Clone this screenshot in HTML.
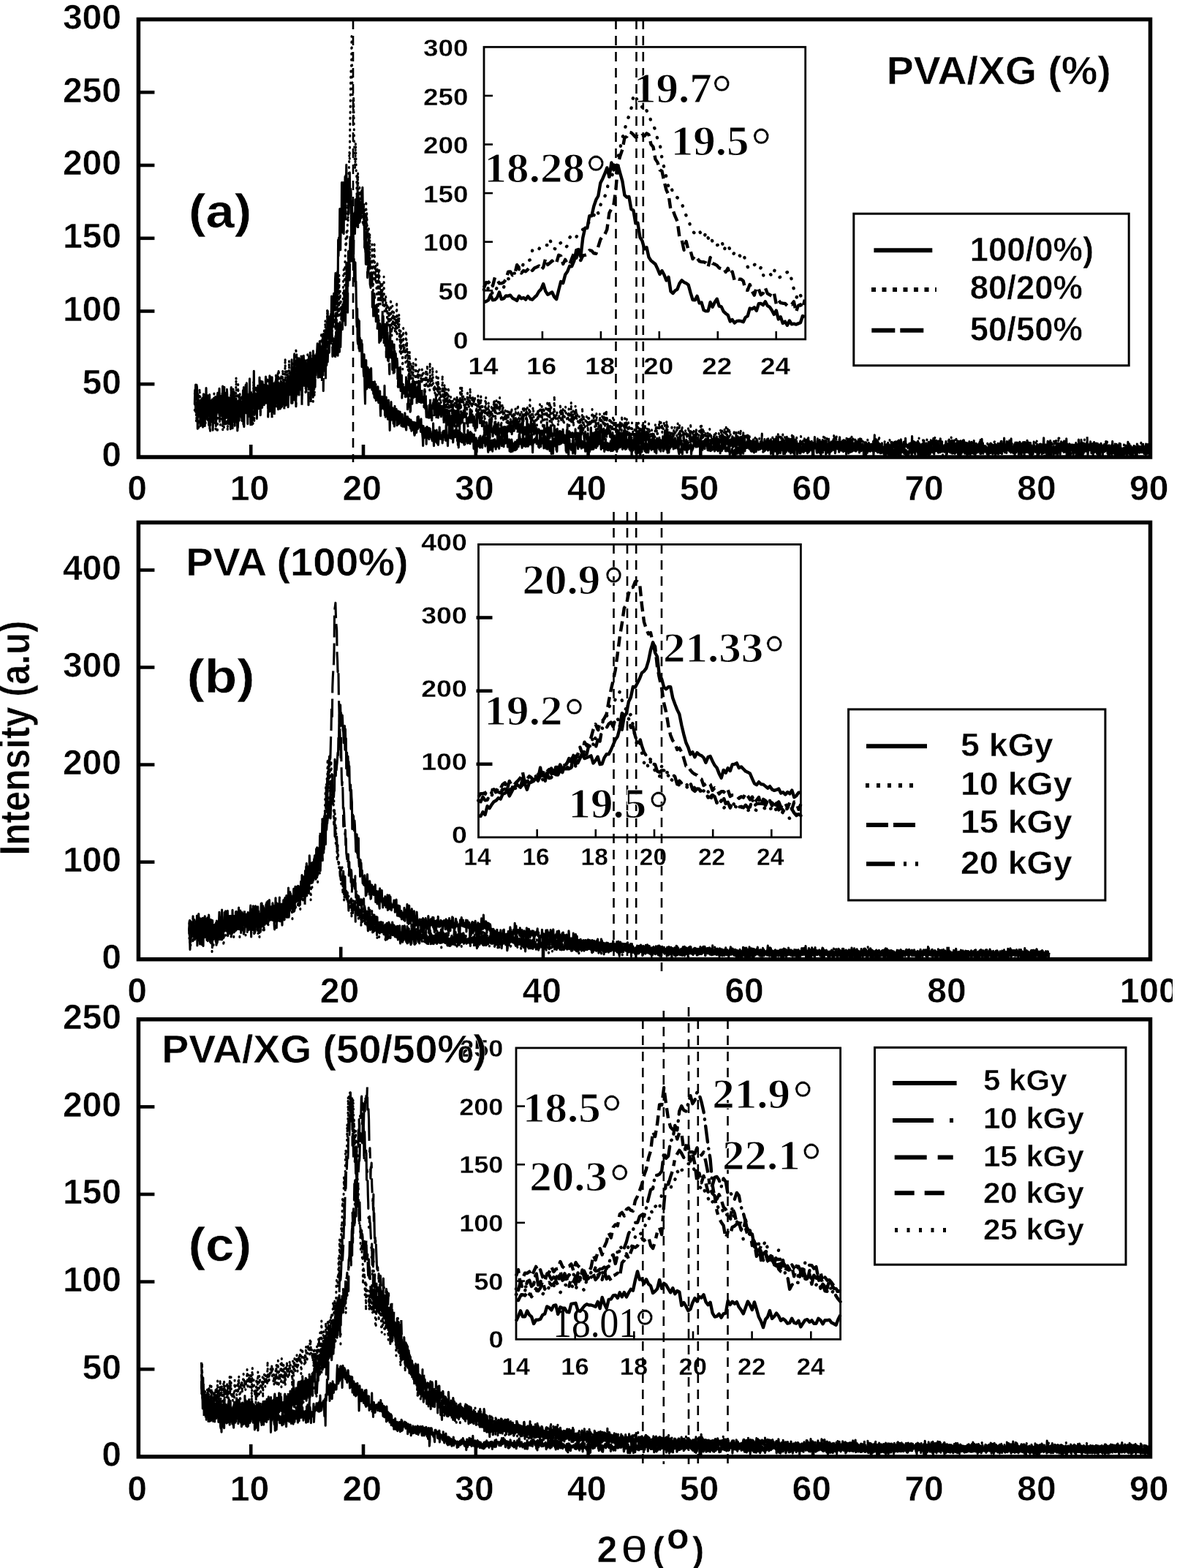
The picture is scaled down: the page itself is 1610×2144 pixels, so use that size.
<!DOCTYPE html>
<html><head><meta charset="utf-8"><title>XRD patterns</title>
<style>html,body{margin:0;padding:0;background:#fff;}svg{display:block;}text{stroke:#fff;stroke-width:0.5px;stroke-linejoin:round;}text.sf{stroke-width:1px;}text.th{stroke-width:0.3px;}text.ns{stroke:none;}</style>
</head><body><svg xmlns="http://www.w3.org/2000/svg" width="1610" height="2144" viewBox="0 0 1610 2144"><path d="M266.3 539.3l.4-3.3 .5 4.8 .4-14.8 .5 12.7 .4-3.2 .5-9.1 .4 2.3 .5 8.1 .4 16.4 .5 5.9 .4 2 .5-6.7 .4-3.8 .5 15.7 .4 3.4 .5-22.3 .4 35 .5-26.1 .4-9.1 .5 22.6 .4 2.2 .5-5.4 .4-22 .5 12.2 .4 27.1 .5-22.6 .4-22.4 .5 .4 .4 5.4 .5 13.3 .4 24.5 .5-30.9 .4 5.2 .5-3.9 .4-22.3 .5 20.7 .4-1.3 .5-4.8 .4 13.2 .5 6.3 .5 1.4 .4-22 .5 4.3 .4 15.1 .5-23.9 .4 14.6 .5 22.6 .4-28.2 .5 11 .4 17.3 .5-26.7 .4 12.4 .5 .5 .4-14.3 .5 39.5 .4-13.5 .5-12.7 .4-10.2 .5 12.3 .4 4 .5 .1 .4-13.9 .5-11.8 .4 29.1 .5 8.2 .4-25.5 .5 .7 .4 6.8 .5-21.6 .4-2.9 .5 18.7 .4-3.2 .5-12.7 .4 13.9 .5 13.5 .4-18.2 .5 11.7 .4-16.6 .5 11.8 .4-4 .5-9.4 .4 9.3 .5 7.4 .4 5.5 .5-37 .4 8.8 .5 36.1 .4-5.9 .5-22 .4 16.4 .5-7.9 .4-10.6 .5 9.7 .4 3.8 .5 5 .4-4.9 .5-6.2 .4-18 .5 9.3 .4 17.4 .5-14.9 .4 11 .5 21.9 .4-18.5 .5-14.7 .4 21.6 .5-20.7 .4 16.9 .5-4.5 .4 16.4 .5-44.1 .4 21.9 .5-7.6 .4 19.8 .5 13.7 .4-36.1 .5 26.1 .4-32 .5 24.8 .4-24.1 .5 32 .4 14.2 .5-33.2 .4 10.6 .5-.6 .4-14.1 .5 26.4 .4 5.7 .5-1.5 .4 7 .5 1.7 .4-7.2 .5-4.5 .4-7.2 .5 9.9 .4-14.8 .5-12.4 .4 12.8 .5-9.1 .4 17.5 .5-16.9 .4-3 .5 14.5 .4 11.4 .5-18.8 .4-3 .5-19.9 .4 24.2 .5-28.1 .4 53.9 .5-28.6 .4 2.1 .5-1.8 .4 1.7 .5-6.7 .4-22.9 .5 23.7 .4-18.2 .5 16.9 .4-3 .5 32.9 .4-33.2 .5-7.2 .4 22.8 .5-7.3 .4 2.9 .5-39.9 .4 40.8 .5-3.8 .4 26 .5-15.3 .4-23.8 .5 19.4 .4 19.4 .5-32.7 .4-5.2 .5-2.2 .4-1.3 .5 12.9 .4-44.6 .5 44.1 .4-12.8 .5 22.6 .4-8.2 .5 12 .4-22.4 .5 8.3 .4 8.2 .5 13.3 .4-32.9 .5-3.1 .4 .1 .5 12.3 .4-9.8 .5-2.7 .4 5.3 .5-11.8 .4 20.5 .5-4.8 .4 22.1 .5-46.6 .4 36.4 .5-14.1 .4-4.1 .5 18.2 .4-10.2 .5-9.7 .4 9.6 .5 2.2 .4-.3 .5 4.6 .4-7.3 .5-7.2 .4-1.5 .5-8.6 .4 12.9 .5 6.8 .4-17.8 .5 5.7 .4-8.8 .5 9.9 .4-5 .5 1.3 .4-4.9 .5 21.2 .4-11.8 .5-4.3 .4-20.3 .5 22.4 .4-7.4 .5 7.6 .4 23.6 .5-43.1 .4 6.8 .5-7.9 .4 33.1 .5-21.6 .4 1 .5 22.1 .4-26.3 .5 13.7 .4-14.2 .5 27.7 .4-10 .5-2 .4 10.7 .5-20 .4-15.8 .5 17.5 .4-7.8 .5-10.3 .4 12.6 .5 12.8 .4 20.7 .5-28.5 .4 9.6 .5 2.3 .4-14.7 .5 2.8 .4 27.7 .5-23.1 .4 7.5 .5-15.1 .4 11.4 .5-12.4 .4 20.5 .5-3.6 .4 1.6 .5-5.1 .4 .5 .5-19.1 .4 27.8 .5-14.4 .4 15.8 .5 3.1 .4-11.6 .5 11.5 .4-22.5 .5 11.4 .4-3.1 .5-13.4 .4-15 .5 26.8 .4 18.1 .5-21 .4-5.7 .5-15.6 .4 14.9 .5 10.6 .4-24.3 .5-2.6 .4 16.4 .5-6.6 .4-1.3 .5-29.7 .4 41.7 .5-2.7 .4-4.4 .5-11.1 .4 13.2 .5-11 .4-5.3 .5-14.4 .4 28.2 .5 2.1 .4 .3 .5 20.3 .4-9 .5-17.6 .4-.1 .5-32.5 .4 17.8 .5 6 .4-9.6 .5 27.9 .4-1.5 .5 1.8 .4-8.5 .5-31.7 .4 31.5 .5 4.1 .4-10.1 .5-11.6 .4 3.7 .5-6 .4 26.7 .5-5.4 .4-9.3 .5-5.1 .4-17.7 .5 34.8 .4-26 .5 11.4 .4-11.6 .5 17 .4 9.8 .5-34.8 .4 12.1 .5 30.2 .4-35.6 .5 23.2 .4-12 .5-1.1 .4 18.3 .5-33.2 .4 22.3 .5-29.3 .4 15.5 .5-.6 .4 3 .5-23.7 .4 40.4 .5-4 .4-2.4 .5-25.8 .4 .4 .5 12.2 .4-3.7 .5 25.3 .4-44.6 .5 22.4 .4-6.1 .5 4.7 .4-14.5 .5 11 .4-5.6 .5-.4 .4 7.7 .5 .9 .4-14.5 .5-.2 .4-5.2 .5-10.3 .4 37.9 .5 8.6 .4-20.4 .5-24 .4 18.6 .5 25.2 .4-49.2 .5 15.2 .4 28.3 .5-10.1 .4-14.2 .5 8.7 .4-7.1 .5-10.7 .4 6.2 .5-21.7 .4 21.8 .5-26.4 .4 29 .5 6.9 .4 12.1 .5-20.3 .4-16.3 .5-15.1 .5 64.2 .4-53.4 .5 12.1 .4-27.6 .5 16.7 .4-14.4 .5-25 .4 24.5 .5 2.9 .4-19.5 .5 9.3 .4 6.4 .5 20.9 .4-21.2 .5 19.5 .4-31.4 .5-7.6 .4 6.5 .5-30.7 .4 46.9 .5-27.3 .4 4.2 .5 18.2 .4-30.2 .5-7.9 .4-7.6 .5 19.2 .4-16.6 .5 19.3 .4-40.6 .5-9.1 .4 24.9 .5-5.2 .4 18.7 .5-24.6 .4 1.3 .5-17.4 .4 23.5 .5-67 .4 22.2 .5-24.9 .4 3.7 .5 7.9 .4-51 .5 9.4 .4 46.7 .5-34.4 .4 .1 .5 7.5 .4-65.4 .5 65.8 .4-61.2 .5 64 .4-68.5 .5 36.6 .4 33.4 .5-55.9 .4-6.6 .5 28 .4-43.5 .5 58.4 .4-60.2 .5 11.3 .4-25.8 .5 46.4 .4-27.2 .5 31.1 .4-29.7 .5 12.5 .4-11.3 .5 44.6 .4-36.6 .5 3.5 .4-22.8 .5 39.9 .4-1.9 .5-15.5 .4 4.4 .5 66.8 .4-40 .5-14.8 .4 34.3 .5 40.2 .4-18.7 .5 4.9 .4 28.3 .5-9.7 .4 30.5 .5-8.2 .4 3.6 .5-21.1 .4 33.3 .5-7.4 .4 25.7 .5 29.6 .4 7 .5-24.9 .4 43.5 .5 4.8 .4-33.9 .5 30.9 .4 9.2 .5-37.9 .4 41.3 .5-18.2 .4 12.8 .5 .8 .4 4.4 .5-10.7 .4-3.7 .5 36.2 .4-31.4 .5 26.3 .4 1.7 .5-9.2 .4 18.6 .5 7 .4-30 .5 29.3 .4 21.6 .5 16.5 .4-44.7 .5 7.5 .4-22.2 .5 37.5 .4 1.7 .5-14.4 .4-15 .5 .2 .4 17.7 .5 9.1 .4-8.5 .5-15.7 .4 19.9 .5 5.1 .4-9.8 .5 3.6 .4 1.6 .5-22.1 .4 16.8 .5 6.9 .4 5.9 .5-.4 .4-8.3 .5-1.9 .4 15.8 .5-.6 .4-2.2 .5 8.1 .4-21.8 .5 22.7 .4-10.8 .5-8.3 .4 22.2 .5-.6 .4-6.8 .5-6.1 .4 4.3 .5 2.2 .4-11.9 .5 20.1 .4 1.8 .5-13.3 .4 6.3 .5-8 .4-.7 .5 23.1 .4 10.8 .5-26.5 .4 6.7 .5-2.6 .4 12.6 .5-16.7 .4 10.9 .5-7.2 .4-3.1 .5 8.4 .4 2.5 .5 6.4 .4-32.8 .5 40.4 .4-19.7 .5 22.1 .4-6 .5-21.1 .4 21.3 .5-16.6 .4 14.5 .5-11.5 .4 22.5 .5-2.2 .4-24 .5 11.1 .4 13.3 .5-4.9 .4 21.9 .5-22.8 .4 9.6 .5-3.1 .4-22.7 .5 19 .4 .8 .5 4.6 .4-16.2 .5 1.2 .4 12.8 .5 7.6 .4-12.8 .5-2.8 .4 19.2 .5-27.7 .4 18.7 .5-8.6 .4 8.2 .5 .2 .4-14.4 .5 7.8 .4 14.7 .5-15.7 .4-3.5 .5 9.4 .4-10 .5 18 .4-15.4 .5 7 .4 1.1 .5-9.6 .4 6.4 .5 9 .4-6.4 .5 10.2 .4-9.6 .5-6.5 .4 1 .5 16 .4-3.8 .5-7.2 .4 .4 .5 10.8 .4-7.8 .5-1.5 .4-9.2 .5 10.3 .4 2.5 .5 8 .4 2.3 .5-18.2 .4 6.8 .5 4.2 .4-11 .5 4 .4 4.8 .5-6.2 .4 9.1 .5-8.4 .4 3 .5 6.6 .4 .2 .5 3 .4-11.9 .5 8.2 .4 7.1 .5-12.7 .4 2.2 .5 3.8 .4-1.1 .5 4.6 .4 1.8 .5-10.5 .4 14.8 .5 3.1 .4-1.5 .5-16.1 .4 14.2 .5-5.8 .4 3.3 .5 2.1 .4-6.2 .5-.3 .4-15 .5 16.5 .4-4.3 .5-12.6 .4 4.3 .5 5.8 .4-2 .5 6.8 .4-6 .5 4.1 .4 7.9 .5-17.8 .4 12.5 .5-3.8 .4 7.9 .5 5.2 .4 4.1 .5 11 .4-27.1 .5 16.7 .4-8.2 .5-3.5 .4 10.6 .5-6.5 .4-6 .5 4.6 .4-5.4 .5 22.5 .4-22.2 .5-1.6 .4 15.3 .5-14.2 .4 8.1 .5-.8 .4-5.2 .5 14.1 .4-15.5 .5 10.7 .4-10 .5 6.1 .4-2.2 .5 7.8 .4-5.1 .5 7.9 .4-2.9 .5 5.2 .4-8.6 .5 6.6 .4-22 .5 22 .4 9 .5-21.5 .4 10.2 .5-5.4 .4 3.1 .5 5.9 .4-1 .5 3.3 .4-16.4 .5 5.2 .4 13.1 .5-15.1 .4 2.7 .5 14.6 .4-5.4 .5-8 .4 .7 .5-11.7 .4 13.3 .5-6.3 .4 9.1 .5-2.6 .4-1 .5 .2 .4-2.1 .5 .5 .4 10.8 .5-15.4 .4 11.6 .5-13 .5 .9 .4-.6 .5 8.1 .4-5.9 .5-3 .4 7.9 .5 5.8 .4-20.6 .5 12.4 .4 1.5 .5 3.2 .4 1.4 .5 9.3 .4-10.2 .5 .1 .4-1.2 .5-17.6 .4 13.3 .5 2 .4-2.7 .5 5.6 .4-12.7 .5 .7 .4 12.8 .5-10.7 .4 1.8 .5-11.6 .4 8.9 .5 16.8 .4-6 .5-7.4 .4 1.6 .5-4.1 .4 8.8 .5-2.4 .4-7.4 .5 5.4 .4 4 .5-14.9 .4 15.4 .5-1.4 .4 6.4 .5-6.8 .4 12.4 .5-19.9 .4 23.3 .5-18.8 .4 10.8 .5-7.2 .4-6.9 .5 9.4 .4-2.8 .5 7.2 .4-1.8 .5-9.2 .4 12 .5-9.7 .4 4.2 .5 3.6 .4-8.2 .5 11.4 .4-7.7 .5 9.9 .4-6.4 .5 6.1 .4-8.7 .5-4.3 .4-.6 .5 3.4 .4 1.3 .5 4.1 .4-.4 .5 3.5 .4-17.8 .5 12.8 .4 .4 .5-1.6 .4 5.8 .5-14.5 .4 12.4 .5 3.2 .4-16.2 .5 3.4 .4 3.2 .5 6.7 .4-11.4 .5 8.4 .4-1.5 .5-5.2 .4 5.7 .5 3.6 .4 9.9 .5-19.3 .4 19.9 .5-8.6 .4 1 .5-2 .4-.7 .5-4.9 .4 4.8 .5 14.5 .4-15.9 .5 7.1 .4-4.2 .5 5.2 .4-6.4 .5 1 .4-6 .5 2.1 .4-2.8 .5 14.1 .4-16.3 .5 10.9 .4-5.3 .5-1.3 .4-.5 .5 5.1 .4 7.2 .5-12.8 .4-2.6 .5 .4 .4 .2 .5-2.7 .4 3.9 .5 7.6 .4-6.4 .5 10.5 .4-5.9 .5-.8 .4-5.5 .5 8.2 .4-.3 .5 2 .4-5.6 .5 12.7 .4 3.2 .5-21.8 .4 2.7 .5 3.4 .4 1.9 .5 5.6 .4 5.3 .5-10.7 .4 8.9 .5-11.5 .4 3.9 .5 9.3 .4-9.3 .5 11.2 .4-5.9 .5-9.4 .4 9.1 .5-2.5 .4 1.8 .5-.8 .4-8.5 .5 2.6 .4-.5 .5 11.1 .4-7.3 .5 2.7 .4-5.1 .5 6.2 .4-11.1 .5-9.5 .4 13.9 .5 3.8 .4-7.5 .5 13.3 .4-6 .5-7.7 .4 6.8 .5-1.9 .4-7.7 .5 6.2 .4-1.9 .5 8.5 .4-17 .5 13.7 .4-4.6 .5 2 .4 .7 .5 6.4 .4-5.4 .5-2.1 .4-7.1 .5 6.6 .4 3.1 .5-3.5 .4 .1 .5 1.5 .4-1.9 .5-7.3 .4 8.9 .5 7.2 .4-3.8 .5-1 .4 2.7 .5-4.4 .4-3.8 .5 16.1 .4-4.1 .5-2.9 .4-5.5 .5 13.6 .4-14.6 .5-2.3 .4 2.2 .5 5.4 .4 8.6 .5-4 .4 1 .5-3.9 .4-4.2 .5 1.8 .4 7.7 .5-10.1 .4-1.4 .5 11.2 .4-.4 .5-3 .4-4.7 .5 6.7 .4-12.2 .5 4.9 .4-4 .5 6.9 .4 1.2 .5-7.3 .4-9.2 .5 6.4 .4-3.4 .5 9.3 .4 .5 .5-3.1 .4-3.4 .5 3 .4 6.6 .5 2.1 .4-9.6 .5 2.4 .4-15.2 .5 17.7 .4 2.1 .5-8.6 .4 5.5 .5-1.7 .4-5 .5 10.7 .4-2.7 .5 1 .4 .2 .5-.1 .4-2.1 .5-8.8 .4 7.9 .5 4.3 .4-4.8 .5 2.6 .4-4.3 .5 .5 .4 3.5 .5-2.8 .4-4.9 .5-4.2 .4 7.2 .5-7.9 .4 1.4 .5 12.3 .4-4.4 .5 14.2 .4-11.5 .5-4.4 .4 3.3 .5-4.8 .4 2.3 .5-3.6 .4 4.5 .5-4.6 .4 1.7 .5-.4 .4-3.4 .5 9.1 .4-13.2 .5 9.6 .4-1.6 .5 3 .4 1.4 .5 5.1 .4-4.3 .5 5.2 .4-.6 .5-14.4 .4 8 .5 1.6 .4 3.8 .5-5.1 .4-.1 .5-3.3 .4 3.9 .5-1.7 .4-5.5 .5 3.4 .4-2.9 .5 13.8 .4-7.1 .5-7.8 .4 5.2 .5-6.8 .4 8.8 .5-7.6 .4 15.5 .5-5.7 .4-4.8 .5 7 .4 4.6 .5-14.6 .4-4.7 .5 7.8 .4 8.7 .5-6.4 .4 7.1 .5 4.2 .4-13.4 .5 .4 .4 2.7 .5 7.5 .4 6.8 .5-16 .4 3.6 .5-5.5 .4 13.7 .5 4.1 .4-17.1 .5-3.2 .4 2.4 .5 2.1 .4 2.3 .5-2.8 .4 6.2 .5-14.5 .4 2.5 .5 17.1 .4-15.9 .5 18 .4-13.9 .5 3 .4-9.8 .5 6.8 .4 1.5 .5-7.7 .4 10.3 .5-.1 .4-11.3 .5 4.6 .4 1.8 .5 4 .5-2.3 .4 1.4 .5-3.4 .4 .9 .5 1.8 .4-.2 .5-7.8 .4 4.5 .5 1.5 .4 2.7 .5-1.9 .4 1.9 .5-1.1 .4-1 .5 5.7 .4 .4 .5 9.1 .4-6.3 .5-6.1 .4-9.7 .5-.1 .4 12.1 .5 14.4 .4-16.5 .5-.3 .4-5.2 .5 11.5 .4-2.4 .5 0 .4-1.3 .5 6.4 .4-8.2 .5 5.4 .4-4.3 .5 1 .4 10.8 .5-12.7 .4 7.1 .5-1.1 .4-.6 .5 1.7 .4-6 .5 12 .4-10.4 .5-4.3 .4-1.6 .5-3.8 .4-.5 .5 .2 .4 6 .5 3 .4 4.8 .5-5.6 .4-3.2 .5 2.6 .4 3.1 .5-8.9 .4-4.5 .5 11.1 .4-7.6 .5 4.2 .4 8.2 .5-5.1 .4 4.2 .5-8.9 .4 .3 .5 4 .4 4.2 .5-3.8 .4 .9 .5-4.3 .4 .5 .5 1.9 .4 10.2 .5-9.5 .4-2 .5 7.2 .4 2.8 .5-8.5 .4 9.8 .5-3.4 .4-1.2 .5 3.4 .4 4.6 .5-18.4 .4 10.4 .5 5.2 .4-15.9 .5 7.9 .4-6.3 .5-1 .4 12.2 .5-8.3 .4-.4 .5 8 .4 .2 .5-10.4 .4 4.3 .5 6.2 .4-1.6 .5-4.2 .4 3.3 .5-13.3 .4-1.7 .5 6.4 .4 6.4 .5 2.9 .4-3 .5-14.9 .4 4.6 .5 10.9 .4-2.5 .5-7.2 .4 6.9 .5 .1 .4-4.7 .5-1.8 .4 4 .5-10.8 .4 10.5 .5 2.1 .4 7.8 .5-3.5 .4-4.7 .5 .7 .4 5.9 .5-20.3 .4 11.2 .5 1.3 .4 2.6 .5 .4 .4 9.4 .5-10.1 .4 5.7 .5 1.8 .4-14.5 .5 8.2 .4-1.3 .5 2.5 .4 1.9 .5 3.8 .4-9.6 .5 8.8 .4 1.1 .5 0 .4-7.7 .5-.6 .4-1 .5 4 .4 .1 .5-7.2 .4 13.4 .5-10.5 .4 2.3 .5 3.1 .4 1.7 .5 3.2 .4-.4 .5-1.8 .4-4.1 .5-11.9 .4 13.1 .5-2.5 .4 1.2 .5 4.7 .4-2.5 .5-12 .4 7.1 .5 7.4 .4 2.7 .5-16.7 .4 8.1 .5 5 .4-10.3 .5 4.9 .4 2 .5-2.8 .4-7 .5 11.3 .4-8.4 .5 3.2 .4 3.3 .5-10.1 .4 9.2 .5-2.4 .4 3.2 .5 4.1 .4-7.8 .5 6.8 .4-13.6 .5 1.1 .4 10.4 .5 .2 .4 1.3 .5-12.3 .4 14.2 .5-.2 .4-.6 .5-.1 .4-11.3 .5 9.2 .4-2.6 .5 2.1 .4 .1 .5-10.2 .4 1.1 .5 6.4 .4 5.9 .5-14.2 .4 10.9 .5 5.1 .4-.4 .5-4.1 .4-3.1 .5 16.6 .4-15 .5 2.1 .4-3 .5 6.8 .4-9.1 .5 7 .4-7.8 .5-5.9 .4 9.9 .5-.5 .4 .2 .5 9.6 .4-10.3 .5 9.5 .4 4.9 .5-11.8 .4-3.5 .5 7.4 .4 3.9 .5-14.4 .4 14.3 .5-12.8 .4 6.6 .5 4.1 .4-6.6 .5 13.4 .4-8.2 .5-3.3 .4 .5 .5-6.8 .4 11.7 .5-7.5 .4 3.6 .5-4.4 .4 1.8 .5-3.4 .4 6 .5-7.3 .4 6.7 .5 3.5 .4-3.8 .5-.5 .4-6.7 .5 12.7 .4-5.7 .5 5.9 .4-10.6 .5 .1 .4 .9 .5 9.6 .4-1.8 .5-4.9 .4-2.4 .5-1.9 .4 5.5 .5-3.2 .4 2.2 .5 .5 .4-.9 .5 3.3 .4-9.8 .5-2.2 .4 3.8 .5 4.8 .4-9.1 .5 11.5 .4-10 .5 .9 .4-1.1 .5 14 .4-9.8 .5 4 .4-6 .5 2.8 .4 10.9 .5-13.1 .4-5.5 .5 6.2 .4-1.5 .5 2.7 .4-1.8 .5 4.9 .4-10.4 .5-3.1 .4 14.3 .5-5.7 .4 4.2 .5-9.4 .4 6.6 .5-2.8 .4 4.9 .5-5.9 .4 1.6 .5 2.1 .4-.9 .5 9.6 .4-10.7 .5 8.8 .4-1.9 .5-2.8 .4-3.1 .5-.7 .4 2.9 .5 .3 .4-2.1 .5 7.2 .4-3.9 .5 3.4 .4 4.9 .5-2.6 .4-10.4 .5 7.8 .4 4.9 .5-8 .4 2.9 .5-.7 .4-.8 .5-3 .4 .2 .5 1.6 .4-1.8 .5 1.2 .4-2.2 .5-1.8 .4 3.5 .5-9.5 .4 13.5 .5-2.3 .4-1.5 .5-7.1 .4 1.5 .5 2.9 .4 5.4 .5-5.5 .4 2.4 .5 1.3 .4-6.7 .5-1.1 .4 5.7 .5 4.7 .4-3.7 .5 6 .4 2.7 .5 2 .5-6.7 .4 .6 .5 2.3 .4-.9 .5-.8 .4 3.4 .5-6.5 .4-5.7 .5 8.1 .4 6.5 .5-7.6 .4-1.5 .5-2.2 .4-2.3 .5 .9 .4-1.6 .5 4.8 .4-2.2 .5 4.5 .4-1.1 .5-5.9 .4 4.5 .5 5.5 .4 2.2 .5-11.8 .4 5 .5 .9 .4 1.4 .5-5.2 .4 2.4 .5 1 .4 .4 .5-.3 .4-4.6 .5 3.4 .4-4.9 .5 14.5 .4-5.3 .5-6.9 .4 6.9 .5-2.6 .4 .5 .5-2.4 .4-1.3 .5-7.7 .4 3.9 .5 3.2 .4-2 .5-.5 .4 2 .5 2.2 .4-5.1 .5-1.3 .4 5.6 .5-2.7 .4-2.7 .5 0 .4-5.9 .5 8.5 .4 2 .5-5.2 .4 6.6 .5-3.3 .4 7.5 .5-10.1 .4-8 .5 12.1 .4 0 .5-3.9 .4-1.6 .5 11.6 .4-5.9 .5-1.4 .4 .5 .5-1 .4 2 .5 .4 .4 3.8 .5-12.3 .4 7.3 .5-4.9 .4 5.3 .5-.8 .4 1.1 .5-3.1 .4 2.4 .5 7 .4-18.1 .5 10.7 .4 4.1 .5 3.6 .4-2.9 .5-2.3 .4 3.1 .5-6.4 .4 9.2 .5-6.9 .4-.4 .5 5.7 .4 .3 .5-.8 .4-4.1 .5 2.3 .4 .2 .5-2.7 .4-3.7 .5 7.8 .4 2.5 .5-4.3 .4 0 .5-5.8 .4 1.5 .5 3.1 .4 3.8 .5-8.8 .4 8.1 .5-4.6 .4-.3 .5-1.7 .4 6.7 .5-9.8 .4 2.5 .5 5.5 .4-.3 .5 7.3 .4-9.4 .5-1.1 .4 6.2 .5-3.7 .4 4.7 .5-15.6 .4 13.5 .5-2.9 .4-1.9 .5 3.8 .4-3.4 .5-2.1 .4-4.8 .5 3.9 .4-4.9 .5 14.7 .4-1.6 .5 1.7 .4-4.6 .5 2.2 .4 0 .5-2.1 .4-.7 .5 5.2 .4-4.2 .5 1 .4 .9 .5-5.9 .4 13.2 .5-5.2 .4 .6 .5-.1 .4 .3 .5 1.5 .4-.4 .5-4.7 .4 .5 .5 7.8 .4 2.6 .5-5 .4 4.7 .5-8.2 .4-.2 .5 8.9 .4-10.1 .5 2.7 .4 4 .5-9.4 .4-5.2 .5 9.8 .4-1.8 .5 5.2 .4-6.5 .5 3.4 .4-4.7 .5 3.2 .4-2.3 .5 3.3 .4 3.6 .5-7.9 .4-6.1 .5 17.4 .4-11.5 .5 5.3 .4 1.6 .5-7.1 .4 1.3 .5-1.4 .4-1.1 .5 9.5 .4-14.6 .5 .5 .4 8.3 .5-2.6 .4 5 .5-6.2 .4 .6 .5-.7 .4 2 .5-3.4 .4 2 .5 1.2 .4-1.9 .5-1.4 .4-.2 .5 1.3 .4-4 .5 7.5 .4-6.9 .5 7.5 .4-.2 .5 .1 .4-5.2 .5 5.8 .4 2.6 .5-6 .4 5.3 .5-2.2 .4-.8 .5-.4 .4-4 .5 4.9 .4 4.8 .5-9 .4 6.4 .5 1.3 .4-3.4 .5-5.1 .4 8.5 .5-2.8 .4-7.8 .5-3.5 .4 6.8 .5-3.8 .4 2.4 .5 .8 .4 3.9 .5-4.9 .4 2.8 .5-1.3 .4-1.4 .5-.8 .4 5.2 .5-1.5 .4-4.9 .5-3.7 .4 6.7 .5-2.7 .4 .2 .5 5.5 .4-4.9 .5 6.3 .4 2.9 .5-3.1 .4-3.9 .5 5.2 .4-6.7 .5 6.4 .4-5.2 .5 3.2 .4-6.5 .5 7 .4-1 .5-.1 .4 3.6 .5-6.1 .4 5.3 .5-.2 .4-2.1 .5 0 .4-7.5 .5 7.7 .4-7.5 .5 14.9 .4-12 .5 3.6 .4-8.2 .5 12.2 .4-4.3 .5-.4 .4 10.5 .5-9.3 .4-12 .5 11.4 .4-3 .5 4.1 .4-6.5 .5 9.3 .4 1.2 .5-7.3 .4 8.5 .5-5.3 .4 8.5 .5-10.7 .4 4.6 .5-2.2 .4-.2 .5-.7 .4 3 .5 .5 .4-5.8 .5-1.5 .4 11 .5-3.4 .4-1.3 .5 .9 .4-6.8 .5 4 .4 1.1 .5-2.9 .4-4.2 .5 13.8 .4-10.5 .5 2.9 .4 .7 .5-1.3 .4 7.9 .5-7.8 .4-1.7 .5 3.1 .4 3.7 .5-2.1 .4-5.9 .5-3.5 .4 6.8 .5-2.6 .4-2.1 .5 4 .4 5.2 .5-4.9 .4-5.6 .5 9.7 .4-.6 .5 3.2 .4-5.4 .5 4.6 .4-7.2 .5-.1 .4 5.8 .5-.9 .4-1.4 .5 4.6 .4-2.1 .5-9.7 .4 7.3 .5 10.2 .4-15.7 .5 5.2 .4 .1 .5-6 .4 .3 .5 .7 .5-.9 .4 12.6 .5-10.8 .4 6.2 .5-2.2 .4-4.9 .5 .2 .4 2.6 .5 3.6 .4-6.9 .5 6 .4-2.3 .5-.2 .4-.8 .5 5.8 .4-6.9 .5 .8 .4 4.2 .5-3.8 .4-3.5 .5 10.1 .4-4.3 .5 2.9 .4-1.5 .5-5.5 .4 4.7 .5 1.4 .4-7.4 .5 2.2 .4-1.4 .5-6.1 .4 10.4 .5 5.8 .4-15.8 .5 8.3 .4-1 .5-2.7 .4 .8 .5 7.2 .4-1.1 .5 0 .4-1.5 .5-3.2 .4-2.3 .5-.3 .4 6.5 .5-3.7 .4 2.6 .5-1.1 .4-4.7 .5 2.4 .4 4.5 .5-5.8 .4 .3 .5 .3 .4 1.9 .5-.2 .4-3.6 .5 5.4 .4-2.6 .5 4.5 .4-5.4 .5-2.4 .4 6.4 .5-1.2 .4 .2 .5 1.8 .4-6.7 .5 5.9 .4 5.9 .5-8.8 .4 6.4 .5-5.9 .4 12.4 .5-12.9 .4 8.5 .5-2.7 .4-2.4 .5-1.3 .4 6.3 .5-7.1 .4-.8 .5 3 .4-.6 .5-4.7 .4 6.6 .5-4.7 .4 1.2 .5 .9 .4 2.3 .5 1.7 .4-6.6 .5-.7 .4-.7 .5 3.8 .4-1.6 .5 .6 .4-1.1 .5 2.1 .4-5.6 .5 6.9 .4 3.3 .5-4.7 .4 1 .5-9.3 .4 10.3 .5 1.7 .4-8.9 .5-2.7 .4-1.3 .5 11 .4 .4 .5-14.4 .4 11.7 .5 3.8 .4-7.6 .5 11.5 .4-1.1 .5-6.6 .4-3.5 .5 2.4 .4-1.6 .5-3.1 .4-2.2 .5 10 .4-.3 .5-4 .4 3.1 .5 1.4 .4-2.4 .5 3.6 .4-5 .5-2.5 .4 3.8 .5 1.6 .4 3 .5-1.9 .4 .2 .5-10.1 .4-1.8 .5 9.6 .4-2.5 .5-7.5 .4 12.3 .5-12.3 .4 10.8 .5 1.5 .4-12.2 .5 11.2 .4-3.3 .5-2 .4 3.7 .5 4.4 .4-1.9 .5-4.7 .4-2.6 .5 3.6 .4 9.2 .5-8.1 .4 4.5 .5-7.5 .4 1.8 .5 5.8 .4 1.9 .5-1.6 .4-3.1 .5-2 .4 5.9 .5-3.3 .4-6.2 .5 0 .4 8.3 .5-9.7 .4 1.9 .5 3 .4-2.3 .5 6.8 .4-4.5 .5-1.2 .4-1.1 .5 6 .4-8.6 .5 4.4 .4 4.2 .5-11.1 .4 .9 .5 5.4 .4 2.7 .5-3.9 .4 6.3 .5 3.5 .4-15.5 .5-3.6 .4 8.6 .5 1.5 .4 4.5 .5 2.1 .4-.5 .5-6.8 .4 3.3 .5 .3 .4-3.3 .5 4.5 .4-5.1 .5 14.5 .4-10 .5-4.4 .4-3.1 .5 4.5 .4-1.3 .5 13.8 .4-12.1 .5 1.7 .4 4.5 .5-4.6 .4-.1 .5 1.4 .4-3.8 .5-3.4 .4 2.7 .5 .1 .4 6.3 .5-5.5 .4 1.1 .5-.9 .4-2.9 .5 3.8 .4 4.4 .5-6.4 .4 5.3 .5-1.6 .4 .4 .5-1.2 .4 10 .5-6.3 .4-3.3 .5 0 .4 .8 .5-1.2 .4-.8 .5 5.3 .4-9.8 .5 6.8 .4-1.1 .5 1.4 .4 4.7 .5 0 .4-4.3 .5-6.8 .4 10.5 .5-5 .4 5.6 .5-4.5 .4 4.5 .5 1.1 .4 0 .5-1.4 .4-2.5 .5 1.4 .4 1.8 .5-5 .4 .3 .5 2.5 .4-3 .5 3.1 .4 4.5 .5-9.2 .4 5.8 .5 .5 .4-9.5 .5 13.9 .4-2.3 .5-.4 .4-7.6 .5 1.3 .4 .3 .5 5.6 .4-.4 .5 1.7 .4-7.6 .5 6.9 .4-1.5 .5 3.6 .4-8.1 .5 2.9 .4-7.4 .5 3.9 .4 5.5 .5 2.9 .4-1.1 .5-5.8 .4 2 .5 .1 .4-2.2 .5 6.6 .4 .1 .5-3.1 .4-.4 .5 3.8 .4-10.7 .5 6.8 .4 5.1 .5-7.4 .4-2.5 .5-6.4 .4 11.6 .5-2.4 .4 4.7 .5-.6 .4 4.5 .5-6.5 .4-2.4 .5 7.3 .4-10.2 .5-8.8 .4 20.2 .5-8.5 .4 2.8 .5-1.9 .4 .6 .5-8 .4 5.6 .5 0 .4-4.6 .5 6.8 .4-7.5 .5 10.6 .4-.3 .5-3.9 .4 2 .5-.2 .4 1.3 .5 5.6 .4-9.1 .5 3.9 .4-2.4 .5 2.7 .4-2.4 .5 7.3 .4-3.5 .5-.6 .4-1.8 .5-4.8 .4 2 .5-4 .4-.1 .5 6.6 .4-5.8 .5 2.2 .4 9.4 .5-6.7 .4-6.9 .5-1.9 .4 8 .5 1.6 .4-5.1 .5 1.7 .4 .9 .5-2.7 .5 7.6 .4-9.5 .5-1.8 .4 4.7 .5 2.7 .4-4.5 .5-1.4 .4 3.8 .5-2.6 .4 5.9 .5 4.2 .4-11.1 .5 2.2 .4-.5 .5 10.2 .4-5.6 .5-4.7 .4 9 .5-3.4 .4 3.7 .5-8.1 .4 2 .5-3.5 .4 12.2 .5-6.1 .4 2.6 .5-10.4 .4 6.8 .5 1.1 .4 1 .5 2.3 .4 .2 .5-2.2 .4-3.2 .5 4.9 .4-9.4 .5 4.2 .4 .8 .5-3.3 .4 3 .5 4.3 .4-13.5 .5 16.9 .4-8.4 .5-2.8 .4 1.3 .5 5.4 .4-2.8 .5 .2 .4-1.6 .5 .2 .4-4.7 .5 4.3 .4 2.5 .5-6.1 .4-.6 .5-3.5 .4 11.1 .5-3.4 .4 2 .5-3.9 .4 2.8 .5-6.2 .4 3.4 .5 2.2 .4-4.4 .5 2.2 .4-2.2 .5-6.3 .4 11.8 .5-.4 .4 2 .5-7 .4 1.1 .5 1.5 .4-1.5 .5 5.5 .4-6.8 .5 4.3 .4-3.8 .5 4.9 .4-3.1 .5 3.6 .4-5.9 .5 1 .4 1.8 .5-1.7 .4 2.7 .5 1.3 .4-8.3 .5 1.6 .4 .3 .5 2.6 .4-2.5 .5-7.1 .4 19 .5-11.2 .4-1.6 .5 6.2 .4-2 .5-.6 .4-5.5 .5 7.9 .4-1 .5-6.1 .4 4.4 .5 4.5 .4 1.4 .5-12.9 .4 6.5 .5-1.7 .4 3.3 .5-.7 .4 6.6 .5-10.7 .4 10.3 .5 0 .4-1.1 .5-6.4 .4 4.3 .5-7.8 .4 11.7 .5-9.5 .4 5.6 .5 2.5 .4-3.1 .5-2.3 .4 4.5 .5-5.7 .4 3 .5 .2 .4 6.1 .5-2.4 .4 2.9 .5-3.6 .4-4.3 .5-2.1 .4 10.1 .5 1.5 .4-8.7 .5 2.1 .4 3.1 .5-7.5 .4 5.8 .5-.2 .4-1.8 .5-.3 .4-7 .5 5.2 .4-2.3 .5 5.1 .4 2.8 .5-11.8 .4-1 .5 9.3 .4 3.4 .5 .8 .4-3.2 .5 4.5 .4-13.4 .5 13.1 .4-9 .5 3.1 .4 4.9 .5-4 .4-4.9 .5 7.1 .4-4.5 .5 7.4 .4-3.8 .5 0 .4-.8 .5-7.7 .4 9.5 .5 .4 .4-1.5 .5 1.9 .4-4.6 .5-4.8 .4-8 .5 9.4 .4 6.5 .5-9.4 .4 14.3 .5-16.5 .4 12.9 .5-1.8 .4 .7 .5-5.4 .4 5.5 .5-4.4 .4-.8 .5 2.8 .4-2.4 .5 2.7 .4-10.3 .5 4.8 .4 2.4 .5 6.8 .4-7.1 .5 6.1 .4-1.3 .5-9 .4 5.5 .5 4.7 .4-8.9 .5-4.6 .4 14.6 .5-3.6 .4-1.3 .5-3.3 .4 4.3 .5 .7 .4 .4 .5-6.5 .4 5.9 .5-5 .4 6.3 .5-3.9 .4 5.8 .5-2.5 .4-3.9 .5 0 .4 1.9 .5-7.3 .4-.3 .5 6.1 .4 3.9 .5-1 .4-.7 .5-2.9 .4-1.4 .5-2.8 .4 2.1 .5-3.2 .4 6.9 .5 6.1 .4-4.6 .5-4.2 .4-3.6 .5 6.3 .4-3.7 .5 2.8 .4-7 .5 17.9 .4-6 .5-2.3 .4-3.8 .5 3.4 .4 2.1 .5-2.3 .4-2 .5 2.6 .4 4.4 .5-3.9 .4 1 .5-7.2 .4 5.7 .5-4 .4-.4 .5 2.7 .4-3.4 .5-.6 .4-7.8 .5 12.4 .4-3.8 .5-3.3 .4 4.8 .5 .3 .4-1.3 .5-5.4 .4-7.9 .5 15.2 .4 4.6 .5-9.9 .4 6 .5 1.8 .4-1.4 .5 4.1 .4-15.9 .5 .7 .4 1.5 .5 1.1 .4 2.8 .5 3.6 .4 2.5 .5-6.4 .4-7.1 .5 1.1 .4 8.7 .5-5 .4 5.1 .5-5 .4 5.6 .5 3.5 .4 1.8 .5-7.2 .4-.7 .5 3 .4 5.1 .5 .3 .4-.9 .5-10.1 .4 15.1 .5-7.2 .4 .4 .5-1.4 .4 3.9 .5-7.8 .4 3.2 .5 2.5 .4-1.2 .5 .2 .4-1.2 .5 3.7 .4 4 .5-3.9 .4-5.2 .5 4.7 .4 2 .5-8.9 .4 10 .5-9 .4 13.3 .5-11.2 .4-7 .5 4.8 .4 6.9 .5-2.5 .4-2.2 .5-.9 .4 2.4 .5 9.8 .4-11.1 .5 1.5 .4 3 .5-2.4 .4 2.5 .5-12.5 .4 12.4 .5-10.5 .4-5.5 .5 11.7 .4-4.7 .5 9.7 .4-13.8 .5 9.9 .4-2 .5-.1 .4 8.7 .5-4.9 .4-7 .5 4 .4-2.1 .5 8.8 .4-.1 .5-7 .5 1.6 .4 1.7 .5-.4 .4 2.1 .5-6.2 .4 5.5 .5-2.8 .4 .3 .5 1.2 .4-3.5 .5 5.6 .4-2.7 .5-5.1 .4 5.2 .5-8.2 .4 10.9 .5-2.8 .4 .6 .5 .4 .4-5.5 .5 9 .4-2.2 .5-10.6 .4 6.9 .5-7.2 .4 11.2 .5-10.6 .4 7.1 .5-.8 .4-4.7 .5 5.1 .4 4.6 .5-7.7 .4 8.1 .5-5.8 .4-2.2 .5-.1 .4 4.2 .5-4.7 .4 2.5 .5-.8 .4 5 .5-.5 .4 5 .5-5.5 .4 .7 .5-7.7 .4 3.3 .5 4 .4 5.2 .5-9.8 .4 9.5 .5-5.3 .4-2 .5 1.5 .4 6.7 .5-.6 .4 1.6 .5-5.7 .4-4.1 .5 3 .4-1.8 .5-3.8 .4 5.7 .5 1 .4 .2 .5 .9 .4-.3 .5 1 .4-5 .5 5.6 .4-3.7 .5-4.7 .4 1.6 .5-4.9 .4 10.5 .5-4.4 .4 4.8 .5-3 .4-6.3 .5 6.9 .4-2.1 .5-4.2 .4 1.1 .5 9.6 .4-5.6 .5-7.8 .4-1.8 .5 5 .4-6.8 .5 5 .4 2.1 .5 2.8 .4-1.8 .5-.4 .4 6.3 .5-5.6 .4-1.4 .5-.4 .4 2.6 .5-10.3 .4 14.6 .5-2 .4-16.3 .5 13.6 .4-3.5 .5 3.4 .4 2 .5-1.2 .4-.2 .5 4.5 .4-9.1 .5 1.1 .4 3.8 .5-2.4 .4-3.3 .5 2.4 .4 .5 .5-1 .4-.4 .5 3.4 .4-4 .5 .6 .4 10.3 .5-3.3 .4-5.5 .5 2.3 .4 1.5 .5 3.7 .4-10.3 .5 8 .4-.3 .5-2.2 .4 10.6 .5-15.2 .4 6.7 .5-.3 .4 2.3 .5-4.7 .4 9.1 .5-3 .4-8.8 .5 6.6 .4 7.4 .5-7.7 .4 4.2 .5 1.1 .4-8.2 .5 4.9 .4-8.9 .5 10.1 .4-5.6 .5 7.7 .4-.1 .5-8.1 .4 5.6 .5-4.7 .4 .9 .5-2.6 .4 3.2 .5 .3 .4-1.5 .5-1.4 .4-.1 .5 3.2 .4-8.8 .5 9.5 .4-1.2 .5 6 .4-5.9 .5-2.8 .4-3.2 .5 2.3 .4-4.3 .5 1.4 .4 5.3 .5-11.5 .4 4.2 .5-.2 .4 11.7 .5-9 .4 8.7 .5-6.6 .4-6.1 .5 17.3 .4-10.5 .5-3.1 .4 7 .5-.2 .4 .9 .5-5.1 .4-.6 .5-2.3 .4 6.1 .5-7.8 .4 10.9 .5 1.2 .4-1.5 .5 2.6 .4-2.1 .5-2.8 .4-3.6 .5-1 .4 1.9 .5-1.2 .4 9.2 .5-7.4 .4-7.2 .5 10.1 .4-2.5 .5 .5 .4-2.6 .5 1.1 .4 10.1 .5-6.9 .4 .6 .5-4 .4 4.3 .5-.3 .4-4.1 .5-1.1 .4-4.4 .5 8.6 .4-13.1 .5 9.2 .4-6.2 .5 5.6 .4 2 .5-4.1 .4 3.4 .5-3.9 .4 6.5 .5 1.6 .4-8.8 .5 13.3 .4-10 .5 5.5 .4-5.7 .5 3.4 .4 1 .5-.6 .4 1.5 .5-6.7 .4 2.8 .5 5.8 .4-.1 .5-9.3 .4 7.2 .5-3.7 .4 4 .5 .3 .4 4.2 .5-8.9 .4-.6 .5 9.9 .4-6.8 .5-3.5 .4 5.3 .5 2.2 .4 2.1 .5-8.4 .4 4.6 .5-1.6 .4 4.9 .5 3.7 .4-2.3 .5-2.7 .4-3.4 .5-3.5 .4 2.9 .5 1.8 .4-2.2 .5 3.9 .4-3 .5 5 .4-5.7 .5 6.3 .4-2.7 .5-2.2 .4-1.8 .5 1.1 .4-.4 .5-1.4 .4 1.2 .5-1.9 .4 1.1 .5 .5 .4 7.8 .5-12.4 .4 5.8 .5 2.4 .4-7.4 .5 3.4 .4 4.4 .5-2.1 .4-3.1 .5 2.2 .4-5.2 .5 4.2 .4 9.4 .5-13.6 .4 9.8 .5 3.2 .4-5.4 .5-5.3 .4 7.7 .5-3.1 .4-6.7 .5-1.7 .4 2.1 .5 5.4 .4-3 .5-3.8 .4 4.5 .5-3.5 .4 2.5 .5 8.9 .4-5.3 .5-6.3 .4 5 .5 2.3 .4-6.4 .5 5.1 .4-7.1 .5 7.8 .4-4.9 .5 4.4 .4-5.9 .5 6.6 .4-2.6 .5 2.4 .4-3.4 .5 1.9 .4-2.3 .5 2.8 .4 1.3 .5-5.9 .4 2.7 .5-3.2 .4 8.7 .5-9.5 .4 5.8 .5 1.1 .4 3.2 .5 .8 .4-6 .5-2.1 .4 2.4 .5-2.4 .4 6.7 .5-4.9 .4 1.4 .5-6.4 .4 9.7 .5-.2 .4-5.2 .5-.3 .4 1.2 .5-2" fill="none" stroke="#000" stroke-width="3.1" stroke-linejoin="round" stroke-linecap="butt"/>
<path d="M266.3 553l.4-19.7 .5 2.7 .4 27 .5-2.7 .4 4.1 .5-16.1 .4 10 .5-11.6 .4 39.5 .5-50.8 .4 25.3 .5-11.3 .4 12.4 .5 3.7 .4-12.4 .5-5.3 .4 15 .5-.8 .4-12.5 .5 22.7 .4 9.3 .5-27.9 .4 15.5 .5 18.1 .4-16.1 .5-5 .4 10.6 .5 4.4 .4-21.8 .5-12.2 .4 16.6 .5 7.6 .4-15.8 .5-4.4 .4 14.8 .5-11.6 .4-6.8 .5 18 .4 8.8 .5-16.2 .5 1.6 .4-11.9 .5 33.5 .4-8.8 .5 2.4 .4 12.3 .5-26.2 .4-5.9 .5 17.3 .4-30.1 .5 7.3 .4 2.2 .5 2.5 .4-8.3 .5 30.9 .4-27.5 .5-.5 .4 32 .5-29.6 .4 7.8 .5-14.5 .4 16.4 .5-5.9 .4-5 .5 16.6 .4-20.1 .5 9.7 .4-8.1 .5 13.8 .4-21.7 .5 6.6 .4 10.7 .5-10.9 .4-8.4 .5-7.1 .4 45.3 .5-33 .4 5.6 .5 7.5 .4 12.2 .5-30.4 .4 33.7 .5-24.5 .4-9.8 .5 38.8 .4-17.3 .5 13.6 .4-20.5 .5-16.7 .4-6.4 .5 51 .4-15.5 .5-16.5 .4-11 .5 16.1 .4 16.3 .5-13 .4 4.9 .5 3.3 .4 7.9 .5-14.1 .4 1.8 .5 6 .4 2.3 .5 14.6 .4-10.1 .5-22 .4 18.7 .5 16.6 .4-36.6 .5 10.6 .4-20.9 .5 26.7 .4 6.7 .5 12.7 .4-36.9 .5-16.8 .4 44.2 .5-2.8 .4-16.8 .5 18.3 .4-7.8 .5 .6 .4-7.5 .5-12.1 .4 13.8 .5-12.1 .4 17.2 .5-10.1 .4 32 .5-9.3 .4-29.7 .5 17.8 .4-15.7 .5 .2 .4-10.5 .5 6.3 .4-3 .5 14.4 .4 7.3 .5 .1 .4-3.5 .5 8.1 .4-7.9 .5-6.3 .4-4.8 .5 7.3 .4 20.4 .5-24.5 .4-4.2 .5-11.5 .4 6.2 .5 15.5 .4 .7 .5-36 .4 15.9 .5-14.4 .4-4.2 .5 37.9 .4-16 .5-1.3 .4-1.7 .5-.2 .4 4.1 .5 .1 .4 21.5 .5-17.7 .4 7.3 .5-11.5 .4 7.7 .5-14.1 .4-2.5 .5 6.8 .4 .1 .5 3.2 .4 7.3 .5-3.4 .4 4.5 .5-11.3 .4 5 .5-7.3 .4 24.7 .5-28.9 .4 21.1 .5-.7 .4-7.4 .5 4.2 .4-11.7 .5 10.6 .4 5.7 .5-3.7 .4-28.9 .5 15.5 .4 14.7 .5-16.3 .4 19.3 .5-44.4 .4 42.1 .5-26.9 .4-1.6 .5 25.2 .4-23.4 .5-9.5 .4 6.5 .5 2.4 .4-9.1 .5 10.3 .4-2.2 .5 6.1 .4-9.5 .5 20.7 .4-22.1 .5 17.2 .4 8.1 .5-18.5 .4-16.8 .5 9.9 .4 19.5 .5-15.3 .4 15.3 .5-3.8 .4-2.4 .5 31.7 .4-32 .5 16.4 .4-3.6 .5 10.7 .4 1.2 .5-6.7 .4-22.3 .5-10.3 .4 22.6 .5-13.9 .4 18.2 .5 22 .4-26.2 .5-3.4 .4 11.9 .5-9.1 .4-3.1 .5 18.9 .4 8.1 .5-16.2 .4-.2 .5 1.7 .4-17.6 .5-9.8 .4 27.5 .5-14.8 .4-3.5 .5 2.5 .4-4.8 .5 18.1 .4-15.2 .5-17.3 .4 15.2 .5 17.8 .4-16.7 .5-9.3 .4 11 .5 11.4 .4-28 .5 35.8 .4-23.4 .5 6.3 .4 14.8 .5-31.8 .4 10.8 .5 19.3 .4-23.5 .5 13 .4 18.7 .5-16.3 .4-12.9 .5-5.3 .4 5.6 .5 1.1 .4-6 .5 8.5 .4-18.4 .5 13 .4-2.2 .5-3.5 .4 20.6 .5-4.7 .4-29.3 .5 15.5 .4 8 .5-8.2 .4 10.8 .5-10 .4 12.2 .5-12.4 .4 24.1 .5-38.2 .4 24.1 .5 14 .4-17.7 .5 2 .4-6.7 .5 17.2 .4-20 .5-42.1 .4 64.5 .5-21.1 .4 8.7 .5-6.5 .4 26.3 .5-8.7 .4-21.3 .5 6.3 .4-22.3 .5 30.3 .4-12.1 .5-36.7 .4 47.7 .5 1 .4-12.4 .5-.8 .4-12.9 .5 8.3 .4 10.4 .5-14 .4-33.4 .5 16.8 .4 52.2 .5-36.1 .4 8.5 .5-21 .4 9.5 .5-28.8 .4 12.5 .5 0 .4 9 .5 2.8 .4-5.1 .5-12.5 .4 10.4 .5 12.3 .4-21.1 .5 15.1 .4 4.3 .5 10.4 .4-2.2 .5 1.8 .4 29.7 .5-50.1 .4 6.7 .5 11 .4-16.5 .5 8.3 .4 .9 .5 38 .4-30.4 .5-10.7 .4-15 .5-3.8 .4 4.8 .5 34 .4 13 .5-38.1 .4 6.3 .5-13.5 .4 13.7 .5-5.5 .4 22.3 .5-27.1 .4 11.3 .5-11.4 .4-2.1 .5 7.4 .4-6.2 .5 4.2 .4-10.6 .5 3.4 .4 14.3 .5 .6 .4-31.7 .5 25.3 .4-14.8 .5 8.2 .4 13.2 .5 2.5 .4-12 .5-2 .4-5.3 .5 25.5 .4-9.8 .5-7.5 .4-24.2 .5 54.1 .4-39.7 .5 12.6 .4-14.6 .5 11.7 .4-13.2 .5-18.1 .5 15.6 .4-2.7 .5-.7 .4 14.2 .5-20.1 .4 8.9 .5 6.7 .4-12.8 .5 .8 .4-15.8 .5 9.6 .4 5.4 .5-30.2 .4 5.3 .5-5.4 .4 8.5 .5 9.4 .4 3.7 .5-2.7 .4-18.7 .5 12 .4 23.4 .5-21.6 .4 20.6 .5-23.7 .4 20.7 .5 1.1 .4-20.6 .5 3.1 .4 24.3 .5-36.7 .4-21.7 .5 55.9 .4-51.1 .5 38.4 .4-3.4 .5-5.6 .4 19 .5-43.9 .4 11.5 .5 18.2 .4-8.9 .5 18.1 .4-20.3 .5-22.4 .4 40.6 .5-22.5 .4-11.5 .5-16.8 .4-7.3 .5 27.2 .4 2.3 .5-22.1 .4 11 .5-3.5 .4-25.8 .5-13.1 .4 20.9 .5 4.5 .4-16.3 .5 38.5 .4-35.7 .5 14.1 .4-64 .5 24.7 .4 5.6 .5 1.3 .4 36.7 .5-62.4 .4-21.4 .5 37.8 .4-30.5 .5-5.4 .4 37.5 .5-50.4 .4-12.1 .5 17.2 .4 1.8 .5-20.1 .4 40.7 .5-35.7 .4-23.1 .5 40.8 .4-48.4 .5 24.1 .4 29.9 .5-43.1 .4 14.8 .5-28.7 .4 28.9 .5-46.7 .4 36.6 .5-22.9 .4 19.3 .5-6.1 .4-32.1 .5 19.5 .4 11.8 .5 16.8 .4-51.5 .5 7.6 .4 20.7 .5-13.3 .4 25.2 .5-1.6 .4-5.1 .5-25.8 .4 .3 .5 21.1 .4-31.5 .5-1.3 .4 12.8 .5-17 .4 31 .5 1.3 .4-5.8 .5 17.3 .4-9.5 .5 47.8 .4-46.1 .5 49 .4-7.2 .5 27 .4-34.2 .5-9.3 .4 7.2 .5 7.6 .4 47.2 .5-11.7 .4-3.3 .5 11.1 .4-34.8 .5 19.5 .4 6.4 .5-6.4 .4 28.3 .5 2.2 .4 2.6 .5-20.6 .4 6.3 .5-.1 .4-4.3 .5 45.3 .4-9.1 .5-7.6 .4 28.8 .5-9.5 .4-21.4 .5 2 .4 3.5 .5 19.3 .4 6.6 .5-18 .4 25 .5-9.3 .4-13.8 .5 27.8 .4 4.9 .5-8.3 .4-8.6 .5 2.5 .4 5.7 .5-5.6 .4 33.4 .5-10.8 .4-15.1 .5 17 .4 6.6 .5-1.6 .4-4 .5-10.5 .4 13.1 .5-18 .4-20.7 .5 27.8 .4-20 .5 15.2 .4 21.2 .5-11.6 .4 11.2 .5-24.1 .4 28.5 .5-34.1 .4 11.8 .5 37.9 .4-38 .5-9.2 .4 34.3 .5-22.9 .4 40.2 .5-26.6 .4 27.9 .5-27.6 .4 32.5 .5 13 .4-39.4 .5-23.8 .4 40.2 .5-17.5 .4 11 .5 7.2 .4-10.9 .5-12 .4 38.9 .5-22 .4 4.2 .5 24 .4-37.6 .5-3 .4 38 .5-32.7 .4 22.4 .5 3.9 .4-19.5 .5 17 .4 0 .5-13.4 .4 4.1 .5 6 .4 29 .5 3.3 .4-30.9 .5 25.9 .4-11.3 .5 15.9 .4-8.9 .5 14.4 .4-32.3 .5 32.4 .4-8.9 .5 2.1 .4-14.6 .5 31.2 .4-14.6 .5 3 .4-7.4 .5 1.5 .4 11.2 .5-7.2 .4 7.4 .5-8.9 .4 6.9 .5 6.5 .4-6.5 .5-3.9 .4-20.5 .5 30.4 .4-8.5 .5-12.3 .4 38.4 .5-3.6 .4-5.9 .5-11.5 .4-27.3 .5 21.9 .4-8.8 .5 15.1 .4 23.6 .5-1.7 .4-35.2 .5 8.6 .4 15.3 .5-25.4 .4 27.3 .5-27.9 .4-3.5 .5 22.6 .4 3.2 .5-20.4 .4 19.5 .5-20.3 .4 20.6 .5-20.6 .4 7.1 .5 5.3 .4 4.7 .5-11.2 .4 21.6 .5-15.8 .4 1.7 .5-10.2 .4 20 .5-28.8 .4 20.9 .5 9 .4-24 .5-1.8 .4 19.1 .5 7.8 .4-7.9 .5 7.8 .4-2.8 .5-17.2 .4 12.3 .5 3.5 .4-.9 .5 5 .4-7.6 .5 .7 .4 13 .5-3.5 .4-20.9 .5 20 .4 6.7 .5-20.1 .4 20.3 .5 11.4 .4-15.8 .5 15.6 .4-3 .5-7.1 .4 4.7 .5 6.3 .4-1.6 .5 .5 .4-16.2 .5 17.4 .4-1.5 .5-24.2 .4 23.5 .5-19.2 .4 1.2 .5 12.9 .4 10.9 .5-17.7 .4-2.6 .5-3.3 .4 7.6 .5-10.8 .4-2.1 .5 21.6 .4-22.7 .5 11 .4 6.4 .5-2.4 .4-19.7 .5 8.1 .4 24.7 .5-16.5 .4 2.2 .5 .6 .4 3.3 .5 8.6 .4-20.1 .5 16.3 .4-4.6 .5 2.4 .4 1.5 .5-12.6 .4 3.5 .5 9.5 .4 2.7 .5-3.9 .4-12.1 .5 7.7 .4-.5 .5 5.3 .4-.1 .5-3.5 .5 18.3 .4-29.1 .5 21.2 .4-1.3 .5-15.7 .4 10.1 .5 2 .4 5.9 .5 8.8 .4-14.4 .5-8.2 .4 18 .5-18.8 .4 21.1 .5-3.2 .4-10.4 .5 4.3 .4-5.8 .5 12 .4 2.4 .5 6.9 .4-5.6 .5-1.2 .4 2.8 .5-14.4 .4 8 .5 10.8 .4-36.9 .5 27.3 .4 3.5 .5-20.5 .4 .6 .5 19.1 .4 2.6 .5-3.8 .4-17.2 .5 11.8 .4 4.1 .5-6.3 .4-9.9 .5 21 .4-8.1 .5 8 .4-28.7 .5 2.8 .4 6.8 .5 8.6 .4-6.5 .5 22 .4-19.2 .5 12.7 .4-.2 .5-5 .4-2.9 .5-7.4 .4-1 .5 3.5 .4 9.6 .5-12.6 .4 6.5 .5-10 .4 16.8 .5 14.9 .4-17.6 .5-20.2 .4 13.6 .5 5.7 .4-7.9 .5 3.4 .4 .8 .5 8.1 .4-4.1 .5-.4 .4 7 .5 4.2 .4-9.2 .5-6 .4 2.9 .5 1.6 .4 .2 .5-15.7 .4 18.1 .5-5.8 .4-7 .5 14.7 .4-1.7 .5-6.1 .4-5.1 .5 10.2 .4-.7 .5 1.7 .4 9.5 .5-18.2 .4 10 .5 10.6 .4-12.4 .5 11.5 .4-6 .5-8.2 .4 6.6 .5-15.5 .4 18.8 .5-13.4 .4-2.5 .5-6.9 .4 3.9 .5 5.2 .4 1.2 .5 1.3 .4-8.7 .5 13.9 .4-8.3 .5 5.2 .4-1.8 .5 4.5 .4-17.1 .5 21.6 .4-5.9 .5 .7 .4-1.6 .5 2 .4 1.1 .5-3.3 .4 19.1 .5-10.4 .4 9.8 .5-10.1 .4 11 .5-1.1 .4-6.1 .5-10.3 .4 6.4 .5 2.4 .4-7.7 .5 17.4 .4 8.5 .5-12 .4-1 .5-11 .4-6.6 .5 25 .4-27.7 .5 6.5 .4 5 .5 3.2 .4-15.1 .5 16.6 .4 3.6 .5-4.8 .4 10.4 .5-13.7 .4 3.7 .5-3.6 .4-.8 .5 9.7 .4-17.5 .5 16.2 .4-14.1 .5 17.4 .4-14.3 .5 8.2 .4-6.2 .5 4.8 .4 11 .5-7.5 .4-8.2 .5-3.7 .4 15.2 .5 5.1 .4-8.4 .5-4.1 .4 3.6 .5 1.9 .4-11 .5-.1 .4 2.2 .5 12.5 .4-6.5 .5 2.5 .4 9.1 .5-15.7 .4 6 .5 4.4 .4-13 .5 4.7 .4-.5 .5-2.4 .4 3.3 .5 13.8 .4-6.3 .5-9.9 .4 12.1 .5-5.9 .4-2.9 .5-7.6 .4 .5 .5 2.3 .4 7 .5-8.2 .4 2.1 .5 4.2 .4-11 .5 5.4 .4 8 .5-14.5 .4 9.9 .5-6.3 .4 14 .5-10.8 .4 5.9 .5-.2 .4 6 .5-28.1 .4 15.4 .5-2.9 .4-6.2 .5 8.2 .4-4.4 .5 12.7 .4-10.6 .5 4.2 .4-6.1 .5 2.4 .4 10.9 .5 3.5 .4-5.4 .5-11.5 .4 2.6 .5 .6 .4 17 .5 5 .4-13.5 .5-1.5 .4 2.2 .5-6.1 .4 3.9 .5 7.1 .4-1.8 .5-6.7 .4 .7 .5 1.2 .4-15.6 .5 17.2 .4-2.4 .5 7.6 .4-4.1 .5-5.8 .4-.2 .5 4.9 .4-3.6 .5 2.4 .4 13.1 .5 9.4 .4-37.2 .5 10 .4 6.1 .5 11.4 .4-2.9 .5-17.4 .4 27.8 .5-16.3 .4-7.8 .5 4.9 .4-3.9 .5 5.9 .4-16.7 .5 22.7 .4 2.2 .5-11 .4-7.8 .5 9.8 .4-7.5 .5 10.3 .4 4.2 .5-17.3 .4-1.3 .5 .2 .4 12.9 .5 4.7 .4 .1 .5-6.2 .4-5.2 .5 .7 .4 13 .5-10.5 .4 1.5 .5-.2 .4 1 .5 1.5 .4-5 .5 3.3 .4-.4 .5 6.3 .4-6.9 .5 3.5 .4 13.3 .5-16.9 .4 5.1 .5-7.7 .4 7.2 .5-.3 .4-1.9 .5 1.6 .4 2.9 .5 8.9 .4-23.6 .5 22.3 .4-8 .5-6.4 .4 1.8 .5-1.2 .4-1.3 .5-3.1 .4 6.3 .5-16.8 .4 25.5 .5-7.9 .4 3.9 .5 1.2 .4-5.2 .5-7.5 .4 14 .5 .1 .4-9.3 .5 1.2 .4-9.2 .5 5.9 .4 5.1 .5 3.5 .4-3.7 .5 2.4 .4 7.5 .5-9 .4 1 .5 .3 .4 1.1 .5-13.7 .4 6.3 .5-1.6 .4 9.9 .5 2.6 .4-4.8 .5-3.4 .4 3.7 .5-1 .4-7.4 .5 4.3 .4 8.2 .5-3.5 .4 1.6 .5-5.2 .4 8.8 .5-6.1 .4-5.3 .5 4.5 .4 6.3 .5-1.5 .5-4.5 .4-2 .5-2 .4 6.5 .5 7.7 .4-17.2 .5 7.3 .4-.5 .5 .8 .4 8.6 .5-4.5 .4-3.6 .5-4.8 .4 6.1 .5 20 .4-18.3 .5-3.8 .4-6.1 .5 3.5 .4-11.4 .5 6.5 .4 .3 .5 2.4 .4 14.5 .5-14.2 .4 1.4 .5 7 .4-7 .5 1 .4 5.5 .5-2.1 .4 .9 .5-3 .4 4.3 .5-5.9 .4 15.6 .5-10.1 .4 8.9 .5-7.3 .4-6.1 .5 3.2 .4 1 .5-1 .4-9.2 .5 16.8 .4-12.4 .5 15.1 .4-6.5 .5-4 .4 6.3 .5-6.7 .4-3.4 .5 11.7 .4-7.1 .5 1.6 .4 9.5 .5-11.1 .4 3.5 .5-13.5 .4 13.5 .5-16.1 .4 13.6 .5-15.4 .4 8.5 .5 .5 .4-2.3 .5-.6 .4-3 .5-2 .4 12.9 .5 5.7 .4 9 .5-13.8 .4-6.8 .5 2.7 .4 1.9 .5 3.2 .4 2 .5-1.9 .4-3.9 .5 13.4 .4-15.2 .5 13.4 .4-8 .5 2.8 .4-1.8 .5 3.9 .4 .5 .5-6 .4 5 .5-22 .4 17.3 .5 1.1 .4-.9 .5 3 .4 8.3 .5-13.6 .4-3.5 .5 10.9 .4-9.2 .5 7.3 .4-7.1 .5-2.5 .4-.7 .5 .3 .4 7 .5-9.6 .4 8.1 .5-4.8 .4-2 .5 6.1 .4 6 .5-11.5 .4 10.5 .5-1.4 .4 1.2 .5-11.9 .4 6 .5 12.4 .4-18.1 .5-8.2 .4 1.5 .5 14.1 .4-4 .5-2.7 .4-2.4 .5 5.1 .4 6.8 .5-11.1 .4 .8 .5 11.7 .4-5.8 .5-3.8 .4 1.7 .5-3.2 .4-1.6 .5 1.5 .4 4 .5 7.3 .4-11.8 .5-4.7 .4-3.5 .5 11.9 .4 0 .5-8.8 .4 .1 .5 6.6 .4-2.1 .5 8.9 .4-7.8 .5 8.6 .4-3.8 .5 .1 .4 2.4 .5 10.1 .4-7.2 .5-6.5 .4 2.8 .5 2.4 .4-4.4 .5-1.1 .4-.5 .5 10.2 .4-4.5 .5 2.4 .4 3.6 .5 3.9 .4-8 .5 4.8 .4-17.7 .5 13.4 .4 .8 .5 1.1 .4-13.3 .5 16.6 .4-4.7 .5 3.5 .4-3.9 .5-.6 .4-6.8 .5 14.6 .4-8.3 .5-9.8 .4 12.3 .5-2 .4 4 .5 10 .4-14.8 .5-7.6 .4 9.4 .5 7.8 .4-12.5 .5 .8 .4-5.5 .5 .3 .4 6.6 .5-4.1 .4 12.6 .5-17 .4 5.2 .5-5.3 .4 .1 .5 7.8 .4-.7 .5 4.3 .4 7 .5-10.9 .4-1.4 .5 7.4 .4-10 .5 4 .4-1.7 .5 7.5 .4 6.2 .5-14.3 .4 1.3 .5 4.5 .4 2.1 .5-.6 .4-.6 .5 2.2 .4 8.7 .5-16.1 .4 13 .5-6.8 .4-.4 .5-3.6 .4 10.3 .5-16.5 .4 2.7 .5-1.1 .4-3.3 .5 11.3 .4 13 .5-20.2 .4-5.8 .5 .6 .4 9.4 .5-2.6 .4-2.3 .5 11.8 .4-6.5 .5-.2 .4-12.5 .5 12.8 .4-12.5 .5 9 .4 9.7 .5-21.8 .4 18.2 .5-8.8 .4-5.9 .5 12.9 .4 4.1 .5-12.6 .4 5.8 .5 7.6 .4-.6 .5-3.6 .4-7.4 .5 7.4 .4-5 .5-5.3 .4 2.4 .5-.6 .4 1.4 .5 16.3 .4-15.7 .5 5.4 .4 2.8 .5 5.6 .4 3.1 .5-2.5 .4-5.9 .5 6.5 .4-1.9 .5-1 .4-7.1 .5 5.3 .4-.8 .5-8.2 .4 9.2 .5-5.1 .4 9.2 .5-7.6 .4 1.2 .5-.2 .4 3.7 .5 3.3 .4-3.8 .5 1.1 .4-8 .5 1 .4 11.9 .5-9.8 .4 6.4 .5-4.9 .4 5.4 .5 5.6 .4-13.6 .5 3.1 .4 9.2 .5 3.6 .4-7.7 .5 3.3 .4-4.8 .5-5.8 .4-5 .5 9.5 .4-9.9 .5 .7 .4 8.4 .5 6.3 .4-14.2 .5 .9 .4-9.9 .5 4.8 .4 3.2 .5-5.1 .4 14.8 .5-6.9 .4 2.5 .5-10.9 .4 6.5 .5 19.9 .4-23.8 .5 12.7 .4-8.7 .5 7.2 .4-3.5 .5-1.7 .4 2.8 .5 6.6 .4-12.3 .5 5.7 .4 2.6 .5-3.6 .4 6.9 .5-12.8 .4 9.1 .5-.6 .4 .2 .5 6.9 .4 1.4 .5-7.5 .4-.8 .5-5.4 .4 4.6 .5 8.1 .4-8.9 .5-1.8 .4-1.2 .5 3.2 .4 7.9 .5-13 .4 9.7 .5-7.4 .4 11.1 .5-12.7 .5 8 .4-10.1 .5-3.8 .4 3.1 .5 12.4 .4-1.1 .5-.2 .4-8 .5 1.9 .4 1.3 .5-.5 .4-1 .5-.1 .4-5.1 .5 9.6 .4-1 .5 11.2 .4-2.5 .5-3 .4 2.8 .5-7.2 .4-4.1 .5 7.8 .4 .2 .5 .1 .4-3.6 .5 3.3 .4-5.5 .5 .3 .4-.7 .5-2.8 .4 3.3 .5-1.1 .4-9 .5 8.9 .4-4.9 .5 3.4 .4 2.4 .5-.3 .4 1.7 .5-4.4 .4 3.2 .5-.8 .4-8.4 .5 7.3 .4-6.4 .5 4.9 .4-2.7 .5 8 .4-3.5 .5-12.4 .4 9.8 .5-.6 .4 4.4 .5-2.9 .4 10.7 .5-1.3 .4-6.4 .5-1.8 .4 6.5 .5-1 .4 .9 .5-.8 .4 5.3 .5 1.2 .4-7 .5 8.6 .4-3.9 .5-1.6 .4 2.1 .5-6.6 .4 3.6 .5-1.7 .4 4.9 .5-1.2 .4-6.3 .5 1 .4 4.4 .5-4 .4 1.1 .5 .2 .4-7.2 .5 10.3 .4-4.2 .5-.1 .4 3.3 .5 4.6 .4-9.8 .5 2 .4 .7 .5-.2 .4-.4 .5 4.3 .4-6.5 .5 10.3 .4-9.4 .5 7.2 .4-6 .5-5.6 .4 4.8 .5 1.1 .4-5 .5 4.1 .4 .8 .5 .1 .4-9.4 .5 4.5 .4 1.3 .5 8.8 .4-8.9 .5 10 .4-8.7 .5 8.4 .4-15.3 .5 18.7 .4-14.5 .5 2.2 .4 13.2 .5-7.8 .4-8.5 .5 1.4 .4 14 .5-6 .4 3 .5-1.1 .4-2.2 .5-12.9 .4 8.3 .5 1.5 .4 .2 .5-5.3 .4-.4 .5 8 .4-12.2 .5 12.7 .4-4.1 .5-3.6 .4-6.3 .5 10.4 .4-3 .5-4.9 .4 3.6 .5-2.4 .4 .7 .5 4.1 .4-1.6 .5-1.3 .4 5 .5-8 .4 18.2 .5-5.2 .4-11.7 .5 5.2 .4 5.4 .5-5.1 .4-3.6 .5 8.2 .4-6.7 .5 4.3 .4-.2 .5-.3 .4-6 .5 11 .4-3.8 .5-5.2 .4 9.4 .5 1.7 .4-10.7 .5 2.9 .4 .7 .5-1.4 .4 5.6 .5-19.3 .4 19.4 .5-2.7 .4 5 .5-5 .4-9.6 .5 7.5 .4-2.9 .5 5.3 .4-11.5 .5 8.1 .4 6.9 .5-10.2 .4 5.5 .5-5.1 .4 2.1 .5-.8 .4 .3 .5 5 .4 2.7 .5-12.5 .4 5.3 .5-2.3 .4 3.6 .5 7.6 .4-3.8 .5-13.2 .4 10.8 .5-1.9 .4 5.4 .5-4.4 .4-.6 .5-.5 .4-.4 .5 3.1 .4 0 .5-2.4 .4-1.3 .5 2.7 .4-9 .5 8 .4 .6 .5 4.4 .4-8 .5 10.4 .4 3.2 .5-2.8 .4-7.6 .5 8.9 .4-11.7 .5 6.7 .4 7.5 .5-6.1 .4-9.7 .5 13.1 .4 2.3 .5-8.8 .4-3.8 .5 1.5 .4 6.6 .5-2.5 .4-.6 .5-4.1 .4-4.8 .5 11.1 .4-7 .5 8 .4-4.6 .5 7.3 .4-.9 .5-6 .4 6.3 .5-9 .4 6.9 .5-3.3 .4 .5 .5 1 .4-2.5 .5-4.9 .4-10.1 .5 20.7 .4-7.5 .5 2.1 .4 3.4 .5-6.1 .4 5.5 .5-4 .4-6.6 .5 15.7 .4-11.1 .5-1.1 .4 6.8 .5-7.2 .4 .9 .5 3.5 .4-7.5 .5 12.3 .4-9.3 .5 4.4 .4 4.2 .5-4.1 .4 1.1 .5-5.5 .4 11.4 .5-6.1 .4 1.4 .5-9.7 .4 13.2 .5-10.4 .4 13.7 .5-10.1 .4 2.3 .5-2.4 .4 5.2 .5 6 .4-2 .5-13.9 .4 5.2 .5 5.1 .4-8.6 .5 7.9 .4-.1 .5 2.2 .4-11.6 .5-3.8 .4 14.1 .5-6 .4-3.3 .5-5.4 .4 21.9 .5-12.1 .4-2.3 .5 10.4 .4-8.9 .5 1.1 .4-2.4 .5 6.4 .4-4.8 .5 5 .4-5.9 .5 2.1 .4 2.5 .5 4.9 .4-14.9 .5 2.3 .4 .9 .5 7.2 .4-1.8 .5-10 .4 4.2 .5 7.3 .4-4.6 .5-.7 .4 1.4 .5 3.4 .4-10.8 .5 3.1 .4 3.7 .5 6.6 .4-4.8 .5-2.7 .4-4.1 .5 6.1 .4-6.9 .5 4.7 .4 4.5 .5 9.9 .4-7.5 .5 1.7 .4-6.3 .5-2.1 .4-4.9 .5 6.8 .4 5.7 .5-16.7 .4 9.9 .5 2.9 .4 .1 .5 5.3 .4-9.4 .5 1.3 .4-5.6 .5 2.4 .4 1.2 .5-1.7 .5 7.5 .4 .9 .5-1.7 .4 5.9 .5-5.1 .4 1.1 .5-4.6 .4 3.5 .5 9.2 .4-9.1 .5-6.4 .4 15.7 .5-5 .4-3.6 .5 6.5 .4-3.7 .5-2.9 .4 6.5 .5-7.7 .4-.7 .5 7.8 .4-6.2 .5-5.2 .4 5.9 .5-3.1 .4-1.1 .5 4.1 .4-5.9 .5 2.8 .4 6.4 .5-7.2 .4-1.6 .5 .2 .4 6.8 .5-5.3 .4-4.3 .5 5.4 .4-4.6 .5-.5 .4 6.3 .5-3.3 .4 4.4 .5-6.4 .4 5.5 .5 2.1 .4-2.4 .5 .2 .4-2.1 .5-.3 .4 7.7 .5-2.4 .4-4.8 .5-.6 .4 1.9 .5-12 .4 7.1 .5 5.6 .4-3.8 .5-2.9 .4 4.6 .5 9.9 .4-8.7 .5 .2 .4-9.8 .5 18.6 .4-15.9 .5 7.9 .4-5.2 .5 5.7 .4-2.3 .5-4.6 .4 4.8 .5-4.7 .4 5.2 .5 1.4 .4-1 .5 1.2 .4-1.9 .5-7 .4 11.8 .5 2.3 .4-7.7 .5-7.9 .4 3 .5-1.2 .4 .4 .5 9.3 .4-3.8 .5 13.1 .4-9.4 .5-5.5 .4 10.2 .5 2.6 .4-3.4 .5-6.9 .4-4.3 .5-6.4 .4 5.5 .5 13.9 .4 3.8 .5-11.4 .4-4.2 .5 12.5 .4-5.1 .5-.4 .4-2.3 .5 1 .4-3.3 .5-2.6 .4 4.5 .5-3.2 .4-5.8 .5 13.9 .4 0 .5-7.2 .4-6.3 .5 7.8 .4-4.2 .5 6.5 .4-5.7 .5 7.2 .4-6 .5 1.4 .4 0 .5-4.5 .4 1.4 .5 7.8 .4-6.8 .5 12 .4-12.4 .5-8.1 .4 10.3 .5 .1 .4 2.1 .5-3.6 .4 5.9 .5-5.3 .4 4.2 .5 .6 .4-2.7 .5 .7 .4 7.5 .5-17.8 .4 8.7 .5 8.3 .4-12.9 .5 4.9 .4-1.2 .5-2.5 .4 7.2 .5 9.2 .4-13.2 .5-1.7 .4-3.6 .5 7.9 .4-2.3 .5-3.2 .4 3.2 .5-.4 .4-2.3 .5 5.7 .4-11.8 .5 11.5 .4-4.3 .5 1.8 .4 1.8 .5-5.5 .4-2 .5-1.9 .4 4.2 .5 4.9 .4-5.8 .5 10.7 .4-6.7 .5-2 .4 0 .5 7.9 .4 1.7 .5-14.4 .4 10 .5 5.2 .4-1.8 .5-5.7 .4-5.2 .5 5.4 .4-5.4 .5 4.6 .4-1 .5-2.3 .4 6.3 .5-3 .4 3.3 .5 1.2 .4-5.7 .5 6.8 .4-3.9 .5 4.2 .4-3.1 .5 2.2 .4-7.1 .5 4.8 .4 .2 .5-6.9 .4 20.2 .5-7.3 .4 7.3 .5-11.9 .4-1.8 .5-.8 .4 1.8 .5 5.4 .4-11.8 .5 6.7 .4 2.6 .5 3.9 .4-7 .5 4 .4-.3 .5-3.1 .4-.3 .5 4.4 .4-9.6 .5 9.9 .4 .1 .5-6.7 .4 .4 .5-.1 .4 1.7 .5-2.4 .4 2.3 .5 4.4 .4-11.1 .5 7.5 .4-4 .5-4.6 .4 2.8 .5-12.5 .4 18.4 .5-3.1 .4-3.9 .5-5.8 .4 7.3 .5 5.3 .4-11.4 .5 9.4 .4-3 .5-4.6 .4 7.3 .5-.7 .4-3.9 .5 3.4 .4-1.9 .5 5.8 .4-3.5 .5 4.6 .4 2.3 .5-14.7 .4 6 .5-1.9 .4 8.5 .5-4.1 .4 .9 .5 5.6 .4-8.7 .5 5.8 .4-2.2 .5 6 .4-11.1 .5 1.2 .4 1.7 .5 5.9 .4-1.6 .5-7.8 .4 6.8 .5-2.4 .4 .6 .5 5.7 .4-11.7 .5 15.7 .4-9.8 .5 1.5 .4 6.8 .5-8.6 .4-.8 .5 2.1 .4 3.9 .5-5.8 .4-3 .5 3.9 .4-6.7 .5 3.7 .4 .4 .5-2.9 .4 9.1 .5-.7 .4-4.6 .5 0 .4-4.4 .5 1.6 .4 4.3 .5-.1 .4 2.2 .5 .4 .4 .4 .5-5.9 .4 6.1 .5-.5 .4-2.3 .5 3 .4-1.3 .5 8.6 .4-11.4 .5 2.9 .4-2.2 .5-.9 .4 9.7 .5-19 .4 9.8 .5-.2 .4 8.5 .5-10.8 .4 .8 .5 3.2 .4-2.8 .5-4.7 .4 7 .5 2.3 .4-10 .5 4.6 .4 1.9 .5-11 .4 9.4 .5 1.5 .4-1.9 .5 2.9 .4-2.7 .5 .3 .4 3.6 .5-1.7 .4-2.5 .5-.2 .4-.9 .5-.8 .4 2.4 .5-1.1 .4 4 .5-.5 .4-5.6 .5 13.3 .4-10.2 .5-12.2 .4 22.1 .5-14.7 .4 14.4 .5-9.2 .4-5.5 .5 .7 .4 10.5 .5 1.8 .5 .6 .4-9.3 .5 4.9 .4-1.7 .5-1.1 .4-.7 .5-.5 .4 1.8 .5 7.6 .4-13.4 .5 18.5 .4-17.4 .5 8.1 .4-1.7 .5 1.5 .4-.6 .5-1.5 .4 1.2 .5 3.7 .4-8.5 .5 6.2 .4-8.3 .5 6.5 .4 2.4 .5-5 .4-2 .5 7.9 .4-2.9 .5-7.5 .4 10.5 .5-.7 .4-4.5 .5 5.9 .4 5.3 .5-3.6 .4-9.1 .5-1.4 .4 .1 .5 .6 .4 6.8 .5-8.5 .4-2.3 .5 7.8 .4-7.4 .5 5.5 .4-2.6 .5-1 .4 7.9 .5-12.9 .4 10 .5-3.4 .4 1.7 .5-4.1 .4 .1 .5 1.9 .4-5.9 .5 5 .4 3.1 .5 11 .4-11 .5 .2 .4 2.8 .5 .2 .4-6 .5-1.7 .4-3.4 .5 3.5 .4 8.3 .5-3.9 .4 7.2 .5-8.8 .4 1.9 .5 4.4 .4-2 .5 .8 .4 1.9 .5-8.3 .4-7.6 .5 9.9 .4-.9 .5 3.9 .4 2.2 .5-11 .4 11 .5-3.3 .4 2.2 .5-3.2 .4 2.7 .5-2.9 .4 7.9 .5-5.2 .4-6.5 .5 10.2 .4-1.8 .5-9 .4 4 .5-3 .4 14.1 .5-10.4 .4 6.1 .5 .4 .4-7.8 .5-3.4 .4 11.6 .5-1.7 .4-2.2 .5-1.8 .4 5.3 .5-15.4 .4 7.4 .5 4.2 .4 .8 .5-12.1 .4 .5 .5 11.8 .4-3.5 .5-3.9 .4 10.5 .5-2.6 .4-8.4 .5 8.7 .4-1.2 .5 3.7 .4-2.7 .5-6.5 .4 6.2 .5 1.8 .4-3.2 .5-10.7 .4 6.5 .5 2.9 .4-3.4 .5-1.5 .4 1.1 .5 8.1 .4-9.3 .5 2 .4-4.7 .5 9.2 .4-10.5 .5 6.5 .4 5.1 .5-13.2 .4 7.8 .5-3.9 .4 2.2 .5-5.4 .4-.1 .5 0 .4 1.8 .5 10 .4 .4 .5-7.9 .4 5.1 .5-5.9 .4 1.5 .5 7 .4-1.3 .5 .6 .4-.8 .5-2.6 .4-3.5 .5-2.5 .4 10.2 .5-1.4 .4-8.8 .5 3.2 .4 3.2 .5 11.5 .4-5.5 .5-4.7 .4 3.5 .5-10.8 .4 8.3 .5-.8 .4 6 .5-.3 .4-1.7 .5-.4 .4-1.8 .5-2.9 .4 .4 .5-3.5 .4 9.8 .5-7 .4-.4 .5-6.1 .4 7.5 .5-2.5 .4 4.6 .5-5.4 .4-.1 .5 4.3 .4-.9 .5-1.9 .4-2.6 .5 7.4 .4-8.6 .5 5.3 .4-9.4 .5 2.1 .4 8.2 .5 1.2 .4-12.8 .5 8.1 .4 .6 .5 4.6 .4-.9 .5-3.6 .4 1.1 .5 6.5 .4-8.6 .5 4.2 .4 5.6 .5-8.1 .4 5.1 .5-4 .4 5.7 .5-3.9 .4 8.5 .5-8.5 .4 8 .5-7.3 .4 11.4 .5-10.7 .4-3.5 .5 .9 .4-3.2 .5 9.6 .4-11.4 .5-.3 .4 11.8 .5-1.9 .4-1 .5-2.5 .4-.9 .5 11.2 .4-13.1 .5 3.6 .4 3.3 .5-8.4 .4 5.6 .5-6.2 .4 2.6 .5 3.7 .4-6.2 .5 1.7 .4 5.7 .5 4.9 .4-4.4 .5-4.7 .4 3.8 .5-8.3 .4 6.5 .5 .4 .4-.8 .5 5.6 .4-3.2 .5 2.3 .4 7.2 .5-2.4 .4-10.6 .5 4.9 .4-1.4 .5 5.7 .4-3.8 .5-5.9 .4 2.9 .5 2.5 .4-8.7 .5 6.6 .4 1.1 .5-6.4 .4 12 .5-9.8 .4 6.8 .5-1.5 .4-.7 .5-3.6 .4-.1 .5-1 .4 .2 .5-5.1 .4-1.4 .5 4 .4-.3 .5 4.7 .4 3 .5-7.2 .4 2.3 .5-3.6 .4 11.3 .5-19 .4 16.5 .5-5.5 .4-4 .5 9.9 .4-3.5 .5 6.2 .4-2.5 .5 2.1 .4-8.5 .5-.8 .4 2.6 .5-6.7 .4-.5 .5 5.8 .4 .8 .5 .1 .4 .6 .5-7.5 .4 4.4 .5 2.2 .4-.6 .5-3.3 .4 3.9 .5-3.1 .4 1.5 .5-5.8 .4 .8 .5 10.9 .4-5.1 .5-3.5 .4 5.1 .5-5 .4 2.2 .5-.8 .4 3.1 .5-1.2 .4-.5 .5 8.6 .4-1.9 .5 .8 .4-11 .5 6.1 .4 0 .5 1 .4 3.1 .5 1.2 .4-6.5 .5 5.2 .4-8 .5 5.8 .4 .5 .5 1.3 .4-.6 .5-.5 .4-6.3 .5-3.5 .4 14.4 .5-6 .4-2 .5 6.6 .4-1.2 .5-.8 .4 7.9 .5-12.8 .5 2.8 .4 0 .5-.9 .4-.8 .5-8.7 .4 8.8 .5-2.8 .4 5.5 .5-3.6 .4 2.8 .5-.7 .4 3.1 .5-.3 .4-5.2 .5-1.2 .4 1.3 .5 4.7 .4-4 .5 11.8 .4-14.3 .5 4 .4-1.3 .5-3.7 .4 6.5 .5-5.9 .4 5.7 .5-4.3 .4 3.7 .5-3.3 .4-5 .5 8.3 .4-.6 .5-1.6 .4-3 .5-10.5 .4 13.3 .5 5.6 .4-6.1 .5 3.5 .4-4.5 .5-2.7 .4 3.8 .5-1.2 .4 4.8 .5-8.5 .4 3.9 .5-7.4 .4 .3 .5 8.1 .4-1.8 .5-1.4 .4-2.6 .5 10.4 .4-6.2 .5-7.6 .4 8.5 .5-.8 .4 1.3 .5 5.3 .4-8.4 .5 3.1 .4 .8 .5-2 .4 0 .5 11.3 .4-9.6 .5 4.6 .4-2.9 .5 3.7 .4 .7 .5-7.4 .4 4 .5 1.2 .4 0 .5-1.5 .4 .4 .5 9.6 .4-6.1 .5-2.6 .4-4.1 .5-2.6 .4 9.4 .5-11.9 .4 7.5 .5-1.8 .4 4.1 .5 .2 .4-8.5 .5 6.7 .4-.6 .5-5.2 .4-2.4 .5 13 .4-5.4 .5-.8 .4-7.6 .5-2.7 .4 10.2 .5-1.9 .4-2.1 .5-1.2 .4 5.9 .5-4.9 .4 6.3 .5 8 .4-5.2 .5-6.5 .4-2.3 .5 12.5 .4-1.8 .5-7.1 .4 12 .5-14 .4-1.8 .5 15.8 .4-14.2 .5 4.2 .4-6.4 .5 4.9 .4 2.4 .5-1.3 .4-3.1 .5 3.2 .4 .7 .5 6.1 .4-7.8 .5 1.9 .4-7.4 .5 7.5 .4 .2 .5 2 .4-5.7 .5 3.6 .4 1.8 .5-9.7 .4-1 .5 8.8 .4 2 .5-9.1 .4 7.7 .5-15.2 .4 11.8 .5-4.7 .4 8.9 .5-5.3 .4-4.7 .5 2.5 .4 3.9 .5-12.2 .4 6.9 .5 4 .4 1.5 .5-1.4 .4-6.6 .5 8.7 .4-3.3 .5 3.4 .4-8.4 .5 5.7 .4-4.2 .5 1.2 .4 4.6 .5-5.3 .4-.9 .5 8.4 .4-7.5 .5-11.6 .4 15.6 .5-3.8 .4 8 .5-7.3 .4 4.2 .5-5.5 .4 3.3 .5 4.6 .4-9.2 .5 5.4 .4 3.2 .5-4.3 .4 4.2 .5-5.5 .4 1.9 .5 1.3 .4-4.3 .5 7.9 .4-9.1 .5 12.1 .4-14.7 .5 5.7 .4 1.8 .5 1.9 .4-5.3 .5 2.9 .4 0 .5-4.9 .4 5.9 .5-.7 .4-2.7 .5-2.6 .4 5.1 .5-1.2 .4 .6 .5-2.7 .4-2.9 .5 10.1 .4-3.1 .5-.1 .4-2.4 .5-3.5 .4 6.4 .5-.8 .4-3.5 .5 9.9 .4-1.7 .5-1.1 .4-1.6 .5-.7 .4 3.2 .5-9 .4 10.2 .5-1.9 .4-5 .5 1.4 .4 3.4 .5-1.4 .4-1.7 .5 3.6 .4-2.6 .5 6.5 .4-3.9 .5 7.1 .4-3 .5 1 .4-9.7 .5 6.9 .4-3.2 .5 4.8 .4-3.1 .5 .1 .4 2.1 .5-7.3 .4 10 .5-9.7 .4-8.5 .5 13.8 .4-3.8 .5 6.1 .4-6.6 .5 6.6 .4-10 .5 4.2 .4 5.3 .5-2.5 .4 .9 .5-5.4 .4-4.8 .5 5 .4 3.1 .5-1.4 .4-3.9 .5 10.5 .4-12.2 .5 .8 .4 11.8 .5-14.7 .4 11.6 .5-5.6 .4-5.5 .5 11.7 .4 1 .5-2.7 .4 .1 .5-3.7 .4 1.8 .5 .1 .4 .2 .5-1 .4 2.9 .5-4.6 .4 1.6 .5 4.3 .4-11.4 .5 12.8 .4-8 .5 6.1 .4-4.3 .5-.5 .4-1.2 .5-2.1 .4 9.3 .5-14.9 .4 10.2 .5 5 .4 2.4 .5-15 .4 3 .5 6.8 .4-3.1 .5-2.2 .4 5.1 .5 2.2 .4-1.5 .5-3.4 .4 3.4 .5 5.2 .4-7.9 .5 10.2 .4-3.9 .5-8 .4 4.1 .5 0 .4 .5 .5-3.8 .4 4.3 .5 7 .4-8.5 .5 8.5 .4 0 .5-14.5 .4 2 .5 5.9 .4-1.8 .5-.8 .4-4 .5 7.1 .4 .2 .5-1.2 .4-3.3 .5-.6 .4 2.5 .5-4.9 .4 7.1 .5-4 .4 2.4 .5 1.2 .4-9.1 .5 6.3 .4 2.7 .5-4.2 .4 4.2 .5-6.5 .4-.9 .5-.7 .4 8.5 .5-3.6 .4-8 .5 8.4 .4-6 .5-1 .4 11.8 .5-10.5 .4 1.9 .5-.4 .4-3.3 .5 5.1 .4 1.6 .5-2.1 .4 4 .5-3.3" fill="none" stroke="#000" stroke-width="3.1" stroke-linejoin="round" stroke-linecap="butt" stroke-dasharray="30 8"/>
<path d="M266.3 561.3l.4-15.7 .5 4.3 .4 0 .5-13.4 .4 40.9 .5-8.7 .4 9.7 .5-18 .4-16.3 .5 14.4 .4-7.8 .5 34.2 .4-29.9 .5 14.7 .4-38.6 .5 12.5 .4-1.1 .5 14.2 .4-9.6 .5-.7 .4 14.3 .5 2.3 .4-5.2 .5 7.2 .4 .1 .5-4 .4 6.7 .5-20.4 .4 33.3 .5-33.1 .4 20.6 .5-.6 .4 11.6 .5-16.1 .4 1.9 .5-5.6 .4 10.5 .5-8.1 .4-23.2 .5 19.7 .5 13.9 .4-20.5 .5 15.1 .4-9.5 .5 .1 .4 13.8 .5 21 .4-21.2 .5-12.1 .4 12.7 .5-11 .4-7.1 .5 20.5 .4-23.7 .5-5.1 .4 7.4 .5-.9 .4 1.1 .5-15.3 .4 27.7 .5 2.5 .4-8 .5 20.1 .4 8.5 .5-9.1 .4-16.7 .5-1.5 .4 26.3 .5 4.4 .4-20.8 .5-1.9 .4-2 .5-9.6 .4-7.4 .5 13 .4-5.1 .5 22.3 .4 1.1 .5-18.5 .4-5.6 .5-.8 .4 1.7 .5-2.5 .4-.3 .5 33.3 .4-13.4 .5-15.6 .4-2 .5 27.2 .4-35.1 .5 20.7 .4-3 .5-7 .4-6.5 .5 27.9 .4-32 .5 11.4 .4 10.4 .5-7 .4 24.2 .5-20.6 .4-11.5 .5 11 .4-5.5 .5-2.9 .4-3 .5-13.1 .4 13.1 .5 2.7 .4-10.8 .5-20.3 .4 31.2 .5-11.5 .4 27 .5-38.4 .4 8.6 .5-9 .4 17.8 .5 12.5 .4-25.5 .5 1.3 .4 20.8 .5 7.5 .4-25.5 .5 7.7 .4-36.8 .5 41.7 .4-1.6 .5-6 .4 19.8 .5-10.5 .4-33.6 .5 22.9 .4 6 .5 8.6 .4-24.3 .5-1 .4 5.4 .5 8.7 .4-8.8 .5-.6 .4 14.2 .5-16.6 .4 36.2 .5-10.4 .4-12.5 .5-2.2 .4 14.1 .5-19.3 .4-9.3 .5 8.2 .4 3.1 .5-7.7 .4 5.7 .5 20.4 .4-12.3 .5-19.5 .4 31.8 .5-15.7 .4 5.9 .5 6.6 .4 1.4 .5-14.7 .4-3 .5-.1 .4 22.9 .5-15.5 .4-8.6 .5-8.2 .4 3.4 .5-2.3 .4-3.7 .5 3.5 .4 21.4 .5-11.5 .4 10.1 .5 21.9 .4-9.3 .5-49.8 .4 42 .5 14.6 .4-22.2 .5-28.1 .4 20.2 .5-6.4 .4 8.5 .5-3 .4-18.3 .5 5.7 .4 11.2 .5-13.4 .4-2.9 .5 16.7 .4-6.9 .5-.1 .4 11.9 .5-24.4 .4 17.2 .5 5.8 .4 13.9 .5-5.6 .4-37 .5 35.3 .4-20.9 .5 10.6 .4-11.6 .5-1.1 .4 18.4 .5-6.3 .4-5.1 .5-.1 .4 2 .5 3.9 .4-12.5 .5-9.1 .4 10.3 .5 17 .4-15.2 .5 4.4 .4-5.4 .5-18.6 .4 27.3 .5-2.9 .4 11.4 .5-8.2 .4 3.4 .5-29.2 .4 16.9 .5 11.2 .4-33.8 .5 42.9 .4-29.7 .5-2.6 .4 5.3 .5 10.6 .4-2.3 .5 2.4 .4-15.6 .5 41.1 .4-24.8 .5-9.3 .4 9.4 .5 16.3 .4-21.4 .5 6.7 .4-20.9 .5-8 .4 17.8 .5 27 .4-23.2 .5 9.9 .4-21.4 .5-13.4 .4 18.5 .5-22.9 .4 7.1 .5 11.1 .4 21 .5-14.3 .4 20.8 .5-33.5 .4 12.1 .5-17.2 .4 14.2 .5 29.6 .4-35.3 .5-4.3 .4-10.5 .5 35.1 .4-1.2 .5-13.8 .4 14.7 .5 3.9 .4-4.1 .5-50.2 .4 43.4 .5 4.9 .4-7.9 .5-6.4 .4-17.8 .5 4.3 .4 1.8 .5 9.7 .4-2 .5 10.3 .4 11.2 .5-48.8 .4 33.2 .5-20.7 .4 17.2 .5-4 .4-.1 .5 15.6 .4-18.7 .5-7.3 .4-7.2 .5 3.6 .4-8.2 .5 9 .4 3.2 .5 26 .4-20.3 .5-29.2 .4 18.9 .5-9.7 .4 13.3 .5 6 .4-37.5 .5 22.9 .4-15.6 .5 13.2 .4 11.4 .5 26.8 .4-31.9 .5 23 .4 9.3 .5-47.3 .4 7.5 .5 1.4 .4 8.5 .5 1.5 .4-5.9 .5 3.9 .4 1.5 .5-9 .4 44.3 .5-46.3 .4 21.1 .5-20.6 .4-4.5 .5 27.9 .4-22.8 .5-.1 .4 20.6 .5-2.5 .4-9.1 .5 32.4 .4-24.9 .5-9 .4 8.7 .5 16.1 .4-16.9 .5-26.6 .4 2.8 .5 20.4 .4 9.8 .5-10.8 .4-.1 .5 10.1 .4-4.4 .5-13.1 .4-4.1 .5 47.8 .4-48 .5 11.9 .4-14.4 .5 16.3 .4-6.7 .5-17.4 .4 64.8 .5-65.4 .4 19.1 .5 27.7 .4 11 .5-43.6 .4 17.8 .5-30.4 .4 9.8 .5 3.5 .4-17.7 .5 10 .4-9.4 .5-2.8 .4 5.9 .5-8.2 .4-1.4 .5 29.9 .4-17.1 .5-3.5 .4 2.6 .5 16.4 .4-15.9 .5-14.3 .4 1.1 .5-20.4 .4 30.3 .5-3.4 .4 1.2 .5-4.6 .4 3.4 .5 17.9 .4-33.7 .5-10.5 .4-3 .5 31.7 .4-14.4 .5-31.7 .5 28.1 .4-8 .5 6.3 .4-18.7 .5-.7 .4-21.9 .5 26.4 .4-.4 .5 24.1 .4-13.4 .5 3.4 .4-6.9 .5 14 .4-40.2 .5 33.9 .4-21.8 .5 22.6 .4-26.3 .5-21.9 .4 37.4 .5-20.1 .4 5.2 .5-7.1 .4-3.7 .5 15.3 .4-8.8 .5 5.2 .4 2.5 .5 5.2 .4-36.7 .5 26.4 .4-24 .5 .6 .4 24.4 .5-34.7 .4 30.5 .5-25.6 .4-14.7 .5 35.5 .4 2.9 .5-.5 .4-55.8 .5 44.5 .4 14.3 .5-36.8 .4 15.9 .5-4 .4 15.2 .5 19.7 .4-28.5 .5 3 .4 7.3 .5-12.8 .4-6.1 .5-35.8 .4-2.6 .5-1.2 .4 14.4 .5 8.1 .4-35.7 .5-10.1 .4-18.2 .5 11.7 .4-6.7 .5-18.1 .4 15.2 .5-12.7 .4-41.1 .5 28.6 .4-37.4 .5-31.4 .4-3.5 .5-23.9 .4 10.3 .5-46 .4-21.7 .5-41.6 .4-14.2 .5-2.5 .4-41.7 .5 34.8 .4 28.3 .5 20.8 .4 3.1 .5 27.5 .4-32 .5 36.4 .4 29.7 .5 16 .4 17 .5-9.4 .4-26.6 .5 17.2 .4 25.9 .5 2.2 .4 48.8 .5-50.3 .4 26.2 .5-29.1 .4 37.6 .5 10.6 .4-11 .5 21.4 .4-38.3 .5 24.8 .4 .8 .5 2.9 .4 15.9 .5-15.5 .4 7.6 .5-30.8 .4 35.3 .5-5.4 .4 17.4 .5-.8 .4-.5 .5-30.6 .4 24.9 .5-16.2 .4 25.4 .5 3.6 .4 31.8 .5-51.1 .4-21.4 .5 45.8 .4-29.1 .5 13.6 .4 31.5 .5-24.4 .4 33.9 .5-8.2 .4-25 .5 22.7 .4 27.7 .5-43.9 .4 49.1 .5-13.7 .4 6.5 .5-.1 .4 15.5 .5 17 .4-59.4 .5 52.6 .4 1.4 .5 29.7 .4-42.4 .5-19.1 .4-.1 .5-22.1 .4 23.5 .5 20.2 .4 7.8 .5-23.2 .4 26.3 .5-3.1 .4 20.6 .5-17.4 .4-31.2 .5 35.3 .4-7.5 .5 47.7 .4-62.9 .5 16.6 .4-17 .5 19.8 .4 18.5 .5 8.8 .4-30.5 .5 9.2 .4 16.2 .5-14.4 .4 10 .5-21.5 .4 19.2 .5 14.1 .4-17.5 .5 8.7 .4-31.9 .5 32.6 .4 14.9 .5-19 .4 4.5 .5-7 .4 2.2 .5 21.3 .4-14.1 .5 2.4 .4 18.8 .5-8.3 .4-10.6 .5 29.7 .4-6.4 .5-8.2 .4-4.3 .5-7.9 .4 30.6 .5-24.3 .4-3.6 .5-12.9 .4 31.6 .5 8.8 .4 10.5 .5-30.9 .4-10.3 .5 30.8 .4-16.6 .5-5.8 .4-1.1 .5 20.7 .4-15.5 .5 10.4 .4 13.4 .5-17.9 .4-1.4 .5 19.8 .4-20.4 .5-22.3 .4 51.7 .5-31.5 .4-2.2 .5 13.5 .4-2.8 .5 9.8 .4-21.6 .5 34.4 .4-9.6 .5 27.5 .4-29.9 .5 1.4 .4 30.7 .5-9.2 .4-16.6 .5 15.5 .4 11.9 .5 19.5 .4-36.9 .5-19.6 .4 34 .5-10.3 .4 1.7 .5 8.1 .4-1.1 .5 1.1 .4 14.1 .5-42.7 .4-1.5 .5 32.5 .4-17.5 .5 34.9 .4-6.2 .5-15.7 .4 30.5 .5 3.5 .4-19.1 .5 30.5 .4-44.7 .5 13.5 .4 7.5 .5-4.2 .4 20.5 .5 1.4 .4-20.9 .5-.4 .4 10.5 .5 3 .4 6.5 .5-22.8 .4 34.9 .5-7.4 .4-3.7 .5 11.8 .4-2.5 .5-3.7 .4-24.2 .5-9.4 .4 17 .5 22.8 .4-12 .5-5.5 .4 1.5 .5 1.3 .4-10 .5 28.5 .4-15.3 .5-8.7 .4-5.2 .5 5.5 .4 3.6 .5 2.4 .4 6.5 .5-7.9 .4 3.9 .5 6.1 .4-20.8 .5 .7 .4 17.8 .5-10.6 .4-6 .5 10.7 .4 1.8 .5-3.8 .4 23.7 .5-2.3 .4-21.4 .5 2.7 .4-12.1 .5 20.2 .4-17.5 .5 .3 .4-10 .5 29.8 .4-4.9 .5-6.9 .4 0 .5 13.6 .4-4.5 .5 8 .4-38.3 .5 25.7 .4-.1 .5 6.9 .4-6.2 .5-7.4 .4 12.6 .5-2.5 .4-22.5 .5 13.9 .4 8 .5 7.7 .4-3.5 .5 8.4 .4-9.9 .5 10.7 .4 1.3 .5-2.6 .4 7.6 .5-12.5 .4-23.4 .5 33.1 .4 11.2 .5-26.6 .4 11.3 .5-21.1 .4 16.7 .5-5.5 .4 17.6 .5 8.4 .4-14.3 .5-8.7 .4 15.6 .5 7.4 .4-10.1 .5-1.6 .4-1.1 .5-2.9 .4-24.3 .5 24.1 .4 5.6 .5 6.3 .5-18.5 .4 24.4 .5-29.8 .4 15.2 .5 15.6 .4-16.1 .5 3.8 .4-12.6 .5 28 .4-16.1 .5 3 .4-8.5 .5 21.1 .4-2.9 .5-26.4 .4 14.5 .5 20.5 .4-17.3 .5 11.2 .4-.6 .5 5.5 .4-21.3 .5 15 .4-7 .5 1.4 .4 15.7 .5-7.5 .4-14.5 .5 22.8 .4-17.6 .5 3.5 .4-7.2 .5-.4 .4-1.3 .5 7.5 .4-1.9 .5 9.2 .4-1.5 .5-13.9 .4 14.3 .5-15.7 .4 .1 .5 17 .4-13.1 .5 12.8 .4-11.3 .5 10.3 .4-10.9 .5 1.2 .4 11 .5-29.7 .4 10 .5 23.8 .4-18.7 .5 7 .4-23.5 .5 19.7 .4-4.3 .5 5.3 .4-7.6 .5 10.9 .4 3.5 .5-3.8 .4-.6 .5-9.8 .4 5 .5 5 .4-.3 .5 4.7 .4-9.7 .5 20 .4-16.8 .5-13.1 .4 14.4 .5 2.7 .4-6.4 .5 9.1 .4-1.5 .5-13.2 .4 12.3 .5-23.7 .4 13.2 .5 6.1 .4 5 .5-3.2 .4 18.7 .5-22.9 .4-5.8 .5 3.1 .4 9.4 .5-9.3 .4 0 .5 7.3 .4-4 .5-6 .4 5.7 .5 8 .4-3.1 .5-.8 .4 16.4 .5-15.2 .4 2.9 .5 19.1 .4-3.4 .5-31.1 .4 16.1 .5-10.5 .4 16.2 .5-16.5 .4 9.4 .5 11.9 .4-8 .5-11 .4-6.9 .5 17.4 .4 9.1 .5 4.2 .4-13.5 .5-3.3 .4 8.8 .5 2.4 .4-8.2 .5 3.1 .4 .8 .5 17 .4-10.8 .5-20 .4 16.7 .5-21.9 .4 17.9 .5 5.7 .4-5.3 .5-3.1 .4 11.5 .5-8.8 .4 5.6 .5-16.8 .4 16.7 .5-5.3 .4 14.2 .5-1.4 .4-11.4 .5 7.2 .4-5.6 .5-4.7 .4-2.9 .5 17.2 .4-10.7 .5-7.4 .4 11.8 .5 5.5 .4-5.2 .5-20.2 .4 14.2 .5-13.3 .4 16.4 .5-13 .4 23 .5-10.4 .4-2.9 .5-14.6 .4 11.1 .5-5.7 .4 13.4 .5-.1 .4-14.7 .5-1.4 .4 1.7 .5 .2 .4 15 .5-23.1 .4 17.2 .5-9.4 .4 4.6 .5 21.8 .4 1.7 .5-2.8 .4-13.2 .5-9.9 .4 12 .5-9.1 .4 18.1 .5-5 .4 2.8 .5-7.6 .4 10.5 .5-8.5 .4-5.6 .5 9.5 .4 4 .5-3.4 .4 6.9 .5-1.2 .4-15.4 .5 4.3 .4 15.5 .5-9.6 .4-5.9 .5-2.6 .4 1.8 .5-2.5 .4 9.1 .5 .1 .4 2.4 .5-11.1 .4 2.4 .5-7.6 .4 5.8 .5 16.5 .4 5.7 .5-.7 .4-4.3 .5-12.9 .4 16.9 .5 5.2 .4-15.8 .5-8.6 .4 .1 .5-7.7 .4 14.1 .5 4.3 .4-2.4 .5 8.6 .4-5.7 .5-16.6 .4-6.9 .5 6.8 .4 8 .5 4.4 .4-4.2 .5 17.7 .4-20.7 .5-1.8 .4 7.6 .5-1.3 .4 14.4 .5-20.8 .4 0 .5 29.6 .4-18.3 .5-7.9 .4-11.3 .5 20.9 .4-7.2 .5-13 .4 7.9 .5 5.4 .4 1.6 .5-4.3 .4 6.6 .5-15.2 .4 15.6 .5-11.9 .4-3 .5-2.1 .4 9.3 .5 1.1 .4-2.3 .5 2.4 .4-8 .5 10.4 .4-16.3 .5-6.7 .4 28.9 .5-8.2 .4 13.4 .5-15.3 .4 3.1 .5 5.6 .4 7.1 .5-8.7 .4-16.1 .5 3.4 .4 10.1 .5 8.1 .4-4.9 .5 6.1 .4 4.3 .5-3.6 .4-13.2 .5 2.1 .4 .7 .5 10.1 .4 2.2 .5-20.2 .4 10.9 .5-12.9 .4 15.6 .5-14.3 .4 5.9 .5 5.4 .4-.1 .5-19.2 .4 8 .5 9.7 .4-3.6 .5 13.9 .4-26.7 .5 2.5 .4 14.5 .5-7.2 .4 26 .5-30.6 .4 3.9 .5 1.5 .4-4.8 .5 4 .4 10.1 .5-2.5 .4-4.4 .5-9 .4 6.8 .5 5.4 .4-8.5 .5 12.7 .4-26.8 .5 14.3 .4 10.4 .5-9.2 .4-7.1 .5 4.5 .4-11.8 .5 28.1 .4-23.9 .5 13.4 .4-6.9 .5-6.4 .4 23.8 .5 2.2 .4-7.9 .5 10.6 .4 3.2 .5-16.5 .4-8.3 .5 13.5 .4-7.6 .5-25.1 .4 27 .5 5.3 .4-1 .5-4.6 .4 5.8 .5-7.7 .4 3.8 .5-5.6 .4 6.1 .5 1.8 .4 6.6 .5 3.4 .4-8.9 .5 .7 .4-5.6 .5 2.7 .4 2.3 .5-21.2 .4 15.2 .5-7.2 .5 17.6 .4-16.2 .5-1.5 .4 5.5 .5 10.4 .4-17.2 .5 15.5 .4 6.3 .5 .3 .4-13.4 .5 4.2 .4-10.4 .5 .9 .4-5.7 .5 8 .4 1.6 .5 .8 .4 6.2 .5 .4 .4-.8 .5-7.4 .4 8.5 .5-5.9 .4-9 .5 27.2 .4-11.8 .5 .9 .4-7.6 .5 11.6 .4-6.4 .5-23 .4 28.6 .5-9.8 .4-2.1 .5 4.2 .4 7.2 .5-16.9 .4 22.8 .5-7.1 .4-5.6 .5 3.3 .4-13.7 .5 11.7 .4-17 .5 15 .4-11.7 .5 8.9 .4 5.5 .5 .7 .4-9.8 .5 12.5 .4-3.5 .5 6.3 .4 10.1 .5-19.4 .4-.2 .5 14.7 .4-12.4 .5 6.1 .4 13.2 .5-6.9 .4-11.9 .5-2.5 .4 5.2 .5-18.1 .4 18.9 .5 8.5 .4 5.7 .5-22.6 .4 15 .5-.8 .4 3.3 .5-.2 .4-3.7 .5-6.6 .4-1 .5 1.1 .4-5 .5 10.5 .4 3.6 .5-7.8 .4 14.9 .5-22.4 .4 2.4 .5-.3 .4 12.2 .5-4.5 .4-3.8 .5 7.9 .4 .7 .5-6.4 .4-2.5 .5 6.5 .4-12.5 .5-8.5 .4 12.7 .5 6.1 .4 1.5 .5-14.1 .4 10.2 .5-1.8 .4 3.3 .5 6.3 .4-15.3 .5 13.5 .4-2.7 .5 17.4 .4-32 .5 10.6 .4 6.4 .5 5.2 .4-1.4 .5 8 .4-16.3 .5 9.8 .4-10 .5-.5 .4-11.2 .5 12.2 .4-1 .5-1.9 .4 7.9 .5-3.2 .4-4.6 .5-6.4 .4 2.7 .5 7.2 .4-11.2 .5 11.6 .4 8.3 .5-22.7 .4 11.3 .5 3.6 .4 5.7 .5-5.5 .4-15.2 .5 13 .4-16.3 .5 16.3 .4-7.7 .5 8.3 .4 3.9 .5 .1 .4-.9 .5 7.2 .4 .5 .5-11.4 .4-6.1 .5 8.1 .4 1.1 .5 7.2 .4-14.5 .5 .8 .4 16.3 .5-8.7 .4 3.2 .5 8.7 .4-22.1 .5 3.4 .4 6.5 .5-7.5 .4 14.3 .5-5.3 .4-7.3 .5 12.2 .4-3.8 .5 9.5 .4-11.2 .5-3.3 .4 15.5 .5-1.1 .4-5 .5-10.5 .4 13.6 .5 2.2 .4-5.5 .5-9.2 .4 18.6 .5-10.1 .4-11.1 .5 9.1 .4 1.3 .5-8.6 .4 14.2 .5-23.6 .4 10.8 .5 5.8 .4-3.6 .5 .8 .4 1.3 .5 6.5 .4-7 .5 10.3 .4-21.7 .5 17.7 .4-2.6 .5 .7 .4-10.3 .5 6.8 .4-11 .5 13.7 .4-3.7 .5 2.1 .4 2.5 .5-9.6 .4-.2 .5 0 .4 19.2 .5-11.5 .4 10.6 .5 .6 .4 4.9 .5-5.6 .4-10.4 .5-5.3 .4-2.1 .5 18.4 .4-1.8 .5-5.8 .4 .7 .5-.4 .4 13.6 .5-10.7 .4-5.4 .5 2.1 .4 2.5 .5 4 .4-4.5 .5-11.9 .4 7.2 .5-4.1 .4-4.5 .5 18.4 .4-12.4 .5 1 .4-6.3 .5 10.3 .4-.5 .5 2.7 .4-6 .5 2.9 .4-1 .5-3.4 .4 4.7 .5 3.7 .4-3.5 .5 1 .4-6.4 .5-5.4 .4 11 .5 14.5 .4-20.1 .5 4.8 .4 6.3 .5-4.2 .4-13.7 .5 22.9 .4-1.7 .5-6.9 .4 20.9 .5-17.2 .4-9.1 .5 3.4 .4 1.6 .5 5.3 .4-.7 .5-18.8 .4 17.2 .5-6.9 .4 17.7 .5-9.6 .4-.4 .5 1.7 .4 15.6 .5-11.4 .4-12.4 .5 5.9 .4 8.7 .5-11.2 .4 17.8 .5-16.7 .4 1 .5 5.7 .4 1.9 .5 3.4 .4-10.3 .5-13.7 .4 4.8 .5 2.1 .4-4.3 .5 9.1 .4-8.1 .5 21.7 .4-16.5 .5-.7 .4-3.3 .5 .3 .4-5.3 .5 7.6 .4-10.2 .5 7.5 .4-7.3 .5 4.9 .4-4.6 .5 2.7 .4 7.1 .5-4.8 .4 9.9 .5-8.4 .4-1.9 .5 4.6 .4-.5 .5-7.1 .4-1.2 .5-1.1 .4 13.1 .5-.6 .4-7.5 .5-.3 .4 17.7 .5-23.8 .4 5.6 .5 15.7 .4-14.9 .5 10.4 .4-1.6 .5 5.8 .4-.8 .5-2.5 .4-2.8 .5 7.7 .4-6.5 .5 4.1 .4-1.1 .5 2.2 .4-1.7 .5-14.1 .4 20.2 .5-2 .4-7.9 .5 2.6 .4 3.3 .5-9.2 .4 9.8 .5-7.3 .4-6 .5 2.4 .4 5.3 .5-1.8 .4-1 .5-2.6 .4 9.7 .5-13.7 .4 3.2 .5-6.8 .4 6.5 .5-1.1 .4 24.7 .5-15.4 .5-14.1 .4 9.2 .5 5.3 .4-7 .5 3.8 .4-1.9 .5 7 .4-7.6 .5-6 .4 8 .5-1.1 .4 7.1 .5-7.1 .4 5.7 .5 5.9 .4-5.5 .5-1 .4-4.7 .5-2.3 .4 7.1 .5 1.1 .4-6 .5 9.4 .4-3.4 .5-.6 .4-.5 .5 2.6 .4-13.6 .5 4 .4 6.8 .5 7.6 .4-5.6 .5-6.6 .4 15.4 .5-26.5 .4 15.5 .5 .1 .4-3.9 .5 12.7 .4-8.6 .5 .7 .4-3.9 .5 10.6 .4-9.5 .5-3.1 .4 5.5 .5 5.2 .4 1.9 .5 5.5 .4-7.3 .5-6.5 .4-6.1 .5 2.4 .4-1.3 .5 9.5 .4-.6 .5 6.1 .4-5.6 .5 2.2 .4-5.7 .5-5.9 .4 4.3 .5 .9 .4-6.2 .5-5 .4 2.4 .5 16.4 .4-20.2 .5 13.1 .4 6.1 .5-6 .4-7.5 .5 21.9 .4-22.7 .5 6.9 .4-1.4 .5 11.8 .4-4.2 .5 4 .4-13 .5 11.9 .4-6.3 .5 6.4 .4 6.2 .5-14.6 .4-1.6 .5-1.6 .4 12.1 .5-3.3 .4-3.6 .5 2.2 .4 .9 .5-12.2 .4 16.1 .5-7.4 .4 8.4 .5-11.1 .4 9.8 .5 4.4 .4-9.9 .5 4.2 .4 2.6 .5-.8 .4 2.4 .5-6.5 .4 1.1 .5-7.8 .4 13.5 .5-12.3 .4 4.9 .5 11.1 .4-17 .5 18.5 .4-13.4 .5 13.3 .4-12.6 .5 3.3 .4-.9 .5 9.1 .4-6.9 .5-11.5 .4 2.9 .5 3.6 .4 .1 .5 2.7 .4-12.2 .5 8.3 .4-6.6 .5 14.5 .4 .2 .5-16.7 .4 12.6 .5-4 .4-3.9 .5-2.6 .4 1.5 .5 .4 .4-6.2 .5 7.7 .4-3.8 .5 4.8 .4-.7 .5-9.9 .4 12.1 .5 12.9 .4-14.7 .5-.6 .4-9.2 .5 12.6 .4 4.6 .5-7 .4-9.4 .5 12.6 .4-8.7 .5 4.7 .4-.4 .5 8.8 .4-4.6 .5 5.4 .4-4.1 .5 4.5 .4-9.7 .5 9.6 .4-1.3 .5 11.5 .4-6.7 .5-19 .4 16.1 .5 6.9 .4-8.9 .5 1.2 .4 1.5 .5-1.2 .4 .8 .5-8 .4 11.7 .5-8.1 .4-3.7 .5 9.4 .4-17.8 .5 12.1 .4 .8 .5 2.4 .4-7.5 .5 13.2 .4-12.1 .5-9.1 .4 10.4 .5-2.7 .4 9.8 .5-9.4 .4 8.7 .5-1.7 .4-2.4 .5-10.4 .4 13.9 .5 7.6 .4-11.4 .5-3.5 .4 .7 .5 2.5 .4-6.3 .5 2.7 .4 .2 .5 7 .4 5.8 .5-16.9 .4 13.8 .5-11.7 .4 .7 .5 13 .4-2.7 .5-5.7 .4-2.9 .5 10.7 .4-3.4 .5 4.3 .4 1.2 .5-6.9 .4 3.3 .5 8.8 .4-13 .5 4.6 .4 .4 .5 5.4 .4-10.9 .5 2.6 .4 .2 .5 2.3 .4-2.1 .5-6.5 .4 7.8 .5-.1 .4 3.8 .5-5.9 .4 5 .5 2.7 .4-10 .5 7.1 .4 3.9 .5-.7 .4-.9 .5 3 .4-13.6 .5 4.7 .4 10.5 .5-13.7 .4 8.3 .5-3.5 .4 3.3 .5-4.6 .4 0 .5-2.3 .4-.6 .5 18 .4-11.3 .5-2.7 .4 .7 .5 6.5 .4-5.9 .5-1.2 .4 9.8 .5-6.5 .4-8.6 .5 7.7 .4-3.1 .5-1.1 .4-2.8 .5-1.3 .4-1.8 .5 4.9 .4-.4 .5 1.8 .4-1.7 .5 1.8 .4-4.5 .5 .4 .4 11.2 .5 4.9 .4-14.1 .5 5.3 .4 5.6 .5-13.1 .4-2.8 .5 14.1 .4-1 .5-1.3 .4 .6 .5-3.6 .4 5.3 .5-5.9 .4 1.9 .5-7.7 .4 6 .5-5.4 .4-3.3 .5 4.9 .4-.9 .5 5.8 .4-2.8 .5-12.1 .4 4.5 .5 6.8 .4 2.1 .5-1.5 .4-6.8 .5 16.3 .4-12.2 .5 8.1 .4-14.4 .5 14.9 .4-12.4 .5 6.3 .4-1.6 .5-8.5 .4 8.8 .5-3.5 .4 1.6 .5 8.2 .4-5.7 .5-5.1 .4 3.4 .5 .9 .4 4.8 .5-11.7 .4 11.1 .5-12.3 .4 8.4 .5-2.6 .4 11 .5-7.9 .4 5.5 .5-5.4 .4-5.8 .5 4.4 .4 .6 .5-3.7 .4 11.3 .5-6.7 .4 3.8 .5-8.8 .4 9.5 .5-12 .4-2.1 .5 21.7 .4-10.1 .5 7.6 .4-14.5 .5 11 .4-7.6 .5 1.7 .4 6.6 .5 3.2 .4-13.6 .5 8.9 .4-4.4 .5-5.9 .5 7.5 .4 1.5 .5 3.8 .4-7.7 .5 6.7 .4 4.6 .5-5.6 .4 .3 .5 5.3 .4-7 .5-5.2 .4 1.4 .5-7.2 .4 4.8 .5 4.7 .4 12 .5-11.4 .4-4.9 .5 7.8 .4-8.6 .5 12.2 .4-6 .5-2.8 .4-4.5 .5 9 .4-10.3 .5 11.8 .4 7.4 .5-8.7 .4-7.8 .5 8.9 .4-10.3 .5 9.4 .4-10.9 .5 21.2 .4-23.3 .5 22.3 .4-10.3 .5 5.9 .4-7.8 .5 2.8 .4 .4 .5-4.8 .4-1.7 .5 6.8 .4-8.1 .5 15.5 .4-3.4 .5 1.6 .4-9.5 .5-2.2 .4 7 .5 1.1 .4 2.9 .5-9.8 .4-2.4 .5 8.7 .4-2 .5 1 .4-2 .5-2.7 .4 13.7 .5-8.8 .4-7.2 .5 8.7 .4-11.4 .5-1 .4 12 .5-1 .4-11.1 .5 15.1 .4-3.2 .5 2.8 .4-8.7 .5-1.8 .4-.7 .5 1 .4 8.7 .5-13.2 .4 6.5 .5 1.9 .4-10.7 .5 8.5 .4-.9 .5-2.2 .4-5.8 .5 10.7 .4-3.3 .5 15.8 .4-6.7 .5-15.3 .4 .5 .5 11.2 .4 4 .5 2.5 .4-.8 .5-3.2 .4 5.9 .5-8.4 .4 .2 .5 5.3 .4 .1 .5-.8 .4-3.8 .5-1.6 .4-4.4 .5 11.6 .4-7.5 .5-2.2 .4-1.8 .5-3 .4 6.2 .5-8.5 .4-5.6 .5 9.3 .4-5.7 .5 2.9 .4 2.6 .5 3.4 .4-2.3 .5-9 .4 10.1 .5 4.5 .4-1.3 .5-6.2 .4 7.3 .5-7.6 .4 1.1 .5 2.8 .4-7 .5 15.1 .4-3.6 .5-1.8 .4-2.8 .5 8.9 .4-3.9 .5-9.5 .4 8.5 .5-6.7 .4 5.7 .5 2.4 .4-6.6 .5-4.3 .4 6.6 .5 6 .4-2.9 .5-2 .4-1.2 .5 3.1 .4-8.5 .5 8.5 .4-10.5 .5 9.9 .4-.6 .5-10.8 .4 2 .5 5.1 .4 1.2 .5-1.9 .4-1.3 .5-1 .4-3.9 .5 9.5 .4-4 .5-.2 .4 7.3 .5-12.4 .4-2.4 .5 8.5 .4 8.9 .5-4.6 .4-8.5 .5 14.8 .4-.1 .5-7.3 .4-4.7 .5-1.8 .4-.9 .5 16.8 .4-8.9 .5 1.9 .4 0 .5-8.7 .4 1.7 .5 5.7 .4-4.7 .5 0 .4-5.2 .5 8.9 .4-5.8 .5 6.6 .4-5.7 .5 2.4 .4-1.3 .5 1.4 .4-7.3 .5 10.9 .4 1.3 .5-1.7 .4-4.7 .5-1 .4 3.9 .5 3.1 .4-1.1 .5 1.6 .4-5.5 .5 2.7 .4-.9 .5 1 .4 .2 .5-4.9 .4 8 .5-4.1 .4 0 .5 5.7 .4-11 .5 6.7 .4 6.5 .5-9.8 .4 1.8 .5-.7 .4 4.2 .5 .6 .4-2.5 .5 6.9 .4-7.4 .5 .2 .4-4.1 .5 5 .4-4.1 .5 9.1 .4-3.3 .5-7.5 .4-3.4 .5 2.4 .4 10.9 .5-2.4 .4-2 .5-8.8 .4 8.6 .5-4 .4-1 .5 .1 .4 3 .5-2.1 .4-2.2 .5 3.4 .4 1.2 .5-3.6 .4-3.2 .5-4.2 .4 16.9 .5-6.3 .4 .9 .5 5.7 .4-3.6 .5 1.9 .4 1.5 .5-1.6 .4-5.7 .5 7.8 .4-2.3 .5-1.8 .4 4.1 .5 1.1 .4 1.7 .5-3.8 .4-9.9 .5 14.4 .4-11.7 .5 8.1 .4 .2 .5-7.9 .4 1 .5-.4 .4 3 .5-4 .4 6.8 .5-4.4 .4-2.8 .5 4.7 .4 3.8 .5-11.6 .4 8.7 .5 3.4 .4-7.3 .5-3 .4 3.2 .5 8 .4-5.8 .5-1.1 .4-1.5 .5 9.4 .4-.7 .5-6.7 .4 .9 .5-2 .4-3.2 .5 11.6 .4-.9 .5-2.4 .4-9.6 .5 8 .4-5.3 .5 15.4 .4-11.8 .5-3.2 .4-2.2 .5 9.7 .4-12.5 .5 13 .4-10.4 .5-1.1 .4 8.2 .5 5.9 .4-16.2 .5 8.5 .4 7.3 .5-7.6 .4 7.2 .5-5.5 .4 6 .5 5.5 .4-13.5 .5 6.4 .4-2.5 .5-1.1 .4 1.4 .5 2.6 .4-4.9 .5-1 .4 1.8 .5 2.6 .4-1.8 .5-6.7 .4 1.3 .5 6.6 .4-3.9 .5 0 .4-.1 .5 2.4 .4-2.1 .5 3.7 .4-4.8 .5 .7 .4-.8 .5 0 .4 .4 .5 6.1 .4 1.7 .5-6.1 .4 2.4 .5-5.3 .4 6.2 .5-.9 .4 3.9 .5-5.7 .4 1.2 .5-7.2 .5 4.8 .4-6.3 .5 9.7 .4 3.7 .5-12.3 .4 2.6 .5-4.9 .4 10.1 .5 4.9 .4-15.1 .5 5.8 .4 4 .5-12.4 .4 9.5 .5 3.9 .4-5.4 .5 4.2 .4 1.4 .5-5.6 .4 1.8 .5 1.1 .4-.3 .5 5.7 .4-9.3 .5-5.3 .4 7.4 .5-4.5 .4-3.2 .5 10 .4 2 .5 1.2 .4-2.3 .5-5.7 .4 4 .5-6.1 .4 8.1 .5-10.5 .4 8.7 .5-1.2 .4-.9 .5 1.1 .4-.7 .5-3.3 .4 3 .5-2.7 .4 5.4 .5-.1 .4 2.6 .5-9.7 .4 6.8 .5-5.9 .4 1.4 .5-.2 .4 1.5 .5-3.7 .4 .3 .5-5.1 .4 8.4 .5 .8 .4 3.9 .5-14.9 .4 13.1 .5-6.5 .4 .5 .5 9.2 .4-2.2 .5-5.8 .4 3.7 .5 6 .4-5.9 .5-5.9 .4 5.5 .5-.6 .4-3 .5-3.7 .4 9.7 .5 3.1 .4-2.3 .5 1.9 .4 4 .5-5.3 .4 3.6 .5-9.9 .4 6 .5 11.2 .4-7.1 .5-6.4 .4 4.2 .5 1 .4-1.3 .5 1.1 .4-6.6 .5 4.6 .4 1.8 .5-8 .4 8.9 .5-6.5 .4 5.3 .5-2.8 .4 .1 .5 2.7 .4-2.6 .5-9.5 .4 11.5 .5-14.2 .4 5.1 .5-3.5 .4 9.1 .5-7.3 .4 3.8 .5-8.4 .4 11 .5-7.6 .4 8.1 .5-9.1 .4 7.9 .5 3.4 .4 1.1 .5-3.5 .4-9.5 .5 12.9 .4-2.4 .5-2.9 .4-.5 .5-.8 .4-6.1 .5 8.3 .4 5.6 .5-9.7 .4 5.3 .5-.7 .4-1.5 .5-6.5 .4 1.8 .5 5.4 .4 2 .5-3.4 .4 5.6 .5 4.7 .4-4.8 .5-7.2 .4 7.7 .5-.6 .4-8.6 .5 .1 .4 0 .5 10.3 .4-5.7 .5-3.8 .4 1.4 .5 6.3 .4-.8 .5 2.4 .4-1.1 .5-4.1 .4-.1 .5 5.5 .4-6.9 .5 2 .4-5 .5 8.2 .4-3.4 .5 11 .4-13.4 .5 .9 .4-1.2 .5 3.7 .4 .1 .5 .5 .4-5.8 .5 10 .4-3.8 .5-3 .4 4.4 .5 2.6 .4-2.7 .5-2.6 .4-5.5 .5 9.5 .4 7.4 .5-14.1 .4 4.6 .5-2.6 .4 3.2 .5-.3 .4 8.3 .5-11.1 .4 7.4 .5-7.9 .4 11.3 .5-13.8 .4 5.9 .5 9.4 .4-10.7 .5 .1 .4 0 .5 5.4 .4-14.8 .5 12.2 .4-6.5 .5 15.5 .4-13.7 .5 .7 .4 2.3 .5-5.5 .4 8.2 .5-4.6 .4 2.3 .5-1.4 .4 5.6 .5-7.1 .4 .5 .5 1.2 .4 .1 .5 3.2 .4 1.1 .5-1.6 .4-2.4 .5 7.1 .4-4.8 .5-7.2 .4 3.8 .5 7.4 .4-9.5 .5 12.8 .4-6.5 .5-5.8 .4 1.9 .5 1.4 .4 6 .5 2.6 .4-9.6 .5 1 .4-6.2 .5 9.8 .4 2.2 .5-2.5 .4 5.5 .5-6.5 .4-1.5 .5 .4 .4-8.9 .5-.5 .4 9.5 .5 .7 .4-8.2 .5 .7 .4 9.9 .5-2.3 .4 .1 .5 2.1 .4-3.3 .5 2.9 .4-8.9 .5 1.1 .4 9.6 .5-4.8 .4-.3 .5-8.8 .4 8.8 .5-6.8 .4-3.4 .5 10.8 .4-6.3 .5 1.8 .4-3.6 .5 9.8 .4-4.4 .5 5.6 .4-10.4 .5 11.9 .4-8.9 .5 7.4 .4-3.5 .5 .6 .4-3.7 .5-1.9 .4-2.4 .5-.7 .4 6.1 .5 5.2 .4-10 .5 11.1 .4-5.3 .5 3.3 .4-.2 .5-3.4 .4 6 .5-4.4 .4 .1 .5-4.9 .4-.3 .5 1.7 .4 3.2 .5-7.3 .4 3.3 .5 9.9 .4-6.9 .5-.7 .4 5.7 .5-4.8 .4 2.4 .5 2.4 .4-4.2 .5 2.9 .4 2.5 .5-5.5 .4 8.1 .5-13.3 .4 6.4 .5-2 .4-4 .5-.1 .4 5.3 .5-2.9 .4-3 .5-2.2 .4 9.5 .5-5.1 .4 5.9 .5-1.1 .4-3.8 .5 .3 .4 3.6 .5-1 .4-3.8 .5 5.8 .4-7.2 .5 5.9 .4-11.5 .5 5.3 .4-2.5 .5 4.9 .4-6.4 .5 2.7 .4-.9 .5 2.9 .4-2.1 .5 3.3 .4-2.9 .5 4.2 .4 .2 .5-1.8 .4 .4 .5 .9 .4 3.4 .5-2 .4-5.1 .5 3.8 .4-.8 .5 3.9 .4-8.2 .5 7.1 .4-3.2 .5 2.6 .4-5.3 .5 12.2 .5 2.2 .4-7.5 .5 9.4 .4-7.5 .5-.4 .4-2 .5-4.1 .4 8.7 .5-8.2 .4-3.3 .5-1.6 .4 11.9 .5-3.3 .4-9.9 .5 12.8 .4-9.3 .5 3.5 .4-.7 .5 9.9 .4-.9 .5-2.1 .4-6.3 .5-.6 .4 7.3 .5-4.5 .4 .9 .5 5.1 .4 .9 .5 4 .4-3.3 .5-1.1 .4-8.8 .5 1.9 .4 4.6 .5-2.1 .4 5.2 .5 5.6 .4-10.4 .5-1.4 .4 5.8 .5-8.9 .4 .5 .5 .8 .4 11.4 .5-8.7 .4-3 .5 6.2 .4-2 .5-6.5 .4-5.7 .5 5 .4 2 .5 2.9 .4 2.1 .5-1.4 .4-5.7 .5 3.4 .4-8.3 .5 11.4 .4-1 .5-5.1 .4-1.4 .5 .3 .4 5 .5-1.7 .4-7.5 .5 5.6 .4 .4 .5-5 .4 1 .5 1.7 .4-7.2 .5 13.3 .4-7.4 .5 4.3 .4-6.8 .5 8.7 .4-6.9 .5 4.8 .4-12.5 .5 10.2 .4-8.3 .5 12.7 .4 0 .5-3.9 .4 9.3 .5-3 .4-10.2 .5 2 .4 6.2 .5-5.5 .4 3.3 .5 .3 .4 6.5 .5-8 .4 6.9 .5-8.7 .4 11.1 .5-15.1 .4 13.8 .5 3.1 .4-.9 .5-6.5 .4 .4 .5 4.2 .4-6.3 .5-5.2 .4 7.8 .5-2.9 .4-.6 .5 0 .4 11 .5-14.1 .4 6.5 .5-1 .4-4.7 .5 16.5 .4-15.1 .5 2.1 .4-6 .5 5.4 .4-4.3 .5 1.1 .4 9.8 .5-4.9 .4 2.9 .5-2.7 .4 3.5 .5 2.9 .4-5.9 .5 .9 .4-3.3 .5-5 .4 8.8 .5-.6 .4-6.1 .5 1.1 .4 11.1 .5-6.6 .4 6.4 .5-2.7 .4-1.5 .5-1.5 .4 .6 .5-2.3 .4-.6 .5-5.6 .4 3.2 .5 7.7 .4-10.6 .5 4.2 .4 6.1 .5-1.1 .4-4.6 .5-.5 .4-1.3 .5 7.8 .4-5.3 .5-10.4 .4 16.2 .5-1.8 .4-6 .5-1.1 .4 3.7 .5-3.2 .4 1.2 .5 3.2 .4-3.4 .5 1.2 .4-2.7 .5-1.4 .4 6.8 .5-3.3 .4 4.2 .5-2.9 .4-1.9 .5-2.4 .4 6.4 .5-5.9 .4 3.1 .5 .8 .4-.1 .5 1.7 .4-4 .5 6.9 .4-7.2 .5 4.3 .4-8.4 .5 8.5 .4-3.4 .5-1.5 .4-.1 .5-3.1 .4-.2 .5 7.7 .4 1.6 .5-7.8 .4 4.4 .5 2.4 .4-.4 .5-3.4 .4 .4 .5 12.5 .4-5.6 .5-.9 .4 2.1 .5-9.1 .4-.3 .5 5.8 .4-6.6 .5 7.3 .4-7.2 .5 2.4 .4 2.3 .5-1.4 .4 4.2 .5-7 .4 6.2 .5-4.1 .4 5.7 .5-.2 .4-4 .5-.2 .4-4.9 .5 6.1 .4-2.4 .5-.3 .4-7 .5 7.7 .4 5.3 .5 1.4 .4-4.6 .5-1.9 .4 5.2 .5 0 .4-.9 .5-3.8 .4-2.6 .5 5.7 .4 .6 .5-8.7 .4-2 .5 5.2 .4 4.9 .5 .1 .4-5.2 .5 10.3 .4-.5 .5-10.5 .4 10.2 .5-2.7 .4-11.8 .5 10.8 .4-7.6 .5 6.9 .4 3.5 .5-6.3 .4 2.3 .5-3.8 .4 9.8 .5-8.2 .4 1.3 .5-2.3 .4 2.3 .5 5.4 .4-9.7 .5 1.9 .4 0 .5 1.3 .4 1.1 .5 4 .4 5.1 .5-.9 .4-6 .5 8.7 .4-6.8 .5-6.4 .4 7.4 .5-12.1 .4 14.9 .5-10.1 .4 10.9 .5-9.8 .4-5.8 .5 8.2 .4 3.7 .5-.5 .4-7.6 .5-.9 .4 1.9 .5 4 .4 2.6 .5-.9 .4 1.1 .5 2.6 .4-11 .5-.6 .4 .1 .5-1.4 .4 10.3 .5 5.3 .4-8.5 .5 2.2 .4 3.7 .5-6.5 .4 3.7 .5-4.7 .4 1 .5 5.1 .4-3.8 .5 1.9 .4-3.9 .5 1.4 .4 3.5 .5-6.2 .4 2.4 .5-.6 .4-1.5 .5-9.1 .4 7.4 .5 2.2 .4 1.6 .5 4.1 .4-7.1 .5-.3 .4 2.2 .5-5.5 .4 1.4 .5-1.2 .4 3.9 .5-7.3 .4 3.9 .5 5.2 .4-2.5 .5-4 .4 7.1 .5-7.8 .4 7.3 .5 6.2 .4-10.4 .5 5.4 .4-2.1 .5 1.1 .4-4.9 .5 4.7 .4-3.4 .5 7.5 .4-3.7 .5 3 .4-2.3 .5-8.9 .4 12.5 .5-4.7 .4 3.2 .5-3.1 .4 5.4 .5-1.1 .4 5 .5-12.3" fill="none" stroke="#000" stroke-width="3.1" stroke-linejoin="round" stroke-linecap="round" stroke-dasharray="1 7"/>
<path d="M258.6 1274.3l.5-14.1 .4-1.7 .5 9.6 .4-.9 .5 7.9 .4 3.7 .5-.2 .4 .7 .5-17.1 .4 8.7 .5-1.7 .4 6.7 .5 4 .4 .9 .5-3.2 .4-12.6 .5 5.1 .4 4.2 .5-1.8 .4 10.5 .5-23.2 .4 21.5 .5-11 .4-18.2 .5 40.9 .4-9.9 .5-6 .4-7.3 .5 15.9 .4-12.9 .5-2 .4-1.9 .5 22 .4-26.5 .5-8.4 .4 9.8 .5 9.8 .4-1.2 .5 17.2 .4-27.1 .5-9.1 .4 7.1 .5 30.9 .4-22.2 .5-3.1 .4 3 .5-13.2 .4 23.5 .5-9 .4-11.4 .5-3.5 .4 6.9 .5-7.6 .4 4.5 .5 13.5 .4-19.9 .5 15.4 .4 9.7 .5-17.4 .4-11.5 .5 7.5 .4-.2 .5 7 .4 22.6 .5-26.5 .4 4.5 .5 23.7 .4-16.7 .5 1.9 .4-16.3 .5 7.9 .4-1.4 .5 .5 .4 13.2 .5 5.3 .4-16.9 .5 3.1 .4-2.3 .5 1.3 .4 2.9 .5-8.8 .4 3 .5 6.9 .4 10.6 .5 5.8 .4-9.7 .5-10.8 .4-9 .5 11 .4-9.3 .5-4.2 .4-10.4 .5 17.3 .4-10.4 .5 10.3 .4 12 .5 8.3 .4-21.8 .5-5.4 .4-13.5 .5 25.8 .4-10.1 .5 4.7 .4 18.4 .5-23.3 .4 5.4 .5 7.6 .4-25.1 .5 18.9 .4-9.3 .5 5.9 .4 3.6 .5-4.7 .4-8.1 .5 12.2 .4 8 .5-28.8 .4 11.3 .5 11.6 .4-7.3 .5 12.2 .4-12.6 .5-7.8 .4 23 .5-23.4 .4 .3 .5 8.8 .4-3.3 .5 3.4 .4 .7 .5 11.5 .4-29.2 .5 18.9 .4-6.9 .5 2.9 .4-5.8 .5-1 .4 13.2 .5-11.5 .4 5.3 .5 5.2 .4-18 .5 1.1 .4 17.3 .5-4.9 .4 5.9 .5 1.1 .4-1.3 .5-12.7 .4 16.3 .5 .3 .4-14.5 .5 8.2 .4-16.3 .5 17.9 .4-4.2 .5 2.2 .4 12.4 .5-22.3 .4-3.2 .5-2.5 .4 9.2 .5-7.4 .4 6.5 .5-.8 .4 5.6 .5-5.6 .4 6.3 .5-12.9 .4 10.4 .5 3 .4-7.7 .5-.4 .4 13.5 .5-5 .4-3.9 .5-7.7 .4-1 .5-1.9 .4 8.8 .5 4.9 .4 5.1 .5-12.6 .4 4.3 .5-6.9 .4-4.9 .5-8.3 .4 23.2 .5-12.1 .4 17.8 .5-22.4 .4 18 .5-9.3 .4 7.5 .5-22.1 .4 7.8 .5-3.1 .4 8.1 .5-4.5 .4 11.9 .5-5.1 .4-15.1 .5 26.2 .4-15.5 .5-9.2 .4 1.2 .5 3.6 .4 5.5 .5-10.6 .4 13.6 .5-1.8 .4 13.6 .5-15.9 .4 5.3 .5-2.4 .4 18.4 .5-8.7 .4-8.4 .5 8.4 .4-15.2 .5-11.8 .4 16.5 .5-4.3 .4 6.5 .5-.4 .4 7.3 .5-16.5 .4 14.3 .5-7.1 .4 .1 .5 4.6 .4-4.6 .5-5.1 .4-9.8 .5 8.2 .4-10.7 .5 7.5 .4 1.4 .5-2.8 .4 6.2 .5-9.4 .4 6.3 .5 .4 .4-13 .5 21.1 .4 1.4 .5-6.9 .4-2.5 .5 5.2 .4-9.2 .5 4.8 .4 .2 .5 13.3 .4-23.1 .5 12.8 .4 7.9 .5-17.5 .4 11 .5 5.6 .4 3.1 .5-8.7 .4 4.9 .5 2.7 .4-7.1 .5 .9 .4 2.3 .5-12 .4-4.7 .5 0 .4 13.8 .5 .7 .4 7.7 .5-10.9 .4 4.9 .5-9.7 .4 2.9 .5-7.8 .4 4.8 .5-4.7 .4-1.8 .5 23.5 .4-11.9 .5-10.6 .4 1.3 .5-2.2 .4 4.9 .5-10.2 .4 8.8 .5-2.1 .4 2.5 .5-11.1 .4-1.4 .5 6.4 .4-3.7 .5 19.1 .4-24.7 .5 23.4 .4-11.6 .5 14.5 .4-15.1 .5 .2 .4-22 .5 25.5 .4 12.3 .5-23.1 .4 3.4 .5-12.3 .4 2.7 .5 20.5 .4-11.4 .5-.5 .4-3.6 .5 3.3 .4-1.9 .5-3.4 .4 17.1 .5-7.3 .4-19.9 .5 .7 .4 8.2 .5-3.5 .4-4.3 .5-4.2 .4 12.3 .5 4.3 .4-16.3 .5 12 .4 4.4 .5-13.1 .4 5.9 .5-1.4 .4-.5 .5-8.1 .4 5 .5-.4 .4 12.9 .5-.4 .4-2.8 .5-4.6 .4-16.2 .5 14.9 .4-1.5 .5-22.2 .4 14.3 .5 6.4 .4-9.9 .5 4.6 .4-13.2 .5 6.6 .4 13.3 .5-19.2 .4 20.6 .5-29.5 .4 12.4 .5 22.4 .4-40.2 .5 26.2 .4 13.4 .5-40.4 .4 25.2 .5-7.7 .4-.3 .5-4.2 .4-6 .5 21.3 .4-42.9 .5 17.3 .4 5.3 .5-7.1 .4 4 .5-7.7 .4 .9 .5-2.6 .4 2.6 .5 5.5 .4-4.3 .5 5.5 .4-9.6 .5 18.1 .4 .2 .5-24.4 .4 23.9 .5-20.1 .4-4.5 .5 29.5 .4-26 .5-15.7 .4 21.5 .5-23.3 .4 27.1 .5 10.6 .4-14.5 .5-2 .4-19.2 .5 11.1 .4 3.2 .5-.9 .4-23 .5 33 .4-6.7 .5-10.3 .4-7.2 .5-9.7 .4-6.7 .5 18.7 .4-15.1 .5 15.6 .4-43.4 .5 27.8 .4 14.1 .5-30 .4 8.1 .5-14 .4 1.3 .5 27.9 .4-30.1 .5 10.6 .4-.9 .5-7.9 .4-.1 .5-5.9 .4-11.5 .5 9.8 .4-4.6 .5-15.5 .4 18.3 .5-9 .4 2.2 .5-14.5 .4 23.5 .5-15.8 .4-11.4 .5 7.1 .4-6.2 .5 6.4 .4-10.4 .5 5.6 .4-15 .5 8.4 .4 1.8 .5-9.9 .4 2.1 .5-43.3 .4 21.1 .5 1.1 .4 .2 .5-19.2 .4 11.6 .5-6.5 .4-3.3 .5-7.9 .4-6 .5 3.4 .4-23.8 .5 11.1 .4-28.1 .5-15.1 .4 16.7 .5-6.5 .4-23.4 .5 19.2 .4-8.3 .5 3.9 .4 3.8 .5 10.6 .4-14.8 .5 10.7 .4 9.9 .5 2.7 .4 14.4 .5-18 .4 4.7 .5-9.9 .4 32.6 .5-28.5 .4 24.7 .5-11.8 .4 41.1 .5-20.7 .4-.9 .5 30.5 .4-22 .5-3.4 .4 26.7 .5-19.7 .4 10.2 .5-3.9 .4 20.5 .5 13.1 .4-3.7 .5-4.4 .4 33.1 .5-26 .4 9.9 .5 6.8 .4 36.8 .5-15.8 .4-3.7 .5 6.8 .4-5.1 .5 17.6 .4 2.4 .5-13.7 .4 6 .5 13.4 .4 7.2 .5 15.7 .4-19.1 .5 13.1 .4-17.7 .5 26.1 .4-3.5 .5 9.5 .4-6.5 .5-20.3 .4 31.1 .5 7.7 .4-10 .5 3.1 .4 20.5 .5-22.7 .4 20.3 .5-16.3 .4 9.3 .5 7.3 .4-6.3 .5 10.1 .4 7.8 .5-5.6 .4-3.3 .5 11 .4-10 .5 10.8 .4-13.9 .5 6.4 .4 3.4 .5 18.3 .4-22.2 .5 21 .4-11.5 .5 7.4 .4-24.1 .5 14.1 .4-1.9 .5-2.6 .4 8.9 .5-8.5 .4 17.3 .5-18.2 .4 2.9 .5 4.8 .4 16.7 .5-.6 .4-4.9 .5-5.1 .4-8.4 .5 7.4 .4 .6 .5-1 .4 5.3 .5 1.1 .4-2.9 .5-8.4 .4 6.4 .5-1.2 .4-7.6 .5 23.7 .4-4.2 .5-10.9 .4 2.1 .5 7 .4 8.5 .5-11.2 .4-.1 .5-5.8 .4 13 .5-6.1 .4 12.5 .5 3.9 .4-27.3 .5 17.6 .4-9.5 .5 2.5 .4 4.1 .5-7.8 .4-4.3 .5 16.7 .4-3.3 .5 10 .4-10.5 .5-1.7 .4 7.4 .5-.7 .4 2.3 .5-2.9 .4-9 .5 9.4 .4-.1 .5 5.7 .4-9.8 .5 1.4 .4 5 .5-13.6 .4 20.6 .5-17.7 .4 5 .5 11.4 .4-11.9 .5-7.1 .4 3.3 .5 4.4 .4-5.4 .5 16.9 .4-8.6 .5 10 .4-6.2 .5-1.5 .4 .6 .5-.2 .4 3.3 .5-2.5 .4-1.7 .5-5.5 .4 8.9 .5-8.5 .4 15.8 .5-9.8 .4 1.8 .5 2.6 .4-11.8 .5 15.6 .4-3.2 .5 9.8 .4-.6 .5-2.2 .5-11.4 .4 8 .5 6.6 .4-5.9 .5-7.9 .4 14.2 .5-4 .4 4.9 .5-1 .4-7.4 .5 11.5 .4-6.9 .5-.3 .4 3.5 .5 2.7 .4-8.2 .5 7.7 .4 2.4 .5-16.7 .4 9.1 .5 9 .4-5.5 .5-1.3 .4-2.9 .5 2 .4-7.9 .5 1.4 .4-8.5 .5 25.2 .4-11.2 .5-.6 .4 13.5 .5-10.6 .4-14.5 .5 14.3 .4-5.2 .5 2.2 .4 12.8 .5-5.6 .4-9.1 .5-2.2 .4-2.8 .5 15.7 .4-7.3 .5 8.3 .4-2.4 .5 10.8 .4-13.8 .5-8.4 .4 8.8 .5 1.4 .4-1.5 .5 0 .4 11 .5-12.7 .4 8.4 .5-14.1 .4 6.5 .5 4.7 .4 .2 .5 15.8 .4-14.9 .5 .2 .4 .9 .5 4.4 .4-7.7 .5 1.7 .4 4.9 .5-2 .4 9.9 .5-14.2 .4 7.6 .5 9.4 .4-12.5 .5 1.1 .4-7.5 .5 8.8 .4 7.9 .5-.5 .4-13.9 .5 7.7 .4 4 .5-7.8 .4-6.1 .5 4.4 .4 5.7 .5-4.9 .4 9.2 .5-.7 .4-5.3 .5 5.6 .4-17.1 .5 5.6 .4 17.9 .5-10.1 .4 5.4 .5-11.8 .4 6.2 .5-6.6 .4-2.3 .5 8.1 .4-2.2 .5-6.5 .4 2.5 .5-4.3 .4 4.8 .5 8.8 .4-13.4 .5 15.4 .4-1.3 .5 6.2 .4-4.2 .5-11.3 .4 6.8 .5-4.6 .4 10.4 .5-8.8 .4-4.8 .5-.1 .4 7.2 .5-5.9 .4-6.4 .5 14 .4-6.8 .5 1.8 .4 1.9 .5 3 .4-1.3 .5-3.4 .4-4 .5 4.8 .4-2 .5-.2 .4-1.3 .5 14.3 .4-7.5 .5-1.3 .4-1.1 .5-4.5 .4-1 .5 .9 .4 2 .5 5.7 .4 3.4 .5-1.9 .4-12 .5 10.7 .4 .6 .5-9.8 .4 6.8 .5 6.4 .4-4.6 .5 5.7 .4 3.6 .5-13.3 .4-7.2 .5 3.9 .4 13 .5 .1 .4-13.2 .5 3 .4-1.1 .5-1.1 .4 6.5 .5-13 .4 14.6 .5-13.4 .4 7.7 .5 4.2 .4-4 .5 10.8 .4-2.2 .5-9.1 .4 6.2 .5-7.5 .4-4.7 .5 4.1 .4 6 .5-5.8 .4 4.1 .5 1.2 .4-1.3 .5 1.6 .4 5.3 .5 3.1 .4 .4 .5-11.7 .4 12.8 .5-18.3 .4 8.2 .5-2.2 .4-3.7 .5-5.5 .4 11.4 .5 0 .4-5.7 .5 5.5 .4-7.7 .5 8.9 .4-5.5 .5 1.6 .4 2 .5 1.6 .4 .7 .5-4.7 .4 3.1 .5-7.8 .4 16 .5-12.2 .4 1 .5-4.2 .4 8.6 .5-5.6 .4 5.7 .5 1.6 .4-7.8 .5 4.7 .4 5.6 .5 4.8 .4-11.3 .5 .5 .4 13.2 .5-7.9 .4-8.7 .5 9.1 .4-10.6 .5 6.9 .4 8.5 .5-2.5 .4-9.1 .5 2.9 .4-5.8 .5 10.8 .4-2.2 .5-10.7 .4 8.4 .5 9.5 .4-9 .5 1.7 .4 14.4 .5-16.6 .4-1.9 .5-4.1 .4 10 .5-7.4 .4 15.5 .5-16.6 .4 6.5 .5 5.2 .4-7 .5-3.5 .4 12.9 .5-16.4 .4-5.2 .5 8.4 .4-5.9 .5 8.7 .4 3.4 .5-8.7 .4-10.6 .5 11.5 .4 6.1 .5-1.1 .4-4.8 .5 1.9 .4 4.9 .5-9.6 .4 7.4 .5-6.3 .4 14.7 .5-11.3 .4 7 .5-4.9 .4-2.6 .5-1.7 .4 5.5 .5 1.2 .4 1.5 .5 2 .4-8.6 .5 2.2 .4 17.3 .5-10.3 .4-3.3 .5 4 .4 3.2 .5 .5 .4 2 .5 .6 .4-9.7 .5 2.8 .4 1.4 .5-2.2 .4 3.1 .5 .4 .4 5.4 .5-6.9 .4 6 .5-2.7 .4 .6 .5-7 .4 6 .5 .2 .4 5.7 .5-.8 .4 .9 .5-4.4 .4-3.4 .5 0 .4 4.7 .5 2 .4-10.3 .5 6 .4 5.1 .5-5.4 .4-.2 .5 .4 .4 .8 .5 3.9 .4-10.7 .5 18.6 .4-19.3 .5 11.8 .4-6.3 .5 4.3 .4 2.1 .5 6.3 .4-10.4 .5 5.2 .4-6.8 .5-.1 .4 2.3 .5 10.7 .4-7.1 .5-9.4 .4 4.7 .5-3.2 .4 5.7 .5-5.8 .4 1.3 .5-8.5 .4 6.3 .5-3.1 .4 8.4 .5-1.8 .4-2.7 .5 .5 .4-1.1 .5 2.5 .4 2.2 .5-6.9 .4-1.1 .5 5.5 .4-1.3 .5-12.8 .4 11.9 .5-4.8 .4 12.8 .5-16.2 .4 13.3 .5-6.3 .4-.5 .5-1.1 .4 3.5 .5-1.8 .4-1.6 .5 1.2 .4 4.9 .5-3.3 .4 5 .5-10.7 .4 11.4 .5-3.4 .4 .5 .5 1.7 .4 8.4 .5-15.8 .4 11 .5 1.9 .4-3.3 .5 .4 .4-7.3 .5 6.2 .4-7.5 .5 7.6 .4-5.8 .5-.3 .4 1.1 .5 5.6 .4 5.6 .5-18 .4 17.9 .5-7.8 .4-8.8 .5 4.9 .4 8 .5-7.1 .4-5.5 .5 9.4 .4-4.6 .5-2 .4 8.4 .5-6.9 .4 .6 .5 3.8 .4-.5 .5-.2 .4-5.6 .5 .8 .4 5.8 .5 .4 .4-6.6 .5 15.6 .4-4 .5-4.7 .4 .1 .5-3.7 .4-1.5 .5 .2 .4 3 .5-4 .4 2 .5-3.7 .4-2.7 .5 7.7 .4 2.6 .5-5.3 .4 4.5 .5 .6 .4 11.8 .5-8 .4 2.1 .5-6 .4-.1 .5 2 .4-3.1 .5-.5 .4-6.8 .5 6.1 .4 8 .5-5.1 .4-2.9 .5-.5 .4 .8 .5 .6 .4-.7 .5 9.3 .4-2.5 .5-4.5 .4-7.8 .5 2.4 .4 1.7 .5-.7 .4-3.6 .5 10.1 .4-1.2 .5-.1 .4-5.5 .5 5.4 .4 .1 .5-1.9 .4 4.5 .5-6.4 .4-5.2 .5 6.2 .4 1 .5-3.9 .4 .3 .5 14.6 .4-2.2 .5-15.2 .4-1.5 .5 10.6 .4-.2 .5-2.6 .4 7.7 .5-1.2 .4-1.8 .5-4.9 .4 3.7 .5-5.1 .4 .1 .5-1.9 .4-1.8 .5 10.1 .4-2 .5 .4 .4 5.7 .5-14.9 .4 4.7 .5 6.7 .4-6.4 .5 7.6 .4-5 .5-.1 .4 9.9 .5-7.5 .4-.3 .5-6.3 .4 11.1 .5-10.9 .4-1.3 .5 5.3 .4 1.8 .5 1.4 .4-5 .5 6.6 .4 8.3 .5-7.4 .4-5.4 .5 9.9 .4-12.4 .5 3.8 .4 4.8 .5 3.4 .4-9.6 .5 1.9 .4 5 .5-14.5 .4 5.4 .5 7.5 .4 2.4 .5-.3 .4-.5 .5-3.6 .4-.8 .5 .8 .4 1.2 .5 3 .4-.7 .5-4.6 .4 2.6 .5-9.3 .4 8.8 .5 4.4 .4-.7 .5-4.8 .4 3.1 .5 2.2 .4-11.4 .5 2.5 .4 6.9 .5 8.9 .4-15.9 .5 13.5 .4-3.7 .5-3.5 .4-.6 .5 4.6 .4 5.7 .5-10.7 .4 8.2 .5-1 .4-6.5 .5 10.6 .4-2.5 .5-4.4 .4 10.4 .5-13.6 .4 8.2 .5-2.6 .4-1.1 .5-5.3 .4 5.7 .5-4 .4 9.4 .5-8.8 .4 1.2 .5-2 .4-1.6 .5 6.2 .4-3.8 .5 1.2 .4 .9 .5-4.3 .4 7.9 .5-3.5 .4-5.3 .5 1.6 .4 4.8 .5-4.6 .4 2.9 .5-4 .4 8.1 .5-5.2 .4-1.1 .5 4.2 .4-5.1 .5 .2 .4-1.2 .5 6.8 .4-1.4 .5-.3 .4 3.8 .5-5.4 .4-2.6 .5 4.1 .4 4.5 .5-4.2 .4 5.9 .5-1.4 .4 .9 .5-8.9 .4 3.8 .5 3.9 .4-9.4 .5-1.4 .4 5.2 .5-1 .4 6.6 .5-2.8 .4-.5 .5 1.9 .4-2.7 .5-2.3 .4 4.2 .5-2.4 .4-6.3 .5 13.7 .4-11.5 .5 6.1 .4-1.4 .5-2 .4 4.3 .5-2.9 .4 1.8 .5-1.9 .4 .2 .5 3.2 .4-3.6 .5 2.9 .4 .4 .5 .1 .4-2.4 .5 3.7 .4-2 .5 .7 .4-4.3 .5 3.4 .4 2.4 .5-1.8 .4 1.7 .5-4.2 .4 1.6 .5 1.7 .4 2.1 .5 .3 .4-4.3 .5 .9 .4-.7 .5 6 .4-2.8 .5 1.7 .4-10.5 .5 4.3 .4 1.9 .5-2 .4 5.3 .5-5.4 .4 1.9 .5 3.6 .4-.3 .5 4.4 .4-5.9 .5-6.7 .4 6.7 .5 4 .4-8.1 .5 4.1 .4 4.8 .5 2.5 .4-3.8 .5 9.5 .4-14.3 .5 0 .4-5.2 .5 5.3 .4 2.4 .5-1.7 .4-1.3 .5 9.3 .4-1.1 .5-5.6 .4 1.4 .5 5 .4-6.3 .5-1.3 .4-3.1 .5 2.9 .4 .6 .5-.9 .4 .8 .5 4 .4-8 .5 3.2 .4 5.6 .5-3.1 .4-7.3 .5 3 .4 .8 .5 .6 .4-.1 .5 1 .4 4.8 .5-5.6 .4 6.3 .5-3.6 .5 0 .4 1.6 .5-2 .4-5 .5 10.5 .4-1.1 .5-6.3 .4 6 .5-1.4 .4-1.1 .5 1.9 .4 2.3 .5 1 .4 1.8 .5-6.2 .4 11.2 .5-6.3 .4-2.2 .5-2 .4 .7 .5-5.6 .4 .5 .5 3.3 .4 1 .5 5.1 .4-4 .5-1.8 .4 4 .5-2.8 .4-4.5 .5 3.5 .4-.2 .5-3.5 .4 5 .5 1.6 .4-6.5 .5 2.5 .4-3.7 .5 2.6 .4-1.8 .5 6.8 .4-3 .5 1.8 .4-4.4 .5 8.8 .4-11.9 .5 9.3 .4-3.1 .5 .7 .4-3.2 .5-4 .4 .7 .5 3.8 .4-.2 .5 .4 .4 2.7 .5-5.8 .4 1.7 .5 2.5 .4-.8 .5 3.5 .4-2.1 .5 4 .4 2.6 .5-8.1 .4 1.4 .5 3.1 .4-4.2 .5 3.6 .4-5.8 .5 7.3 .4-3.9 .5 3.6 .4-3.4 .5 6.3 .4-8.2 .5-.3 .4 5.4 .5 1.5 .4-6.6 .5 7 .4-2.8 .5 4.6 .4-1.9 .5 .5 .4-2.6 .5-3.3 .4 9 .5-4.2 .4-2.4 .5 1.5 .4-.5 .5 6.4 .4-8.5 .5-4.9 .4-.2 .5 4 .4-1.3 .5 3.2 .4 .7 .5-3.5 .4 .2 .5 4.3 .4-3.8 .5 3 .4-.8 .5-.7 .4-.4 .5 2 .4-.7 .5-5.2 .4 .6 .5 4.8 .4-1.6 .5-1 .4-3.5 .5 .8 .4 4.3 .5 2.7 .4 .3 .5-3.1 .4-2.7 .5 3.9 .4 3.8 .5 5.2 .4-10.3 .5-.8 .4-.6 .5 2.8 .4 .6 .5 1.1 .4-3 .5 6.6 .4-10.3 .5 7.5 .4 .5 .5 3.3 .4-4.7 .5-9.1 .4 6 .5-5.5 .4 12 .5-2.5 .4-4.2 .5 1.2 .4-.9 .5-.2 .4 4.2 .5 1.4 .4-3.7 .5 2.2 .4-4 .5-1.7 .4 4.5 .5-.3 .4-2.3 .5 7 .4-7.4 .5-4.3 .4 5.1 .5 2.6 .4-5.7 .5 1.1 .4-3.7 .5 6.5 .4-.4 .5-.6 .4-2.9 .5-1.1 .4 5.2 .5-2.6 .4-.4 .5-.6 .4 2.3 .5 .3 .4 4.8 .5-5.3 .4-1.9 .5 2.7 .4-.9 .5-5.1 .4 9.4 .5-1.4 .4 1.4 .5-4.2 .4-.6 .5 4 .4 .2 .5-4.2 .4 2.1 .5 1.5 .4-5.6 .5-.1 .4 1.6 .5-2.1 .4 1.3 .5 4.7 .4-1.8 .5 1.8 .4 .6 .5-3.7 .4 1.3 .5 .7 .4 .2 .5 .3 .4 3.3 .5-3.4 .4-1 .5-.2 .4 2.8 .5-3.6 .4-5.1 .5 5.1 .4 3.3 .5-6.1 .4 .6 .5-1 .4 6 .5-2.9 .4-.8 .5-4.3 .4 1 .5 3.7 .4 0 .5-4.9 .4 1.5 .5 10.6 .4-6.9 .5-1.3 .4 .3 .5-1.5 .4 4.2 .5-4.6 .4 3.1 .5 4.2 .4-1.7 .5-2 .4-2.4 .5 .2 .4-2.1 .5 3.4 .4 .2 .5 3.3 .4-3.3 .5 .6 .4 2.9 .5-6 .4 7.2 .5-11.3 .4 6.8 .5 1.7 .4-1.1 .5-.8 .4 5.5 .5-.4 .4-4.2 .5 .4 .4-1.2 .5 1.6 .4-1.2 .5 .3 .4 5.5 .5-7.6 .4 5.8 .5-.6 .4-5.1 .5 3.9 .4-.2 .5-1.2 .4 1.2 .5-5.2 .4 6.8 .5-1.8 .4 3.3 .5-4.1 .4 3.9 .5 1.6 .4-6.2 .5 2.3 .4-1.9 .5 3 .4 1.4 .5-.3 .4 1.4 .5 .4 .4-5.4 .5-1.2 .4-2.3 .5 1.7 .4 4.8 .5-3 .4 1.2 .5-3.8 .4 1.5 .5-.4 .4 .5 .5 1.3 .4 .3 .5-1.3 .4 1 .5 0 .4-2.6 .5-1.4 .4-2.6 .5 3.4 .4 4.2 .5-2.5 .4 1.7 .5 .6 .4-5.2 .5 1.2 .4 5 .5-1.2 .4 1.8 .5 .6 .4-.9 .5 1.7 .4-.5 .5-3.5 .4 2.6 .5 3.9 .4-6 .5-2.4 .4 2.3 .5 1.7 .4 1.8 .5-5 .4 4.2 .5 2.7 .4-4.5 .5 .8 .4 2.5 .5 1.9 .4 1.6 .5-8.3 .4 5.8 .5-3.1 .4 3.4 .5-1.4 .4-4.3 .5 1.7 .4 1.7 .5 1 .4-4.1 .5 .7 .4-.2 .5-1 .4-.4 .5 6.2 .4-4.8 .5 3.3 .4-2.6 .5-1.4 .4-1.1 .5 .7 .4 6.7 .5-5.1 .4-4.2 .5 3.7 .4-.8 .5-6.5 .4 7.5 .5 1.6 .4-4.9 .5 4.9 .4-1.5 .5-5.8 .4 1.7 .5 1.8 .4 3.6 .5-2.1 .4-4.4 .5 4.7 .4-.5 .5-4 .4 3.2 .5 4.4 .4 1.1 .5-4 .4 2.7 .5-2.8 .4-.7 .5 3.5 .4-3.4 .5 2.8 .4-.3 .5-5.5 .4 6.4 .5-.5 .4-1.6 .5-.5 .4 1.4 .5-4.6 .4-.4 .5 4.7 .4-1.6 .5 5.5 .4-5.9 .5-.6 .4 1.8 .5-1 .4 5.6 .5-4.7 .4-4.3 .5 3 .4 5.5 .5-4.3 .4-1.8 .5 .3 .4 4 .5-2.8 .4 1.3 .5-2.3 .4-1.1 .5 .1 .4-.1 .5 .6 .4 4.4 .5-7.5 .4 3.2 .5 6.3 .4-1.5 .5-3.2 .4-6.4 .5 6.9 .4-6.2 .5 2.8 .4 .8 .5 .2 .4 .4 .5 .5 .4 4.3 .5-3.3 .4 2.3 .5 2.2 .4-2.6 .5-4.1 .4 2.3 .5 1.5 .4 1.1 .5-.5 .4-3.3 .5 1 .4 1 .5 3.2 .4-6.3 .5 1.5 .4 4.7 .5-3.6 .4-.3 .5 4.2 .4-6.8 .5 3.1 .4 3.3 .5-5.9 .4 .7 .5 .6 .4 7.6 .5-5.9 .4-3.3 .5 4.4 .4-3.3 .5 2.3 .4 8.3 .5-9.2 .4 4.8 .5-3.3 .4 1.6 .5 .3 .4-.7 .5-1.8 .4 2.8 .5 2.5 .4-4.2 .5-2.5 .4-2.7 .5 5.6 .4-.7 .5-4.6 .4 5 .5-.5 .4 1.4 .5-4.3 .4 3.6 .5-3.2 .4 1.4 .5 1.6 .4 2 .5-7.4 .4 .6 .5 2.6 .4 5 .5-5 .4 1.1 .5 2.9 .4-.3 .5 .9 .4-3 .5-.1 .4-.9 .5 0 .4 .2 .5-4.5 .4 2.7 .5 .9 .4 1.9 .5 2.6 .4-3.9 .5-4.2 .4 10.4 .5 .6 .4-8.1 .5 3.4 .4-.6 .5-3.3 .4 .9 .5 .6 .4-1.9 .5 .8 .4-1.5 .5-1.6 .4-1.6 .5 6.3 .4-3.2 .5 1.7 .4 1.9 .5-2.4 .4 2.2 .5 1.5 .4-.3 .5-2.4 .4 4.3 .5 1.7 .4-6.6 .5 .9 .4-1.3 .5 3.4 .4 4.2 .5-5 .4 1.7 .5 3.4 .4-4.6 .5-2.5 .4 7 .5 1.6 .4-6.9 .5-.8 .4 9.1 .5-6.1 .4-1.2 .5-4.7 .4 2.3 .5 1.1 .4-3.4 .5 6.2 .4 .8 .5-4.3 .4-4.6 .5 3.1 .4 4.9 .5-10.3 .4 8.2 .5 1.7 .4-4.2 .5-1.8 .4 1.3 .5 1.3 .4 3.8 .5-3.7 .4 1.3 .5-.5 .4-.1 .5-2.1 .4 1.2 .5 .9 .4 4.2 .5-1.7 .4-2.2 .5-1.9 .4 1.6 .5 2.2 .4-2.2 .5-4.7 .4 4.1 .5-5.4 .4 4.6 .5 2 .4 6.6 .5-10.6 .4 5.9 .5 0 .4-.5 .5-2.2 .4 2.3 .5-1.9 .4 2.7 .5-.2 .4 .1 .5-1.9 .4 1.3 .5-1.5 .4-2.3 .5 .8 .4 1.6 .5 6 .4-4.8 .5 1.7 .4-1.4 .5-2.9 .4 .4 .5-1.4 .4 3.3 .5 .9 .4-5.7 .5 6.5 .4-3.4 .5 1.9 .4-3.2 .5 2.6 .4 0 .5 1.1 .4-3.4 .5 3.5 .4-5 .5 5.8 .4-3.6 .5-1 .4-.2 .5 1.4 .4-.8 .5 1.5 .4-6.1 .5 .7 .4 5.7 .5-3.9 .4-.5 .5 5.6 .4 1.1 .5-3.4 .4-2.3 .5 1.9 .4 1.2 .5-1.3 .4-4.8 .5 6.1 .4-1.1 .5-4.9 .4 5.7 .5-2.8 .4 4.4 .5 2.4 .4-7.1 .5 4.4 .4 .2 .5-4.2 .4 2.9 .5-1.5 .4-.9 .5 7.3 .4-4.8 .5-.1 .4-1.1 .5-3.3 .4 5.5 .5-5.2 .4 1.9 .5 2.9 .4-2.3 .5 4.8 .4-4.4 .5-1.6 .4-4.4 .5 2.9 .4 10.1 .5-7.9 .4 2 .5 3.7 .4-3.4 .5 0 .4-6.6 .5 1.5 .4 9.5 .5-2.8 .4 .3 .5-.2 .4-4 .5 1.1 .4-4.5 .5 5.2 .4-.8 .5-1 .4 4.2 .5-1.8 .4 3.4 .5-3.2 .4 1.3 .5 2.2 .4-6.1 .5-.1 .4-.3 .5 2.4 .4-2.7 .5 4.9 .4-3.5 .5 2.5 .4-4.8 .5 3.4 .5-3.4 .4 4.4 .5 0 .4 .3 .5-7.3 .4 1.5 .5 2.2 .4 .5 .5-2.4 .4 7.6 .5-2.7 .4-1.1 .5 1.3 .4-.3 .5-.7 .4-1.1 .5-3.4 .4 1.7 .5 1.5 .4 .9 .5 1.3 .4 3.7 .5-1.4 .4-1.6 .5-4.5 .4 .6 .5-1.5 .4 2.6 .5-1.7 .4 4.6 .5-2.5 .4-.2 .5 2.6 .4-2.4 .5 3.8 .4-3.3 .5-2.2 .4 6.5 .5-1.1 .4-6.8 .5 1.8 .4 1.6 .5 1.1 .4-2.9 .5 4.7 .4 2.8 .5-1.2 .4-.9 .5 2.8 .4-1.2 .5-2.1 .4-.1 .5 .3 .4 1.3 .5-.1 .4-4.1 .5 2.8 .4-1.4 .5 1.8 .4 .1 .5 .5 .4-1.8 .5-2.2 .4-2.4 .5 8.6 .4-10.6 .5 3.1 .4 .4 .5 .8 .4 1 .5 3.6 .4-8.2 .5 4.2 .4-.6 .5-1.7 .4-1.5 .5 5.2 .4-1.6 .5 .1 .4-2 .5 3.9 .4-1.9 .5-.2 .4-1.7 .5 1.6 .4 .1 .5 6.3 .4-8.2 .5-.4 .4 2.8 .5 6.8 .4-5.7 .5-.8 .4 1.7 .5-.1 .4-1 .5 .4 .4-1 .5 5.4 .4-5.7 .5 3.1 .4-5.3 .5-1.9 .4 6.3 .5-4.3 .4 4.1 .5-3.6 .4 1.1 .5 1.6 .4-.6 .5 2 .4 .3 .5-2.7 .4 1.5 .5-5.3 .4 3.8 .5 3.5 .4-.4 .5 2.2 .4-3.6 .5-2.1 .4-1.4 .5-.3 .4 5.2 .5-2.4 .4-2.5 .5 1.2 .4 3.2 .5-2.6 .4 .3 .5-2.9 .4 4 .5-1.9 .4-1.4 .5 1.3 .4 .2 .5-4.3 .4 4.3 .5 1.5 .4-6.2 .5 5.7 .4-2.1 .5 1 .4 .5 .5-1.4 .4-.2 .5 1.3 .4-.5 .5 3 .4-4.1 .5 2.8 .4-2 .5 1.9 .4-1.3 .5-4.2 .4 5.2 .5 1.5 .4-3 .5 .7 .4 1.3 .5-2 .4 2.2 .5-2.8 .4 3.9 .5-5.4 .4 3.2 .5-.2 .4-.4 .5-.9 .4-.2 .5 1.4 .4-2.7 .5 2.8 .4-3 .5 1.6 .4 2.5 .5-3.1 .4 0 .5 1.2 .4-.7 .5-1.2 .4 0 .5-1.6 .4 .9 .5 .5 .4 4.2 .5-1.4 .4-1.6 .5 .9 .4-3.6 .5 3.6 .4-.5 .5-2.4 .4 3.8 .5-4.9 .4 3.1 .5-7 .4 6.6 .5 2.5 .4-4 .5 3.5 .4 .3 .5-1.1 .4-.8 .5 2.3 .4-2 .5-.3 .4 5.5 .5-2.8 .4-1.7 .5 3.6 .4 1.5 .5-6.9 .4 4.4 .5-1.9 .4-.8 .5 1.4 .4 3.5 .5-2.7 .4 .7 .5-.6 .4-.7 .5 1.5 .4-3.9 .5 1.4 .4 1.6 .5 2.2 .4-9 .5 5.5 .4-.4 .5-1.7 .4 1.6 .5-1.2 .4 .5 .5 2.9 .4-1.7 .5 2.1 .4-3.8 .5-1.7 .4 4.9 .5 2.9 .4-.5 .5-3.9 .4-5.1 .5 5.2 .4 4.6 .5-1.1 .4-2.5 .5-1.4 .4 1.1 .5-1.4 .4 1 .5-.4 .4 2.5 .5-2.7 .4 5.3 .5-2.2 .4-5.6 .5 2.9 .4-5 .5 7.3 .4-4.2 .5 3.3 .4-3.9 .5 6.7 .4-4.2 .5-.4 .4 0 .5 1 .4-1.5 .5 1.9 .4 3.3 .5-.8 .4-3.4 .5 .9 .4 .9 .5-.9 .4 3.5 .5 .4 .4-3.3 .5-3 .4-4.8 .5 4.9 .4 .7 .5 1 .4 .3 .5 2.2 .4 1.2 .5-5.6 .4-.7 .5 1.3 .4 1.3 .5 2.2 .4 .8 .5-5.9 .4 .2 .5-2.1 .4 9.1 .5-5.7 .4 2.7 .5-2.9 .4 2.6 .5-5.3 .4 4.3 .5-.6 .4-1.6 .5 1 .4 5.1 .5-2 .4-1.7 .5-4.2 .4 3.1 .5 1.6 .4 .3 .5-2.3 .4-.5 .5 2.8 .4 2.8 .5-7.3 .4 2.7 .5 1.4 .4 .6 .5 .2 .4-.3 .5-.8 .4 1.8 .5-.6 .4-3.6 .5 1.7 .4-2.5 .5 .7 .4-.4 .5 5.4 .4-1.7 .5-4.3 .4 3.7 .5 0 .4 .7 .5-6 .4 3.8 .5 2.9 .4-7.1 .5 7.2 .4-1.2 .5-.3 .4 3.2 .5-5.5 .4-.2 .5 2.5 .4 .3 .5-3.7 .4 1.8 .5-.2 .4 3.6 .5-7 .4 3.2 .5 2.5 .4-.9 .5-3.5 .4 5.7 .5 1.1 .4-3 .5 0 .4 .1 .5-2.1 .4 .3 .5 .3 .4 .2 .5-1.4 .4 3.7 .5-.2 .4-1.7 .5-4.8 .4 5.9 .5-1.6 .4-2.4 .5 4 .4-3.4 .5 .3 .4 .7 .5 1.1 .4-1.5 .5-1.5 .4 3 .5-5.3 .4 7 .5-3.1 .4-1.7 .5 8.5 .4-6.3 .5-.2 .4 1.7 .5-1.3 .4 .5 .5-3 .4 9.3 .5-6.1 .4 5 .5-5 .4-.9 .5 .3 .4 .9 .5-3.3 .4 8.7 .5 1.5 .4-7.5 .5-3.3 .4 5.1 .5 .8 .4 .5 .5 .3 .4-1.1 .5 1.6 .4-2.8 .5 3.9 .4-1.4 .5 2 .4 2.1 .5-3 .4-3.5 .5 4.2 .4-5 .5-2.3 .4 1.3 .5 6.9 .4-3 .5 2.7 .4-8.1 .5 .3 .4 4.1 .5-3.1 .4 5 .5-6.1 .4 .8 .5 .3 .4 .4 .5 3.3 .4-2.7 .5-1 .4-5.1 .5 7.3 .4 3 .5-7.9 .4 5.1 .5-3.8 .4 5.5 .5-9.6 .4 7.2 .5 .4 .4 3.3 .5-2.3 .4-6 .5 2.3 .4-1.5 .5 1.2 .4 1.8 .5 .6 .4 1.9 .5-.1 .4-2 .5 2.7 .4-.5 .5-4.3 .4 1.9 .5-2.3 .4 5.5 .5-4.9 .4 3.3 .5-.7 .4-3.5 .5 .1 .4 6.4 .5-.1 .4-8.7 .5 3.2 .4 2.6 .5-1.1 .4-.6 .5 5.8 .4-3.7 .5 2 .4-1.9 .5-3.8 .4 3.2 .5 5.4 .4-6.9 .5 7.1 .4-5.6 .5-.5 .4-2.6 .5 8.5 .4-.2 .5-2.3 .4-3.1 .5 3.5 .4-1.9 .5 2.5 .4-4.1 .5 6.2 .4-5.4 .5-2.8 .4 3.7 .5-2.4 .4 1.6 .5 .4 .4-.3 .5 3.7 .4-7 .5 1.5 .4-3.3 .5 6.2 .4-1.4 .5-4.4 .4 4.7 .5-4.6 .4 5.3 .5-6.4 .4 3.3 .5 .7 .4-1.6 .5 2.9 .4-3.2 .5 2.8 .4-2.2 .5 1.6 .4-4.4 .5-.8 .4 4.6 .5 .6 .4-1.2 .5-.6 .4 4.6 .5-5.3 .4 6.4 .5-2.3 .4 3.6 .5-2.3 .4 .6 .5-3.5 .4 1.4 .5 5.3 .4-5.1 .5-2.7 .4 5.5 .5-2.3 .4 .1 .5 1.5 .4-3.8 .5 4.6 .4-4.8 .5 .3 .4 5.5 .5-5.6 .4 .1 .5 .9 .4 1.8 .5-3.4 .4 2.6 .5-1.2 .4-3.1 .5 1.8 .4 4.4 .5-1.3 .4-.2 .5-3.2" fill="none" stroke="#000" stroke-width="3.1" stroke-linejoin="round" stroke-linecap="butt"/>
<path d="M258.6 1271.1l.5-9.7 .4 28.5 .5-29.7 .4 15 .5 6.6 .4 .1 .5 2.4 .4-7.4 .5-9 .4 2.1 .5-.5 .4 19.7 .5-1.2 .4-26.5 .5 4.8 .4-10.3 .5 8 .4 18.6 .5-19.6 .4 5.3 .5 3.3 .4 8.5 .5-7 .4 1.1 .5-8.8 .4 6.3 .5-12.3 .4 19.3 .5-10.5 .4-.4 .5 11 .4 2.3 .5-18.4 .4 3.8 .5 5.2 .4-4.9 .5 8.4 .4-7.8 .5 6.6 .4-6.8 .5-6.8 .4 10.6 .5-9.9 .4 15.1 .5-6.2 .4 8.6 .5-10.3 .4-1.4 .5 2.3 .4 .7 .5-12.8 .4-.4 .5 21.3 .4-18.9 .5 23.4 .4-7.7 .5-4.2 .4-2 .5 9.5 .4-2.4 .5-6 .4 6.3 .5-.2 .4-10.1 .5-1.8 .4 8 .5-.5 .4 .5 .5 3.6 .4 .5 .5 4.2 .4-13.1 .5 5.8 .4 .4 .5-2.7 .4-2.5 .5-7 .4 13.2 .5 .9 .4-4.7 .5 8.1 .4-16.7 .5 2.7 .4 1.7 .5 6.2 .4-6.7 .5-2.6 .4 4.3 .5 6 .4 10.9 .5-20.7 .4 10 .5 3.7 .4-13.7 .5 4.1 .4 13.6 .5-10.4 .4 1.3 .5-9.9 .4 22.6 .5-11.8 .4-1.9 .5-12.2 .4 19.6 .5 14.6 .4-12.2 .5-12.9 .4-4.4 .5-7.3 .4 10.3 .5 9.3 .4-13.4 .5 6.9 .4 1.3 .5-1.9 .4-10 .5 16.9 .4 .8 .5-7.7 .4-.1 .5 5.7 .4 .4 .5-10 .4-7.7 .5 4.8 .4 .1 .5-4.4 .4 25.3 .5-3.9 .4-6.5 .5 3.7 .4-1.8 .5-8.6 .4 10.3 .5-6.9 .4 12.2 .5-8.8 .4-18.7 .5 14.4 .4-7.3 .5-3.6 .4 8.8 .5-9 .4 2.3 .5-4.4 .4 9.8 .5 5.7 .4-3.9 .5-4.2 .4-9 .5 5.4 .4 1.2 .5-2 .4-10.2 .5 13 .4-16.4 .5 21.4 .4-5 .5-11.2 .4 2.7 .5 10.8 .4-5.7 .5 4.8 .4-12 .5 2.5 .4 9.9 .5-8.6 .4 6 .5-2.4 .4-1.1 .5 4.8 .4-7.9 .5-.4 .4 0 .5-5.5 .4 10.5 .5 9.3 .4-8 .5-5.6 .4 1.2 .5-4.6 .4-1.9 .5 7.1 .4-.1 .5 6.8 .4-15.8 .5 10.1 .4 6.5 .5 .4 .4-5.3 .5-15.2 .4 6.4 .5 19.4 .4-11.9 .5-2.7 .4-2.5 .5 2.6 .4 8 .5-7.9 .4 7.8 .5 13.4 .4-11.6 .5 .1 .4-12.4 .5-.6 .4 16.5 .5-9.2 .4 .9 .5 12 .4 4.9 .5-15 .4-1.6 .5 5.7 .4 16.5 .5-20.6 .4 4.3 .5 2.5 .4-4.3 .5 6.2 .4-13 .5 4.3 .4 4.3 .5-6.5 .4 2.3 .5 11.3 .4-10.7 .5 2.2 .4 9.7 .5-8.7 .4-8.5 .5 7.7 .4-16 .5-2.6 .4 14.9 .5-7.1 .4-11.6 .5 17.2 .4 3.8 .5-4.3 .4 6.6 .5-.9 .4-12.6 .5 4.1 .4-5.8 .5-2.5 .4 8.9 .5-5 .4-.1 .5 2.5 .4 .7 .5-9.3 .4 3 .5-4 .4-5.5 .5-.5 .4 16.1 .5-2.2 .4-4.8 .5-3.1 .4-6.5 .5 14.5 .4-4.2 .5-5.4 .4-7.7 .5-1.3 .4 18.3 .5-6.2 .4 4.5 .5-12.8 .4 3 .5 6.2 .4 1.9 .5-7.1 .4-5.3 .5 13.5 .4-3.5 .5-3.4 .4 .7 .5-2.5 .4 10.4 .5-3.2 .4 11.7 .5-16.9 .4-7.9 .5 24.4 .4-11.3 .5-12 .4 8 .5 13.7 .4-24.2 .5 20.3 .4-22.1 .5 15.1 .4 .8 .5-6 .4 .1 .5-5.2 .4 .5 .5 4.8 .4-11.9 .5 4.5 .4 3.2 .5 .9 .4 1.6 .5-.3 .4-6 .5 1.4 .4 3.4 .5-7.9 .4 10.2 .5-5.7 .4-3.5 .5 15.8 .4-7 .5-15.7 .4 21.1 .5-17.3 .4 17.7 .5-12.1 .4 11.6 .5-3.9 .4-2.4 .5 1 .4-13.1 .5 .9 .4-.8 .5 5 .4-12.4 .5 4.4 .4 5.2 .5 10.8 .4-14.9 .5-.3 .4 4.1 .5-5.8 .4-1 .5 8.5 .4-7.7 .5 1.4 .4-.1 .5 5.1 .4 .7 .5-5.3 .4-11.6 .5-8.1 .4 22.8 .5 5.5 .4-6.6 .5 3.8 .4-4.1 .5-7.7 .4 10.9 .5-14 .4-2.2 .5-7.1 .4-3.3 .5 6.6 .4-12.1 .5 24 .4-7.7 .5 .2 .4-3.2 .5-6.1 .4 11.3 .5-19.5 .4 3 .5 7.4 .4-2.1 .5 12.2 .4 13 .5-23.3 .4-4.8 .5-.3 .4 11.4 .5-7 .4-21.8 .5 8.7 .4 .1 .5 7.9 .4-10.9 .5-6.2 .4 4.1 .5 10.3 .4-7.6 .5 10.3 .4-6.6 .5-10 .4 9.9 .5-4.3 .4-18 .5 14.4 .4-11.1 .5 8.9 .4 6.6 .5-13.6 .4 1.5 .5 14.8 .4-10.7 .5-10.5 .4-22.4 .5 18.6 .4-8.5 .5-10 .4 .4 .5 3.5 .4-25.4 .5 .4 .4 37.6 .5-41.1 .4 .3 .5-10 .4 4.4 .5-14.6 .4-19.6 .5-4.5 .4-8.2 .5 1.9 .4-5.1 .5-6.4 .4 20.6 .5-47.3 .4 22.5 .5-4.4 .4-.5 .5-7.5 .4 30.7 .5-32.5 .4 17.3 .5-4.8 .4 10.5 .5-1.6 .4-27.4 .5 17.8 .4 .5 .5 7.4 .4 19.9 .5 2.2 .4 14.8 .5-3.3 .4 30.4 .5-13.9 .4-7.8 .5 3.1 .4 6.9 .5 13.4 .4 22.2 .5-14.3 .4 9.9 .5 8.1 .4 20.1 .5-11.2 .4-5.5 .5 10.6 .4 12.8 .5-4.2 .4 7.7 .5 .8 .4-3.8 .5 6.6 .4 4.3 .5-1 .4 12.2 .5 3.1 .4-11.3 .5 10.7 .4-8.4 .5 21.5 .4-24.1 .5 12.2 .4-13.2 .5 35.2 .4-5.2 .5-23.4 .4 11.4 .5 .3 .4 3 .5 1.2 .4-1.3 .5 13.5 .4-4.9 .5-9.7 .4 10.1 .5 7.6 .4-4 .5-5.7 .4 10.5 .5 1.1 .4-3.8 .5-1.6 .4-3.6 .5 12.4 .4-2.8 .5-4.4 .4 21.5 .5-14.1 .4-2 .5 4.1 .4 5.6 .5-9.9 .4-4.4 .5 9.3 .4 2.8 .5-1.8 .4-12 .5 2.2 .4 8.3 .5 7.8 .4 1.3 .5-6.2 .4 .1 .5-3.6 .4 9.7 .5-6.2 .4-3.9 .5 15.3 .4-25.7 .5 12 .4 1.1 .5 12.7 .4-1.1 .5-12.5 .4 1.6 .5 22.3 .4-22.4 .5 3.5 .4 1.3 .5 11.8 .4-8.2 .5 6.1 .4-6.9 .5-7.7 .4 8 .5-2 .4 8.7 .5 4.6 .4-6.2 .5-6.2 .4-2.6 .5 9.5 .4-1.9 .5 4 .4 8 .5-11.1 .4-1.7 .5 4.6 .4-1.5 .5 9.8 .4-11.1 .5-7.8 .4 8.6 .5-3.4 .4 1.3 .5 7.5 .4-5.2 .5 6.5 .4-21.3 .5 16.5 .4 8.2 .5 3.2 .4-16.8 .5 5.8 .4 1.9 .5 10.8 .4-3.9 .5 4.4 .4-12.5 .5 9.8 .4-13.3 .5 8.5 .4 5.2 .5-8.9 .4 19.6 .5-6.7 .4-2.1 .5-7.8 .4 .2 .5 4.2 .4 11.9 .5-6.7 .4 3.3 .5-12.6 .4 9.4 .5-5.4 .4-6.7 .5 10.7 .4-4 .5 6.1 .4-2 .5 .3 .4 .4 .5 0 .4 2.8 .5-11.8 .4 13.7 .5-4.5 .4 3 .5 10.5 .4-16.8 .5 4 .4 8.5 .5-3.4 .4 4.7 .5-9.9 .4-6.7 .5 1.7 .4 12.9 .5 2.1 .4-11.7 .5-6.1 .4 8.2 .5-5.2 .4 12.4 .5-6.6 .4-2.9 .5 4.3 .4-.9 .5-4.6 .4 6.7 .5 1.9 .4-8.7 .5 2.6 .4 6.3 .5-7.1 .4 4.9 .5-5.9 .4 3.2 .5 1.4 .4 2.4 .5-4.8 .4 1.3 .5-9.5 .4 9.5 .5 6.4 .4-16.7 .5 20.1 .5-18 .4 12.2 .5-11 .4 7.7 .5-3.5 .4 2.5 .5 .8 .4-3 .5 5.7 .4-5.2 .5 7.6 .4-1.5 .5-.8 .4-1.7 .5-6 .4 10 .5 .5 .4 1.5 .5-3.1 .4-4.2 .5 6.5 .4-1.8 .5 1.7 .4-2.8 .5 10.1 .4-11.9 .5-1.3 .4 8.4 .5-3.4 .4 4.1 .5-8.8 .4 1.9 .5-10.4 .4 14.4 .5 3.2 .4-1.9 .5 3.6 .4-6.9 .5-.5 .4-3 .5 2.2 .4 3.6 .5-8 .4 3.2 .5-1.3 .4 9 .5-1.6 .4-1 .5-1.2 .4 8.2 .5-15.4 .4 6.4 .5-4.8 .4 .4 .5-3.2 .4 4.3 .5 1 .4 5.2 .5-3.7 .4-7.2 .5 16 .4-4.5 .5-4.2 .4-5.9 .5 12.4 .4-2.8 .5-2.5 .4-13.2 .5 17.9 .4-3.1 .5-4 .4 6.5 .5-4.9 .4-.1 .5 3.5 .4-3.1 .5-6.1 .4 7.2 .5 2.6 .4 1.5 .5-4.3 .4-3.4 .5 4.1 .4-.6 .5-10.1 .4 15.3 .5 1.6 .4-5.8 .5 2.4 .4-3.2 .5-2.7 .4 4.1 .5 2.6 .4-2.9 .5 .3 .4 2.7 .5 2.3 .4-5.4 .5 3.9 .4 4.2 .5-8 .4 5.3 .5 .1 .4-5.2 .5 6.2 .4-2.8 .5 3.4 .4 2.2 .5-8.1 .4-5.7 .5 10.3 .4-9 .5 .2 .4-2.1 .5 11 .4-1.9 .5-10.1 .4 7.3 .5-.3 .4-3.1 .5 .4 .4 5 .5-1.5 .4-3.7 .5 1.7 .4 4.3 .5-8.6 .4 1.8 .5 5.1 .4 1.1 .5-6.3 .4 14.3 .5-10.8 .4 3.1 .5 .4 .4-6.7 .5 2.5 .4-11.7 .5 14 .4-2.5 .5 7.6 .4-10.2 .5 6.8 .4-3.4 .5-4.5 .4 .5 .5 3.1 .4-3.3 .5 7.4 .4 2.1 .5 2.6 .4-8.8 .5-6 .4 9.8 .5-1.4 .4 1.4 .5-3.4 .4 9.9 .5-11.4 .4-1 .5 7.5 .4 1.3 .5-.6 .4-6.2 .5-3.8 .4 10.2 .5 2.2 .4-7 .5-.8 .4-1.9 .5 5.9 .4-6 .5-1.5 .4 11.5 .5-5.5 .4-3.7 .5-.6 .4 5.7 .5 6 .4-4.8 .5 2.9 .4-3.7 .5-6.5 .4 7.1 .5-3 .4 5.5 .5-9 .4 6.5 .5 1.6 .4-12.2 .5 6.3 .4-1.6 .5 11.1 .4-14.4 .5-1.3 .4 7.7 .5 .6 .4 1.2 .5-7 .4 11 .5-7.9 .4-7 .5 7.7 .4-7.6 .5 8.1 .4 1.4 .5-5.1 .4 4.2 .5-.7 .4 2.1 .5 3.3 .4-3.7 .5-4.1 .4-1.5 .5 4.8 .4-1.6 .5 5.2 .4-3.2 .5-.1 .4-.1 .5-.9 .4-1.2 .5-3.7 .4 1.7 .5 1 .4 7 .5-1.8 .4-3.6 .5-.3 .4-2.6 .5 10.2 .4-8 .5 .3 .4 1.9 .5 1.9 .4-4 .5 1.6 .4-2.4 .5 10.3 .4-4.4 .5-9.8 .4 5.4 .5 4.2 .4-1.7 .5 4.1 .4-10.9 .5 0 .4 2.4 .5-1.2 .4 3 .5-3.4 .4 2.8 .5-3.2 .4 5.9 .5 .2 .4 1.9 .5-.4 .4 4.4 .5-11.8 .4-.4 .5 2.6 .4-1.2 .5 3.1 .4-1.2 .5 7.3 .4-5.2 .5 7 .4-4.6 .5-1.6 .4 .1 .5 3 .4-9.5 .5 1.2 .4 6.1 .5 2.8 .4-3 .5-5.8 .4 11.4 .5-10.9 .4 3.8 .5 1 .4-5.6 .5 4 .4 1.5 .5-6.3 .4 11.4 .5-12.7 .4 9.9 .5 .1 .4-9.5 .5-6.7 .4 8.5 .5 8.4 .4 5.4 .5-9.4 .4 1.1 .5 2.5 .4-1.7 .5 2.3 .4-5.9 .5 3.8 .4 .5 .5 7.9 .4-9.6 .5 6.7 .4-8.6 .5 3 .4 7.8 .5-6.7 .4 3.3 .5-7 .4 .3 .5-2.5 .4 7.2 .5-5 .4 7.3 .5-6.7 .4 2.2 .5-1.8 .4 1 .5-4 .4 5.4 .5-.6 .4-6.2 .5 5.8 .4 1.8 .5 1.5 .4-3.6 .5 .2 .4-2.7 .5 3 .4-3.4 .5 3.6 .4-7.4 .5 6.2 .4-3 .5 1 .4 6.4 .5-9.3 .4 5.5 .5-5.4 .4 11.2 .5-.7 .4 .5 .5-.9 .4-5.4 .5-1.4 .4 3.7 .5-2.4 .4 1.4 .5-5.3 .4 .3 .5 1.8 .4-1.1 .5-3.8 .4 4.4 .5 8.6 .4-4.8 .5 .6 .4-4 .5 1.5 .4-1.3 .5 9.4 .4-11.1 .5 6 .4-4.1 .5 1.9 .4 5.3 .5-.2 .4-5.4 .5-2 .4 7.7 .5 .9 .4 3.4 .5-4.4 .4-.8 .5-1.7 .4-3.5 .5 4.1 .4 2.3 .5-2.7 .4-1.1 .5-.8 .4 .1 .5 1.3 .4-2.6 .5 3.4 .4 3 .5-3 .4-7.4 .5 10.3 .4-12.1 .5 11.3 .4-4.3 .5 8.9 .4-5.5 .5-5.6 .4 10 .5-1.6 .4-3.7 .5 0 .4 6.9 .5-.7 .4-5.7 .5 0 .4-1.7 .5 3.3 .4-3 .5-2.3 .4 8.9 .5-8.4 .4 .7 .5-2.1 .4 6 .5-1.5 .4-.6 .5 2 .4-5.6 .5 2.8 .4 4.5 .5-4.6 .4 4.9 .5 1.8 .4-1.8 .5-3.8 .4-.2 .5 .9 .4-2.2 .5-4.9 .4 11.2 .5-5.5 .4 .7 .5 5.5 .4-2.4 .5-2.4 .4 .7 .5 3.3 .4-5.7 .5 2 .4-1.4 .5-3.3 .4 10.2 .5-8.1 .4 1.8 .5 4.8 .4-3 .5 1.3 .4 2.6 .5-7 .4 5.6 .5 4.6 .4-10.1 .5 4.7 .4-2.9 .5 .7 .4 2 .5 .4 .4 7.8 .5-7.4 .4 2.8 .5-5.7 .4 4.7 .5-.3 .4-2.5 .5 4.6 .4-1.5 .5-.7 .4-3 .5 6.6 .4-7.7 .5 3.3 .4 1.3 .5-3 .4-2.4 .5-.5 .4 7.6 .5-8.4 .4 4.5 .5-4.5 .4 8.1 .5-3.2 .4-.3 .5 3.9 .4-2.9 .5-4.9 .4-.8 .5 1.5 .4 1.3 .5 2.5 .4-8.7 .5 11.8 .4-.5 .5-1.4 .4-3.3 .5 2.2 .4-4.2 .5 8.1 .4-8.2 .5-3.2 .4 3 .5 4.1 .4 1 .5-5.7 .4 9.5 .5-3.1 .4 3 .5-5.2 .4-6.8 .5 7.7 .4-5.1 .5 7.3 .4-1.9 .5 0 .4-5.5 .5 6.5 .4-.7 .5-2.3 .4-5.2 .5 5.1 .4-5.8 .5 4.7 .4 2.2 .5-4.6 .4 5.8 .5 1.2 .4-3.3 .5 5.6 .4-1.1 .5-1.2 .4-2.7 .5-3.3 .4-.2 .5 4.5 .4-1.3 .5 1.8 .4 3.7 .5-6.1 .4 3.8 .5-5 .4 4.2 .5 1.5 .4-4.6 .5 2.8 .4 2.4 .5-7.9 .4 2.3 .5-.1 .4 .7 .5 2 .4 7.4 .5-7.4 .4-.4 .5-2.9 .4 5.7 .5-5.8 .4 1.6 .5-4.7 .4 7.3 .5-2.4 .4-.7 .5-1 .4-2.2 .5 2.7 .4 6.2 .5-9.9 .4 12 .5-8.5 .4-2.1 .5 6.6 .4-2 .5 .2 .4 3.4 .5-4.8 .4 4.4 .5-4.1 .4-.9 .5-1.6 .4-.8 .5 3 .4-.1 .5 2.3 .4-.5 .5-3 .4 .3 .5 1 .4 1.6 .5-3.3 .4 6.9 .5-1.9 .4-2.5 .5-2.9 .4 7.5 .5-.6 .4 .3 .5-6.3 .4-.4 .5-2.5 .4-2.4 .5 10.9 .4-3.4 .5 1.1 .4 1.6 .5-3.7 .4 1.8 .5-2.3 .4 1.6 .5 3.4 .4-6.4 .5 .1 .4 3.3 .5 5.5 .4 .6 .5-2.9 .4-5.3 .5-.8 .4 2.1 .5 .1 .4 8.4 .5-8.9 .4 3.5 .5-1.1 .4 2.4 .5 3.4 .4-8.5 .5 1.4 .4 4.6 .5 1.6 .4-2.8 .5-4.6 .4 1.1 .5 1.6 .4-2.7 .5 1.8 .4 4.1 .5-5 .4 2.2 .5 2.3 .4-6.1 .5 2.2 .4 5.7 .5-6.8 .4 1.7 .5 1.7 .4 .3 .5 1.8 .4 1.3 .5-5.3 .4-.5 .5 2.5 .4-1.7 .5 2.1 .4 0 .5-2.5 .4 .1 .5-2.7 .4 5.9 .5-2.4 .4 1.8 .5-1.1 .4-2.9 .5 2.7 .4 3.7 .5-.9 .4 .5 .5-.9 .4 1.3 .5-.5 .4-1 .5-1.4 .4 3.5 .5-2.8 .4 .1 .5-2.4 .4 1.7 .5-.8 .4 .7 .5-2.7 .4 3.7 .5 4 .4-5.6 .5 3.8 .4 3.5 .5-8.2 .4 1.4 .5-.9 .4-1 .5 1.7 .4-3.9 .5 2.7 .4 .9 .5-1.1 .4 5.8 .5-7.6 .4 5.7 .5-5.6 .4 1.5 .5-.7 .4 2.6 .5-7.2 .4 10.9 .5-5.5 .4 2.4 .5 2.1 .4-8.6 .5 3.8 .4-6.3 .5 5.1 .5 1 .4 .1 .5 5.6 .4 .4 .5-7.7 .4 2.1 .5 4.7 .4-2.1 .5 .1 .4-2.8 .5 2.7 .4 3.2 .5-4.2 .4 4 .5-3.1 .4 3.3 .5 7.3 .4-13.6 .5 7.3 .4-5.6 .5 1 .4 3.2 .5 1.7 .4-8.9 .5 4.7 .4-3.1 .5 2.6 .4-1.8 .5 1.9 .4 4.2 .5-1.6 .4-3.3 .5 4.3 .4-2.5 .5-.8 .4-3.6 .5-1.5 .4 10.3 .5-7.2 .4-4 .5 8.9 .4-.9 .5-6.5 .4 2.7 .5 2 .4-2.2 .5-1.5 .4 1.7 .5-.9 .4 .5 .5-.5 .4 .5 .5-.6 .4 1.6 .5-3.5 .4 4 .5 .7 .4 2.7 .5-1.8 .4-2.4 .5 1.1 .4-2 .5 5.2 .4-1.3 .5 3.9 .4-4.6 .5-3.3 .4 1.5 .5 2.5 .4-2.4 .5 .6 .4 3.2 .5 .3 .4-.4 .5-3.9 .4-.5 .5 .3 .4 1.7 .5-6.2 .4 5.6 .5-2.1 .4 .7 .5-2.5 .4 7.4 .5-6.2 .4 1.9 .5-.3 .4 2.6 .5-.9 .4-5.2 .5 1 .4 6.4 .5-4.4 .4 2.2 .5-4.1 .4 1.9 .5-.6 .4 2.5 .5 0 .4 2.2 .5 2.6 .4-2.3 .5-4.7 .4-.1 .5 6.2 .4 .1 .5-.2 .4 .2 .5 1.1 .4-1.3 .5-3.7 .4-.3 .5-2.7 .4 4.9 .5 5.3 .4-4.5 .5 1.2 .4-2.2 .5 .9 .4-4.9 .5 4.7 .4-2.5 .5-5 .4 4.8 .5 4.2 .4-7 .5 1.1 .4-.2 .5-.5 .4 4.5 .5 .2 .4-3 .5 5.1 .4-2.2 .5-5.1 .4 6.7 .5-4.1 .4-1.6 .5 3.2 .4 1.3 .5-4.5 .4 7.4 .5-8 .4 7 .5-2.3 .4 3.1 .5 0 .4-5.5 .5 2.5 .4-1.2 .5 4.8 .4-2.6 .5 2.2 .4-3.3 .5-1.4 .4-.3 .5-.2 .4 2.9 .5-3.4 .4 2.5 .5-4.9 .4 3.8 .5-3.7 .4 4 .5-2.8 .4 1 .5 4.4 .4-5.8 .5 4.1 .4 2.2 .5-5.2 .4-2.8 .5 1 .4 4 .5 2.2 .4 2.5 .5-5.5 .4-.3 .5-1 .4-3.7 .5 3.8 .4 2.3 .5 .1 .4-.3 .5-.7 .4-2.5 .5 1.8 .4-.5 .5-.3 .4-.1 .5-1 .4-1.2 .5 5.8 .4-1.6 .5-.4 .4 .3 .5-2.4 .4 .3 .5 3.7 .4-5.9 .5 3.1 .4-.4 .5 3.4 .4-3.6 .5 2.9 .4 1.6 .5-2.8 .4 3 .5 .1 .4-4.1 .5-1 .4 3.8 .5-4.4 .4-.6 .5-.1 .4 2 .5 1.6 .4-4.9 .5 4.9 .4-2.3 .5-1.8 .4-1.6 .5 3.6 .4 0 .5-.7 .4 .8 .5-2.4 .4 .2 .5-1.7 .4 4.6 .5-2 .4 3.7 .5-.7 .4-4.7 .5 4.4 .4 4.3 .5-3.4 .4 .1 .5 3.4 .4-5 .5-1.6 .4 3.6 .5-3.7 .4 7.9 .5-7.1 .4 2.1 .5-5.8 .4 5.8 .5 .2 .4 0 .5 .9 .4 .1 .5-2.7 .4 1.1 .5 0 .4 .1 .5 2.5 .4-6.4 .5 7.4 .4-4.8 .5 2.9 .4-3 .5 3.3 .4-3.2 .5 1.6 .4-1.6 .5-2 .4 4.6 .5 .2 .4 6.5 .5-6 .4-2.1 .5 2.9 .4-.8 .5 .6 .4 4.5 .5-7.1 .4 4 .5 1.6 .4-6 .5 1.4 .4-.5 .5 1.1 .4 1.8 .5-3.9 .4 4.3 .5-2.9 .4 3 .5 .2 .4-4.9 .5 3.9 .4-6 .5 7.1 .4-5.9 .5 3.3 .4-2.8 .5 .1 .4 6.2 .5-6.1 .4 2.2 .5 1.5 .4-5 .5 1.6 .4-.1 .5-2.5 .4 1 .5 2.3 .4 2.2 .5-5.5 .4 5.3 .5 2.5 .4-8.6 .5-.3 .4 9.4 .5-4.8 .4 4.7 .5-4.9 .4 2.9 .5 2.6 .4-5.6 .5 4.7 .4-2.9 .5 2.8 .4-5.7 .5 1.7 .4 3.9 .5 4.3 .4-6.2 .5 3.3 .4-5.3 .5-.9 .4 3.7 .5-2.3 .4 5.4 .5-4.8 .4-2.8 .5 7.3 .4-5.3 .5 1 .4-1.6 .5 1.8 .4 .2 .5-3.2 .4 2.8 .5-1.2 .4 4.4 .5-4.3 .4-.8 .5 2.1 .4-.2 .5 4.8 .4-2.3 .5-1.8 .4 .2 .5-6 .4 3.6 .5 4.9 .4-8.4 .5 9.2 .4-.5 .5-.5 .4-1.9 .5-6.3 .4 7.1 .5-1.9 .4 5 .5-2.4 .4-7.3 .5 3.1 .4 1 .5-1.5 .4 2.3 .5 .1 .4 3.9 .5 1 .4-2.2 .5-.9 .4 1 .5-3.9 .4-2.9 .5 4.4 .4 3.6 .5-.9 .4-5.8 .5 .4 .4 1.3 .5-1.1 .4-1.4 .5 2.6 .4-.7 .5 1.5 .4 3.9 .5-5.2 .4 .3 .5-1.1 .4 2.3 .5-2.3 .4 0 .5 2.1 .4 1.5 .5-.7 .4-2.5 .5-1.2 .4-2.3 .5 4.8 .4-1.4 .5-1.7 .4 5.6 .5-3.9 .4 2.8 .5-.1 .4-2.7 .5 2.6 .4-1.4 .5 3.7 .4-2.5 .5 2.2 .4-1.4 .5-7.7 .4 7.1 .5 .7 .4 .5 .5 1 .4-6.3 .5 6.2 .4-7.6 .5 6.5 .4-3.7 .5 2.8 .4 1.9 .5-1.2 .4-3.9 .5 3.7 .4 4.4 .5-9.6 .4 6.4 .5-.9 .4-4.6 .5 7.9 .4-2.9 .5-2.9 .4 0 .5 .1 .4 3.9 .5-4.7 .4 3.5 .5-1.6 .4 2.8 .5-6.8 .4 5.4 .5-.8 .4 1.2 .5-2.4 .4 4.3 .5-3.1 .4 .3 .5-4.7 .4 4.9 .5-.4 .4-.9 .5-2.3 .4-2.6 .5 3.9 .4-.3 .5-2.9 .4 3.9 .5-1.1 .4 2.5 .5-1.2 .4 1.5 .5-7.6 .4 3.4 .5 .2 .4 4.2 .5-2.9 .4 2 .5 0 .4 1.7 .5-1.9 .4-8.4 .5 8.2 .4-3.3 .5-.7 .4 1.3 .5-.8 .4 4.5 .5-6.4 .4-1.4 .5 5.3 .4 2 .5 .4 .4 1.4 .5-4.8 .4-.5 .5-2 .4 7.8 .5-5.3 .4 .6 .5 2.5 .4 1.7 .5-2.8 .4-4.8 .5 9 .4-1.7 .5-.1 .4-1 .5-3.1 .4 3.9 .5 4.6 .4-2.7 .5-.1 .4-4 .5 .1 .4 3.2 .5-4.9 .4 6.3 .5-4.3 .4-3.9 .5 7.2 .4-5.7 .5-1.1 .4 3.7 .5-1.6 .4 4.2 .5-4.6 .4 4 .5-1.6 .4-2.4 .5 2.1 .4 2 .5-2.6 .4 .7 .5 1.5 .4 3.1 .5-4.3 .4-2.6 .5 3.9 .4-.1 .5-.1 .4-2.2 .5 4.9 .4-5.8 .5-3.2 .4 3.9 .5 1.1 .4-1 .5-.2 .4 2 .5-.5 .4 .1 .5-1.9 .4-3.4 .5 4.4 .4-4.8 .5 7.2 .4-4.1 .5 3.7 .4-2.1 .5 .5 .4 4.5 .5-4.2 .4-1.7 .5 .2 .4 4.4 .5-.1 .4-5.3 .5 4 .4-7.8 .5 4.3 .4-.2 .5 1.2 .4 1.5 .5-2.8 .4 1.2 .5-4.5 .4 3.3 .5-.2 .4-2.1 .5 .1 .4 7.6 .5-10 .4 8.8 .5-1.3 .4-1.7 .5 1.3 .4-6.4 .5 4.6 .4 3 .5-1.7 .4 1.1 .5-.1 .4-2.6 .5-.3 .4 1.9 .5 3 .4-1.7 .5-3.9 .4 1 .5 2.1 .4-2.7 .5 6.5 .4-3 .5-1.9 .4-.8 .5-2.1 .4 2.3 .5-.7 .4 .2 .5 2.8 .4-2.3 .5-4.2 .4 1.6 .5 2.4 .4-.9 .5-4.5 .4 .3 .5-.8 .4 1.4 .5 3.5 .4 .2 .5 3.5 .4-7.2 .5 .3 .4-2.5 .5 7.7 .4-6.1 .5 3 .4 1.2 .5-.2 .4 3.7 .5-2.5 .4 2.4 .5-1.1 .4-1.6 .5 1.8 .4-2.8 .5 3.6 .4-.3 .5 .1 .4-1.9 .5-.1 .4-1.8 .5 3.3 .4 .9 .5-2.3 .4-3.8 .5 2.3 .4 6.9 .5-5 .4 1.3 .5-.5 .4-2.5 .5 2 .4 .3 .5 3.8 .4-3.7 .5 1.6 .4-2.4 .5-2.1 .4 4.9 .5-1.6 .4-2 .5 5.6 .4-2.2 .5 1.9 .4-2 .5-1.2 .4 .6 .5-4.3 .4 1.7 .5 1.5 .4-2.2 .5-1.9 .4 5.8 .5-.4 .4-1.1 .5-1.7 .4 7.8 .5-4.7 .4-6.7 .5 6.7 .4-4.6 .5-1.3 .4 4.3 .5-3.7 .4 5.7 .5 4.5 .4-3.2 .5-4.8 .4-3.1 .5 5.1 .4 5.4 .5-4.1 .4 4.8 .5-5.4 .4-4 .5 6.2 .4-.3 .5-1.2 .4-.5 .5-2.6 .4 .5 .5-1.2 .4 4.3 .5-5.6 .4 1.2 .5 3.7 .5-.9 .4 .2 .5 2.6 .4-9.1 .5 3.2 .4 1.5 .5-2.7 .4 3.3 .5 .1 .4-3.6 .5 5.9 .4-.3 .5 2.2 .4-2.3 .5-4.2 .4 4 .5-4.9 .4 5.3 .5-1.8 .4 3.4 .5-4.4 .4-3.1 .5 5.8 .4 3.4 .5-3.7 .4-2 .5 3.9 .4-6.8 .5 8.1 .4-4.6 .5-2.1 .4 2.9 .5-2.5 .4 2 .5 2.3 .4 .2 .5-5.8 .4 9 .5-5.1 .4 2.6 .5-1 .4-3.3 .5 4.2 .4 1.7 .5-7 .4-.2 .5 3 .4 2.3 .5 .2 .4-3.4 .5-.3 .4-.2 .5-.5 .4 1.6 .5-1.6 .4 1.6 .5-1.1 .4 1.4 .5-1.3 .4 3 .5-1.9 .4 2.3 .5-4.3 .4 2.8 .5 .2 .4-.1 .5 .5 .4 .3 .5-3.9 .4 .2 .5-1 .4 3.8 .5-2.2 .4 5.5 .5-7.1 .4 4.7 .5-5.7 .4 1.4 .5-3.6 .4 3.9 .5 2.9 .4-7.2 .5 2.2 .4 .3 .5-1.6 .4 4.5 .5 5.8 .4-5.3 .5 1 .4-2.9 .5 2.6 .4-2.2 .5 3.7 .4-4.8 .5 1.4 .4 3.6 .5-5 .4-.2 .5 2.5 .4 3.1 .5-2.1 .4 .7 .5 1.5 .4-.7 .5 .3 .4 3.2 .5-3.3 .4 2.5 .5-2.6 .4 .4 .5-2.7 .4 3.2 .5-1.7 .4 3.8 .5-6.6 .4-2.7 .5 5.4 .4-1.7 .5-.7 .4 2 .5-2.9 .4 3.4 .5-1.2 .4-.3 .5 1.2 .4 1.9 .5-6.1 .4 2.2 .5 2 .4 1 .5-2.6 .4 2.1 .5-3.8 .4 1.2 .5-1 .4-1.6 .5 2.1 .4-1.1 .5-1.4 .4 1.6 .5 6.9 .4-8.5 .5 2.2 .4-.8 .5-2.4 .4 4.3 .5-1.7 .4 6.4 .5-8.9 .4 3.9 .5 .4 .4 .1 .5-2.1 .4 6.1 .5-9.2 .4 4.4 .5 .6 .4-3.7 .5 1.3 .4 1 .5 3.5 .4-4.9 .5 2.1 .4 2.8 .5-1.6 .4-1.1 .5 2.6 .4-3.8 .5 3.5 .4-3.5 .5 1.6 .4-.4 .5 3.7 .4-2.6 .5-1.2 .4 .7 .5 1.8 .4-1.7 .5 1.7 .4-.7 .5-3 .4-1.1 .5-.2 .4 2.9 .5 2.8 .4-.8 .5-3.3 .4 2.3 .5-3.5 .4 4.6 .5-3.1 .4 5.3 .5-2.5 .4-2.2 .5 .2 .4 .4 .5 3.1 .4-3.2 .5 .9 .4 .8 .5-2.2 .4 2.4 .5-.5 .4-6.9 .5 4.4 .4-2.2 .5 4.2 .4-.2 .5 2.1 .4 0 .5-.2 .4-4.3 .5 3.4 .4-.2 .5-.6 .4-3.3 .5 2.7 .4-2.4 .5 3.9 .4-3.9 .5 1.5 .4-1.5 .5 4.2 .4-2.3 .5-.4 .4 1.8 .5-3.1 .4 1.4 .5-1 .4 2.8 .5-1.8 .4 4 .5-4.8 .4 5.1 .5-1.5 .4-1.6 .5-.9 .4 1.2 .5 5.4 .4-1.7 .5-.8 .4-1.6 .5 3.1 .4-1.1 .5-2.9 .4 .7 .5-1 .4 .3 .5 4.4 .4-1.1 .5-2.7 .4-.8 .5 2.2 .4-3.8 .5 3.9 .4-.4 .5-1.4 .4-.7 .5 2.1 .4-1.3 .5 2.1 .4-.6 .5-5.5 .4 6.5 .5-6.4 .4 5.1 .5-4.4 .4 4.2 .5 1.5 .4-2.3 .5-.1 .4-.5 .5 3.1 .4 1.2 .5-3 .4 .7 .5 .8 .4-1.7 .5-3.5 .4 .3 .5 2.2 .4-2.5 .5-1.5 .4 1.2 .5 7.7 .4-2.4 .5-2.5 .4-1.6 .5 5.3 .4-8.3 .5 6.9 .4 .8 .5 2.7 .4-7.3 .5-.2 .4 .2 .5 1.6 .4-.3 .5 .6 .4-4.2 .5 2.6 .4-.8 .5 6.6 .4-.1 .5-6.8 .4 1.3 .5 .2 .4 1.5 .5-.9 .4 1.8 .5-2.6 .4 5.6 .5-4.4 .4 1.8 .5 .5 .4-1.6 .5-.1 .4-.3 .5-4.4 .4 7 .5-.8 .4-2.4 .5 0 .4-1 .5-1.4 .4 1.4 .5 2.9 .4-7.8 .5 5.2 .4 .3 .5 0 .4 2.2 .5-.1 .4-1.9 .5-.5 .4-.6 .5 3.9 .4-4.1 .5 4.4 .4-5.1 .5-3.5 .4 9.4 .5-4.2 .4-1.2 .5 3.8 .4-4.7 .5 7.3 .4-2.1 .5-3 .4-2.4 .5 5 .4 2.2 .5-4.9 .4-2.9 .5 2.7 .4 3 .5 1.5 .4-10.4 .5 6.1 .4 4.6 .5 .2 .4-7.7 .5-.2 .4 3.4 .5 .8 .4-3.1 .5-.3 .4 1.5 .5 3.8 .4-4 .5-5.3 .4 8.8 .5-.7 .4 .1 .5 .1 .4-5.8 .5 2.1 .4 4.4 .5 .4 .4-2.7 .5 1.6 .4-2.7 .5 .4 .4 4.4 .5-8.7 .4 6.7 .5-5.7 .4 3.2 .5 1 .4 4.6 .5-3.8 .4-4.5 .5 .6 .4 4.3 .5 4.4 .4-7.3 .5 3.9 .4-2.6 .5 2.1 .4-5.9 .5 4.7 .4-1.7 .5 .8 .4 1.3 .5-3.4 .4 1 .5 .3 .4 1.9 .5-2.1 .4 4.2 .5-3.4 .4 1.5 .5 5.6 .4-2.4 .5-2.3 .4-6.3 .5 2.2 .4 4.8 .5-4.3 .4 5.4 .5-5.3 .4 3.9 .5 1.4 .4 1.8 .5-3.6 .4-2.9 .5 2.5 .4-8.5 .5 9.9 .4-4.7 .5 .6 .4 2 .5 .7 .4 1.1 .5-3.6 .4-.3 .5 2.5 .4 1.1 .5 1.4 .4-3.1 .5 4 .4-2.5 .5-6.9 .4 7.2 .5-1.2 .4-3.4 .5 1 .4 1.8 .5-1.8 .4 1.5 .5-.5 .4 2.3 .5-3.4 .4 .8 .5 .3 .4-.7 .5 .7 .4 1.3 .5-1.2 .4 1.6 .5 4.5 .4-3.8 .5-1.1 .4-1 .5-.8 .4-2.5 .5-.4 .4-.2 .5 4.3 .4-3.2 .5 7.9 .4-2.6 .5-6.9 .4 4.3 .5-.1 .4-1.4 .5-.3 .4 1.9 .5-.6 .4 3.4 .5-4.3 .4-1.3 .5 0 .4 1.8 .5 2 .4-.5 .5 1.3 .4 1.6 .5-4.5 .4 2.9 .5-6.9 .4 4.8 .5-2.6 .4 7.2 .5-3.3 .4-2.4 .5 .2 .4 1.1 .5-.4 .4 3.2 .5 .2 .4-.9 .5 2.2 .4-5.9 .5 5 .4-.3 .5-2 .4-4.6 .5 3.3 .4-.7 .5 .9 .4-3.7 .5 2.3 .4 4.9 .5-.6 .4-3.4 .5-.3 .4 1.9 .5-2.1 .4-2.4 .5 4.3 .4-4.6 .5-.1 .4 10.4 .5-5.6 .4-3.4 .5 2 .4-.3 .5-2.1 .4 .2 .5 3.7 .4 4.5 .5-7.5 .4-1.1 .5 1.3 .4 .3 .5-.8 .4 .6 .5 2.9 .4-2.2 .5-.7 .4 3 .5-1.7 .4-2.4 .5-2 .4 3.1 .5-3.2 .4 5.2 .5 .3 .4-3.6 .5 3.7 .4 .6 .5 1.7 .4-2.6 .5 .6 .4 2.5 .5 0 .4-4.1 .5-1.1 .4 3.2 .5 .5 .4-1.1 .5 5.6 .4-4.7 .5-4.2" fill="none" stroke="#000" stroke-width="3.1" stroke-linejoin="round" stroke-linecap="round" stroke-dasharray="1 7"/>
<path d="M258.6 1283.9l.5-1.7 .4 .8 .5-5.8 .4-17.8 .5 26.1 .4-21.8 .5-2.8 .4 13.8 .5 2.8 .4-10.1 .5-6.4 .4-8.1 .5 10.6 .4-6.1 .5 17.2 .4 3.4 .5 7 .4-5 .5-6.8 .4-4.8 .5 12.6 .4-18 .5 7.7 .4 4.4 .5 .9 .4-23.4 .5 15.5 .4 8.9 .5 .4 .4-23.2 .5 20.2 .4-14.7 .5-1.8 .4 31.3 .5-30.5 .4 13.1 .5 7.4 .4-4.4 .5-9 .4 1.6 .5-.4 .4 9.5 .5-16.5 .4-1.9 .5-2.9 .4 6.8 .5-7.5 .4-1.7 .5 11.3 .4-1.6 .5 2.3 .4 .2 .5-2.7 .4 21 .5-11.3 .4-6.7 .5 21.3 .4-5.4 .5-24.6 .4 21.7 .5-4.7 .4-6.7 .5 7.1 .4 3.4 .5-2.6 .4-.5 .5 1.4 .4-6 .5-11.4 .4 10.4 .5-10.2 .4 7.3 .5-.7 .4 2.1 .5 7.2 .4-5.8 .5 .9 .4 11.4 .5-15.1 .4 1.2 .5 1.6 .4 7.2 .5 16.5 .4-33.2 .5 12.2 .4 16.7 .5-23 .4 10.7 .5-11.4 .4 6.2 .5-10.1 .4 7 .5-.5 .4 .8 .5-8.8 .4 20.1 .5-20 .4 3.7 .5 9.7 .4-4.7 .5 3.3 .4-4.2 .5-7.3 .4 12.7 .5-11.6 .4-1.8 .5 2.2 .4-7.6 .5 12.9 .4-6.2 .5-14.4 .4 19.5 .5 1.3 .4-1.1 .5-4.6 .4 9.7 .5-2.9 .4 12.1 .5-5.6 .4-.1 .5 1.2 .4-5.7 .5-8.9 .4 8.6 .5 7.6 .4-12.3 .5 .6 .4 12.6 .5-12.3 .4 9.8 .5-3.5 .4 .8 .5-12.4 .4 12.9 .5-4.1 .4-4.2 .5-6.9 .4-1.5 .5 17.1 .4-17.7 .5 6.6 .4-7.4 .5 .8 .4 12.1 .5-4.9 .4 2.3 .5-5.7 .4-10.4 .5 12.2 .4 5.3 .5-25.5 .4 27.5 .5-8.2 .4-.1 .5 9.5 .4-16.4 .5-2.4 .4 8.7 .5-1.3 .4 1.5 .5 12.3 .4-15.8 .5 11.5 .4-2.3 .5-10.7 .4-4.2 .5 14 .4-15.7 .5-4.9 .4 12.6 .5 2 .4-2 .5 4.9 .4 3.7 .5-11.5 .4-.4 .5 9.6 .4-.6 .5 1.9 .4 .7 .5 2.2 .4 4.2 .5-18.7 .4 9.8 .5-3.3 .4-13.4 .5 17.6 .4-8.4 .5 14.8 .4-5.9 .5-10.4 .4 7.1 .5 8.8 .4 .5 .5-14.8 .4 9.4 .5-12.8 .4 2.7 .5 4.3 .4-2.4 .5-6.6 .4 5.2 .5 7.3 .4-10.2 .5 5.1 .4-1.2 .5-6.3 .4 1.7 .5-5.4 .4 9.2 .5 2.1 .4-.9 .5-5.5 .4 9.1 .5-3.4 .4 3.7 .5-.5 .4-4.6 .5-19.8 .4 21.4 .5-4.9 .4 1.2 .5 2.1 .4-1.6 .5-14.8 .4 16.9 .5-14.3 .4 7.2 .5 11.5 .4-1.8 .5-1.7 .4 4.6 .5-17.3 .4 5.4 .5-1.2 .4 11.6 .5-11.6 .4 7.3 .5-22.9 .4 18.9 .5-3.2 .4-1.3 .5 6.5 .4-1 .5-.2 .4-9.8 .5 11.7 .4-4.6 .5-4 .4 5.4 .5 7 .4-1.5 .5-6.1 .4 4 .5-14.9 .4 7.1 .5 .2 .4 7.3 .5-11.8 .4 6.7 .5 4.5 .4-2.4 .5-23.1 .4 22.9 .5 2 .4-15.4 .5 3.3 .4 7.9 .5-12.6 .4 21.9 .5-7.5 .4 9 .5-22.9 .4 10.2 .5-19.5 .4 16.4 .5-.1 .4 12.4 .5 .3 .4-5.4 .5-10.7 .4 14.9 .5 10.2 .4-25 .5-.7 .4 14 .5-10.7 .4-5.5 .5-.6 .4 20.9 .5-12.9 .4 6.2 .5-13.8 .4 6.4 .5 9.7 .4-10.7 .5-4.3 .4 16.3 .5-2 .4-5.8 .5-3.4 .4 1.6 .5 9.5 .4-2.5 .5-12.5 .4-4 .5 9.8 .4-8.7 .5-14 .4 16.3 .5 1.5 .4 1.8 .5-9.7 .4 1.6 .5-.5 .4 4.7 .5-6.6 .4-.3 .5 4.2 .4-10.9 .5 21.8 .4-18.8 .5 6.5 .4-8.3 .5-9.1 .4 14.8 .5 1.5 .4-1.8 .5-12.2 .4-1.9 .5 10.8 .4-4.8 .5-10.4 .4 9.7 .5 16.2 .4-6.8 .5-3.8 .4-8.5 .5 7.1 .4-17.7 .5 14.8 .4-18.5 .5 18.1 .4-18.3 .5 9.1 .4-11.7 .5-5.6 .4 .9 .5 5.4 .4 14.9 .5-.2 .4 20.2 .5-42.1 .4 1 .5 1.3 .4 18.4 .5-36 .4 30 .5-14.9 .4 21.6 .5-10.1 .4-18 .5 .7 .4 18.5 .5-10.3 .4-12.3 .5 26.7 .4-25.6 .5 20.8 .4-21.7 .5 7.3 .4-12.9 .5 13.2 .4-2.7 .5-1 .4 4.9 .5-7.5 .4 6.3 .5-5.2 .4-13 .5 9.1 .4-14.5 .5 2.8 .4-2.1 .5 18.9 .4-16.6 .5-11.5 .4 4.2 .5-4.5 .4-4.4 .5 29.6 .4-23.1 .5-1.5 .4 5.8 .5 9.7 .4-17.4 .5 1.1 .4-24.7 .5 4.5 .4 16.1 .5 4.6 .4-4.6 .5-11.1 .4 4.8 .5-32.2 .4 32.2 .5-14.9 .4-5.4 .5-6 .4 12.1 .5-11.2 .4-8 .5-5.2 .4 6.9 .5-7.1 .4-10.2 .5-24.5 .4 33 .5-27.7 .4-15.9 .5 31.6 .4-41 .5-5.4 .4 11.1 .5-17.8 .4-13.2 .5 14 .4-12.2 .5 8.6 .4-13.7 .5-19.4 .4-8.4 .5-32.9 .4 11.7 .5 .3 .4-39.7 .5-13.7 .4-7 .5-7.2 .4-5.9 .5-19.5 .4-47.5 .5-8.2 .4-1.9 .5-4.7 .4 13.6 .5 14.3 .4 3.7 .5 5.7 .4 32.1 .5 9.5 .4 15.4 .5-4.2 .4 0 .5 39.1 .4 12.5 .5 20.9 .4 .5 .5 23.5 .4 11.3 .5 13.8 .4-30.4 .5 41.2 .4 18.5 .5 8.5 .4-5.6 .5 9 .4 18.1 .5 34.7 .4-25.6 .5 6.9 .4 10.3 .5 9.7 .4 9.9 .5-6.5 .4 20.7 .5-9.1 .4 19.9 .5 3.2 .4 4.4 .5 4.7 .4 2.7 .5-8.8 .4-4.5 .5 23.8 .4 5.5 .5-18.7 .4 16.4 .5-3.6 .4 2.8 .5-5.2 .4 17.1 .5-16.3 .4 4.3 .5 26.7 .4-16.2 .5 3.1 .4-5.2 .5 5 .4 7 .5-2 .4-4.2 .5 3.9 .4 3.1 .5-17.5 .4 15 .5 14.5 .4-8.2 .5-.1 .4 11.7 .5-7 .4 8.7 .5 11.9 .4-18.2 .5-.9 .4 1.3 .5 6.8 .4 4.3 .5-5.3 .4-.6 .5-2.9 .4-2.5 .5 4.4 .4 10.4 .5-3.3 .4 10 .5-14.7 .4 1.3 .5-3.9 .4 5.4 .5-7.1 .4 16.2 .5-6.5 .4 4.6 .5 .5 .4 11.2 .5-6.2 .4 9.2 .5-10.3 .4 3.3 .5-4.7 .4 13.9 .5-7.7 .4-.8 .5 14.3 .4-24.8 .5 8.4 .4 9 .5-16.3 .4 4.2 .5 25.2 .4-13.2 .5 2.7 .4-3.6 .5 6.8 .4-3.9 .5-1.7 .4 16.4 .5-16 .4-7.6 .5 8.2 .4-6.1 .5-2.5 .4 8.1 .5-.4 .4 .1 .5 5.3 .4-16 .5 11.3 .4-.5 .5-2 .4-2.8 .5 17.3 .4-1.7 .5-6.5 .4-1.8 .5 10.5 .4 1.3 .5-12.1 .4 .7 .5 6.3 .4 .4 .5 2.4 .4 3.4 .5-1.4 .4-5.7 .5 2.3 .4-6.4 .5 13.1 .4 2.2 .5-12.8 .4 8.5 .5-3.6 .4-2.1 .5 7 .4 1.4 .5-10.4 .4 16.4 .5-18.9 .4 13 .5-14.6 .4 2.5 .5 .2 .4-1.7 .5 1.8 .4 8.1 .5-12.2 .4 3.7 .5-1.8 .4 3.2 .5 .7 .4-6.3 .5 .1 .4 3.9 .5 7.9 .4-1.1 .5 .7 .4-11 .5 3.7 .4 2.8 .5 1.6 .4 3.6 .5-7.6 .4 10.3 .5-.5 .4-8.4 .5 1.7 .4 4.1 .5 6.8 .4 .4 .5-10.5 .4 2.8 .5-5.4 .4 10.4 .5-1.7 .5 4.6 .4-13.2 .5 17.3 .4-11.7 .5-5.1 .4 13.2 .5 2.4 .4-2.3 .5 2 .4-9.2 .5 2 .4 4 .5-3.4 .4-9.3 .5 8.7 .4 .6 .5-11.9 .4 14.1 .5-2.2 .4-9.8 .5 7.2 .4 9.8 .5-5.1 .4 7 .5-7.8 .4-4.7 .5 9.9 .4-15.6 .5 1.6 .4 2.4 .5 7.8 .4-3.5 .5-2.5 .4-1.8 .5-1.5 .4 17.1 .5-7.1 .4 2.2 .5-4 .4-2.7 .5-10.3 .4 11.7 .5-5 .4 3.8 .5 .7 .4-8.8 .5 13.9 .4-8.7 .5-6.8 .4-6.6 .5 19.3 .4 2.1 .5 1.7 .4-4 .5-1.8 .4 0 .5-5.2 .4 7.1 .5-3 .4 9.7 .5-4.7 .4-2.3 .5 10.8 .4-11.8 .5-3.5 .4 4 .5-.4 .4 1.2 .5 5.9 .4-5.8 .5 3.1 .4-2.9 .5 .2 .4 0 .5 7 .4-5.9 .5-8.4 .4 4 .5 5.7 .4 2.5 .5-8.1 .4 4.8 .5 8.5 .4-6.2 .5-10 .4 16.1 .5-8.2 .4 4 .5-3.1 .4 1.9 .5 2.4 .4 8.1 .5-10.9 .4-.9 .5 1 .4 4.6 .5-1.9 .4-13 .5 16 .4-3.4 .5 4.6 .4-4.5 .5-1.9 .4-4.2 .5 4.9 .4 1.3 .5-1.5 .4-.8 .5 2.8 .4 0 .5-5.9 .4 8.9 .5-3.2 .4 3.7 .5-2.2 .4-9.6 .5 9.7 .4-6.1 .5-7.8 .4 6.8 .5 2.7 .4 2.4 .5 7.7 .4-7.8 .5-.5 .4-8.9 .5 1 .4 9 .5-8.9 .4 5.8 .5-11.3 .4 1.7 .5 3.8 .4 5 .5-9.7 .4 4.2 .5-1 .4 3 .5 3.9 .4-4.5 .5 7.6 .4-7.1 .5 3.1 .4 8.7 .5-9.4 .4 2.8 .5 1.8 .4-1 .5-3.6 .4 9 .5-.1 .4-7.8 .5 2.7 .4 8.9 .5-8.2 .4 8.4 .5-10.6 .4 1.9 .5-.9 .4 9.1 .5-3.4 .4-7.5 .5 10 .4-8.8 .5 3.1 .4-1.9 .5 4 .4-6.7 .5 .6 .4-2.4 .5-7.6 .4 11.7 .5-1.6 .4 4.7 .5-12.7 .4 9.1 .5-5.2 .4 8.4 .5-4.1 .4-3.9 .5 .5 .4 3.4 .5-5.2 .4 3.5 .5-4 .4 5.8 .5-3.8 .4 5.1 .5-7.6 .4 5.8 .5-.2 .4 2.9 .5-6.9 .4 3.8 .5 1.7 .4-6.8 .5 9.3 .4-7.7 .5-2.2 .4 14.2 .5-11.5 .4 1.7 .5 1.6 .4-.5 .5 7.1 .4-7.4 .5 1.4 .4 7.8 .5-5.4 .4 4.7 .5-5.4 .4 4.6 .5-4 .4 7 .5-3.6 .4-.3 .5-.6 .4-5.6 .5-4.4 .4 16.2 .5-10.1 .4 4.9 .5 .1 .4 .2 .5-.7 .4-.3 .5-4 .4-2 .5 3.8 .4 1.2 .5-2.4 .4 .6 .5-6.3 .4 11.8 .5 1.7 .4-4.9 .5-2.6 .4 2.2 .5-2 .4 11.9 .5-7.9 .4-.5 .5 2.8 .4-3.3 .5-1.7 .4-2.7 .5 5.5 .4 2.9 .5-8.8 .4-6.6 .5 7.3 .4 0 .5 4.5 .4-5.3 .5-5.9 .4 14.7 .5-12.6 .4 12.3 .5-14.6 .4 2.7 .5 4.6 .4-2.6 .5-5.8 .4 11.4 .5-9.4 .4 2.5 .5 2.5 .4-5.9 .5 13 .4-6.1 .5 4.7 .4-4.6 .5-2.2 .4 9.1 .5-7.7 .4 .2 .5 3.8 .4-2 .5-4.8 .4 3.4 .5-5.4 .4 11.1 .5 .9 .4-10 .5 10.5 .4-10.5 .5 5.1 .4-2.7 .5 4.2 .4-5.7 .5-1.1 .4 .5 .5 3 .4 7.6 .5-9.4 .4 3.6 .5-5 .4 11.7 .5-8 .4 3.7 .5-1.6 .4-3.7 .5 .3 .4-2.4 .5 4 .4-.3 .5 1.1 .4 6 .5-9 .4 7.8 .5-1.2 .4-3.8 .5 4.5 .4-.9 .5 8.2 .4-6.5 .5 .9 .4-2 .5-4.7 .4 3.3 .5-.5 .4-1.1 .5-3.6 .4-.4 .5 2.6 .4 2.6 .5-4.7 .4 4.6 .5-.7 .4-2.2 .5 2.9 .4 2.2 .5 .2 .4-4 .5-2.3 .4-2 .5 5.4 .4-4.2 .5 .6 .4 1.8 .5-11.9 .4 12.9 .5 .4 .4-3.8 .5-5.5 .4 7.6 .5-6.6 .4 9.4 .5-2.4 .4-.6 .5 .4 .4-1 .5 .8 .4 .6 .5 3.3 .4-5.6 .5 1.9 .4-.6 .5-3.4 .4 2.8 .5 1.3 .4-4.4 .5 7.4 .4 4.6 .5-3.6 .4 2.7 .5-3.6 .4 .1 .5-.4 .4-1.2 .5-1.1 .4 1 .5 1.3 .4 1.9 .5 1 .4-1.6 .5 1.2 .4 3.4 .5-2.4 .4-4 .5 2.6 .4 3.5 .5-4 .4-1.5 .5 6.5 .4-10.5 .5 1.9 .4 4.9 .5-4.9 .4 3.2 .5-1.5 .4 5.6 .5-1.5 .4-1 .5-.6 .4 1.4 .5 4.1 .4-1.7 .5-5.7 .4 3.1 .5-7.6 .4 1.2 .5 6 .4-1.5 .5 7.7 .4-9.3 .5-1.3 .4 7.1 .5 .2 .4-.5 .5-4.6 .4-.9 .5 7.7 .4-2 .5-3.2 .4 1.4 .5 2.1 .4-2.9 .5 5.4 .4 2.2 .5-7.7 .4-.5 .5-2.2 .4 5.7 .5 1.8 .4-3.6 .5 .3 .4-.8 .5 .2 .4-5.5 .5 3.5 .4-4.1 .5 7.1 .4 .8 .5-7.2 .4 7.4 .5-.4 .4-.3 .5 2.4 .4-8.5 .5-4.5 .4 4 .5-1 .4 4.2 .5 2.3 .4-5.4 .5 6.2 .4 1.4 .5-2.3 .4-6.9 .5 2.6 .4 2.3 .5 3 .4-.5 .5-4.6 .4 1.4 .5 2.4 .4-7 .5 6.4 .4 3.3 .5-5.1 .4-4.9 .5 1.1 .4-.9 .5 6.1 .4-4.6 .5 1.1 .4 1.3 .5 3.3 .4-8.5 .5 4.2 .4 2.4 .5-4.4 .4-6.2 .5 14.6 .4-6.1 .5-5.3 .4 .1 .5 10.5 .4-1.5 .5 5.7 .4-6.8 .5 5.7 .4-1.4 .5-8.6 .4 9.6 .5 2.2 .4-6.2 .5-.5 .4 .1 .5-3.3 .4 6.7 .5-1.9 .4-2.7 .5 3.7 .4-6.4 .5 1.5 .4 3.3 .5 .7 .4-.8 .5-1.1 .4 8.1 .5-2.3 .4-1.8 .5 .3 .4-.7 .5-.1 .4-2.3 .5 1.4 .4-2.3 .5 .1 .4 1.3 .5 1.3 .4 1.1 .5-5.3 .4 4.3 .5-2.4 .4-2 .5 2 .4 6.3 .5-2.9 .4-9.5 .5 12.5 .4-10 .5 8.2 .4-4.1 .5-3.4 .4 7.2 .5-6.9 .4 11.2 .5-7.1 .4 1.7 .5-3.6 .4-1.2 .5-1.3 .4 .2 .5 5.4 .4 1.7 .5-4.5 .4 3.4 .5 5.4 .4 .3 .5-6 .4-.1 .5-1.6 .4-.5 .5 6.1 .4-6.6 .5 4.9 .4-5.6 .5 1.5 .4-5.6 .5 4 .4 2.9 .5-1.1 .4-1.1 .5-1.9 .4-.8 .5 5.5 .4 .4 .5-6 .4 2.5 .5-3.5 .4 2.1 .5-4 .4 3.6 .5 6.5 .4-2.5 .5-3.1 .4 5.7 .5-3.4 .4-1.9 .5-1.2 .4 1 .5 8.3 .4-8.7 .5 7.2 .4-3 .5 3.2 .4-5.7 .5 3.6 .4-.9 .5-.5 .4 1.9 .5 2 .4-6.8 .5 2.9 .4-.6 .5 8.4 .4 .8 .5-12.2 .4 3.1 .5 8.1 .4-7.2 .5 1 .4 3.3 .5-1.9 .4-7.6 .5 8.2 .4-4 .5 4.1 .4 2.3 .5-13 .4 5.6 .5 3.8 .4-.4 .5-.3 .4 2.6 .5-4.8 .4-.6 .5 3.5 .4-1.1 .5 4.1 .4-5 .5 7.3 .4-6 .5-5.1 .4 5.6 .5-9.7 .4 12.2 .5-2.7 .4-.8 .5-3.2 .4-.9 .5 3.2 .4 5.3 .5-9.5 .4 2.5 .5-.5 .4 7.6 .5-6.6 .4 2.1 .5-3.6 .4-2.4 .5 8.3 .4-2.3 .5-.3 .4 2.7 .5-4 .4 .3 .5 4.6 .4 .2 .5-3.3 .4 6.6 .5-6.3 .4-1.5 .5 .3 .4 5.8 .5-8.4 .4-.7 .5 10.1 .4-8.9 .5 1.4 .4 1.2 .5 5.1 .4-5.6 .5 6.4 .4-3.7 .5-2.5 .4 .7 .5 2.3 .4-2.2 .5 1.3 .4-1.4 .5 3 .4 1.1 .5-2.1 .4 2 .5-7.4 .4-4.6 .5 5.6 .4-1.6 .5 6.7 .4-2.9 .5 2.9 .4-5.5 .5 1.6 .4 3.3 .5-7.2 .4 4.4 .5-2.4 .4-.3 .5-1.5 .4 .6 .5 3.9 .4 1 .5 1.4 .4 1.4 .5-8.1 .4 7.2 .5-5.7 .4 7.1 .5-.2 .4-4.8 .5 3.7 .4 2.2 .5-7 .4 8.8 .5-1.1 .4-4.2 .5-2.3 .4 4.6 .5 2.6 .4-9 .5 6.7 .4 1.9 .5-2.1 .5-3.1 .4 11.8 .5-5.2 .4-5.2 .5 .5 .4 1.3 .5 .6 .4-2.2 .5-1.6 .4 4.8 .5-.5 .4-3.6 .5 3.1 .4 2.7 .5-3.4 .4 2.6 .5-5.2 .4-.9 .5 4.3 .4-1.6 .5-1.5 .4-2.6 .5 .6 .4 2.1 .5-.3 .4-3 .5 2 .4 .4 .5 4.6 .4-3.7 .5-.6 .4 1.1 .5 3.3 .4 2.4 .5-6.8 .4 .1 .5 1.6 .4 3.2 .5-1.1 .4-.9 .5-2.1 .4 2 .5 2.7 .4-.7 .5 2 .4-8.4 .5 7.3 .4-6.1 .5 3.4 .4-4.4 .5 8.3 .4-5.1 .5 4.7 .4 0 .5-.4 .4 1.7 .5-1.1 .4-1.8 .5-5.3 .4 5.9 .5 3.1 .4-6 .5-2.2 .4 11.1 .5-8.5 .4 5.2 .5 1.2 .4-7.1 .5-2.3 .4-1.2 .5 5.1 .4 1.1 .5-1.6 .4-1.2 .5-.9 .4-1.3 .5 2.6 .4-.5 .5 1 .4 2.7 .5-3.4 .4-3 .5 2 .4 8.2 .5-10.5 .4 6.8 .5-8.9 .4 .3 .5 4.1 .4-3.3 .5 7.5 .4-1.8 .5 1.4 .4-3 .5 .8 .4-.5 .5 .2 .4-3.9 .5 4.1 .4 1.2 .5-1.5 .4-1.1 .5 .1 .4 4.2 .5-1.4 .4-.5 .5 1.9 .4 2.1 .5-2.6 .4 5.9 .5-6.4 .4 3 .5-2.5 .4-.3 .5-5.5 .4-.1 .5-.5 .4 6.1 .5 1.7 .4-3.6 .5 5.4 .4-2.7 .5 2 .4-2 .5-2.3 .4 5.1 .5-3.8 .4 .1 .5-.1 .4-.8 .5 2.4 .4-1 .5 .7 .4 3.2 .5-8.6 .4 2.1 .5 0 .4 3.6 .5 2.9 .4-5.7 .5 3.2 .4-7.5 .5 .1 .4 6.2 .5-5.2 .4 1.7 .5 2.2 .4 4.1 .5-6 .4-.8 .5-.1 .4 4 .5-1.7 .4 0 .5 0 .4 1.8 .5-4.7 .4 1.4 .5 2.7 .4-2.3 .5-1.4 .4 1.7 .5 .1 .4-1.2 .5 4.3 .4-3.9 .5 3.8 .4-2.3 .5-2.7 .4 4.7 .5-4.3 .4 1.4 .5-1.9 .4 7.9 .5 6.7 .4-8.1 .5-8.2 .4 4.8 .5 1.6 .4-.8 .5-1.1 .4 1.7 .5-6.8 .4 6 .5 4 .4-.1 .5-3.2 .4-.3 .5-2.3 .4-.4 .5-.3 .4 5.5 .5-4 .4 2.9 .5-2.3 .4 3.2 .5-6.5 .4-.2 .5 2.7 .4 3.5 .5-5.5 .4 2 .5 4.4 .4-5.4 .5-.7 .4 1 .5 6.1 .4-6.6 .5-.8 .4 4.2 .5-4.5 .4 1.5 .5-1.3 .4 7.3 .5-3.9 .4-2 .5 5.3 .4-4.3 .5-4.2 .4 8.8 .5-7.8 .4 1.4 .5 4.8 .4-.1 .5 .2 .4-3.2 .5 7.1 .4-8 .5 5.9 .4-3.1 .5 .2 .4-3.2 .5 4.8 .4-.4 .5-5.4 .4-1.2 .5 4.6 .4 .9 .5-1.6 .4 .6 .5 .3 .4 2.7 .5 3.4 .4-6.5 .5 .9 .4-3.2 .5 .2 .4-1.4 .5 5.7 .4-3.2 .5 5.3 .4-4.1 .5-.6 .4 3.3 .5-1.7 .4-6.9 .5 8.8 .4-5.1 .5 3.8 .4-3.4 .5 9.2 .4-3.4 .5-2.8 .4-5.1 .5 4.9 .4 2.9 .5-2.1 .4-3.2 .5 6.3 .4-4.2 .5 .8 .4 .6 .5-2.1 .4 3.2 .5-3.4 .4-.1 .5-2.9 .4 3.8 .5 1.1 .4 2.7 .5-1.5 .4 2 .5-7.2 .4 9.8 .5-7.4 .4-.2 .5-.6 .4 2.8 .5-7.2 .4 6.6 .5 3.2 .4-2.5 .5 .1 .4-5.5 .5 3.5 .4 2.3 .5 0 .4-2.1 .5 .8 .4-.9 .5-2.9 .4 6.3 .5-1.9 .4-2.3 .5 4.5 .4-5.5 .5-1.9 .4 3.3 .5-1.8 .4 3.1 .5-.8 .4-.6 .5 .9 .4-3.2 .5 4.6 .4-3.5 .5 3.6 .4-5.1 .5 .6 .4 2.9 .5 4.7 .4-1.2 .5 4.9 .4-9 .5 3.6 .4 .9 .5-1.8 .4 4 .5-2.5 .4-1.6 .5-2 .4-3.3 .5 8.1 .4-4.6 .5 4.1 .4 1.1 .5-3.7 .4 1 .5 3.8 .4-3.9 .5-5.4 .4 7.1 .5-.1 .4-5.4 .5 2.4 .4 2.5 .5-3.3 .4 2.5 .5 .6 .4-3.2 .5 3.2 .4-4.5 .5-2.3 .4 5.8 .5 0 .4-.1 .5-1.9 .4 1.8 .5-2.4 .4-1.9 .5 4.9 .4-3.6 .5-2.5 .4 .8 .5 4.6 .4-5.8 .5 5.9 .4-5.2 .5 6.8 .4-5.7 .5 2.4 .4 .1 .5 .2 .4 1.6 .5-3.7 .4 .8 .5-1.7 .4 4.3 .5-4.1 .4-.7 .5 5 .4-5.7 .5-.7 .4 7.1 .5-.8 .4-8.9 .5 5.4 .4 1.2 .5 2 .4-4.2 .5 2.9 .4-2.3 .5 .4 .4-.8 .5-.5 .4 2.4 .5-2.1 .4-.4 .5 2.2 .4 1.2 .5-2.7 .4-3.4 .5 4.5 .4 .7 .5-2 .4 1.9 .5-1.4 .4 .3 .5 1.4 .4-2.3 .5 3.2 .4-.3 .5 2.6 .4-2.3 .5-2.5 .4-2.3 .5-4.8 .4 8.3 .5 1 .4-6.1 .5 8.9 .4-5.9 .5 1.6 .4-3.3 .5 4.9 .4-.9 .5 5 .4-2.7 .5-1.3 .4 1.4 .5 .5 .4-4.5 .5 6.6 .4 .6 .5-.5 .4-1.8 .5 .6 .4-1.6 .5 1.1 .4-6.3 .5 6.3 .4-1.4 .5-1.9 .4-4.6 .5 6.4 .4 .9 .5-4 .4 3.6 .5 3 .4-.1 .5-2.8 .4 2.3 .5-6.3 .4 1.7 .5-3.3 .4 3.7 .5 1.4 .4-2.6 .5 .1 .4 4 .5-6.7 .4 3.8 .5-1.6 .4 3.5 .5-4 .4-3.1 .5 6.2 .4 2.1 .5-2.8 .4 0 .5-1.3 .4 5.7 .5-6.6 .4 1.9 .5 1.5 .4 2.3 .5-3.6 .4-2.3 .5 1.5 .4 0 .5 1 .4-.6 .5 4.2 .4-7.3 .5 1.1 .4 3.2 .5-.8 .4 3.7 .5-1.4 .4-3.2 .5 2.8 .4 1.2 .5-2 .4-2.3 .5 4.3 .4-3.8 .5-.3 .4 0 .5 .3 .4 1.3 .5 1 .4-3.1 .5 5 .4-5.4 .5 6.6 .4-2.6 .5-1.1 .4 5.3 .5-5.9 .4-1.5 .5 5.5 .4-2.3 .5-2.6 .4 0 .5-.8 .4 6.4 .5-3.7 .4-3.8 .5 6.6 .4-.8 .5-3.1 .4-.3 .5 3.2 .4-1.4 .5-2.4 .4-.8 .5-4.6 .4 2.1 .5 1.5 .4 .6 .5-2.1 .4-4.9 .5 7.4 .4 1.4 .5 .8 .4-3.1 .5 3 .4 2 .5-2.8 .4 .1 .5-4.3 .4-1.5 .5 5.2 .4 .2 .5-3.8 .4 2.7 .5 1.1 .4-3 .5 4.5 .4-4 .5-3.6 .4 9.1 .5-4.8 .4 1.8 .5-3.8 .4 .8 .5 4.7 .4-1.6 .5 1.9 .4-4.8 .5 4.9 .4-1.9 .5-2.4 .4 3.5 .5 1.7 .4 .2 .5-.2 .4-2.1 .5 .4 .4-1.8 .5 1.3 .4-3.2 .5 1 .4-1.7 .5 5.1 .4 1.4 .5-6.3 .4 2.2 .5 6.2 .4-3.8 .5-2.7 .4-2 .5-2.9 .4 3 .5 2.1 .4 1.8 .5 1 .4-.5 .5 1.1 .4-2.7 .5-2.6 .4 1.4 .5 3.7 .4-4.1 .5-1.1 .4 3.2 .5 .4 .4-.6 .5-1.1 .4 6.2 .5-2.6 .4 1.2 .5-3.3 .4-1 .5 2.6 .4-3.8 .5 2.1 .4-.1 .5 .5 .4 3.2 .5-7.1 .4 3.7 .5 4.7 .4-5.5 .5-.7 .4 5.4 .5-3.4 .4-3.6 .5 2.6 .4 1.2 .5 .2 .4-.8 .5 3.6 .4-1.3 .5-1.7 .4 .9 .5-3.2 .4 7.9 .5-9.5 .4 6.4 .5 .5 .4-1.4 .5-2.7 .4 3.2 .5-3.9 .4 .5 .5 2.7 .4 .5 .5-.1 .4-1 .5 4 .4-6.9 .5 3.1 .4-.5 .5 2.2 .4-.2 .5-5.3 .4 8.4 .5-5.3 .4 2.4 .5 2.2 .4-5.8 .5 3.9 .4-3.9 .5 2.6 .4 4.3 .5-4.9 .4 2.6 .5-2.3 .4 .3 .5-1.9 .4 .9 .5 1 .4 .8 .5 2.1 .4 1.6 .5-5.7 .4 3.6 .5-1.8 .4-2.9 .5-.5 .4-.1 .5 1.6 .4-.7 .5 0 .4 .3 .5 3.5 .4-3.6 .5-1.6 .4 2.4 .5-.5 .4 6.3 .5-3.5 .4-8.3 .5 8.3 .4-3.8 .5-1.6 .4 .7 .5 2 .4 .6 .5 3.1 .4-7.2 .5 4.1 .4-2.5 .5 6.7 .4 1 .5 .2 .4-6.6 .5 2.8 .4 0 .5-1.2 .4 .5 .5 0 .4 2.1 .5 .8 .4-2.8 .5-2.1 .5 3.7 .4-1.7 .5 1 .4-2.1 .5 3.9 .4-7.7 .5 .2 .4 4 .5 .4 .4 3.8 .5-6.5 .4 1.8 .5-.2 .4 4.4 .5-5.7 .4-2.8 .5 7.1 .4-2 .5-3.6 .4 1.4 .5-.1 .4-5.8 .5 4.2 .4 3 .5 7.3 .4-6.3 .5 2.9 .4-.2 .5-6.2 .4 5.7 .5-2.4 .4-3.9 .5 5.1 .4-.6 .5 1.5 .4-1.9 .5 2.6 .4-4.6 .5 2.2 .4-3 .5-.5 .4 1.6 .5-.6 .4 1.2 .5-2.3 .4-1 .5 1.1 .4-2.3 .5 2.8 .4 .5 .5-1.3 .4 5.1 .5-2.7 .4 3.8 .5-5.5 .4-1.7 .5 5.5 .4-1.4 .5-.3 .4-4.3 .5 1.9 .4-2.3 .5 1.6 .4-.1 .5 6.3 .4 .4 .5-8.3 .4-2.6 .5 8.7 .4-.3 .5-5.6 .4-2.1 .5 7.8 .4-1 .5-3.9 .4 1.6 .5 .1 .4-1.1 .5 5.1 .4-.4 .5-5.8 .4 8 .5-6 .4 3.5 .5-4.4 .4 3.7 .5 .3 .4-3.2 .5 2.9 .4 .1 .5 6 .4-7.2 .5 1.9 .4-2.9 .5 3.6 .4 1.9 .5-6 .4 3.4 .5 .6 .4 2.8 .5-6.9 .4 1.2 .5 4.8 .4-4.4 .5 .5 .4-1.7 .5 2.9 .4-5.4 .5 10.2 .4-1.1 .5-5.7 .4-.7 .5 1 .4-5 .5 4.9 .4 4.7 .5-8.1 .4 3.4 .5 1 .4-2.6 .5-.2 .4 2.3 .5-3.2 .4 .8 .5 1.3 .4-.2 .5 4.7 .4-3 .5-.2 .4-1 .5-4.7 .4 3.7 .5 1 .4 2.4 .5-2.1 .4 1.3 .5 .2 .4-2.5 .5 4.2 .4-2.3 .5-4.1 .4 2.2 .5 2.5 .4-.9 .5 .6 .4-4.8 .5 .3 .4-.9 .5 5.2 .4-.5 .5-2.1 .4 5 .5-1.3 .4-3.7 .5 4 .4 .8 .5-3.2 .4 2 .5 1 .4-1.8 .5 4.6 .4-6 .5 1.4 .4-.4 .5 .3 .4-1.2 .5 6 .4-4.5 .5-3.5 .4 5.2 .5 .4 .4-.5 .5 1.8 .4-10 .5 7 .4-2.5 .5 4.3 .4-.7 .5 .5 .4 1.3 .5-2.5 .4-4.2 .5 4.5 .4-4.4 .5-2.5 .4 3.6 .5-2 .4-.5 .5 4.5 .4-.4 .5 3.1 .4-3.3 .5-4.2 .4 2.1 .5 1 .4 .7 .5 .8 .4-1.1 .5-6.8 .4 2.5 .5 2.3 .4 1.3 .5 1.1 .4-4.2 .5 3.7 .4-.2 .5-.1 .4-4 .5 3 .4-3.5 .5 5.9 .4 .2 .5 1.2 .4-3.1 .5 3.3 .4-1.4 .5-4.6 .4 2 .5 2.2 .4-.2 .5 7.7 .4-2.4 .5-7 .4 4.3 .5-.5 .4-4.1 .5 5.3 .4-3.6 .5 1 .4-1.2 .5 .5 .4-4.5 .5 2.4 .4-2.2 .5 5.5 .4-1.5 .5-1.1 .4-3.4 .5 1.9 .4 2.6 .5 2.9 .4-3.2 .5 3 .4-.2 .5-.9 .4-.4 .5 .6 .4-4.4 .5 3.1 .4 2.4 .5-2.6 .4 4 .5-4.7 .4-.6 .5-.1 .4 4.3 .5-5 .4 .3 .5-2.4 .4 3 .5 1.4 .4 .6 .5 1.1 .4 .7 .5-.5 .4-4.1 .5 2.9 .4-.4 .5 1.2 .4-2.1 .5-1.1 .4 .4 .5 4.5 .4-2.2 .5-5.7 .4 4.3 .5 1.1 .4 1.3 .5 2.4 .4 1 .5-3.6 .4-.8 .5 2.2 .4-1.7 .5-1.7 .4 .1 .5-1.4 .4 6.3 .5-4.2 .4-.9 .5 1 .4 3.4 .5 .7 .4-8 .5 5.5 .4-2.1 .5 2.1 .4 .4 .5-2.9 .4-1.2 .5 2.3 .4 .5 .5-2.7 .4 2.6 .5 .1 .4 .8 .5-1.8 .4 1 .5 .2 .4 .4 .5-1.2 .4-2.2 .5 3.1 .4 1.9 .5-7.2 .4 2.8 .5 3.7 .4 3 .5-6.9 .4 4.8 .5-1.6 .4 5.4 .5-7.1 .4-1 .5 3.2 .4 .2 .5-.4 .4 2.7 .5-.2 .4-5.3 .5 3.1 .4-.8 .5 .2 .4-2.3 .5 2 .4-1.6 .5-.5 .4 2.9 .5-1.1 .4-1.4 .5-1.3 .4 1.2 .5-.3 .4 3.4 .5-1.2 .4-2.1 .5 1.5 .4-.4 .5-.4 .4-3.4 .5 5.8 .4-4.3 .5 .4 .4 1.1 .5 2.3 .4-1.7 .5 1.3 .4-3.1 .5 1.9 .4-.3 .5 2.4 .4-4.9 .5 7.5 .4-10.1 .5 8 .4-.9 .5-.3 .4 2.5 .5-5.8 .4 4.2 .5 .5 .4-4.4 .5 1.2 .4 5.4 .5-.6 .4-3.1 .5-.4 .4-1.2 .5 1.8 .4-3.2 .5 .3 .4 1.5 .5 .9 .4-2.6 .5-.6 .4 2.5 .5 .8 .4-2 .5 2.9 .4-2.1 .5-1 .4 4.3 .5-.9 .4 2.6 .5-3.3 .4-2.6 .5 2.2 .4-2.4 .5 1 .4 1.8 .5-5.1 .4 3.4 .5-2.8 .4 1.3 .5 1.1 .4-4.2 .5 4.9 .4 .6 .5-4.5 .4 2.2 .5 2.7 .4-.9 .5 2.2 .4-4.2 .5-1.4 .4 1.5 .5-.4 .4-1.4 .5 2.6 .4 2.1 .5-.1 .4-2.5 .5 .2 .4 0 .5 3.1 .4-2.6 .5-3.5 .4 3.2 .5-2.7 .4 2 .5 1.3 .4-3.4 .5-1.3 .4 2.2 .5-1.4 .4 3.8 .5 1.5 .4 1.6 .5-4.3 .4-3.5 .5 4.7 .4 2 .5-3.5 .4 .2 .5 .1 .4 2.3 .5-5.9 .4 5 .5-.9 .4 3.2 .5-5 .4-2.7 .5 1.6 .4 5.2 .5-4.5 .4 4.3 .5-2 .4 .3 .5-2.7 .4 .5 .5 1.9 .4-.4 .5-3.6 .4 6.8 .5-2.1 .4-6.2 .5 4.7 .4 2.5 .5-3.5 .4-.9 .5 4.4 .4-1.9 .5 1 .4-3.1 .5 1.1 .4 2 .5-3.5 .4 3.3 .5-6 .4 2 .5 3.6 .4-1.1 .5-2.1 .4 1.5 .5 3.8 .4-1.1 .5 .1 .4-.4 .5 3.6 .4-5.7 .5-6.2 .4 7.6 .5 .1 .4 .9 .5-1.8 .4 2.8 .5-.6 .4-2 .5 6.6 .4-3.9 .5-5.3 .4 2 .5 1.5 .4-.3 .5 6.5 .4-7.6 .5 2.3 .4-3.8 .5 1.9 .4-.8 .5 5 .4 .1 .5-8.6 .4 5.2 .5 .4 .4-4.5 .5 1.8 .4-.2 .5-2.6 .4 3.4 .5 1.2 .4 .5 .5 4 .4-4.7 .5 .1 .4 1.1 .5-7.2 .4 7.9 .5-1.2 .4 .4 .5-.2 .4-2.7 .5 2.6 .4-2.3 .5-4.5 .4 6.8 .5 .7 .4-.2 .5-4.2 .4 2.1 .5 .2 .4 1.7 .5 .5 .4-5.7 .5 .5 .4 6.1 .5 .2 .4-.9 .5 0 .4-3.4 .5-1.3 .4 3.6 .5 1.9 .4-4.4 .5-1.3 .4 7 .5-4.3 .4 3 .5 0 .4-.1 .5-5.5 .4 2.4 .5 2.6 .4-1.6 .5-1" fill="none" stroke="#000" stroke-width="3.1" stroke-linejoin="round" stroke-linecap="butt" stroke-dasharray="30 8"/>
<path d="M258.6 1275.2l.5 2.6 .4 2.1 .5 18.5 .4-23.2 .5 21 .4-25.6 .5 2.2 .4-2.2 .5-.4 .4 3.9 .5 6.5 .4-2.4 .5-15.3 .4 16.7 .5-3.3 .4 3.6 .5-2 .4-2.1 .5-4.9 .4 4.2 .5 .3 .4 2 .5-5.9 .4 11.5 .5-11.3 .4-10.2 .5 16.7 .4-5.7 .5-23 .4 30.7 .5 5.1 .4-9.4 .5-17.8 .4-1.6 .5 26 .4-14.1 .5 4.6 .4 4.7 .5 10.8 .4-23.5 .5 14.9 .4-9.1 .5 1.6 .4-14.1 .5 5.4 .4 18.2 .5-7 .4-10.2 .5 18.5 .4-7.4 .5-4.9 .4 14.4 .5-2.9 .4 3.7 .5-15.3 .4 6.7 .5-11.4 .4 6.5 .5-3.4 .4 5.3 .5-6.3 .4 6.8 .5 6.9 .4-16.4 .5 1.7 .4-9.7 .5 18.5 .4 3.4 .5 6.7 .4 18.4 .5-19.5 .4-13.8 .5 10.4 .4 13 .5-24.5 .4 9 .5-1.9 .4 .4 .5-2.4 .4-4.8 .5 16.7 .4-11.6 .5 2.1 .4-12.6 .5 16.5 .4-20.4 .5 7.8 .4-7.7 .5 17.7 .4-11.6 .5 3.3 .4 14 .5-9.5 .4 1.3 .5 3.7 .4-1.7 .5 4.8 .4-7.6 .5-6.5 .4 8.2 .5 5.6 .4-20.3 .5 10.3 .4-3.5 .5 1.6 .4 1.8 .5-9.2 .4 8.2 .5-4.7 .4 10.9 .5 1.1 .4-9.9 .5-17.9 .4 12.9 .5-13.6 .4 11.1 .5-.1 .4 7.8 .5-4.4 .4-14 .5 4.5 .4 13.8 .5-1.2 .4-13.9 .5 14.2 .4-11 .5 14.1 .4-11.8 .5-6.8 .4 5.3 .5 4.6 .4 .8 .5 1.8 .4-.4 .5-9.1 .4 .3 .5 5.8 .4 12.9 .5-5.5 .4-6.1 .5 2 .4 10.8 .5-15.2 .4-14.7 .5 29.4 .4-9.6 .5-11.7 .4 15.7 .5 .2 .4-4.3 .5-2.9 .4 7.6 .5-10.6 .4 22.1 .5-19.6 .4 2.1 .5 3.9 .4-4.3 .5 2.5 .4-10.1 .5 13.5 .4-3.5 .5 10 .4-2.2 .5-7 .4 9.8 .5-5.7 .4 3.5 .5-6.6 .4-4.8 .5-6.5 .4 21.8 .5-13.4 .4-8.3 .5-4.1 .4-.3 .5 21.6 .4-7.1 .5-8.3 .4-3 .5 4.9 .4 .1 .5 .1 .4 7.6 .5-7.2 .4-5 .5 8.8 .4-11.5 .5 30.5 .4-19.1 .5-15.4 .4 6.4 .5-4.4 .4 9.9 .5 10.1 .4-5.1 .5-15.4 .4 25.4 .5-6.7 .4 5.7 .5-9.1 .4-.9 .5-7.8 .4 10.5 .5-19.3 .4 7.9 .5 8.3 .4 3.7 .5 3.7 .4-12.4 .5-14.3 .4 16.1 .5 6.3 .4-7.5 .5 3.3 .4 2.8 .5 7.3 .4-14 .5-11.9 .4 1.8 .5 1.6 .4 5.5 .5-2.2 .4-4.2 .5 7.8 .4-2.6 .5 5 .4-11.5 .5 15.4 .4-12.1 .5-1.3 .4 .2 .5 .9 .4 8.9 .5 .7 .4-1.1 .5-.3 .4 5.7 .5-5.1 .4 1.5 .5 2.4 .4-9.9 .5 8.5 .4-7.6 .5-9.2 .4-1.7 .5 12.6 .4-7.6 .5 5.8 .4-16.1 .5 5.5 .4 3.9 .5 9.5 .4 .5 .5-6.2 .4 4.1 .5 1.3 .4-7.4 .5 14.3 .4 5.3 .5-7.9 .4 .7 .5-8.6 .4 5.5 .5-5.6 .4 13.5 .5-27 .4 7.7 .5 9.2 .4-9.5 .5-7.4 .4 2.5 .5 6.7 .4-5.8 .5-2.5 .4 15.7 .5 1.5 .4-6.7 .5-12.3 .4-3.9 .5 10.2 .4-10.7 .5 3.7 .4 8.2 .5 5 .4-.9 .5-5.7 .4-10.3 .5 4.3 .4 16.5 .5-.7 .4-16 .5 4.6 .4 8.7 .5-12.9 .4-5.7 .5 4 .4 5 .5-10.1 .4 13 .5 1.1 .4 2 .5-22.7 .4-2.5 .5 16.5 .4-5.6 .5 .6 .4-4.3 .5-2.6 .4 3.6 .5 5.7 .4 3.1 .5 3.6 .4 12.5 .5-20.4 .4 5.7 .5-7.1 .4 .8 .5 7.3 .4-4.5 .5-7.6 .4 1.7 .5 8.2 .4-1.3 .5-11.1 .4 2.4 .5-.9 .4 3.5 .5-7.8 .4 4.9 .5-20.5 .4 24.1 .5 1.3 .4-20.2 .5 13.5 .4 5.1 .5-11 .4 22 .5-23.9 .4 2.6 .5-3 .4 8 .5-18.7 .4 7.5 .5 2 .4-4.2 .5 9.4 .4-6.9 .5 11 .4-4.3 .5-12.8 .4 .6 .5-6.3 .4 11.4 .5-5.6 .4 4.2 .5-9.1 .4-5.5 .5-3.4 .4 3.6 .5 11.2 .4-9.8 .5 10.2 .4 7.1 .5-19.9 .4-.1 .5-7.1 .4-1.7 .5 17.8 .4-3.9 .5-9.2 .4-1.7 .5-3.9 .4 15.1 .5-10.5 .4-9 .5-12.4 .4 29 .5-27.7 .4 17.5 .5 10.4 .4-26.9 .5 22.3 .4 .4 .5-18.7 .4-3.8 .5 8.7 .4 7 .5 6.7 .4-16.5 .5 23.1 .4-9.7 .5-26 .4 3 .5-7.3 .4 6.6 .5 14.2 .4-18 .5 21.4 .4-27.5 .5-9 .4 22.1 .5-23.3 .4 7.8 .5-.5 .4 16.5 .5-21.8 .4-13.6 .5 24.9 .4-16 .5-.5 .4 7.1 .5-32.3 .4 8.1 .5-3.4 .4-13.8 .5 16.3 .4-48.6 .5 38.9 .4 5 .5-23.8 .4-.1 .5 12.7 .4-3.4 .5-23.2 .4 3.4 .5-4.5 .4-8.5 .5 14.8 .4-25.2 .5 12.7 .4-10.1 .5 19.1 .4-20.4 .5 7.4 .4-23.9 .5 35.8 .4-15.4 .5 15.8 .4-5.4 .5 20.9 .4 2.5 .5 35.4 .4-5.7 .5-20.3 .4 12.6 .5 2.1 .4 16.9 .5-5.2 .4 17.3 .5 2.1 .4-7.8 .5 5.9 .4 18.8 .5-1.4 .4 1.1 .5 6.2 .4 2 .5 10 .4-12.1 .5 16.6 .4 .9 .5-18.8 .4-3.4 .5 1.3 .4 14.8 .5 9.2 .4-9.8 .5-5.6 .4 14 .5 6 .4 12.4 .5 1.8 .4-26.9 .5 28.4 .4-4.9 .5-1.2 .4-2.7 .5 14 .4-13.2 .5 1.5 .4 5.5 .5 6.8 .4-.6 .5 13.1 .4-18.3 .5 9.8 .4 7.2 .5-9 .4-3.2 .5 1.7 .4-1.4 .5-3.4 .4 12.6 .5-4.8 .4-.2 .5 12.5 .4-17.9 .5 10.3 .4-3.9 .5-.1 .4 7.9 .5-11.2 .4-.9 .5 5.8 .4 21.3 .5-29 .4 10.6 .5 3.8 .4 0 .5 3.8 .4-4.4 .5-6.1 .4 12.3 .5-8.3 .4 6.1 .5-1.6 .4 1.5 .5-3.8 .4-3.8 .5 7.6 .4-5.2 .5-3 .4 20.2 .5-13.7 .4 7.9 .5 .1 .4-6.7 .5 8.6 .4 3.3 .5-11.6 .4 2 .5 4.6 .4-15 .5 24.7 .4 4.4 .5-8.7 .4 6 .5-9.2 .4 6.2 .5 .3 .4-3.6 .5 5.6 .4 7 .5-7.1 .4-8.4 .5 3.2 .4-3.8 .5-4.2 .4 5.3 .5 6.1 .4 4.5 .5-6.9 .4-6.5 .5 1.5 .4 3.2 .5 10.6 .4-7.9 .5-.5 .4-2.9 .5 14.8 .4-3.2 .5-4.8 .4 .1 .5 4.3 .4-6.4 .5 4.6 .4-8.1 .5 9.1 .4-4 .5 13 .4-13.2 .5 4.8 .4-7.9 .5 4.9 .4-8 .5 9.8 .4 5 .5-9.3 .4-1.9 .5 7.4 .4 3.1 .5-11.2 .4-1.4 .5 1.9 .4 3.8 .5 .7 .4-8.7 .5 4.8 .4 9.5 .5 1.1 .4-8.9 .5-.3 .4 7.6 .5 1.1 .4-8.9 .5 7.2 .4-5.8 .5 10.7 .4-.3 .5 4.1 .4-8.5 .5 2.3 .4 7 .5-9.4 .4 3.9 .5-1.4 .4-8.2 .5 2.4 .4 2.7 .5 4.4 .4 4.5 .5-2.7 .4-1.4 .5-8.4 .4 11.3 .5-1.9 .4-2.7 .5-1.9 .4-3.3 .5-1.1 .4 7.7 .5-10.2 .4 6.6 .5 7.6 .4 1.3 .5-2.5 .4-.6 .5-4.9 .4 8.3 .5-1 .4 1.6 .5-5.2 .4 8.8 .5-9.7 .5 6.9 .4-2.6 .5-3 .4 .8 .5-12 .4 18.3 .5 5.9 .4-3.6 .5-10.3 .4 9.4 .5-10.1 .4 6.2 .5-4.5 .4 11.2 .5-12.3 .4-.4 .5 10.2 .4-10.7 .5-6.1 .4 12.8 .5 4.7 .4-1.5 .5-1.3 .4-5.9 .5-3.7 .4 10.9 .5-.7 .4 5.6 .5-4 .4-4.6 .5 11.8 .4-12.7 .5-1 .4-1.4 .5 8.3 .4 4.6 .5-6.1 .4 3.5 .5 3.4 .4-4.7 .5 2.9 .4-15.5 .5 5.5 .4-.6 .5 9.2 .4-11.5 .5 8.1 .4-5.6 .5 8.7 .4-7.6 .5 10.7 .4-7 .5 .4 .4 5.2 .5-6.5 .4 2.8 .5-.8 .4-5.3 .5-2.6 .4 6.9 .5-6.9 .4 1.2 .5 1.1 .4-3.9 .5 14 .4-13.1 .5 4.2 .4 3.4 .5-1.2 .4-5.6 .5-1 .4 2 .5 8.3 .4 1.3 .5-7 .4-2.8 .5 5.9 .4-7.2 .5 1.1 .4 .6 .5 5.6 .4-9.1 .5 1.2 .4-1.8 .5 4.4 .4 7.4 .5-7.4 .4-2.1 .5 4.5 .4 4.6 .5-7.6 .4-.3 .5 8.6 .4-2.3 .5 3.4 .4-7.8 .5 .9 .4-6.8 .5 12 .4-9.8 .5 7.1 .4-1.9 .5 6.8 .4-5.4 .5 2.6 .4-1.8 .5-1.2 .4-1.3 .5-1.5 .4 3.8 .5 3.9 .4-8.5 .5 4.1 .4 3 .5-8.8 .4 4.7 .5-2.1 .4 10.6 .5-4.8 .4-11.8 .5 6.5 .4 0 .5 5.1 .4-2.6 .5-2.4 .4 1.8 .5 .1 .4 7.1 .5-4.3 .4-1.6 .5-4.5 .4 .2 .5 2.4 .4 3.1 .5 .1 .4-4.2 .5 7.1 .4-4.8 .5 .5 .4-.1 .5-8.2 .4 7.9 .5-4.2 .4-3.1 .5 4.8 .4 2.3 .5 5.6 .4-12.4 .5 12 .4 4.2 .5-13.4 .4 11.2 .5-1.1 .4-1.9 .5 2.1 .4 4.4 .5-10.1 .4-1.1 .5-1.1 .4 3.5 .5 1.6 .4 .6 .5-7.5 .4 1.7 .5 5.5 .4-3.2 .5 6.4 .4-7.2 .5 6.7 .4-4 .5 .4 .4 10.5 .5-14.4 .4 3 .5 3.2 .4-.4 .5-2.7 .4 .2 .5-2.7 .4 1.2 .5-2.1 .4 1.5 .5 6.9 .4-.1 .5-8 .4 .4 .5 1.7 .4 5.6 .5-2.4 .4 .6 .5-6.1 .4 6.4 .5 2.5 .4-2.1 .5-4.5 .4-5.2 .5 9 .4-6.7 .5 6.8 .4 0 .5 1.8 .4-6.9 .5 5.4 .4-6 .5 5.6 .4-9.1 .5 6.3 .4 .5 .5 5.1 .4-10.6 .5 4 .4 .7 .5 .1 .4 2 .5-.1 .4-3.7 .5 4.6 .4-2.9 .5-10.1 .4 9.9 .5 .6 .4-5 .5 7.8 .4-9.9 .5 5.9 .4 4.9 .5-4.2 .4 2.4 .5-5.7 .4 5 .5-4.9 .4 11.1 .5-6.1 .4-4.2 .5 .3 .4 1.8 .5-2.9 .4-.1 .5 3.2 .4-.9 .5-2.9 .4 3.1 .5 11.3 .4-4.1 .5-3.8 .4-5.5 .5 2.5 .4-2.4 .5-1.4 .4 1.9 .5 6.1 .4-7.4 .5 9 .4-.3 .5-3.5 .4 7.5 .5-16.4 .4-2.9 .5 10.4 .4 .9 .5 7 .4-10.8 .5 5 .4 2.1 .5 .8 .4-5.1 .5 .5 .4-.2 .5 2.1 .4 4.7 .5-12.8 .4 2.7 .5 5.9 .4 3.3 .5-1.3 .4-6.8 .5 .9 .4 1.1 .5-3.6 .4 7.2 .5-8 .4 5.3 .5 3.8 .4-5.2 .5 .9 .4 4.1 .5-10.2 .4 14 .5-7.8 .4-.7 .5 4.5 .4-3.2 .5-5.3 .4 9.8 .5-.3 .4-3.2 .5-3.6 .4-2.6 .5 2 .4 6.7 .5-9.3 .4 1.5 .5-1.5 .4 10.7 .5 0 .4-4.2 .5-1.1 .4-1.9 .5 4.3 .4-.2 .5-6.1 .4 10.2 .5-3.8 .4-4.8 .5-2.8 .4 2 .5-5.1 .4 5.4 .5-1.4 .4-.1 .5 3.4 .4 5.8 .5-3.7 .4 .1 .5 3.1 .4-5.8 .5 5.3 .4 4.2 .5-5.5 .4 4.4 .5-5.8 .4 13 .5-3.4 .4-6.6 .5-.8 .4 .8 .5-5.6 .4 7 .5 1.1 .4-5.3 .5 4.6 .4-2.9 .5-3.5 .4 5.5 .5-.3 .4 1.9 .5-4.1 .4-1.1 .5-1.8 .4 1.4 .5-5.4 .4 7.1 .5 0 .4 1.5 .5-6.3 .4 4.6 .5 1.4 .4 3.9 .5-4.7 .4-3.9 .5 13.5 .4-5.8 .5-.8 .4-.3 .5-3.4 .4 1.8 .5-2 .4-.5 .5-4 .4 6.3 .5-2.2 .4 2.3 .5-1.4 .4 2.1 .5 3.3 .4-5.9 .5-2.5 .4 8 .5-3.3 .4 .2 .5 8.4 .4-15.5 .5 2.1 .4 1.3 .5 .9 .4 7.3 .5 6.3 .4-9 .5-.5 .4 1.5 .5 .6 .4-5.4 .5 .8 .4 3 .5 1.8 .4-10.8 .5 5.4 .4 2.6 .5 5.3 .4 .7 .5 4.5 .4-9.8 .5-2.3 .4 1.6 .5-.9 .4-1.2 .5-2.5 .4 9.6 .5-2.2 .4-8.4 .5 2.1 .4-1 .5 5.5 .4-9.6 .5 5.2 .4 1.2 .5 2.5 .4-4.1 .5 .2 .4 1.1 .5-6.5 .4 1.7 .5 4.6 .4 2.2 .5-.4 .4-2.9 .5 11.9 .4-11.5 .5 2.1 .4-8.7 .5 6.5 .4 2.5 .5-.7 .4 2.8 .5 .4 .4-2.2 .5 7.4 .4-7.4 .5 6.4 .4-3.5 .5 .1 .4-5.3 .5-3.3 .4 .5 .5 7 .4-1.1 .5-1.2 .4-.7 .5-3.8 .4 1.4 .5 2.3 .4-7.5 .5 3.5 .4-3.8 .5 6.8 .4-2.6 .5 .6 .4 .3 .5 4.4 .4-5 .5 6.3 .4-6.9 .5-4.9 .4 2.2 .5 3.3 .4 2.4 .5-3.7 .4 7 .5 .9 .4 .8 .5-5.9 .4 6.7 .5-6.5 .4-1.2 .5 1.7 .4 3.3 .5-1.6 .4 6.3 .5-4.7 .4-5.1 .5 1.1 .4 11.3 .5-5.2 .4 1.1 .5-4.3 .4 2.4 .5 1.5 .4 2.1 .5-2.8 .4 1.1 .5-.7 .4 .8 .5 3.9 .4-6 .5-.2 .4 .8 .5-.3 .4-3.5 .5 .4 .4-2.2 .5 3.4 .4-.7 .5 2.8 .4 3.8 .5 .3 .4-6.1 .5 1.2 .4-1.6 .5 10 .4-7.6 .5-1.3 .4 1.6 .5-.5 .4 5.3 .5-6 .4-5 .5 8.4 .4-6 .5 4.4 .4-3.2 .5-4.5 .4 4.8 .5-1.1 .4-.9 .5 2.4 .4-4.4 .5 11.5 .4-5.7 .5 5.7 .4-1.2 .5-5.2 .4 4.4 .5-2.6 .4-6 .5 3 .4-11 .5 13.6 .4-.5 .5 9 .4-8.4 .5 1.7 .4-3.1 .5 1.7 .4 2.5 .5 4.6 .4-9.3 .5 5.1 .4 3.5 .5-7.3 .4 8.3 .5-4.8 .4 5 .5-6.1 .4 4.7 .5-15.9 .4 6.1 .5 2.2 .4 .4 .5-1.1 .4-.8 .5 2 .4 4.6 .5-4.4 .4 5.9 .5-4.2 .4-2.7 .5 5 .4-5.3 .5 3.1 .4-9.9 .5 9.4 .4-3 .5-.5 .4 1.7 .5-.7 .4 2.1 .5-1.4 .4 0 .5-2.1 .4-1.4 .5 4.4 .4-4.6 .5 5 .4 3.4 .5-1.5 .4 1 .5-1.2 .4-.7 .5-.3 .4-2.9 .5 1.7 .4 4.1 .5-3 .4 2.2 .5-2.6 .4-1.5 .5 4.7 .4-2.9 .5-1.9 .4 3.3 .5 4.9 .4-3.2 .5 2.6 .4-6.3 .5 2.7 .4-.4 .5-4.9 .4 3.4 .5 2 .4 6.4 .5-4.2 .4 .5 .5-1.6 .4 3.5 .5-6.2 .4-2 .5 5.3 .4 3.6 .5-5.1 .4 1.1 .5-4 .4 3.5 .5 2.2 .4 2.1 .5-4.5 .4 7.6 .5-4 .4-6 .5 2.8 .4-.4 .5 .5 .4 3.7 .5-3.4 .4-2.8 .5-.3 .4 4.9 .5-3.7 .4-2.9 .5 2.1 .4-4.2 .5 4.6 .4 5.2 .5-5.4 .4-.7 .5-1.7 .4 .4 .5-3.3 .4 2.8 .5 1.3 .4 2.2 .5-.9 .4-4.9 .5-1.8 .4 5 .5 .6 .4 1.3 .5-1.2 .4 .7 .5 1.9 .4-4.3 .5 6.5 .4-3.7 .5 .1 .4-1.4 .5 2.8 .4 2.6 .5-2.5 .4 3.1 .5-1.9 .4 1.4 .5-9.9 .4 14.5 .5-3 .4-7.6 .5 4.5 .4 3.7 .5-6.3 .4-4.7 .5 6.4 .4-2.7 .5 6.8 .4-2.4 .5-2.5 .4-.1 .5 2.6 .4-.3 .5 0 .4 .5 .5-.8 .4 0 .5-3.2 .4 5.7 .5-5.9 .4-3.8 .5 4.9 .4 1.9 .5 1.5 .4-1.1 .5 2.2 .4-4.3 .5 1.3 .4-2.4 .5 1.7 .4-1.4 .5-1.9 .4 1.9 .5-5.2 .5 5.1 .4 5 .5-3 .4-.3 .5 2.1 .4-1.9 .5 .6 .4-2.2 .5 4.3 .4 2.5 .5-1.6 .4 4.5 .5 2.1 .4-4.9 .5-1.7 .4 .4 .5-5.7 .4 6.7 .5 .2 .4-9.8 .5 10.5 .4-7.1 .5 2.5 .4 7.2 .5-10.7 .4 3.9 .5-2.1 .4 .5 .5-.3 .4-1.7 .5-3.7 .4 5.8 .5 1.5 .4-3.1 .5 1.4 .4 9 .5-8.7 .4 2.6 .5-.4 .4 3.7 .5-9.9 .4 4.2 .5 2.9 .4-.1 .5-.7 .4-.2 .5-2.6 .4 1.3 .5 2.7 .4-.7 .5-2.5 .4 4.8 .5-1.6 .4-3.9 .5 2.9 .4-4.1 .5 7.6 .4-1.9 .5 1.1 .4 .3 .5-4.8 .4-.8 .5 2.9 .4 .6 .5-5.6 .4 .5 .5 10.7 .4-5.9 .5 5.6 .4-1.6 .5-2.7 .4 1.2 .5-5.3 .4 2.7 .5-.8 .4-.7 .5-5.6 .4 3.9 .5-2.1 .4 .9 .5-2.3 .4 3.1 .5 .1 .4-4.2 .5 3 .4 5 .5-1.2 .4-2.5 .5-2.8 .4 3.6 .5-6.5 .4 3.1 .5 2.1 .4 2.8 .5-5.4 .4 .4 .5 5.3 .4-6.9 .5 .5 .4-.5 .5 4.6 .4-2.5 .5 8.8 .4-6.8 .5 2.6 .4-.7 .5-1.3 .4 3.6 .5-1.3 .4 2.5 .5-.3 .4 1.1 .5-4 .4-2.5 .5 6.5 .4 1.9 .5-3.9 .4-1.7 .5 .5 .4 4 .5-3.3 .4 2.4 .5-1.3 .4-.8 .5 .8 .4-2.5 .5 2.6 .4-5.7 .5 3.9 .4 3.5 .5-6 .4 .3 .5 1.6 .4 .7 .5-1 .4-1.5 .5 2.8 .4-2.7 .5 3.9 .4-2.9 .5 4.2 .4-3.7 .5-.5 .4 3.2 .5-2.4 .4 6.3 .5-4.7 .4 .6 .5-2.3 .4 2 .5-2.8 .4-2.3 .5 5.1 .4-2.1 .5-2.1 .4 2 .5-.4 .4 3.6 .5-1.7 .4 3.8 .5-5.2 .4 1.1 .5-.1 .4 6.3 .5-8.1 .4-1.4 .5 .2 .4 2.5 .5-2.4 .4 3.5 .5 1.8 .4-1.6 .5 1.8 .4-6.7 .5 11.5 .4-7.3 .5 3.1 .4-.7 .5-3.4 .4 2.2 .5-3 .4 3.4 .5 0 .4-.5 .5-3.1 .4 5.3 .5-1 .4 .7 .5-.3 .4 2.1 .5-2.5 .4-2 .5-2.7 .4 2.5 .5 2.8 .4-5.5 .5 8.5 .4-6 .5 4.6 .4-2.9 .5 3.3 .4 .5 .5-2.6 .4-6.2 .5 3.8 .4-1.5 .5 3.3 .4-.9 .5 2 .4-.5 .5-.7 .4-3.5 .5 1.6 .4 2.7 .5-1.6 .4 1.7 .5-3.9 .4 .6 .5-.1 .4-1.3 .5 .3 .4-2.4 .5 5.8 .4-4 .5 2.4 .4-2.8 .5 3.8 .4 3 .5-3.2 .4 .6 .5 1.3 .4-1.8 .5-4 .4 4 .5-2.6 .4-1.8 .5 .9 .4 1.5 .5-1.2 .4 3.5 .5 2.3 .4 .5 .5-6.4 .4-1.2 .5 4.3 .4-.9 .5 6.1 .4-8 .5 2.2 .4 4.6 .5-6.2 .4-.2 .5-.5 .4 2.6 .5-.8 .4 3.1 .5-5.8 .4 4.7 .5-4 .4 2.1 .5 2.1 .4-3.8 .5 5.3 .4-2.6 .5 .8 .4 .8 .5-.7 .4-1.3 .5 2.9 .4 .3 .5-.7 .4 1 .5 1.1 .4-3.2 .5 5.2 .4-4.2 .5 1 .4-1.6 .5-.8 .4 .5 .5 .7 .4-3.5 .5 4.8 .4 1.7 .5-2.4 .4-2.4 .5-2.9 .4-.7 .5 4.5 .4-2.1 .5-1.1 .4 5.4 .5-5.1 .4 2.8 .5 1.4 .4-1.8 .5-.3 .4 6.9 .5-5.4 .4-.4 .5 2.4 .4-2.3 .5 1.4 .4 1.1 .5-1.7 .4 4.8 .5-6.2 .4-.3 .5 .6 .4-.6 .5 2.6 .4 .3 .5 3.1 .4 0 .5-2.5 .4-4.3 .5 2.5 .4-3.5 .5 1.5 .4 4.6 .5-1.1 .4 1.3 .5 1 .4-4.3 .5-1 .4 4 .5-5 .4 .4 .5 3.7 .4-2.4 .5 3.3 .4-2.6 .5-1.4 .4 6.1 .5-8.6 .4 8 .5-4.6 .4 1.4 .5-3.6 .4 4.4 .5-1 .4-9.3 .5 3.5 .4 2 .5 4 .4-2.8 .5 5.1 .4-2.3 .5-3.2 .4-.9 .5 2.8 .4-2.8 .5-.3 .4 4.6 .5-3.2 .4 .8 .5-3.9 .4 6.9 .5-4.3 .4 1.5 .5-5.6 .4 11.2 .5-10.2 .4 4.8 .5-1.8 .4 5.2 .5-.4 .4-2.7 .5-.9 .4 6.6 .5-4.6 .4-.5 .5-.7 .4-2.1 .5 1 .4 1.6 .5 2.5 .4 1 .5-4.3 .4-3.5 .5 3.8 .4-2.3 .5 5.4 .4-5.3 .5 3 .4-.8 .5-1.3 .4-.2 .5 1.4 .4-.3 .5 .3 .4 2.7 .5-1 .4-.7 .5-4.2 .4 7.3 .5-3.3 .4-2.3 .5 .8 .4 4.1 .5 .7 .4-1.9 .5-2.2 .4-1.5 .5 2.5 .4-1 .5 1.2 .4 1 .5-5.3 .4-1.5 .5 4.8 .4 1.6 .5-3.8 .4 5.4 .5-.4 .4-3.7 .5-4.3 .4 5.7 .5-1.1 .4-3.7 .5 7.1 .4 1 .5-9.3 .4 3.1 .5 3.7 .4-2.2 .5-.8 .4 3.1 .5-6.9 .4 10.8 .5-8.1 .4 3.3 .5 .6 .4 0 .5 2.3 .4-1 .5 .8 .4 2.5 .5-5.2 .4 4.9 .5-1 .4-7.4 .5 6.2 .4-5.3 .5 .4 .4 2.8 .5-3.6 .4 5.3 .5 .6 .4-1.2 .5-.4 .4-2.4 .5-3.9 .4 7 .5-1.5 .4-.8 .5-.9 .4 1.4 .5-4.4 .4 4.4 .5 1.3 .4-6.8 .5 .6 .4 3.6 .5 2.2 .4-2.7 .5-1.5 .4-2.2 .5-.3 .4 4.9 .5-1 .4 .7 .5-.7 .4 1.3 .5-.3 .4-.5 .5-.7 .4 4.8 .5-3.5 .4-2.9 .5 .7 .4-.6 .5-.2 .4 .6 .5-1.3 .4 2.6 .5 3.2 .4-6.3 .5 2.4 .4 5.3 .5-6.5 .4 .3 .5 5.3 .4-4.3 .5 1.3 .4-1 .5 2.5 .4-5.7 .5 6.7 .4 .4 .5-1.6 .4-.9 .5 1.4 .4-5.2 .5 6.3 .4-8.5 .5 9.5 .4-4.8 .5-3.3 .4-1.5 .5 6.4 .4 3.3 .5-2 .4-.5 .5-2.9 .4 4.1 .5-4.8 .4 4.8 .5-4.4 .4-4.3 .5 4.5 .4-1 .5 2.6 .4 1.3 .5-2 .4-.1 .5 8.8 .4-5.1 .5-7.2 .4 3.9 .5 1.1 .4 1.6 .5 0 .4-.5 .5 7 .4-11.6 .5 3.3 .4 3 .5-5.4 .4 3.6 .5-4 .4 5 .5-3.8 .4 6.1 .5-6.5 .4 5.7 .5-4 .4-1.1 .5 4.9 .4-4.6 .5 1.3 .4-1.5 .5-2.3 .4 2.3 .5-3.3 .4 5.2 .5 .3 .4-4.8 .5 5 .4-3.5 .5 3.1 .4-2 .5-1 .4 2.9 .5 0 .4 2 .5-5.5 .4 4.4 .5 .3 .4-2.1 .5 .9 .4 1.3 .5-2.7 .4 .7 .5 2.1 .4-.3 .5-4.3 .4 3.1 .5 1.7 .4-.9 .5-1.5 .4-3.3 .5 7.8 .4-3.9 .5 2.5 .4-2 .5 2.2 .4 .4 .5 .1 .4-.6 .5-2 .4-4.1 .5 7.2 .4-.6 .5-1 .4-5.1 .5 0 .4 0 .5 2.1 .4 1.2 .5 2.8 .4-3.2 .5-.7 .4 1.8 .5 .4 .4 1.3 .5-4.1 .4 1.4 .5-2.6 .4 3.9 .5-.1 .4-4.3 .5 2.8 .4 4.2 .5-1.9 .4 .8 .5-1.9 .4 4.4 .5-6.3 .4 .2 .5 2.1 .4 .1 .5 .1 .4 1.2 .5-3.8 .4 5.3 .5-8.3 .4 8.7 .5-3.2 .4 3.1 .5-.4 .4-1.4 .5 3.4 .4-5.1 .5 .9 .4-1 .5-.5 .4 3.8 .5-1.6 .4 0 .5-3.4 .4 2.9 .5 1.7 .4-3.2 .5 1.8 .4-3.4 .5-1.4 .4 .8 .5 4.2 .4-4.3 .5 4.2 .4-1.4 .5-3.4 .4 1.7 .5-4.2 .4 2.5 .5 1.5 .4-2.4 .5 2.6 .4-3 .5 8.7 .4-5.2 .5 2.2 .4-1.9 .5 1.2 .4-6.2 .5 3.5 .4 1.7 .5-2.4 .4 8.4 .5-9.5 .4 8.5 .5-5.4 .4-4.5 .5 7.7 .4-.7 .5 3.3 .4-1 .5-5.3 .4 .2 .5 1.5 .4-2.2 .5 2 .4 .9 .5-1.3 .4 1.8 .5 2.7 .4-5.3 .5-1.7 .4-2.1 .5 1.2 .4 2.2 .5 1.2 .4-2 .5-1.1 .4 .8 .5 1 .4-2.3 .5 6.6 .4-7.3 .5-2.7 .4 7.3 .5-4.6 .4 2.5 .5 .8 .4-3.5 .5 .2 .5 2 .4-4.7 .5 3.1 .4 5.9 .5-8.2 .4 3.6 .5-3.5 .4 6.5 .5-.1 .4-1 .5-1.9 .4-.8 .5 3.7 .4-10.3 .5 10.9 .4-1.3 .5-5.9 .4 .4 .5 .9 .4 2.9 .5 .7 .4-5.2 .5 8.8 .4-1.6 .5-1.4 .4-.3 .5-2.1 .4 2.5 .5-.4 .4-.3 .5 2 .4-1.2 .5 3.5 .4-.4 .5-2.2 .4 1 .5-2.3 .4 1.5 .5-.5 .4-1.6 .5 6.7 .4-1.5 .5-1.9 .4-5.2 .5 5.5 .4-5.5 .5 1.9 .4 2.2 .5-.8 .4-.4 .5 2.4 .4-4.6 .5 2.4 .4 1.1 .5 1.4 .4-2.8 .5-.1 .4-.7 .5-3.5 .4 4.1 .5 3 .4 .2 .5 1.4 .4-.6 .5 .8 .4-5.5 .5 7.8 .4-8.8 .5 5.1 .4 1.8 .5-1.2 .4-1.9 .5-.2 .4 1.4 .5-3.8 .4 5.7 .5-1 .4-4.1 .5 4.8 .4-1.4 .5-3.3 .4-.4 .5-.1 .4-.3 .5 1.4 .4-.7 .5 0 .4 .3 .5-2.5 .4 2.1 .5-2.2 .4 2 .5-2.2 .4 7.8 .5-10.5 .4 7 .5-1.2 .4 .4 .5-5.8 .4 8.2 .5-2.6 .4-.1 .5-6.4 .4 2.4 .5 5.6 .4-1.5 .5-1 .4 2.2 .5-5.4 .4 2.7 .5 4.8 .4-4.4 .5 .3 .4 .9 .5-1.9 .4-1.2 .5 2.3 .4 .8 .5-2.5 .4 5 .5-6.6 .4 5.6 .5-3.6 .4 .8 .5-1.7 .4 2.7 .5-2.3 .4 5.1 .5-7.3 .4 2.1 .5-.8 .4 3.7 .5-1.7 .4 1.7 .5-.8 .4 2.8 .5-2.3 .4 6.3 .5-8.9 .4 5.8 .5-5.1 .4-1.1 .5 1.8 .4 4.5 .5-3.4 .4-.9 .5-.1 .4 1 .5 .9 .4 1 .5 0 .4-1 .5 .6 .4 .6 .5 .1 .4-1 .5 1.5 .4-3.7 .5 2.1 .4-2.8 .5 4.5 .4 .4 .5-.9 .4-1.1 .5-.3 .4-2.5 .5 7.4 .4-5.7 .5 4.6 .4-1.7 .5-1.8 .4-.5 .5-3 .4 3.8 .5-3.4 .4 1.5 .5 2.1 .4-2.6 .5 3.4 .4-2.4 .5-3.1 .4 3 .5 1.9 .4 1.6 .5-.9 .4 .9 .5-5.8 .4 2.3 .5 1.7 .4-.8 .5-3.6 .4 5.2 .5 .1 .4-4.6 .5 1.8 .4 4 .5-4.2 .4 1.4 .5 .3 .4 .1 .5 0 .4-1.8 .5-1.9 .4 4.1 .5-3.5 .4 4.6 .5-3.1 .4-3.1 .5 2.3 .4 .8 .5-4.4 .4 2.2 .5 .7 .4-.6 .5 4.6 .4-2.4 .5-4.9 .4 2.6 .5-2 .4 6.2 .5-1.2 .4-2.8 .5-.1 .4 7 .5-4.8 .4 .8 .5 .9 .4-2.4 .5 3.2 .4-3 .5-.4 .4 2.8 .5-1.4 .4 5.7 .5-6.8 .4 1.2 .5 4.1 .4 0 .5-3.9 .4-5.4 .5 4.6 .4 3.2 .5-2.1 .4 4.3 .5-3.4 .4 .4 .5-2.2 .4-2.5 .5 3.5 .4-5.4 .5 4.8 .4-.8 .5 1.1 .4 2.1 .5-.9 .4-.5 .5-4.7 .4 4 .5 3.1 .4-4.2 .5 0 .4 3.4 .5-3.6 .4 .5 .5 3.6 .4-5.3 .5 5.5 .4-1.3 .5-3.6 .4 5.3 .5 2.4 .4-4.7 .5-1.9 .4 .3 .5 1 .4 2.1 .5-5.9 .4 .3 .5 1.7 .4-.8 .5 5.4 .4-6 .5-1.7 .4 1.2 .5-.2 .4 1.6 .5 .1 .4 5.8 .5-3.9 .4-1.7 .5 2.9 .4 1.4 .5-2.5 .4 1.4 .5-4.9 .4 3.9 .5-.4 .4-3.4 .5 5.9 .4-3.1 .5-3 .4 5.9 .5-1 .4-3.3 .5 .2 .4 3.6 .5-.1 .4 0 .5 .6 .4-3.6 .5 2.3 .4 1 .5 0 .4-3.9 .5 8.2 .4-5.3 .5-1.7 .4 2.1 .5 .6 .4-3.7 .5 .5 .4-4.1 .5 6 .4-2.6 .5 3.3 .4-5.4 .5 .4 .4 .8 .5-1 .4 .7 .5 .6 .4 1.1 .5-2.2 .4 .9 .5 2.1 .4-.6 .5-.5 .4-3.1 .5 3.6 .4 .5 .5 2.8 .4-4.7 .5 1.4 .4 .3 .5 .1 .4-.7 .5 5.2 .4-1.6 .5-1.4 .4-2.4 .5 .8 .4-1 .5 1.3 .4-.7 .5 3 .4-.4 .5-.9 .4 0 .5-2.3 .4 1.4 .5-.2 .4 0 .5-3.6 .4 4.3 .5-2.7 .4 2.6 .5-2.1 .4-.1 .5 1.3 .4 1.9 .5-3.2 .4 .4 .5 1.1 .4-.2 .5 .5 .4-6.1 .5 6.6 .4 2.7 .5 .3 .4-5.3 .5 5.9 .4-5.3 .5 2.6 .4-1.6 .5 .5 .4-1.9 .5 3.2 .4-.8 .5 1.8 .4 3 .5-7.9 .4 6.3 .5-4.5 .4-1 .5 1.4 .4 3.1 .5-6 .4 6.7 .5-5 .4-.6 .5 6 .4-4.7 .5 3.7 .4-3.2 .5 5.8 .4-8.8 .5 2.5 .4 1.6 .5 1 .4-4.3 .5 2.3 .4 .2 .5 1.9 .4-.2 .5-.6 .4 1.7 .5-2.5 .4-3.7 .5 2.8 .4-.7 .5 .7 .4-4.5 .5 6.6 .4 3.1 .5 2 .4-5.3 .5-1.9 .4-1.9 .5 5.9 .4-2.2 .5-5 .4 7.3 .5-1.6 .4-1.5 .5 1.7 .4-2.5 .5 4.4 .4-3 .5-.3 .4-3.9 .5 1.1 .4-.3 .5 3.8 .4-5.7 .5 3.3 .4-3.7 .5 6.8 .4-1.1 .5-1.2 .4-5.1 .5 5.9 .4-2.5 .5 1 .4-3.3 .5 2.5 .4-4.3 .5 6.2 .4-7.4 .5 5.1 .4 3 .5-4.6 .4 2 .5 1.9 .4-5.3 .5 4.4 .4 1.7 .5-3.5 .4-1 .5 .2 .4 5.3 .5-7.3 .4 3.3 .5-.8 .4 4.2 .5-.6 .4-.6 .5-1.3 .4-5.2 .5 4.8 .4 .2 .5-2.9 .4-.5 .5 1.7 .4 3.2 .5 3 .4 1.6 .5-4.5 .4 1 .5-3.6 .4-2.6 .5 5.9 .4-.5 .5-.5 .4 4.8 .5-4.6 .4-2.2 .5-4.3 .4 10 .5-5.4 .4-1.8 .5 6.6 .4-2.2 .5-3.9 .4 4.9 .5-.8 .4-1.5 .5-2.4 .4 2 .5 2.1 .4-2.8 .5 3.9 .4 .9 .5-2.5 .4-.3 .5-.9 .4-.2 .5 1.8 .4 3.3 .5-.3 .4-3.4 .5-2.8 .4 4.1 .5-.8 .4-2.9 .5 4.6 .4-4.8 .5 2.9 .4 .1 .5-2.8 .4 3.1 .5-3.9 .4 5 .5-.5 .4-.9 .5-2.9 .4 4.1 .5-3 .4-.3 .5-1.7 .4 4.1 .5-2.3 .4-1.2 .5-2.6 .4 4.8 .5-1 .4 .7 .5 6.7 .4-6.4 .5 .6 .4 2.6 .5-.7 .4-1.6 .5-.6 .4 .4 .5 1.1 .4-1.4 .5-2.1 .4 2.5 .5-3.5 .4-.7 .5 1.1 .4 3.6 .5-.7 .4 5.8 .5-5.7" fill="none" stroke="#000" stroke-width="3.1" stroke-linejoin="round" stroke-linecap="round" stroke-dasharray="38 12 1 12 1 12"/>
<path d="M275.5 1862.8l.5 16.6 .4 26.1 .5-3.4 .4 5.9 .5-24.2 .4 39.5 .5-20.9 .4 15.7 .5-7 .4 11.6 .5-3.3 .4-.3 .5 4.3 .4-4.8 .5 3.5 .4-8 .5-5 .4 18.5 .5 1.3 .4-5.2 .5 19.7 .4-18.1 .5 8 .4 3 .5 7.2 .4-12.2 .5-6.5 .4 9.7 .5 3.6 .4-2.9 .5-3.4 .4 9.2 .5-5.4 .4 5.1 .5-8.3 .4-16.3 .5 14.2 .4-15.8 .5 23.9 .4 4.2 .5-7.1 .4-2.9 .5-2 .4 .3 .5 6.6 .4-9.9 .5 9 .4-6.3 .5 2.7 .4 2.2 .5 .7 .4 8.5 .5-10.4 .4 0 .5 9.3 .4-25.5 .5 20.4 .4 12.4 .5 2.5 .4-6.2 .5 11.3 .4-22.1 .5 12.3 .4-12.5 .5 14.7 .4-13.7 .5-7.4 .4 3.9 .5 19.3 .4-15.3 .5 3.4 .4-13.1 .5 6.1 .4-12.4 .5 13.9 .4 10.3 .5-1.5 .4-17.3 .5 18.1 .4-9.3 .5-16.1 .4 17.9 .5 7.5 .4-14.2 .5 4.3 .4 13.1 .5-15.9 .4 4.9 .5-4.1 .4 11 .5-14.7 .4 13.3 .5-14.4 .4 18.8 .5-11.8 .4-.6 .5 12.9 .4 4.6 .5-10 .4 .4 .5-1.4 .4-4.3 .5-19.4 .4 16.2 .5-11.7 .4 9.8 .5-6.1 .4 4.1 .5 3.9 .4-3.4 .5-13.6 .4 30.2 .5-15.1 .4-3.1 .5 14.5 .4-13.9 .5 2.8 .4-8.3 .5 4.9 .4 5.1 .5-2.3 .4 19.3 .5-32.5 .4 14 .5 12.9 .4-3.1 .5-5.6 .4 3 .5-5.6 .4 6.9 .5-9 .4 7.9 .5-2.6 .4 10.4 .5-4.4 .4-4.4 .5 6.6 .4-5 .5 1 .4 9.8 .5-19.9 .4 18.8 .5-23.2 .4 5.2 .5 3.3 .4 4.5 .5 6 .4-19.1 .5-3.2 .4 20.1 .5-19.3 .4 4.6 .5 1.5 .4 2.3 .5 5.5 .4-1.8 .5-2.7 .4-8.4 .5 19.2 .4-11.3 .5 9.5 .4-8.7 .5 2.6 .4 3.5 .5-9.9 .4-.5 .5 14.4 .4-3.7 .5-8.7 .4 7.4 .5-5.8 .4 22.8 .5-17.3 .4-.3 .5-4.4 .4-14 .5 18.1 .4-.7 .5-11.6 .4 11.2 .5-13 .4 6.3 .5 18.2 .4-14.5 .5-10.3 .4 9.6 .5-.8 .4 .5 .5 0 .4-8.3 .5 4.8 .4 1.9 .5-15.3 .4 27.1 .5-6 .4-2.7 .5 .4 .4 9.5 .5-31.4 .4 19.8 .5-4.3 .4 4 .5 8.5 .4-24.7 .5 17.5 .4-1.5 .5 1.5 .4-2.2 .5-7.6 .4 10.6 .5 23.8 .4-18.9 .5 3.2 .4-11.3 .5 7.1 .4-6.1 .5 2.4 .4 5.2 .5-8.8 .4 7.6 .5 6.5 .4 2.7 .5-3.5 .4 11.6 .5-17.7 .4-1.6 .5 10.1 .4 8 .5-7.9 .4-14.2 .5 7.9 .4-1.6 .5-.9 .4 1.9 .5 1.4 .4-5.5 .5 .3 .4 9.5 .5-.1 .4-4.2 .5-2.8 .4-1.7 .5 4.7 .4 .4 .5 6.8 .4-16.3 .5 8 .4-5.3 .5 7.1 .4 5.2 .5-3.7 .4 0 .5-7.5 .4 5.9 .5-10.1 .4 3.6 .5-13.5 .4 28.5 .5-21 .4 13.1 .5-3.3 .4-2.3 .5-5.6 .4 7.1 .5 3.5 .4-14.5 .5 16.1 .4-11.3 .5 7.9 .4-9.7 .5 8.5 .4 5.2 .5 1.8 .4-3.2 .5-9.7 .4-5 .5 8.7 .4-2 .5 12 .4-9.1 .5-9 .4 0 .5 15.3 .4-5.7 .5 .6 .4-6 .5 6.6 .4-4.9 .5-9 .4 7.9 .5 3.6 .4-3.3 .5 11 .4-9 .5-1.1 .4-10.2 .5 18.1 .4-13.7 .5 3.5 .4-8.1 .5 1.8 .4 7.1 .5 4.9 .4-12.4 .5-1.8 .4 13.6 .5-13.4 .4 10.7 .5-5.7 .4 12.9 .5-11.2 .4 3.4 .5 .2 .4 3.9 .5-1.2 .4-7.9 .5 5.6 .4 10.2 .5-5.5 .4-16.7 .5 8.7 .4 1.2 .5-12.3 .4 23.6 .5-5.5 .4-12.1 .5-3.4 .4 5.6 .5 10.2 .4-15.1 .5 5.3 .4 7.6 .5 8.7 .4-15.1 .5 5.2 .4 1.3 .5-1.2 .4-3.1 .5 .8 .4-4.8 .5-9.2 .4 25 .5-9.1 .4-7.3 .5-.4 .4-3.7 .5 4.9 .4-.5 .5-4 .4-5.5 .5 2.5 .4 6.8 .5-8.4 .4 2 .5 8 .4-11.8 .5 .3 .4 12 .5-14.3 .4 8.7 .5-16.6 .4 21.2 .5-7.3 .4 .6 .5 5.8 .4-4 .5-5.8 .4 3.7 .5-5.2 .4 5.4 .5-7.1 .4 .1 .5 8.9 .4 11.8 .5-23.3 .4 9.9 .5 26.4 .4-42.5 .5 8.7 .4-8.3 .5-2.3 .4-18.4 .5 20.6 .4-5.5 .5-3.8 .4-3.9 .5 13.4 .4-2.8 .5-5.2 .4 16.3 .5-16.3 .4-8 .5 10 .4-7 .5 13.5 .4-14.5 .5 19.4 .4-11.1 .5-12.6 .4 14.2 .5-11.2 .4 12.5 .5-10 .4-1.1 .5 2.8 .4 3.9 .5-4.6 .4 4.6 .5-1.9 .4 1.7 .5-8.1 .4-13.2 .5-11.6 .4 15.1 .5 0 .4 10 .5-2.2 .4-14 .5-3.9 .4 16.2 .5-4 .4-15.1 .5-1 .4 2.1 .5 11.8 .4-.4 .5-5.1 .4 21.1 .5-24.5 .4-5.7 .5 6.7 .4-2.3 .5 11.6 .4-12.7 .5 .3 .4 8.2 .5-6 .4 12.6 .5-3 .4-5.6 .5 7.9 .4 3.1 .5 2.3 .4-11.7 .5-4.4 .4-.6 .5 11.8 .4 3 .5-.5 .4-6.5 .5 16.4 .4-7.1 .5-.8 .4 4.5 .5-12.1 .4 9 .5 5.6 .5-14.3 .4 21.3 .5-6 .4-.2 .5 5.1 .4-14 .5 18.4 .4-9.1 .5 8.9 .4-4.1 .5-10.9 .4 16.8 .5-.4 .4-11 .5 9.6 .4-8 .5-7.7 .4 12.2 .5-1.8 .4-.9 .5 2.5 .4 25.5 .5-13.5 .4-20.5 .5 11.1 .4 8.7 .5-6.5 .4-2 .5 9.7 .4-8.6 .5-7.2 .4 7.9 .5 .1 .4 4.1 .5-4 .4 10.2 .5-14.6 .4 7.2 .5-5.5 .4-4.2 .5 20 .4-6.6 .5 8.7 .4-22.8 .5 18.3 .4 3.1 .5-9.9 .4 3 .5-6 .4 12.9 .5-12.9 .4 0 .5 19.3 .4-8.2 .5 5.4 .4 .3 .5 .4 .4-2.6 .5-.1 .4 2.1 .5-20.8 .4 25 .5-5.8 .4 .7 .5 12.7 .4-19.6 .5-.4 .4 3.2 .5 10.7 .4-9.9 .5 9.9 .4-7.8 .5-1 .4-1.6 .5 3.6 .4-3.5 .5-.4 .4 3.4 .5 4.7 .4-8.5 .5-.5 .4-2 .5 6.9 .4-6 .5 10.8 .4-3.5 .5-1.9 .4-9.5 .5 14.3 .4-2 .5 3 .4-10.5 .5 2.4 .4 6 .5 8.6 .4-13.8 .5 12.6 .4-12.6 .5 15.1 .4-13.8 .5 8.6 .4 5.5 .5-11.6 .4 3 .5 14.6 .4-20.9 .5 10.2 .4 9.3 .5-9.9 .4-2 .5 2.8 .4 5.6 .5-7 .4 8.7 .5 4.1 .4-11.4 .5 9.7 .4 .7 .5-10.1 .4 14.9 .5-13.2 .4 10.2 .5-1.2 .4 1.5 .5 3.9 .4-4.3 .5-4.1 .4 12.6 .5 0 .4-6 .5 3.6 .4-12.1 .5 7.9 .4 3.2 .5 4.1 .4-5.8 .5 4.1 .4-8.7 .5 12.3 .4-7.7 .5-3.6 .4 9.2 .5-1.1 .4-.1 .5-8.8 .4 2.1 .5 10.9 .4-10.1 .5-.5 .4-1.7 .5-4 .4 15.2 .5-13.5 .4 12.5 .5-3.7 .4-.4 .5-1.2 .4 .5 .5-1.4 .4-3.5 .5-1.6 .4 1.8 .5 4 .4 3.2 .5-8 .4 1.5 .5 .7 .4 1.9 .5-2 .4 13.5 .5-13.7 .4 2 .5 6.3 .4-7.2 .5 7.9 .4 1.8 .5-5.1 .4-4.8 .5 5.4 .4 9.5 .5-3.9 .4-6 .5 .9 .4 6 .5-4.7 .4-5.3 .5 9.7 .4-7.5 .5 3.9 .4 3.1 .5-.8 .4-1.4 .5-6.4 .4 4.4 .5 .3 .4 5.3 .5-3.3 .4 2.8 .5-.2 .4-9.9 .5 3.3 .4 8.5 .5-9.6 .4-1.2 .5 8 .4-2.4 .5-.6 .4-5 .5-.3 .4 3.8 .5 .1 .4-.4 .5 8.3 .4 .4 .5-12.6 .4 5.2 .5 .6 .4 4.7 .5-.6 .4 2.9 .5-10.7 .4 6.2 .5-3.3 .4 5.5 .5-.6 .4-8.8 .5 4.8 .4 6.4 .5 1.7 .4-1.1 .5-1.9 .4 6.3 .5-15 .4 5.7 .5 1.3 .4 17.6 .5-5.9 .4-18.4 .5 6.8 .4-3.8 .5-.7 .4-2.3 .5 1.5 .4 7.2 .5 .3 .4-2.2 .5-.6 .4 5.5 .5 0 .4-3.1 .5 5.9 .4 4.4 .5-16.3 .4 5.2 .5-5.3 .4 2.2 .5-.2 .4 1 .5 .6 .4-.6 .5 8.1 .4-1.9 .5-7.1 .4 7.1 .5 2.9 .4-11.3 .5 15.8 .4-11 .5 3.8 .4-3.2 .5 3.5 .4 .5 .5-1.5 .4-1.3 .5 5.9 .4-2.4 .5 1 .4-9.4 .5 12.5 .4-8.3 .5 10.9 .4-2.1 .5-8.9 .4 8.2 .5-8.7 .4-1.2 .5 6.3 .4 0 .5 7.7 .4-3.4 .5-4.7 .4 9.9 .5-11.2 .4 5.3 .5 .2 .4-5 .5 9.9 .4-3 .5-5.3 .4 5.3 .5 1 .4-5.6 .5 3.9 .4 5.8 .5-4.4 .4-2.3 .5 .1 .4-.9 .5-4.7 .4 11.4 .5-2.6 .4-4.8 .5 5.2 .4-1.9 .5-2 .4 2.4 .5-.6 .4-.5 .5 .3 .4 7.5 .5-8.5 .4 2.3 .5 3 .4 2.1 .5-5.6 .4 3.2 .5-4.6 .4 4.3 .5-5.3 .4 5.5 .5-.9 .4 0 .5-6.2 .4 1.2 .5 1.9 .4 2.2 .5-3.7 .4-3.8 .5 6 .4-3.4 .5 2.1 .4 4.6 .5 1.3 .4-3.5 .5 3.1 .4-4.2 .5-1.3 .4 11.4 .5-8.7 .4-6 .5 9.9 .4 .6 .5-2.5 .4-.1 .5-6.4 .4 5.3 .5-8.5 .4 5.3 .5 3.9 .4-3.5 .5-5 .4 6.2 .5-1.1 .4 5.4 .5-2.8 .4-4.3 .5 5 .4-12.2 .5 8.9 .4 4.8 .5-.4 .4-5.8 .5 3.2 .4 4 .5-8.1 .4 4.7 .5 .1 .4 1.5 .5 2.3 .4 .9 .5-8.1 .4-1.7 .5 2.8 .4 5.5 .5-2.5 .4-4.1 .5 5.7 .4-3.8 .5 6.5 .4-6 .5-1.5 .4 .7 .5 5.1 .4-1.3 .5 3.4 .4-2 .5-3.2 .4 4.9 .5-5.5 .4 6.7 .5-2.6 .4-5.9 .5 7.9 .4-4.9 .5-3.6 .4 3.1 .5 3.4 .4-2.8 .5-2.9 .4-2.7 .5 6.2 .4-2.2 .5-.7 .4 4.4 .5-5.2 .4 .6 .5 6.4 .4-4.9 .5-.2 .4 2.1 .5-4.6 .4-.2 .5 1.9 .4 4 .5 0 .4-6.1 .5 10.1 .4-5.3 .5 1.9 .4-2.6 .5 2.4 .4-1.5 .5-4.8 .4 6.8 .5-8.8 .4 8.4 .5-4.1 .4 4.4 .5-9.7 .4 7 .5-3.9 .4 0 .5 .1 .4-.3 .5 .5 .4 0 .5-.1 .4 4.7 .5-3.8 .4-1 .5 2.1 .4 .4 .5 2.5 .4-7.2 .5 4.5 .4-7.5 .5 .5 .4 7.6 .5-.9 .4-.9 .5-6.7 .4 7.2 .5-.2 .4-1.5 .5-3.2 .4 6 .5 4.1 .4-6.6 .5-1.5 .4 2.5 .5-2.3 .4 5.5 .5 0 .4-5.2 .5 8.7 .4 .3 .5-8.3 .4 8.3 .5-7.8 .4 6.7 .5-6.1 .4-4.1 .5 3.1 .4 2.5 .5 1.1 .4-1.7 .5 1.8 .4 1.7 .5-4.5 .4 4.6 .5-3.3 .4 3.8 .5 1 .4-8.5 .5 5.9 .4-4.5 .5 4 .4 1.4 .5 1.3 .4 2.3 .5-3.8 .4-.1 .5-7.1 .4 6.9 .5-2.7 .4-.7 .5 2.5 .4-8.3 .5-.6 .4 5.3 .5 5.8 .4-.3 .5-5.1 .4 1.6 .5 .2 .4-2.5 .5 2.7 .4 2.6 .5 1.8 .4-4.2 .5 2 .4-1.9 .5 3.1 .4-2.1 .5-2.3 .4 7.4 .5-6.6 .4-.8 .5 7.3 .4-1.2 .5-3 .4 2 .5-9 .4 11.6 .5-4.6 .4 .6 .5-5 .4 2.7 .5-.2 .4 .2 .5-2 .4-1.1 .5 5 .4-1.5 .5-5.2 .4 4.8 .5-2.7 .4-.6 .5 6.1 .4-9.2 .5 3.7 .4 .4 .5-4 .4 4.9 .5-3 .4 2.4 .5 3.1 .4-1.9 .5-.9 .4-.2 .5 8 .4-10.4 .5 4.7 .4 7.7 .5-13.7 .4 5.8 .5-.5 .4 4 .5-4.5 .4-1 .5 .5 .4-3.5 .5-.4 .4 4.7 .5 2.5 .4 .1 .5 .7 .4-8.9 .5 7.5 .4 .2 .5-2.1 .4 3 .5-1.7 .4 1.2 .5-3.2 .4 1.5 .5 1.5 .4-1.4 .5-2.9 .4 4.2 .5 5.1 .4-7.9 .5 3 .4 1.7 .5-3.6 .4 4.3 .5-13.8 .4 12.5 .5-5.3 .4 .7 .5 .1 .4-1.4 .5 8.3 .4-10.8 .5 9.1 .4-1.5 .5 1.8 .4-6.1 .5 1.9 .4 2 .5-11 .4 9.4 .5-4.9 .4 6.7 .5-6.4 .4 4.7 .5-.9 .4 5.1 .5-11.1 .4 13.7 .5-5.1 .4-.1 .5-1.5 .4 3.8 .5-8.7 .4 6.5 .5 4.4 .4-10.4 .5 8.7 .4-1 .5-1.1 .4-3.6 .5-3.5 .4 7 .5 2.6 .4-1 .5-6.8 .4 1.7 .5 4.6 .4-4.1 .5 6.2 .4-3.7 .5 .2 .4-2.3 .5 1.1 .4 .3 .5 2.6 .4-1.8 .5 .4 .4-.4 .5 3.7 .4 2.4 .5-8.6 .4 9.6 .5-9.9 .4 4.9 .5 6.9 .4-12.1 .5 4.5 .4 1.2 .5-5.5 .4 .8 .5 7.7 .4-3 .5 4.1 .4-4.3 .5-2.7 .4 .3 .5 .7 .4-.2 .5 1.6 .4-.6 .5-1.1 .4-1.4 .5 2.8 .4-.9 .5-1.9 .4 4.9 .5-.8 .4-6.1 .5 5.3 .4 2.1 .5-6.5 .4 1.7 .5-4.8 .4 3.4 .5-.5 .4 3.8 .5 2.5 .4-3.5 .5-1.1 .4 6.8 .5-4.8 .4-2.9 .5 2 .4-2.7 .5 5.9 .4-1.7 .5-4.4 .4-1.3 .5 4.8 .4 6.8 .5-7.2 .4 1.5 .5-4.1 .4-.1 .5 .3 .4-1.4 .5 6.1 .4-1 .5 1.2 .4-.5 .5 2.1 .4-3.4 .5 .2 .4 4.9 .5-8.9 .4 3.7 .5-5.4 .4 1.2 .5 3.4 .4 1.1 .5 0 .4-3.1 .5 11 .4-6.4 .5-1.2 .4-7.5 .5 1.4 .4 1.3 .5 3.8 .4-2.6 .5 5.3 .4-4.8 .5-.3 .4-5.2 .5 3.1 .4 6.6 .5-8.1 .4 3.2 .5-.3 .4 2.3 .5-1.2 .4-5.3 .5 3.7 .4 1.1 .5-3.8 .4 3.3 .5 5.7 .4-1.3 .5 4.3 .4-11 .5 4.3 .4-3.2 .5 1.1 .4 3.9 .5 3.2 .4-2.8 .5 4.2 .4-7.3 .5 8.9 .4-6 .5 6.4 .4-3.3 .5-5.3 .4 .2 .5 1.4 .4-1.5 .5 1.5 .4-3.7 .5 .4 .4 4.9 .5-3.3 .4 .8 .5-5.7 .4 3.6 .5-.9 .4 3.9 .5-3.3 .4 .7 .5 2.2 .4-2.2 .5 .7 .4-.2 .5 2 .4 .3 .5 5.9 .4-9 .5 6.1 .4-5 .5 1.1 .4 .4 .5 .3 .4 1.3 .5 3.5 .4-1.6 .5-1.6 .4-1.3 .5 2.8 .4-.4 .5 2.2 .4-9.6 .5 1.9 .4 2 .5-2.5 .4 3.3 .5 .9 .4 .7 .5-3.6 .5 .8 .4 2.7 .5-4.1 .4-1.8 .5-1.8 .4 6.2 .5-6.7 .4 6.6 .5 1.2 .4-5.9 .5 .2 .4 2.3 .5 .6 .4-2.1 .5 0 .4 4.2 .5 1.4 .4 4.7 .5-1.9 .4-5.7 .5 3.8 .4-3 .5 1.1 .4 .6 .5-1.2 .4-4.1 .5 6.4 .4-1.1 .5-2.6 .4 9.6 .5-11.5 .4 5 .5-1.2 .4 4.5 .5 3.2 .4-6.3 .5 6.2 .4-8.3 .5-.7 .4 5.3 .5 .8 .4-1.7 .5-2 .4-1.4 .5-1.4 .4-1.3 .5 10.7 .4-6.7 .5-1 .4 .3 .5-2.2 .4 8.8 .5-4.5 .4-3 .5-1.1 .4 1.5 .5 2.3 .4-1.7 .5 2 .4 .7 .5-3.2 .4 4 .5-8.4 .4 8.5 .5-4 .4 2.5 .5-3.9 .4 1.7 .5 2.2 .4-1 .5-2.5 .4 3.6 .5-6.2 .4 .2 .5-.2 .4 .5 .5-2 .4 11.9 .5-3.4 .4-6.7 .5 6.6 .4-2.1 .5-2 .4 .6 .5-1.2 .4-2.2 .5 .7 .4-.3 .5-1 .4 3.3 .5 6.5 .4-7.3 .5 2.9 .4-.8 .5-1.3 .4-2.9 .5-.4 .4 5.4 .5-1.4 .4 2.8 .5-1.9 .4 .9 .5-.5 .4 1.2 .5-4.4 .4 2.6 .5 .5 .4 1.6 .5-.1 .4 4.4 .5-3 .4 1.4 .5-2.8 .4-1.1 .5-2.6 .4 6.1 .5 1.2 .4-4.6 .5 .9 .4 2 .5-.5 .4-3.9 .5-.8 .4 1.7 .5-1.4 .4 2.1 .5-1.1 .4 2.8 .5-3.5 .4-3 .5 3.4 .4-4.3 .5 5.7 .4-3.2 .5-.4 .4 1.3 .5 1.8 .4 .1 .5-.8 .4-2.1 .5 3.4 .4-4.6 .5 2.5 .4 2.7 .5 1.4 .4 0 .5 3.3 .4-6.9 .5 4.7 .4-3.4 .5 3 .4-9.6 .5 10.3 .4-9 .5 8.2 .4 3.9 .5-9.2 .4 2.2 .5 1.9 .4 .8 .5 2.1 .4-5.1 .5 1 .4-.9 .5-.5 .4 1.4 .5 5.1 .4-6.5 .5 2.1 .4-5.5 .5 3 .4-.4 .5 2 .4-5.5 .5 1.5 .4 .6 .5 .2 .4 2.5 .5 5.3 .4-1 .5-5.1 .4 4 .5-5.3 .4 3.1 .5 .1 .4-2.9 .5-1.2 .4-1.5 .5 5.5 .4-6.5 .5 4.3 .4-1.9 .5 4.3 .4-8.8 .5 0 .4 3.5 .5-1 .4 2.7 .5-9.5 .4 15.7 .5-9.3 .4 3.8 .5 3.7 .4-8.7 .5 2.9 .4 2 .5-1.6 .4-.6 .5 2.9 .4-2.2 .5-5.4 .4 3.4 .5 3.2 .4-1.3 .5-1.2 .4 1.5 .5-1.6 .4 3.5 .5 .7 .4-3 .5 3.8 .4-9.5 .5 5.7 .4 5.2 .5-2.3 .4 .1 .5 3.9 .4-5.5 .5 2.2 .4-3.7 .5 6.6 .4-1.7 .5 4.1 .4-3.3 .5-2.1 .4-1 .5 7.5 .4-2.5 .5-9.7 .4 10.3 .5-8.5 .4 3.3 .5-5 .4 4.1 .5 1.7 .4-.2 .5-1.6 .4 9.9 .5-10.4 .4-.7 .5 3.6 .4-5.5 .5 7 .4-.7 .5-2.2 .4-.8 .5 6.3 .4-1.7 .5-4.8 .4 6.6 .5-3.6 .4-3 .5 3.8 .4-3.9 .5 1.7 .4-1.7 .5 .7 .4 6.3 .5-2.9 .4-3 .5 .6 .4 1 .5 2 .4 1.3 .5-11 .4 3.8 .5 3.9 .4-4.9 .5 1.4 .4 7.7 .5-6.4 .4-1.2 .5-1.8 .4 7 .5-1.4 .4-1.5 .5-3.4 .4 5.8 .5 2.1 .4-3.6 .5-5.4 .4 10 .5-8.5 .4 2 .5-2 .4 3.2 .5 3.7 .4-5.3 .5 .2 .4 3.4 .5-.5 .4 .1 .5 0 .4-.3 .5-2.6 .4 1.2 .5 2.3 .4 3.5 .5-3.5 .4-2.3 .5 4.5 .4 .7 .5-3.4 .4 .7 .5-4.2 .4 0 .5 3.6 .4-2.5 .5-1.5 .4 1 .5 3.2 .4-1.6 .5-.6 .4 2.9 .5-5.3 .4 2.5 .5 3 .4-1.8 .5-2.1 .4 5 .5-2.8 .4-2.3 .5 .9 .4-2.2 .5 4.7 .4 1 .5-4.1 .4 3.7 .5-6 .4 .3 .5 1.2 .4-1.1 .5-.5 .4 3.2 .5-2.6 .4-2.4 .5 1.5 .4 10.6 .5-7.5 .4 1 .5 .4 .4-.8 .5 1.5 .4-.5 .5-4 .4 1.9 .5-2.1 .4 3.3 .5-1.4 .4-.9 .5-1.4 .4-.3 .5 8.1 .4-3.1 .5-7 .4 2.5 .5 2 .4-2.1 .5 .3 .4 2.1 .5 1.6 .4-3.6 .5 0 .4 1 .5 5.2 .4-2.1 .5-2.7 .4 3.9 .5-1.9 .4 .7 .5 .6 .4 .5 .5 0 .4 2 .5 .9 .4-4.6 .5 4.5 .4-1.8 .5-4.4 .4 1.2 .5 5.9 .4-2.4 .5-4.2 .4 .5 .5 3 .4 .5 .5 .4 .4-.8 .5-5.6 .4 6.9 .5-6.4 .4 10.3 .5-5.8 .4-3.5 .5 2.7 .4-1.9 .5-.3 .4-.8 .5 3.5 .4 1.9 .5-4.2 .4 1.3 .5 4 .4 .6 .5-1.6 .4-2.7 .5 .2 .4 4.2 .5-7.8 .4 8.3 .5-5.9 .4 4.6 .5-6.3 .4-.1 .5-.2 .4 3.9 .5 0 .4 2.3 .5-7.4 .4 6.9 .5-2.8 .4 5.6 .5-1.8 .4-1.1 .5-.4 .4-4 .5 2.1 .4-3.3 .5 4.7 .4-3.2 .5 .1 .4 1.4 .5-.1 .4 2.7 .5 .6 .4-4 .5 5.9 .4-2.2 .5-2 .4-.8 .5-.8 .4-.7 .5-4.7 .4 4.8 .5 1.4 .4-7.1 .5 5.2 .4 .4 .5 4 .4-4.9 .5-.2 .4 2.3 .5-1 .4-3.2 .5 5.6 .4-3.9 .5-4.2 .4 3 .5 1.9 .4 1.6 .5-4.3 .4 2.7 .5-.8 .4-.6 .5-.2 .4-1.9 .5 4.9 .4-2.3 .5 1.9 .4 1.5 .5-2.3 .4 7.4 .5-5.7 .4-1.7 .5 4.8 .4-2.2 .5 1.5 .4-1 .5 2.4 .4 1.3 .5-5.6 .4 1.3 .5-4 .4 9.1 .5-5.7 .4 3.2 .5-3.3 .4-2.3 .5 5.5 .4-.2 .5-1.4 .4 1.8 .5-5.6 .4-.3 .5 .6 .4 .7 .5 2.1 .4-2 .5-2.8 .4 9.5 .5-1.8 .4-7.3 .5 2.6 .4-.8 .5-7.4 .4 10.3 .5-2.1 .4-1.4 .5 2.4 .4 4.4 .5-3.3 .4 1.3 .5-1.1 .4 2.5 .5-5.1 .4 1.3 .5-2.8 .4 1.5 .5 .7 .4-3.2 .5 4.4 .4-.4 .5-3.2 .4 3.4 .5-4.6 .4 .8 .5 3.7 .4-2.1 .5 1.7 .4-2.5 .5-1.3 .4 8.1 .5-7.2 .4 4.7 .5-1.6 .4 .2 .5-3.3 .4 3.3 .5-3.6 .4 6.6 .5-5.6 .4 9.9 .5-8.1 .4-5.5 .5 3.7 .4 3.1 .5 1.4 .4-1 .5-1.8 .4-2.8 .5 2 .4 .1 .5 2 .4 3 .5-8.3 .4 4 .5-1 .4-.6 .5 .1 .4-.1 .5-1.6 .4 2.3 .5 .6 .4 .1 .5-7.9 .4 7.6 .5 2.6 .4-5 .5 5.6 .4 .7 .5-2 .4-2.4 .5-1.7 .4 6.8 .5-3.1 .4 1.1 .5 .4 .4-2.8 .5-2.5 .4 4.7 .5-4.5 .4-1.6 .5 5.2 .4-1.3 .5 5.1 .4-8.9 .5 5 .4-.5 .5-1.6 .4-.2 .5 .9 .4-2.7 .5 2.5 .4-1 .5 3.6 .4 1 .5-6.8 .4-.7 .5-3.7 .4 9.5 .5-3.3 .4 1.2 .5-1.8 .4-.3 .5 .4 .4 1 .5 2.9 .4-3.1 .5 1.6 .4-4.4 .5 2.4 .4 5.4 .5-.3 .4-10.3 .5 9.2 .4 1.6 .5-3.6 .4 1.5 .5-.4 .4 1.2 .5-2.6 .4 2 .5-.5 .4 3.6 .5-4.5 .4-.8 .5 6.8 .4 1.2 .5-4.1 .4-5.5 .5 1.9 .4-1.3 .5 5.1 .4 2 .5-4.9 .4-.6 .5 5.5 .4-11 .5 6.9 .4 1.7 .5-2.6 .4 2.8 .5 .3 .4-5.8 .5 3 .4 .1 .5 1.5 .4 1.2 .5-.4 .4-2.7 .5-5.4 .4 9 .5-2.7 .4-2.5 .5 8.3 .4-7 .5 2.9 .4-3.6 .5-1 .4-2.4 .5 3.9 .4-3.8 .5 4.1 .4-1.3 .5-.2 .4 .5 .5 4.8 .4-5 .5 2.3 .4-1.9 .5-1.6 .4-1.4 .5 1.3 .4-2.6 .5 7.1 .4-3.3 .5-.5 .4 .5 .5-.1 .4 1.2 .5 1.1 .4 2.4 .5-2.5 .4-4.4 .5 5.2 .4-2.2 .5 2.1 .4 1.4 .5-3.5 .4 1.6 .5-3.5 .4 4.5 .5-3 .4 4.2 .5-4.9 .4 4.2 .5-2.4 .4-.6 .5 2.1 .4 1.3 .5-1.5 .4-3.5 .5 2.2 .4-2.9 .5 4 .4 .2 .5-2.9 .4 2.7 .5-2.2 .4 1.5 .5 1.5 .4-2.5 .5-2.1 .4 2.2 .5 .6 .4 1.7 .5-5.5 .4 6.8 .5-9.2 .4 2.3 .5 1.7 .4 .2 .5 2 .4-2.1 .5 5 .4-3.2 .5-1.6 .4-1.1 .5 5.3 .4-4 .5 .5 .4-3.2 .5 5.7 .4 2.2 .5-3.1 .4 .7 .5-1.2 .4 .3 .5 0 .4-1.7 .5 5.7 .4-3.9 .5 .1 .4-1.3 .5 3.8 .4-1.7 .5-.5 .4 .3 .5 2.1 .4-4.4 .5 3.3 .4-4.3 .5 6.6 .4-.2 .5-2.9 .4-.9 .5-.9 .4 7.3 .5-7.2 .4-.2 .5-.6 .4 7.4 .5-6.2 .4 2.1 .5 2.4 .4 .1 .5-5.1 .4 4.6 .5-3.3 .4-1.9 .5-1.9 .4 6.6 .5-3.8 .4-2.4 .5 5.1 .4-4.8 .5 10.1 .4-11.2 .5 5.7 .4-2.7 .5 4 .4 5 .5-3.7 .4 2.8 .5-3.8 .4-3.4 .5-.8 .4-.7 .5 3.1 .4 2.4 .5-3.8 .4-.6 .5 .6 .4 1.4 .5-3.1 .4 5.1 .5-2.1 .4-.4 .5 3.2 .5-.1 .4 .5 .5-4 .4-1.6 .5 8.6 .4-13 .5 5.3 .4-1.9 .5 5.5 .4-4.4 .5 3.4 .4-3.4 .5 7 .4-3 .5-1.1 .4 .1 .5-2.1 .4 1.7 .5 2.4 .4-3 .5 3.1 .4-2.2 .5-4 .4-1.3 .5 4.7 .4 .3 .5-3.3 .4-.1 .5 7.7 .4-5.3 .5-1.8 .4 1 .5-1.1 .4 4.1 .5-1 .4-.8 .5-4.3 .4 1.1 .5 .1 .4 .1 .5-1.9 .4-1.2 .5 3 .4-1 .5 3.5 .4 .8 .5-4.4 .4-1.3 .5 2.5 .4 2.7 .5-2.6 .4 1.8 .5-1.8 .4 3.4 .5-3.9 .4 .7 .5 3 .4-3.3 .5 1.2 .4-.1 .5 .2 .4-2.4 .5 1.1 .4 3.5 .5-8.2 .4 .3 .5 3.4 .4 6 .5 1 .4-6.3 .5 6.2 .4-2.8 .5-.1 .4-1.2 .5 .1 .4 1.7 .5-5.4 .4 1.6 .5 1.3 .4 .1 .5-.7 .4 3.2 .5-1.8 .4-2.6 .5 4.5 .4-5.9 .5 2.1 .4 1 .5-2.1 .4-2.1 .5 1.3 .4 .6 .5 2.4 .4-3 .5 2.1 .4 0 .5-5.1 .4 2.7 .5 10.6 .4-8.6 .5-.7 .4-1.8 .5 2.5 .4-2.6 .5 5.6 .4-1.2 .5-2.3 .4 3 .5-.6 .4-1.5 .5-1.4 .4 .9 .5 1.7 .4 .1 .5 2 .4-3.1 .5-.7 .4 2.4 .5-1.2 .4 1.4 .5-1.2 .4 .7 .5 1.5 .4-2.3 .5 2.6 .4-.6 .5 1.4 .4 0 .5-3.7 .4 1.7 .5 3.4 .4-1.3 .5-.7 .4-3.9 .5-.1 .4 3.5 .5-2.8 .4 .3 .5 3.2 .4-7.6 .5 7 .4 .9 .5-7.9 .4 7.5 .5-3.7 .4 2.6 .5-3.6 .4 5.1 .5 5 .4-7.3 .5 1.7 .4-4.9 .5 6.1 .4 .1 .5-5.9 .4-.4 .5 .3 .4 4.3 .5 3.7 .4-5.7 .5-.5 .4-.2 .5 1.2 .4-3.2 .5-1.5 .4 7.6 .5-6.8 .4 .7 .5 4.9 .4-1.5 .5 2.4 .4-3.1 .5-2.7 .4 2.4 .5 0 .4-2 .5-2.7 .4 2.2 .5 5.4 .4 .5 .5-4.5 .4 1.2 .5 7.1 .4-5.5 .5-4.1 .4 6.1 .5 2.4 .4-5 .5-1.1 .4-1.5 .5 6 .4-1.5 .5-1.2 .4 1.7 .5-3 .4 4 .5-4.8 .4-.5 .5 5.7 .4-4.1 .5-.4 .4 2.2 .5-3.3 .4-2 .5 5.3 .4-5 .5 5.4 .4-3.8 .5 .8 .4 .1 .5 2.3 .4-5.3 .5 1.7 .4 4.3 .5-.6 .4 1.7 .5-6.8 .4 6.2 .5 .2 .4-.2 .5-2.1 .4 2.2 .5 2.2 .4-8.1 .5 5 .4-1.8 .5 2.1 .4-3.4 .5 7.1 .4-9.8 .5 6.6 .4-4.8 .5 .4 .4 3.7 .5 .7 .4-.5 .5-.4 .4-3.9 .5-.8 .4 .7 .5 4.2 .4-3.3 .5 1.8 .4 .8 .5-3.7 .4-1 .5 3 .4 .3 .5 1.8 .4-2.1 .5-.4 .4 .3 .5-1.3 .4 1.2 .5-1.4 .4 2.8 .5-7.9 .4 2.5 .5-.8 .4 2.4 .5 1.5 .4 3.7 .5-7.1 .4 1.8 .5 2.5 .4-3.6 .5 2.9 .4-2 .5-2.4 .4 3.9 .5 3.2 .4-.1 .5-7 .4-1.8 .5 5.9 .4 .9 .5 3.5 .4-4.5 .5 .9 .4-1.9 .5-.7 .4-.2 .5-2.8 .4 7.6 .5-2.8 .4-.4 .5 6.1 .4-.7 .5-5.3 .4-3.3 .5 .2 .4 6.4 .5-3.2 .4 1.7 .5 4.5 .4-3.7 .5 1.6 .4-1 .5-4.6 .4 1.1 .5 .4 .4 2 .5 .6 .4-3.2 .5 .3 .4 .6 .5-2.9 .4 1.7 .5 .8 .4-2.4 .5 5.5 .4-.3 .5 .5 .4 1.1 .5-3.8 .4 2.1 .5-1.9 .4-1.6 .5-3.8 .4 7.5 .5-3.7 .4 3.3 .5-2.7 .4 2.5 .5-1.2 .4 6.2 .5-3.7 .4-2.7 .5 2.1 .4 3.1 .5-4.3 .4-.5 .5 6.4 .4-7.9 .5 1.9 .4-.7 .5 3.7 .4-1.8 .5-.2 .4-.3 .5-.2 .4-2 .5 1.2 .4 1.6 .5 3.1 .4-5.2 .5 2.3 .4-1.1 .5-2.1 .4 3.9 .5 3.3 .4-5.2 .5-.3 .4 .2 .5-1.1 .4 2.4 .5 1.8 .4 1.3 .5-2.7 .4-2.7 .5 .6 .4 1.6 .5-4.1 .4 4.2 .5 .5 .4 .5 .5-1.4 .4 3.5 .5-1.8 .4 .7 .5-3.2 .4 3.1 .5-1.4 .4-1.6 .5 3.8 .4-2 .5-3.4 .4 1.3 .5-2.2 .4 4.5 .5-4.1 .4 0 .5 1.9 .4 3 .5-5.8 .4 8.1 .5-3.3 .4-1.3 .5-2.2 .4-1 .5 1.8 .4 3.8 .5-2.2 .4-1 .5 .6 .4 2.2 .5-.6 .4 .2 .5-1.2 .4-.8 .5 .1 .4 .8 .5 2.4 .4-4.1 .5-.3 .4-4.6 .5 7.1 .4-1 .5-4.1 .4 5.5 .5-2.1 .4 1.2 .5-5.2 .4 5 .5-3.2 .4-2.5 .5 5 .4-5 .5 3.8 .4-4.1 .5 2.5 .4 2.9 .5 2 .4-1.8 .5-7.6 .4 4.3 .5 1.9 .4 0 .5-2.2 .4 3.3 .5 7.6 .4-4.9 .5-2.1 .4-.2 .5-4.6 .4 2.2 .5 .8 .4 1.4 .5-4.6 .4 6.1 .5 .6 .4-2.1 .5 4.8 .4-7.4 .5 3.1 .4-1.8 .5 1.5 .4-7.1 .5 6.9 .4-.8 .5 4.8 .4-6.2 .5 6.5 .4-4.6 .5 7.9 .4-4.2 .5-2.7 .4-2 .5-3.8 .4 6.1 .5-7.4 .4 7.3 .5-4 .4 4.3 .5-4.2 .4 3 .5 .8 .4-2.3 .5-.7 .4 .3 .5 5.8 .4-8.4 .5 8 .4-3.9 .5-6.4 .4 8.1 .5-.4 .4 2 .5-4.5 .4 1.7 .5-1.3 .4 2.3 .5-2.1 .4 2.1 .5 2.3 .4-4.4 .5-2.1 .4 4.1 .5 .5 .4-.6 .5-1.4 .4 2.5 .5-2.3 .4 5.1 .5-8.1 .4 3.6 .5 2.7 .4-1.2 .5-4.4 .4 1.9 .5 .5 .4 3.7 .5-6.6 .4 .9 .5 4.6 .4-7.4 .5 9.6 .4-4.4 .5 .7 .4 2.7 .5-3.7 .4 .6 .5 4 .4-3.2 .5 .9 .4-.6 .5 .2 .4-4.5 .5 2.4 .4-.2 .5 .3 .4 3 .5-7.1 .4-1.1 .5 5.8 .4-3.4 .5 3.6 .4-1.1 .5 1.5 .4-1.2 .5 .9 .4 2.5 .5-2.9 .4 3 .5-1.7 .4-3.9 .5 3.4 .4 4.2 .5-11.9 .4 7.9 .5-3.1 .4 2 .5 6.2 .4-11.5 .5 1.2 .4-.3 .5 3.1 .4-.7 .5 3.3 .4-.5 .5-2.1 .4-4.4 .5 13.3 .4-6.3 .5-2 .4 3.1 .5 .6 .4-.5 .5-7.6 .4 2.3 .5 1.4 .4 .1 .5-.6 .4 1.4 .5 1.1 .4 3.1 .5-5.1 .4 .5 .5-4.1 .4 5.9 .5-1.3 .4-1.7 .5 1.6 .4 .9 .5 1.7 .4-1.3 .5 1.8 .4-1.3 .5-2.9 .4-4.6 .5 10 .4-2.8 .5 .5 .4-5.9 .5 2.3 .4 2.1 .5 1.7 .4-.1 .5 .3 .4-4.3 .5 3.7 .4 1.7 .5-5.5 .4-1.8 .5 3.7 .4-3.7 .5-1.6 .4 9.6 .5-4.6 .4-4.2 .5 11 .4-2.7 .5-3.3 .4-1.3 .5 2.9 .4 1.7 .5-3.4 .4 2.2 .5-.9 .4-2.9 .5 2.3 .4 2.6 .5-6.5 .4 2.3 .5 1.7 .4 1.2 .5-2 .4-1.2 .5 6.2 .4-8.1 .5 1.1 .4 3.5 .5 2 .4-4.2 .5 4.7 .4 .4 .5-5.8 .4-3.8 .5 7 .4-6.7 .5 3.5 .4 6.3 .5-6.3 .4 .9 .5-.5 .4 4.9 .5-2.6 .4 2.2 .5 .5 .4 .9 .5-3.7 .4-3.2 .5 5.9 .4-5.2 .5 5.4 .4-4.1 .5 4.7 .4 .2 .5-5.3 .4 .7 .5 5 .4-8.1 .5 2.9 .4 2 .5-2.3 .4 1.8 .5-3.2 .4-2.4 .5 6.3 .4-3.7 .5 5.2 .4-1.7 .5-5.5 .4 1.9 .5-1.1 .4 .9 .5 .1 .4-1.5 .5 3 .4-.1 .5 0 .4-.8 .5-3 .4 4.5 .5 1.1 .4-2.2 .5-2.3 .4 .5 .5-2.9 .4 5 .5 .2 .4 .1 .5-1.8 .4 4.6 .5-4.1 .4-4 .5 1.5 .4 6.6 .5-10.1 .4 .7 .5 9.1 .4-5.5 .5 3.3 .4 3.6 .5-2.7 .4-.3 .5-1.9 .4 2.3 .5-1 .4-2.1 .5 4.9 .4-.8 .5-1.4 .4-1.1 .5 .9 .4 0 .5-.3 .4 2 .5-1.8 .4-3 .5 3 .4-.8 .5 3.2 .4-8.8 .5 2.6 .4 .2 .5-1.5 .4 3.2 .5 4 .4-1.8 .5 2.8 .4-5.6 .5-7.9 .4 9.9 .5-2 .4 1.7 .5-.7 .4 .8 .5-.3 .4 3.8 .5-8.3 .4 6 .5-3 .4 1.2 .5 3 .4-4.2 .5 3.7 .4-2.5 .5-3.5 .4 8.2 .5-4.1 .4 1.4 .5 .1 .4 3.3 .5-6.9 .4-6.8 .5 7.3 .4 1.4 .5-2.2 .4 4.2 .5 4 .4-3.8 .5 1.1 .4-1.6 .5-2.1 .4 2.8 .5-2.9 .4 2 .5 1.2 .4 .1 .5-3.1 .4 4 .5-2.5 .4 .6 .5 4 .4-9.3 .5 3.4 .4-.8 .5 2.3 .4 2.3 .5-3.9 .4 4 .5-8.2 .4 7.1 .5-.2 .4-3.9 .5 1.9 .4-1.7 .5 3.4 .4 3.4 .5-5.6 .4-6.1 .5 2.6 .4 6.4 .5-2.2 .4-.5 .5 1.6 .4-1.8 .5 4.9 .4-5 .5 1.3 .4-.5 .5-2.8 .4 6.8 .5-3.3 .4 2.5 .5-4.3 .4 2.5 .5-5.5 .4 1.9 .5 5.6 .4-2.9 .5-3.9 .4-.5 .5 .1 .4 .4 .5 3.6 .4-.9 .5 .5" fill="none" stroke="#000" stroke-width="3.1" stroke-linejoin="round" stroke-linecap="butt"/>
<path d="M275.5 1896.1l.5-4.4 .4-.7 .5 20.4 .4-15.8 .5 8.6 .4-2.6 .5 8 .4-6.4 .5 23.3 .4-24.9 .5 7.5 .4 18.9 .5-11.1 .4 2.8 .5 21.5 .4-21.8 .5 11.8 .4-2.6 .5 3.8 .4-1.2 .5-4.3 .4 .1 .5 15.8 .4-11.8 .5 10.3 .4-.6 .5-8.4 .4-11.1 .5 2.2 .4 11.4 .5 1 .4 1.2 .5-8.9 .4-7.2 .5 8.4 .4-6.1 .5 3.4 .4-10.8 .5 31.7 .4 1.1 .5-17.4 .4-7.5 .5 9.4 .4-7.5 .5 14.3 .4 .7 .5-4.8 .4-13.8 .5 1.3 .4 12.4 .5-7.9 .4 7.3 .5-5.8 .4 10 .5-9.3 .4 6.1 .5-6 .4 5.4 .5 1.6 .4-8 .5 4.1 .4-3 .5 4 .4-8.8 .5 12.4 .4-13.6 .5-4.8 .4 13.8 .5-17.3 .4-2.4 .5 13.6 .4 15.4 .5 2.1 .4-12.4 .5-16.8 .4 10.1 .5-1.7 .4 8.4 .5 4 .4-9.6 .5 12.4 .4-7.9 .5-6.1 .4 3.9 .5-4.2 .4 8.2 .5-8.8 .4 1.7 .5 17.3 .4-5 .5-2.5 .4-11.4 .5 3.1 .4 .3 .5 1.1 .4-3.7 .5-2.4 .4 12.6 .5 8.8 .4-18.6 .5 7.4 .4-2.1 .5 1.9 .4 7.9 .5 3.3 .4-20.4 .5-1.1 .4 1.4 .5 5.9 .4-.5 .5 5.7 .4-4 .5 3.9 .4 1.2 .5-6 .4-12.1 .5 29.4 .4-20.1 .5-.4 .4 15.6 .5-12.2 .4 2.1 .5 4.9 .4 .7 .5 7.7 .4-24.8 .5-4.7 .4 6.5 .5 15.5 .4-4.3 .5-.5 .4 9.8 .5-4.3 .4-6.2 .5 7.7 .4 10.7 .5-3.9 .4-12.2 .5 4.6 .4-.5 .5-13.4 .4 9.9 .5 6 .4-5.6 .5-18 .4 25.5 .5-23.6 .4 2.2 .5 12.1 .4 .9 .5-14.4 .4 8.7 .5 5.6 .4-19 .5 12.5 .4-1.7 .5 2 .4 2.3 .5-3.6 .4 3.6 .5-7.1 .4-4.4 .5-.2 .4-.9 .5-2.3 .4 5.8 .5 10.8 .4-12 .5 20.5 .4-7.1 .5-7.5 .4 15.5 .5-24.1 .4 19.5 .5 4 .4-5.4 .5 .2 .4-5.4 .5 1.2 .4-8.9 .5 9.4 .4-2.5 .5 9.1 .4-11.3 .5 9.8 .4 9 .5-24.9 .4 18.1 .5 .2 .4-1.6 .5-11.7 .4 16.6 .5-8.7 .4-7.5 .5-10.1 .4 16.6 .5-2.7 .4 7 .5-21.7 .4 16.1 .5-.5 .4-1.6 .5 8.1 .4-6.8 .5 9.6 .4-20.8 .5 12.5 .4 .1 .5-10.1 .4 18 .5-19.9 .4-1 .5 17.2 .4-11.2 .5 5.8 .4-7.5 .5 6.2 .4 6.9 .5-11.6 .4 6.2 .5-3.2 .4-6.2 .5-2 .4 4.2 .5 15.2 .4-16.1 .5 7.2 .4-10.5 .5 9.3 .4-12.4 .5 6.7 .4 3.8 .5-2.4 .4 15.4 .5-17.7 .4 3.4 .5 9.1 .4-11.3 .5 .6 .4-.3 .5 3.5 .4-6.8 .5-.2 .4 5.2 .5 1.1 .4 2.9 .5 .9 .4-9.3 .5 8.6 .4 6.4 .5-12.8 .4-6.7 .5 10.3 .4-8.9 .5 2.7 .4 11 .5-10.4 .4 3 .5-6.4 .4 26.2 .5-28 .4 .3 .5 12.4 .4-15.7 .5 9 .4-2.9 .5-5.6 .4-4.1 .5 8.7 .4-4.2 .5 1.6 .4 8.8 .5-18.5 .4 6.5 .5 4.8 .4-7.3 .5 4.1 .4 8.6 .5-12.1 .4 7.4 .5-4.1 .4-2.5 .5 .3 .4-7 .5 13.3 .4 3.2 .5 4.6 .4-.5 .5-9.9 .4 2.1 .5 10.3 .4-1.8 .5-1.2 .4-15.6 .5 19.5 .4-10.2 .5 15.5 .4-11.2 .5-13 .4 20.4 .5-19.4 .4 23.5 .5-15.9 .4 8.5 .5-9.3 .4 .9 .5-9.2 .4 3.4 .5 0 .4 4.8 .5-8.8 .4 9.2 .5-2 .4-.9 .5-10.4 .4-14.3 .5 17.9 .4-16.7 .5 23 .4-4 .5-9.7 .4-1.4 .5-1.9 .4-7.2 .5 13.9 .4-11 .5 6.4 .4 24.6 .5-15.3 .4-4.1 .5-5.5 .4-3.7 .5 6.4 .4-13.3 .5 18.5 .4-8 .5-8.1 .4 16.6 .5-20.2 .4 2.1 .5 8.8 .4-2 .5 .2 .4-1.6 .5-10.9 .4 5.3 .5 15.1 .4 .5 .5-19.1 .4 26.4 .5-10 .4-9.3 .5-6.2 .4-13 .5 8.7 .4-30 .5 27.1 .4-6.8 .5-2.7 .4 8.6 .5-10.3 .4 2 .5 2.1 .4 6.7 .5-2.7 .4-11.5 .5 6.7 .4-4.5 .5-.5 .4 .6 .5 1.9 .4-5.5 .5-2.5 .4-5.3 .5 7.5 .4 9.2 .5 .6 .4-12.4 .5 19 .4-9.7 .5-15 .4 11.7 .5 2 .4-18.4 .5 34.8 .4-25 .5 2.2 .4-1.1 .5-14.5 .4-7.1 .5 1.7 .4 3.1 .5 1.1 .4 3.7 .5-4 .4 13.7 .5-12.1 .4-12.3 .5 5.3 .4-10.7 .5 21.3 .4-11.1 .5 2.8 .4-21.5 .5 11.4 .4-1.1 .5 7.8 .4-8.4 .5 3.6 .4-5.7 .5-28.9 .4 31.8 .5-10.5 .4 4.8 .5-24 .4 21.4 .5-2.8 .4-14.5 .5-15.3 .4 12.8 .5 6.4 .4 19 .5 9.4 .4-38.9 .5-2.9 .4-13.9 .5 5.9 .4 6.2 .5-18.2 .4-6.5 .5 24.3 .4-18.9 .5-4.5 .4 20 .5-16.3 .4 5 .5-15.3 .4-1.2 .5 34.7 .4-23.7 .5-20.6 .4 7.4 .5 15.1 .4-9.5 .5 3.6 .4-20.4 .5 15.3 .4-34.8 .5-.4 .4-15.4 .5 1.8 .4-5.2 .5-4.8 .4-2 .5 25.4 .4-38.2 .5 10.5 .5 14.3 .4-58.6 .5 13.9 .4 14.7 .5-32.4 .4-8.5 .5-3.3 .4-23.9 .5 29.3 .4-33.9 .5 20.4 .4-26.1 .5-8.7 .4 9.7 .5-49.9 .4 55.9 .5-11.4 .4-21.5 .5-.2 .4-36.7 .5 19.8 .4-34.7 .5 22.1 .4-23.5 .5-3.4 .4 7.8 .5-10.7 .4 5.2 .5-26.2 .4-2.7 .5 43.5 .4-10.1 .5-7.1 .4 12.3 .5-17.6 .4-5.9 .5 74.1 .4-17.2 .5-23.5 .4 16.6 .5 23 .4-2.3 .5-.2 .4-15.9 .5 44.5 .4-9.2 .5-9.7 .4 14.6 .5 25 .4 10.6 .5 28.9 .4 7.3 .5-2.9 .4-14.5 .5 7.9 .4 1 .5 11.4 .4 7.8 .5 12.6 .4 16.7 .5-20 .4 24 .5 21.6 .4-22.9 .5 8.4 .4-23.6 .5 35.3 .4-3.7 .5 20.6 .4-18 .5 7.5 .4 14.7 .5-9.7 .4 19 .5-18.9 .4 13.1 .5-7.6 .4 15.2 .5-.2 .4-5.5 .5-9.7 .4 8.8 .5 28.1 .4-32 .5 9.4 .4-7.2 .5-4.7 .4 4.3 .5 17.4 .4-3.2 .5-8.4 .4-4.5 .5 19.7 .4-.6 .5 4.6 .4-13.8 .5 12.8 .4-30.9 .5 16.6 .4-2.6 .5 7.2 .4 13.6 .5 21.5 .4-40.3 .5 13.2 .4 24 .5-47.3 .4 22.8 .5-7.3 .4 20.2 .5 16.8 .4-8.9 .5-14.9 .4 30.5 .5-15 .4-15.9 .5 1.7 .4 10.8 .5 27 .4-22.3 .5-14.8 .4 4.6 .5 12.9 .4-7.2 .5-1.6 .4 9.9 .5 3.7 .4 0 .5 1.8 .4-6.9 .5 .2 .4-5.4 .5 .6 .4 7.6 .5 19.7 .4-24.8 .5 14.6 .4-23.9 .5 20.1 .4-22.7 .5 16 .4-8.4 .5 14.9 .4-1.6 .5 10 .4 1.9 .5 1.4 .4-9.5 .5 18.4 .4-17.9 .5 13.1 .4-6.5 .5 15.7 .4-7.8 .5 17 .4-8 .5-2.6 .4 8.4 .5-5.6 .4-1.8 .5 1 .4 19.9 .5-14 .4 .3 .5 6.4 .4 1.9 .5-23.5 .4 10.1 .5-.5 .4-.8 .5 18.6 .4-4.9 .5 13.3 .4-15.5 .5 18.1 .4-9.1 .5-11.2 .4 2.5 .5 13.2 .4 .2 .5-17 .4 7.8 .5 8.5 .4-4.3 .5 1.1 .4 10.4 .5-3.3 .4 13 .5-17.7 .4 2 .5-6.7 .4 .8 .5 12.2 .4-15.1 .5 18.6 .4-12 .5 11.9 .4 1.5 .5 5.6 .4-8.1 .5-16.5 .4 16.8 .5-1.3 .4 7.2 .5-5.1 .4 .3 .5 2.3 .4-5.4 .5 11.5 .4-2.1 .5-7.1 .4 7.8 .5 11 .4-13.5 .5 5.6 .4 11.3 .5 .7 .4-1.9 .5-7.9 .4 4.1 .5-4 .4-10 .5 5.6 .4 11.7 .5 5.6 .4-14.1 .5 14.7 .4 .5 .5-4.6 .4-2.7 .5 3.6 .4-3.5 .5 20.1 .4-15.8 .5-2.7 .4-4.5 .5 2.5 .4 3.9 .5-18.2 .4 10.3 .5 2.5 .4 2.3 .5-.8 .4 8.7 .5 1.6 .4-8.1 .5 12.3 .4-14.2 .5 6.8 .4-6.9 .5 4.2 .4 6.6 .5-.4 .4-1.3 .5-10.6 .4 .2 .5 10.8 .4-1.4 .5 6.7 .4-13.4 .5 8.3 .4 6.4 .5 5.1 .4-10.8 .5-7.7 .4 12.1 .5 7 .4 .6 .5-1.1 .4 11.4 .5-19.3 .4 9.8 .5 8.3 .4 7.3 .5-20 .4 1 .5-7.3 .4 2.7 .5 8.7 .4 7.9 .5-11.9 .4 4.6 .5-4.2 .4 10 .5-8.1 .4-.6 .5 6.2 .4 2.7 .5 2.8 .4-13.9 .5-6.8 .4 7.6 .5 15.3 .4-14.9 .5 10 .4-11.2 .5-8.5 .4 8.5 .5 17.9 .4-21.1 .5 4.7 .4-8.6 .5 8.7 .4-.5 .5 15.2 .4-18.3 .5 16.2 .4 5.1 .5-14.2 .4-.7 .5-3.7 .4 2.2 .5 4.9 .4 .6 .5-2.7 .4 3.2 .5-.4 .4 14.6 .5-10.9 .4 1.7 .5-4.9 .4 7.5 .5-9.8 .4 1.2 .5 10.7 .4-6.6 .5-2.9 .4 9.2 .5 7.4 .4-12.2 .5-2.8 .4 1.2 .5-6 .4 4.3 .5-7.3 .4 12.1 .5-12.4 .4 10.8 .5-4.3 .4 13.3 .5-6 .4-10.7 .5 6.5 .4 .6 .5 7 .4-10.7 .5 10.2 .4-13.2 .5 5 .4 6.8 .5 1.7 .4-1.3 .5-4.7 .4 .9 .5 10.4 .4-10.5 .5 7.8 .4-15.6 .5 20.2 .4-15.2 .5 11.4 .4-8.5 .5-4.3 .4 3.7 .5 8.8 .4 1.8 .5-16.2 .4 12 .5-8.5 .4-2.4 .5 15.1 .4-19.3 .5 11 .4 .4 .5 4.1 .4-6.4 .5-1.3 .4-2.8 .5 .2 .4 .2 .5 6.3 .4 .2 .5-.9 .4 .1 .5-5.3 .4 2.2 .5 6 .4 4.3 .5 5.5 .4-8.5 .5-.8 .4 10 .5-7.5 .4-2.8 .5 .4 .4 8.7 .5-3.6 .4 4.3 .5-11.6 .4 3.2 .5-11.6 .4 16.4 .5-10.6 .4 7.7 .5-.1 .4-4.8 .5 15.2 .4-3.7 .5-13.6 .4 2.6 .5-4.3 .4 6.6 .5 5.2 .4-6.6 .5 6.5 .4-1.8 .5 .3 .4 3.8 .5-14.7 .4 7 .5 3 .4-1.1 .5 4.9 .4-.8 .5-2.3 .4-.8 .5 12.4 .4-16.9 .5 16.6 .4-5.1 .5 2.3 .4-7.1 .5 9.3 .4-13.2 .5 1.7 .4-.9 .5 .9 .4 5.7 .5-2.6 .4 6 .5-2.3 .4-3.9 .5 8.4 .4-4.4 .5 1.2 .4-6.4 .5 1.9 .4 4.9 .5-5.7 .4-5.2 .5 4.3 .4 4.9 .5 0 .4 5.4 .5-1.8 .4-3.7 .5-.4 .4 8.7 .5-.8 .4-.1 .5-.3 .4-2.5 .5-2.3 .4 4.7 .5-2.3 .4 5.9 .5-8.3 .4-2.4 .5 3.6 .4 4.6 .5-18.6 .4 14.8 .5-5.9 .4 11.9 .5-6.8 .4-4.2 .5 .8 .4-1.2 .5 .4 .4 3.6 .5 .6 .4-3.3 .5 2 .4-.2 .5-4.7 .4 .9 .5 3.1 .4-6.9 .5 5.3 .4 .9 .5-4.8 .4 2.8 .5 8.4 .4-9.1 .5 9.5 .4-5.7 .5-2.5 .4-1.5 .5 7.3 .4-2.2 .5-4.9 .4-5.2 .5 .5 .4 5.3 .5-3.3 .4 10.2 .5-1.1 .4-4.3 .5 .4 .4 10.7 .5-11.7 .4 9.3 .5-3.1 .4 4.9 .5-3.3 .4-6.1 .5 10.6 .4-2.8 .5-2.7 .4-2.4 .5-4.9 .4 7.1 .5-3.9 .4 11.5 .5-4.4 .4 8.3 .5-15.5 .4 7.7 .5-5.2 .4 7.4 .5 .2 .4-.3 .5-1.2 .4-1.8 .5 6.3 .4-7.9 .5-2 .4 10.5 .5-1 .4-1.7 .5-.9 .4-11.4 .5 4.5 .4 8.8 .5-17.2 .4 8.5 .5 9.1 .4 1.9 .5-8.9 .4 9 .5-7.8 .4-3 .5 7.4 .4-.4 .5 .4 .4-9.2 .5 2.8 .4 .6 .5-1.5 .4 3.7 .5 2.6 .4-4.1 .5-2.6 .4 4.5 .5 .2 .4 3.1 .5-10.1 .4 2.6 .5 2.3 .4 .1 .5-.9 .4 1.3 .5-3.9 .4 3.4 .5-2.4 .4 3 .5 2.7 .4-7.2 .5-.1 .4-1.5 .5 8.4 .4 1 .5 5.2 .4-8 .5 3.7 .4-8.5 .5 10 .4-8.9 .5 9.3 .4-4.8 .5-5.8 .4 7.3 .5-3.6 .4-1.4 .5 8.6 .4-15.1 .5 15.1 .4-4.4 .5-2.1 .4-.8 .5-2.5 .4-.6 .5 10.6 .4-4.8 .5 8.1 .4-9.8 .5 4.1 .4-4.2 .5 8.7 .4-2.4 .5-6.6 .4-.9 .5 4.4 .4 .6 .5 .5 .4 .1 .5 0 .4-13.1 .5 7.6 .4 9.5 .5-4.9 .4 2.4 .5-5 .4-8.3 .5 3.6 .4 4.5 .5-1.2 .4 2.2 .5 3.6 .4-1.8 .5-7 .4 11.1 .5-11.6 .4-4.3 .5 9.3 .4-4.2 .5 3.9 .4 2 .5 7.3 .4-5.2 .5-9.2 .4 6.1 .5 1.7 .4-7.6 .5 6.8 .4 7.8 .5-5.7 .4-8.2 .5 1.5 .4 6.1 .5-4.6 .4 3.8 .5-10.4 .4 7 .5-1.9 .4 2.9 .5-2.5 .4 1.6 .5 2.3 .4 2.2 .5-.4 .4-1 .5-3.6 .4 .4 .5-3 .4 6.3 .5-1.5 .4 9.2 .5-5.6 .4-.2 .5-2.6 .4-.5 .5 2.5 .4-3.4 .5 3.5 .4-1.7 .5 2.6 .4-3.1 .5 3.3 .4-1.2 .5 2.6 .4 2.4 .5-10.2 .4 8.4 .5-7 .4 5.9 .5-.9 .4-.2 .5 4 .4 3.4 .5-9.6 .4 2.3 .5 7.5 .4-3.6 .5-.3 .4-6.9 .5 2.3 .4 2 .5-4.4 .4 2.7 .5 4.4 .4 2.5 .5-9.4 .4 10.4 .5-11.5 .4 11.7 .5-4.5 .4-7.4 .5 1.2 .4-1.1 .5 10.4 .4-4.7 .5-.9 .4 1.4 .5 .7 .4-3.4 .5 1.2 .4 3.8 .5-1.6 .4-1.1 .5-1 .4 .9 .5 4.9 .4-6.4 .5-1.6 .4-4.2 .5 8 .4-5.6 .5 5.6 .4-7.1 .5 5.4 .4-.9 .5 1.3 .4-1.4 .5 0 .4 6.2 .5-7.7 .4 6.6 .5-3.1 .4-4.1 .5 4.6 .4 1.9 .5-8.9 .4 1.3 .5 0 .4 1.5 .5 2.2 .4 1.1 .5 6.4 .4-2 .5-.3 .4-7.5 .5-5.2 .4 6.1 .5 3.7 .4-6.2 .5 5.4 .4 .6 .5-.8 .4-4.7 .5-.6 .4 3.5 .5 5.1 .4-7.3 .5 6.3 .4 .5 .5-1.3 .4 2 .5-1.3 .4-9.3 .5 10.6 .4-3.3 .5 5.6 .4-2.4 .5-1.6 .4-1.6 .5 .2 .4 .8 .5 2.5 .4-8.2 .5 3.1 .4 4.8 .5-1 .4 .8 .5-1.6 .4 2.3 .5-5.2 .4-.8 .5 3.9 .4-1.9 .5 3.5 .4-7 .5 6.2 .4-3.5 .5 .4 .4 4.8 .5 3.2 .4-4 .5 1 .4-1.6 .5-2.2 .4-.1 .5 1.7 .4-8.6 .5 11.1 .4-8.2 .5 .8 .4 5.9 .5-10.5 .5 2.6 .4 3.7 .5-.4 .4 1.6 .5-2 .4 4.3 .5-6.1 .4 .7 .5 5.2 .4 4.3 .5-9.7 .4 3.7 .5 4.2 .4-8.6 .5 4.8 .4 6.6 .5-9 .4 8 .5 2.8 .4-4.1 .5-1.8 .4 6.3 .5-15.5 .4 7.8 .5 .4 .4 1.5 .5-1.7 .4 4.2 .5-2 .4-5.3 .5 5.3 .4-1.9 .5 1.5 .4-7.9 .5 2.4 .4 2.8 .5-1.4 .4 1.3 .5 0 .4-9.1 .5 18.2 .4-7.9 .5-.9 .4-3.5 .5 8.9 .4-3.4 .5-4 .4 8.4 .5-9.3 .4-6.2 .5 11.5 .4 3.9 .5-10.2 .4 3.5 .5-8.9 .4 9.1 .5 .7 .4-6.9 .5-.5 .4 .6 .5-4.5 .4 6.1 .5 1.9 .4 2.1 .5-1.5 .4 1.2 .5 .4 .4 2 .5 4.8 .4-10.1 .5 .2 .4 7.9 .5-9.2 .4 13.7 .5-8.2 .4-2.1 .5 2.1 .4-3.7 .5-1.5 .4 .3 .5 4.3 .4-5.2 .5 7.6 .4 .9 .5 .6 .4 .5 .5-.9 .4 3.5 .5 1.3 .4-11.4 .5 3.7 .4-1.3 .5 2.4 .4 5.2 .5-8.5 .4 2.1 .5 7.2 .4-7.2 .5 10.4 .4-11.3 .5 6.8 .4-6.9 .5 6.8 .4-7 .5 2.6 .4-.9 .5 1.1 .4-.9 .5-.5 .4-.5 .5 11 .4-6.9 .5 .5 .4-.9 .5-.7 .4-7.9 .5 5.2 .4 7 .5-3.5 .4-5.2 .5 7.5 .4-4.8 .5 2.9 .4-3.4 .5 2.1 .4-.6 .5 .8 .4 2.1 .5-7.4 .4 3.1 .5 1 .4-5.1 .5 4.6 .4 1.1 .5-.9 .4 2.2 .5 1.4 .4-9.4 .5 9.4 .4-7.3 .5 2.8 .4 5.8 .5-3.1 .4 1.9 .5-2.4 .4-3 .5 6.3 .4 0 .5 1.3 .4-9.3 .5 4.8 .4-.6 .5 .7 .4 4.7 .5-9.8 .4 9.9 .5 3.9 .4-10.3 .5 5.9 .4-6.7 .5 1 .4 2.1 .5-2 .4-.2 .5 4.4 .4 1 .5 1.8 .4-3.1 .5 1.2 .4 1.3 .5-1.3 .4-11.4 .5 6.7 .4 7.2 .5-10.6 .4 12.3 .5-5.8 .4 3.5 .5 .1 .4-1.8 .5-3.3 .4-2.2 .5 10.5 .4-4.8 .5 1.5 .4-4.8 .5-1 .4 7.3 .5-1.6 .4-.3 .5-5.4 .4 4 .5 1 .4-.6 .5 0 .4-3.1 .5-6 .4 12.1 .5-3.7 .4-3.9 .5 9.1 .4-9.2 .5 .1 .4 1.3 .5 4.9 .4-10.8 .5 5.7 .4 1.7 .5-4.7 .4 9.6 .5-2.5 .4 4 .5-5.6 .4-.9 .5 1.6 .4-.2 .5-3 .4 4.7 .5-1.3 .4 3.5 .5-6.5 .4 3 .5-6.7 .4 7.5 .5-3.9 .4 .5 .5 5.6 .4-7 .5 .8 .4-1.8 .5 .3 .4 4 .5-6.3 .4 4 .5-1.3 .4 9.7 .5-.2 .4-.5 .5-5.7 .4-.2 .5-2 .4 1.8 .5 6 .4-4.2 .5-6.5 .4 1.2 .5 8.8 .4-4.4 .5 3.7 .4-6.4 .5-2.3 .4 .4 .5 6.2 .4-2.2 .5-1.4 .4-6.6 .5 4.6 .4 .4 .5-.3 .4-.5 .5 3.4 .4 .9 .5-2.1 .4-.9 .5 1.1 .4-4.5 .5 2.3 .4-2.4 .5 5.1 .4 5.9 .5-6.3 .4-4.6 .5 2.5 .4 9.3 .5-6.5 .4 .7 .5-1.3 .4 1.5 .5-2 .4 1.9 .5-.3 .4-4.7 .5 2.3 .4 1.5 .5 4.1 .4-1.8 .5-.8 .4-3.3 .5 6.9 .4-6.2 .5-3.6 .4 3.9 .5 5.4 .4-7.7 .5 3.3 .4-1.9 .5-.9 .4 1.1 .5 2.8 .4 2.6 .5-10.1 .4 10.2 .5-5.5 .4 6 .5-7.2 .4-2 .5 3.4 .4 5.3 .5-1.4 .4-6 .5-.2 .4 2.6 .5 1.2 .4-4.7 .5 3.2 .4 .5 .5-2 .4 1.4 .5-2.8 .4-1.2 .5 3.1 .4 9.3 .5-7.9 .4 1.6 .5 2.2 .4-2.2 .5-5.8 .4 9.1 .5-3.4 .4 1.3 .5 2.8 .4 .1 .5-6.4 .4 6.3 .5-10.1 .4 6.8 .5-1.5 .4-.5 .5 7.2 .4-8.4 .5 3.1 .4 .9 .5-1.9 .4 1.3 .5 .5 .4 4.2 .5-3.7 .4-2.5 .5 4.6 .4-5.3 .5 3.5 .4-3 .5 1.4 .4 3.3 .5-2.8 .4 .9 .5 .6 .4-.1 .5 4 .4-6 .5-.7 .4 2.8 .5 1.6 .4-7.3 .5 .9 .4-2.4 .5 .1 .4 6.7 .5-3.1 .4 .5 .5-3.1 .4 6 .5 0 .4-6.8 .5 7.7 .4-3.8 .5-.1 .4 5.4 .5-2.4 .4 .6 .5-1 .4 1.8 .5-6.4 .4 4 .5-4 .4 .2 .5 8.2 .4-8.3 .5 4.4 .4-4.1 .5-.9 .4-1.1 .5 1 .4 3.5 .5 1.5 .4-2.2 .5-.4 .4 .7 .5 .9 .4-2.5 .5 3.3 .4-2.1 .5 .5 .4-3 .5 5.5 .4 0 .5 .9 .4-5.2 .5 1.2 .4 2 .5-6.3 .4 8.2 .5-5.5 .4 1.2 .5 2.4 .4 2 .5-1.1 .4-5.2 .5 7.2 .4-3.8 .5 1.7 .4-2.8 .5 2.4 .4-.8 .5 2.7 .4-4.8 .5 3.3 .4-2.8 .5 5.8 .4-1.6 .5-2.7 .4 1.3 .5-1.7 .4 1.3 .5-4.2 .4 .7 .5-1.9 .4 1.4 .5-1.7 .4 0 .5 2.5 .4 2.5 .5-1.3 .4-.7 .5 2.8 .4-1.1 .5-4.6 .4 .9 .5 4.7 .4 .6 .5-1.3 .4 3.4 .5-8.3 .4 1.8 .5 5 .4-2.8 .5 1.3 .4-6.2 .5 7.9 .4-1.8 .5-7.2 .4-.2 .5 .3 .4 3.8 .5 2.5 .4 1.2 .5-5 .4 4.9 .5-2.1 .4 .1 .5-3.6 .4 5.3 .5-5.1 .4 4.9 .5-.1 .4 2 .5-4.1 .4 1.4 .5-.7 .4 1.4 .5-1.2 .4-4.7 .5 3.9 .4-1.6 .5 3.4 .4 .1 .5-3.6 .4-4.7 .5 10.3 .4-3.3 .5 3 .4-3.1 .5 1 .4 2.3 .5 3 .4 .2 .5-9.1 .4 3.8 .5 .1 .4-1.8 .5 2 .4-6.8 .5 6.1 .4-2.7 .5 2.5 .4 5.2 .5-6.2 .4 .9 .5 2.3 .4-5.6 .5 2.3 .4-.4 .5 6.4 .4-2.3 .5 3.8 .4-6.9 .5-1.4 .4 5.2 .5-8.9 .4 10.6 .5-4 .4 7.4 .5-.3 .4-7.2 .5 .7 .4-5.8 .5 5.5 .4-3.3 .5 6.4 .4-4.3 .5-2.5 .4 4.1 .5-4.1 .4 1 .5 2.5 .4 4 .5-1.2 .4 3.2 .5-8.1 .4-1.6 .5 3.8 .4-.3 .5 7.5 .4-9.5 .5 7.8 .4-2.4 .5-7.8 .4 4.7 .5 3.9 .4 .4 .5-3.5 .4-2.6 .5 2.8 .4 .3 .5-1.2 .4-.7 .5 6.8 .4 .8 .5-9.6 .4 6.1 .5 4.3 .4-5.2 .5-1 .4 .3 .5-4.7 .4 7 .5-3.3 .4 4.2 .5-10.8 .4 10 .5 1.5 .4-7.1 .5 1.6 .4 4.6 .5-5.5 .4-.5 .5 3.8 .4-3 .5-1.1 .4 .9 .5 3.5 .4-1.2 .5 1.2 .4-.1 .5-1.1 .4 1.3 .5-1 .4-.1 .5 .2 .4-2.4 .5 5.2 .4-1 .5-.9 .4 .7 .5-4.1 .4 .7 .5 .9 .4 .6 .5-2.5 .4-.9 .5-.2 .4 3.4 .5-.9 .4 5.3 .5-4.4 .4-7.2 .5 8.7 .4-5 .5 .9 .4 4.8 .5 2.6 .4-3.2 .5-6.3 .4 .6 .5 1.1 .4 3.1 .5-3.4 .4 5.4 .5-6.3 .4 1.3 .5-1 .4-7.2 .5 .6 .4 11 .5-3.4 .4 .8 .5-1.1 .4-6.3 .5 10.6 .4-3.2 .5-4.3 .4 5.8 .5-6.7 .4 4.7 .5 .6 .4-2.1 .5 2.7 .4-3.6 .5-2.1 .4 12.8 .5-10.4 .4 9.2 .5-.1 .4-7.9 .5 1.6 .4 .2 .5 4 .4-.8 .5-.6 .4 4.2 .5-6.4 .4 2.3 .5-2.4 .4 9.1 .5 .4 .4-6 .5-1.1 .4-2.3 .5 3 .4 .8 .5 .3 .4-5.8 .5 2.2 .4-5 .5 5.3 .4-1.6 .5 1.3 .4 .5 .5-2.1 .4 4.4 .5-2.2 .4-2.8 .5 3.4 .4 4.2 .5-4.9 .4 1.8 .5-4.7 .4 5.1 .5-1 .4-2.9 .5 1.6 .4-2.9 .5 1.4 .4 1.1 .5-2.4 .4 1.1 .5 2.7 .4-4.5 .5 3.1 .4-1.3 .5 1.6 .4-1.4 .5 3.1 .4-3 .5 .8 .4 1 .5-.5 .4 1.1 .5-2.5 .4-3 .5 7.1 .4-1.6 .5 3.7 .4-3.3 .5-.9 .4-1.1 .5 5 .4-1.6 .5-2 .4-8.6 .5 8.4 .4 .2 .5 2.6 .4-.9 .5 6.3 .4-5 .5 .3 .4-1.1 .5 .3 .4-7.4 .5 3.5 .4 3.3 .5 5.4 .4-10.8 .5 6.9 .4 .9 .5-2.3 .4 0 .5-4.8 .4 3.8 .5-1.3 .4-.6 .5-2.9 .4 2.3 .5 2.2 .4 .6 .5 2.7 .4-1.4 .5 5.9 .4-12.4 .5 5.2 .4-.8 .5-4.1 .4 3 .5-2 .4 2.6 .5-1.2 .4-1.1 .5-4.9 .4 9.6 .5-2.3 .4-3.6 .5-.7 .4 2.8 .5-.8 .4 .2 .5-2.2 .4 6.5 .5-3.8 .4-4.2 .5 1.1 .4 5 .5-3 .4 4.6 .5-4.6 .4 .4 .5 1.3 .4-.8 .5 1.8 .4-3.8 .5 .7 .4 .8 .5-1.3 .4 0 .5 3.1 .4-1.4 .5 2.1 .4 4.9 .5-8.5 .4 3.9 .5-.1 .4-6.3 .5 6.4 .4 .5 .5 4.4 .4-6.3 .5 .6 .4 2.3 .5-5.1 .4 4.6 .5 2.6 .4-1.9 .5-1.1 .4-.1 .5-.6 .4 3.4 .5-.5 .4 2.7 .5-5 .4-4.8 .5 1.4 .4 7.3 .5-2.6 .4-5.3 .5 4.8 .4 .1 .5 2.7 .4-9.4 .5 2.1 .5 6.2 .4-6.1 .5 5.6 .4-3.2 .5-3.4 .4 6.2 .5-.1 .4 .4 .5-2.9 .4-2.7 .5 0 .4-2.4 .5-.6 .4 3.5 .5 6.4 .4-1.5 .5-4.4 .4 1 .5 1.2 .4 1.2 .5-2.8 .4 5.6 .5-3.5 .4-1.7 .5-2.6 .4 .1 .5 5.9 .4 1.8 .5-3.6 .4-.9 .5 5.6 .4 .2 .5-2.4 .4-1.5 .5-1.2 .4 1.4 .5-.3 .4-2.8 .5 3.7 .4 .1 .5 3.6 .4-5.5 .5-2 .4 1.1 .5 4.3 .4-5.7 .5 4 .4-6.1 .5 4.4 .4-2.9 .5 2.8 .4 .2 .5 2.6 .4-.2 .5-5.5 .4 6 .5-7.6 .4 9.8 .5-5.1 .4 1.4 .5-6.6 .4 6.5 .5-.1 .4 1.1 .5-4.4 .4 2.7 .5-.4 .4 4.4 .5-3.4 .4 0 .5 1.2 .4-6.9 .5-2 .4 7.4 .5 1.2 .4-3.4 .5-.3 .4 5 .5-4.5 .4 3.3 .5-.5 .4-.8 .5-3.2 .4 2 .5-.8 .4 .5 .5 5.5 .4-9.3 .5 3.9 .4 1.1 .5 1 .4 1 .5-5 .4-2.7 .5 3.1 .4 .6 .5-2.3 .4 10.2 .5-9.9 .4 1.5 .5-3.4 .4-1.3 .5 4 .4 2.6 .5-5.5 .4 1.9 .5-1.6 .4-.5 .5 2.4 .4 2 .5-2.8 .4 .7 .5-3.7 .4 3.7 .5-3.1 .4 1 .5 2.1 .4 7.4 .5-3.4 .4-5.3 .5-.4 .4 4.8 .5 2.6 .4-11.6 .5 7.4 .4 5.1 .5-7 .4-2.9 .5 10.7 .4-6.5 .5 1.7 .4-1.3 .5-1.9 .4 4.9 .5 .5 .4 .4 .5-6.4 .4-.2 .5 6.6 .4-6.5 .5 5.4 .4-2 .5 1.6 .4-.5 .5-4.9 .4 3.7 .5 3 .4-7.2 .5-.8 .4 5.3 .5-4.5 .4-.6 .5 7.2 .4 3 .5-1.1 .4 .4 .5-2.7 .4-6.9 .5 6.7 .4 .4 .5-6.1 .4 5.2 .5-2 .4-4.7 .5 10.5 .4-.8 .5-2.4 .4-1.3 .5 .4 .4-1 .5 5.1 .4-2.2 .5 2.6 .4-3.1 .5-1.8 .4-.1 .5 1 .4-2.4 .5 7.3 .4-3.9 .5-1.3 .4 5.6 .5-12.6 .4 9.9 .5-4.7 .4 3.8 .5-1 .4 .2 .5-5 .4 5 .5-2.2 .4 0 .5 .7 .4-.8 .5 4.6 .4 2.8 .5-4.1 .4 1.5 .5 3.9 .4-9.9 .5 9 .4-10.3 .5 9.3 .4-1.8 .5-4.4 .4 .4 .5-1.6 .4 3.1 .5 1.1 .4 6.8 .5-8.7 .4 1.8 .5-.4 .4-1.8 .5-2.8 .4 6.6 .5-1.9 .4 .2 .5 4.2 .4-8.3 .5 3.8 .4 4.2 .5-6.2 .4 .7 .5-.7 .4 4.5 .5-.5 .4-3.7 .5-2.3 .4 5.1 .5-3.1 .4 1 .5-1.7 .4-1.6 .5 .5 .4-1.7 .5-1.8 .4 7.1 .5-5.2 .4 4.7 .5-.5 .4 1.2 .5-3.1 .4 6.2 .5-.7 .4-1.4 .5 1.2 .4 2 .5-5.5 .4 1.3 .5 1.7 .4-4.2 .5-3.1 .4 7.5 .5-6.3 .4 5.3 .5-5.8 .4 .4 .5 5.4 .4-8.9 .5 8.2 .4 1.6 .5-2.6 .4-3 .5 2.6 .4 1.1 .5-6.1 .4 1 .5 2.9 .4-7.1 .5 10.3 .4-2.8 .5 1.2 .4-2 .5-1.1 .4-2 .5 3.8 .4-2.8 .5 2.7 .4-6 .5 9.1 .4-2.8 .5-2.5 .4-1.1 .5 2 .4 .6 .5-4 .4 4.9 .5-.1 .4 2.5 .5-4.8 .4 2.7 .5 5.1 .4-.1 .5 2 .4-7.3 .5-.1 .4-2.4 .5 5.2 .4 5.7 .5-8 .4 1.2 .5 .3 .4-2.5 .5 5.2 .4-3.3 .5 .5 .4-1.7 .5-3.2 .4 7.6 .5-4.3 .4 1.1 .5-.3 .4-3.6 .5-.3 .4 6.3 .5-3.4 .4 1.6 .5 2.4 .4-4.5 .5 .9 .4-2.1 .5 2.3 .4 1.8 .5-.1 .4-1.1 .5-2.5 .4 3.2 .5-1.8 .4-1.1 .5-4.8 .4 5 .5-1.8 .4 3.5 .5 .7 .4-3.7 .5 4.7 .4-.2 .5-5 .4 3.7 .5-1.3 .4 3.4 .5-1.8 .4 .8 .5 .5 .4-3.6 .5 3.2 .4 .9 .5-.7 .4-.6 .5-5.3 .4 6.9 .5-1.7 .4-2.6 .5 6.5 .4-3.8 .5-.9 .4-1 .5 2.1 .4 .6 .5-.6 .4 2.2 .5 .7 .4-6.5 .5 4.8 .4 2.3 .5-5.2 .4 5.7 .5-.5 .4-.8 .5-6.3 .4 3.8 .5-3.2 .4 3.2 .5 .4 .4 1.6 .5-1.8 .4-2.6 .5 .9 .4 3.2 .5-.3 .4-3.1 .5 3 .4-.5 .5 3.3 .4-1.9 .5-3.8 .4 0 .5 1 .4-1.6 .5 5.9 .4-3 .5 1 .4-1.4 .5-6.8 .4 4.6 .5 6.5 .4-5.1 .5-3.4 .4-2.1 .5 3.2 .4 .3 .5 3.5 .4 .6 .5-2.8 .4-.7 .5-4.2 .4-.9 .5 2.2 .4 4.5 .5-.3 .4 .4 .5-2.7 .4 2.7 .5 2.2 .4-1.7 .5-1.6 .4-3.6 .5 .1 .4 3 .5 3 .4 .5 .5-7.5 .4 4 .5-1.8 .4 2.1 .5 .8 .4-2.6 .5 2.5 .4-1.8 .5 7.1 .4-6.3 .5-6.6 .4 8.1 .5 .4 .4 3 .5-4.2 .4 4.4 .5-.9 .4-.4 .5 2.5 .4-5.1 .5 6.3 .4-7.3 .5 6.2 .4-1.9 .5-2.7 .4 2.7 .5-7.9 .4 5.1 .5-1.9 .4 1.3 .5-2.3 .4 4 .5-2.7 .4-.5 .5-2.9 .4 1.9 .5 6 .4-.8 .5-6.6 .4-.8 .5 .6 .4-1.4 .5 2.1 .4-.6 .5 .9 .4 3.2 .5 2.7 .4-4.1 .5 1.1 .4 1.6 .5-.4 .4-.5 .5-1.1 .4 .3 .5-1.9 .4 2.6 .5-7.4 .4 2.6 .5 4.3 .4-1.8 .5 2.5 .4-2.9 .5-6.8 .4 7.9 .5 1.6 .4-2.5 .5-1.1 .4-2 .5 5.9 .4-.3 .5-3.1 .4 2.9 .5-11.3 .4 16.3 .5-6 .4 .3 .5 1.3 .4-4.3 .5 2.3 .4-.1 .5-3.8 .4 2.4 .5 1.2 .4 2.2 .5-5.3 .4 6.3 .5-6.3 .4 5.3 .5-8.2 .4 6 .5 .4 .4 1 .5-.3 .4-2.4 .5 4.2 .4 .2 .5 1.9 .4-4.8 .5 4.6 .4 0 .5-6.7 .4 10.2 .5 .2 .4-4.9 .5-1 .4-2.7 .5 2.1 .4 1.2 .5-2.4 .4 6.7 .5-.6 .4-3.5 .5-6.5 .4 7.8 .5-.9 .4 1.1 .5 1.5 .4 2 .5-6.8 .4 .8 .5 2.2 .4-1.7 .5-1.4 .4 3.1 .5 .4 .4 2.1 .5-2.9 .4-4.9 .5 5.7 .4-1.6 .5-2.7 .4 .8 .5-.6 .4-.4 .5-.3 .4 2 .5-.2 .4-4.6 .5 5.2 .4-1.9 .5 4 .4-4.5 .5-.7 .4 2.6 .5-.4 .4 2.6 .5 0 .4-2.3 .5-3.8 .4 5.9 .5-6.7 .4 2.7 .5 1.9 .4 2.4 .5-7.1 .4 3.3 .5-.3 .4-2.6 .5 4.1 .4 3.4 .5-7.2 .4 7.7 .5-1.5 .4-2.1 .5-3.4 .4 3.2 .5-5.6 .4 7.2 .5-6.6 .4 1 .5 3.9 .4 1.3 .5-.8 .4 1 .5-6.7 .4 5.4 .5 1.3 .4-3.6 .5 3.8 .4 2.9 .5-5.4 .4 2.2 .5-4.9 .4-1.4 .5 4 .4 1.7 .5-3.2 .4 2.1 .5 5.4 .4-3.9 .5 1.9 .4-2.4 .5 4.6 .4-10.4 .5 6.3 .4-1 .5 1.9 .4-4.6 .5 3.7 .4 1.7 .5 2.6 .4-8.8 .5 6.9 .4-7.1 .5-1.5 .4 6.4 .5 1.4 .4-7 .5 6.3 .4-3 .5 9.1 .4-4.4 .5-4.9 .4-2.3 .5 5.2 .4-5.2 .5-.2 .4 2.9 .5-2.6 .4 6.2 .5-3.8 .4-4.3 .5 9.5 .4-6.3 .5 .8 .4 3.1 .5 2 .4-.3 .5-.8 .4-1.3 .5-1.3 .4-1.5 .5-2.5 .4 2.7 .5 1.2 .4 4.1 .5-4.4 .4 3.9 .5-4.5 .4 .6 .5-2.5 .4 4.4 .5-.6 .4 .1 .5-1.3 .4 1.6 .5-5.9 .4 5.6 .5-6 .4 7.8 .5-4.3 .4 5 .5-6.6 .4 1.4 .5-1.6 .4-2.6 .5 1.3 .4 2.4 .5-.4 .4 2.2 .5-2.9 .4 7 .5-6.7 .4 6.7 .5-3.2 .4-4.6 .5 4 .4-.4 .5 .6 .4-2.4 .5 5 .4-4.4 .5-3.8 .4 5.2 .5-1.6 .4-.3 .5 .1 .4 1.2 .5 3.5 .4-2.8 .5 2 .4-5.5 .5 2.1 .4 3.1 .5-7.6 .4 8.7 .5-2.5 .4-7.6 .5 9.8 .4 .7 .5-3.9 .4 .4 .5 3.4 .4-9.9 .5 .8 .4 3.9 .5 5 .4-2 .5-10.1 .4 5.7 .5 .5 .4 4.5 .5-5.2 .4-1.2 .5 4.2 .4 1.6 .5-3.8 .4 5.7 .5-2.4 .4-6.8 .5 2.1 .4 1.1 .5-.8 .4 5.6 .5-6.2 .4-2.3 .5-.9 .4 6 .5-.3 .4 2.4 .5-4.2 .4-.4 .5 .8 .4 3.8 .5 .8 .4-7.3 .5 4.7 .4-1.5 .5 4.5 .4 3.2 .5-5.1 .4-.7 .5 6.7 .4-.7 .5-2.6 .4-2.4 .5 2.6 .4 .5 .5 3.3 .4-.9 .5-3.2 .4 .1 .5 .9 .4 .2 .5-1.3 .4 3.8 .5-7.8 .4-.2 .5 5.5 .4 .6 .5-.9 .4-2.3 .5 3.8 .4-3.7 .5 0 .4-.9 .5-1.6 .4 2.9 .5 2.2 .4-8 .5 2.9 .4 2.8 .5-1.2 .4 5.7 .5-2.3 .4-1.9 .5-.9 .4-.4 .5-1 .4 2.3 .5 6.2 .4-7.2 .5-1.5 .4 3.6 .5-2.2 .4-3.7 .5 3.1 .4-.7 .5 7.1 .4-8 .5 5.2 .4-6.9 .5 8.4 .4-1.7 .5 .3 .4-4 .5-2.6" fill="none" stroke="#000" stroke-width="3.1" stroke-linejoin="round" stroke-linecap="round" stroke-dasharray="38 12 1 12 1 12"/>
<path d="M275.5 1879.2l.5 5.6 .4 12.7 .5-4.3 .4 18 .5 16 .4-35.3 .5 15.6 .4 29 .5-8.7 .4-2.9 .5-8.5 .4-8.8 .5 10.7 .4 7.5 .5-8.8 .4 6.8 .5-3.8 .4 8.4 .5 5.3 .4-24 .5 15.7 .4-4 .5 7.1 .4-.4 .5-1.6 .4-9.3 .5-5 .4 6.8 .5 10.8 .4-31.1 .5 18.9 .4-.5 .5 14.4 .4-2.5 .5-7.6 .4 22.1 .5-8.7 .4-10.7 .5-18.4 .4 18.5 .5 13.5 .4 1.7 .5-20.1 .4 16.3 .5-4.2 .4-21 .5 17.2 .4 3.7 .5 3.8 .4-19 .5 .1 .4 17.9 .5 6.7 .4-11.5 .5-13.3 .4 8.4 .5 15 .4-13.6 .5-3.7 .4 7.2 .5-1.6 .4 1.5 .5 4.5 .4 1.5 .5 6.2 .4-1.5 .5 4.8 .4-19.1 .5-.4 .4 3.7 .5-3.4 .4 3.2 .5 6.9 .4-8.5 .5 4.2 .4-1.3 .5 16 .4-13.8 .5-8.6 .4 6.3 .5 3.9 .4 6.3 .5-8.6 .4-18.3 .5 17.3 .4-14.6 .5 12.9 .4-13.3 .5 13.4 .4-7.9 .5-2.3 .4 .3 .5 13.3 .4-5 .5 4.5 .4-6.1 .5 1.9 .4-.5 .5-7.1 .4 14.2 .5-1.9 .4-1.7 .5-2.7 .4 4.9 .5-10.8 .4 13.5 .5-23.7 .4 14.5 .5-9.3 .4 19 .5-6.3 .4-3.6 .5-13.5 .4 13.9 .5-11.3 .4 18.5 .5-18.1 .4 18.3 .5 9.4 .4 2 .5-17.6 .4 3.9 .5-3.4 .4 3 .5-4.2 .4-9 .5 15.4 .4-3.6 .5 5.7 .4 11.2 .5-11.7 .4-14.4 .5 19 .4-25.3 .5 14.2 .4 .7 .5-4 .4 7.4 .5-.5 .4-10.7 .5 16.3 .4-5 .5 8 .4-10.9 .5-24.1 .4 14.5 .5 16.7 .4 6.3 .5-19.2 .4-1.5 .5 10.1 .4-15.9 .5 7 .4-2.7 .5-.6 .4-2.9 .5 12.1 .4 1.9 .5-16.5 .4 12 .5 8.5 .4-12.6 .5 6.7 .4-6.2 .5-22.4 .4 11 .5 17.9 .4 6.3 .5-9.4 .4 7.8 .5-9.2 .4-.2 .5-2.6 .4 5.5 .5 11.1 .4-9.6 .5-1.5 .4-1.1 .5-7.6 .4 17.5 .5-6.9 .4 3.4 .5 1.8 .4-11.7 .5 9.7 .4-20.1 .5 34.4 .4-31.3 .5 13.3 .4 7.5 .5-11.1 .4 .3 .5-6.8 .4-2.2 .5 15.6 .4-6 .5-2.7 .4 1.1 .5 4.2 .4-13.2 .5 8.2 .4 12.6 .5-12.4 .4 4.1 .5 .2 .4-8.8 .5 1.3 .4 2.6 .5-1.2 .4-3.7 .5 11.1 .4-5.7 .5-9.3 .4 13.9 .5-1.3 .4 .8 .5-13.2 .4 11.3 .5-12.3 .4 11.1 .5-5.1 .4-1.1 .5 6.1 .4 3.4 .5-15.1 .4 10.2 .5-7 .4-1.2 .5 16.1 .4-20.5 .5 8.4 .4 3.4 .5 .5 .4 .8 .5-5.6 .4-14.1 .5 16.7 .4 7.6 .5-6.7 .4-18.2 .5 15.3 .4-14.6 .5 20.6 .4-.1 .5 2.7 .4-1.8 .5-7 .4-1.7 .5 14.4 .4-5.8 .5-1.9 .4-3.3 .5-13.6 .4-1.2 .5 8.3 .4-2.5 .5 12.4 .4-9 .5 16.3 .4-13 .5-2.6 .4-4.1 .5 7.7 .4 0 .5 7.1 .4 9.9 .5-12.5 .4 10 .5-11.9 .4-.8 .5 8.5 .4 3.3 .5-13.1 .4 3.1 .5-8.2 .4-3.8 .5-6.1 .4 4.9 .5 14.8 .4-7.1 .5-17.6 .4 23.5 .5-4.4 .4-13.8 .5 5.5 .4 9.4 .5-8 .4 7.2 .5-12.4 .4 7.7 .5-1.8 .4-1.7 .5 17.1 .4-15.3 .5-5.2 .4 2 .5 4.2 .4-4.4 .5-13.3 .4 5.7 .5 9.9 .4-14.7 .5 5.7 .4 5.7 .5 9.9 .4-20 .5 13.4 .4-12.6 .5-6.8 .4 3 .5 15.3 .4-2.7 .5-13.4 .4-3.8 .5 8.8 .4 1.1 .5-16.7 .4 1.1 .5 11.5 .4 5.1 .5-8.8 .4 15.6 .5-12.5 .4-.7 .5-8.8 .4 5.2 .5 19.5 .4-32 .5 10 .4 21.2 .5-4.8 .4-20.2 .5 16.3 .4-19.4 .5 15.1 .4 3.5 .5-28.6 .4-2.4 .5 16.4 .4-17.9 .5 9.9 .4-2.4 .5 5 .4-8.6 .5-8.2 .4-1.2 .5-6.4 .4 1.2 .5 9.4 .4 9.3 .5-13.2 .4 .9 .5 8.6 .4 5.7 .5-3.8 .4 5.8 .5-6.8 .4-10.6 .5-10.6 .4 9.5 .5 5.1 .4-1.5 .5-3.5 .4-13.7 .5 9.4 .4 16.9 .5-17.3 .4 15.5 .5-10.2 .4-8.1 .5 8.6 .4-7.6 .5-12.9 .4 18.3 .5-18.2 .4 1.1 .5 1.3 .4 14.1 .5-19.3 .4 6.1 .5-4.1 .4 5.9 .5-12.7 .4 24.2 .5-17.9 .4-4.8 .5-20.4 .4 40.8 .5-4.9 .4-10.9 .5-6.3 .4 9 .5-16.7 .4 7.7 .5-5 .4 12.7 .5-19.3 .4 1.2 .5-15.8 .4 5 .5-9 .4 9.7 .5 9 .4-16.8 .5 20.8 .4-3 .5-9.6 .4-16.9 .5-4.1 .4 27.5 .5-16 .4-17.4 .5 15.6 .4 11.8 .5-19 .4-15 .5 20 .4-1.3 .5-29.2 .4 13.5 .5 18.9 .4-22.2 .5-5.3 .4 16 .5-6.7 .4-8.2 .5 4.8 .4-14.8 .5 .9 .4 3.1 .5-8.5 .4 19.4 .5 3.9 .4 4.4 .5-11.2 .4 4 .5-12.8 .4-17 .5-9.5 .4 6 .5-2.5 .4-.3 .5-6.6 .4 8.2 .5-2.5 .4 2.9 .5-14.9 .4-12 .5 1.8 .4-8.2 .5-25.1 .4 13.9 .5-5.8 .4 3.1 .5-10.4 .4 16.1 .5-23.8 .5-5.4 .4-6.6 .5 27.3 .4-19.9 .5-23.8 .4 3.8 .5 24.4 .4-10.9 .5 0 .4-24.4 .5-10.5 .4 10.9 .5 14.8 .4-29.9 .5 24.6 .4-46.7 .5 21.7 .4-4.7 .5-3.8 .4-21.3 .5-7.4 .4-10.6 .5 2.3 .4-5.8 .5-22.2 .4-10.1 .5 11.4 .4-9 .5-7.9 .4 10.7 .5 1.6 .4 6.7 .5-17.9 .4-36.4 .5 30 .4 3.7 .5-20.6 .4-11.4 .5-6.2 .4 15.4 .5-23.6 .4 10.5 .5-3.5 .4-4.6 .5 9.2 .4-5.1 .5-16.3 .4 31.1 .5-4 .4-4.9 .5 13.1 .4 9.6 .5 31.4 .4 12.2 .5-4.9 .4 15.3 .5 26.2 .4-15.5 .5 1.1 .4-6.8 .5 29.1 .4 9.1 .5 16 .4-5.1 .5 15.3 .4-21.3 .5 43.1 .4-17.3 .5 26.2 .4 19.1 .5-12.2 .4 7.5 .5-8.3 .4 14.8 .5 13 .4 9.9 .5 6.8 .4-2.9 .5 0 .4 15.2 .5 2.9 .4-9.3 .5 17.1 .4-5.9 .5 4.6 .4 7.5 .5-20.5 .4 6 .5 12.5 .4 15.6 .5-14.7 .4 5.7 .5 .5 .4 .1 .5 7 .4-29.1 .5 18.4 .4 9.2 .5-4.6 .4 8.3 .5 4.1 .4 1.6 .5-12.7 .4-7.6 .5-2.2 .4 12.2 .5 0 .4 21.2 .5 3.1 .4-14.9 .5-12.3 .4-3.3 .5 16.4 .4 11.6 .5-8.1 .4-.4 .5 10.4 .4-5.5 .5-9.4 .4 16.2 .5-3.2 .4-17.6 .5 15.2 .4 1.3 .5 11 .4-11.7 .5 24.4 .4-26 .5 14.3 .4 9.4 .5-.7 .4-3.3 .5 21.5 .4-17.3 .5-1.4 .4 14.1 .5-14.5 .4-6.2 .5 25.7 .4-6.3 .5-11.5 .4-13.2 .5 24.2 .4-5.5 .5 8.8 .4-6.4 .5-2.8 .4 11 .5-10.1 .4-22.3 .5 16 .4 16.4 .5-1.1 .4 15.8 .5-8.9 .4 3.8 .5 5 .4 10.7 .5-29.7 .4 10.3 .5 15.6 .4-15.8 .5 1.1 .4 18.7 .5-21.1 .4 31.8 .5-25.9 .4 17.3 .5-11 .4 20.3 .5-16.2 .4-7 .5 0 .4 10.6 .5 .5 .4 9.3 .5-1.6 .4-2.8 .5 11.9 .4-12.5 .5 6.3 .4-5.1 .5-2.2 .4 9 .5 7.3 .4-10.8 .5 9.2 .4-3.7 .5 0 .4 10.7 .5-13.5 .4 15.5 .5-7.9 .4-6.1 .5 2.8 .4 2.5 .5-10.5 .4 14.3 .5-1.6 .4-5.3 .5 21.3 .4-9.3 .5-8.7 .4 3.2 .5 8.9 .4-7.9 .5-.1 .4 4.6 .5-7.7 .4 17.7 .5-12.9 .4 6.4 .5 1.2 .4 12.6 .5-29.7 .4 36 .5-18.6 .4 3 .5-14 .4 18.1 .5-1.9 .4-2.2 .5-3.4 .4-2.1 .5 3.9 .4 20.6 .5-10.3 .4-8.9 .5 .7 .4-2.7 .5 12.5 .4-2.6 .5-2 .4-4.9 .5-2.1 .4 8.5 .5-9 .4 7.8 .5-2.9 .4 14 .5-2.4 .4-16.1 .5 12.3 .4-14.1 .5 2.7 .4 17 .5-7.8 .4-2.2 .5 4 .4 12.2 .5-16.3 .4 3.3 .5 8.5 .4-6.9 .5 1 .4-16.8 .5 11.3 .4 8.5 .5-4.9 .4 12.1 .5-16.5 .4 5 .5-8.2 .4 8.5 .5-9.3 .4 .2 .5 17.6 .4-5.2 .5-2 .4 1.8 .5 5.3 .4-3.7 .5 .3 .4-5.6 .5 7 .4-2.1 .5-6.4 .4 4.8 .5 7 .4 4.2 .5-7.1 .4 7.4 .5-9 .4 6.2 .5 8.8 .4-13.9 .5 10.3 .4-8.2 .5 2.8 .4-1.2 .5 14.5 .4-7.2 .5-1.9 .4-16.3 .5 10.2 .4 3 .5-5.4 .4 8.7 .5 .2 .4 4.4 .5-6 .4 15.6 .5-2.7 .4-17.1 .5 .4 .4 4.8 .5 3.6 .4-11.6 .5 3.8 .4 12.4 .5-8.1 .4-3.1 .5 7.5 .4 9 .5-9.1 .4-4 .5-.9 .4 7.8 .5-4.9 .4 2.7 .5-3.2 .4 11.1 .5-2.3 .4-7.1 .5-2.1 .4 5.9 .5-3 .4 2.3 .5 6.4 .4-13.3 .5 14.1 .4 1.1 .5-6.4 .4-4 .5 2.7 .4 6.2 .5 3 .4-10.4 .5 1.4 .4 6.1 .5-2.1 .4-10.6 .5 2.1 .4 18.7 .5-10.1 .4-11 .5 10.3 .4 8.7 .5-5.3 .4-12.5 .5 11.4 .4-9.1 .5 10.7 .4-11.5 .5 7.2 .4-3 .5 1.6 .4 3.4 .5 13 .4-19.8 .5 .6 .4 2.1 .5-1.4 .4 9.7 .5-6.2 .4 12.3 .5 .7 .4-9 .5 12.2 .4-14.7 .5 5.1 .4-1.2 .5 4.9 .4-5.8 .5-2.3 .4 11.1 .5-2.5 .4-7.3 .5 9.9 .4-10.3 .5 8.5 .4-3.2 .5-5.4 .4-.4 .5 9.5 .4-15.2 .5 11.4 .4 1.7 .5-7.6 .4 3.5 .5-9.2 .4 14 .5 6.5 .4 3.5 .5-8.7 .4-3.3 .5-1.9 .4 0 .5-2.2 .4 8.2 .5 2.9 .4-19.1 .5 3.1 .4 15.9 .5-2.9 .4 3.1 .5-11.1 .4 3.8 .5 18.1 .4-11 .5 3.9 .4-4.4 .5 4.8 .4-3.6 .5 5.4 .4-9.4 .5 7.8 .4-7.9 .5 12.6 .4-9.4 .5-.3 .4 2.1 .5 2.9 .4 4.4 .5-2.6 .4 3.1 .5-9.9 .4 2.8 .5-1.2 .4-1.2 .5 10.3 .4-2.5 .5-.2 .4 1.5 .5 .7 .4 1.3 .5-3.7 .4-12.9 .5 8.6 .4 .1 .5 .5 .4 7.7 .5-7.6 .4 2.8 .5-1.6 .4 3.4 .5-12.4 .4 17.3 .5-6.1 .4 1.7 .5-1.4 .4-9.1 .5-1 .4 5.3 .5 7.8 .4-10 .5 4.9 .4 9.3 .5-12.3 .4 4.1 .5-1 .4-4.1 .5-3.2 .4 13 .5-7.2 .4-.6 .5 .6 .4 1.5 .5-7.5 .4 10.8 .5-2.9 .4-10.1 .5 8.6 .4-4.1 .5-5.1 .4 12.5 .5 4.4 .4 6 .5-12.9 .4-.4 .5 2.6 .4-5.8 .5-3.6 .4 4.9 .5 4.7 .4 5.3 .5-7.2 .4-1.2 .5-4.6 .4 11.7 .5-.5 .4 6.5 .5-7.9 .4-7.4 .5-1.2 .4 6.3 .5 5.1 .4-7 .5 6.6 .4-.9 .5-15.5 .4 16.5 .5-4.4 .4 1.2 .5-4.4 .4 7.8 .5-2.2 .4-7.2 .5 9 .4 .4 .5 .2 .4 3.7 .5 2.2 .4-11.7 .5 8 .4-2.2 .5-8.1 .4 2.8 .5 7.1 .4-8.7 .5 3.2 .4 3.2 .5-12.5 .4 11.3 .5-.8 .4-2.9 .5 .3 .4 .1 .5 2.2 .4-.2 .5-3.1 .4 3.8 .5-1.3 .4-4.4 .5 .3 .4 4.6 .5 1.8 .4-9.8 .5 14.3 .4-8.3 .5 .1 .4 8.4 .5-.7 .4-12.8 .5 4.5 .4 4.5 .5-1 .4-1.8 .5 7.9 .4-10.6 .5 13.8 .4-9.6 .5 3.9 .4 .4 .5-5.5 .4 4.9 .5-8.9 .4-.1 .5-1.2 .4 4 .5 6.5 .4-6.5 .5 10.9 .4-17.7 .5 5.8 .4 1.8 .5 11.7 .4-14.9 .5 5.9 .4-.7 .5 4.2 .4 8.7 .5-11 .4-3.9 .5 4.5 .4-6.3 .5-1.6 .4 6.6 .5-5.4 .4 7.7 .5-.3 .4 .6 .5-1.7 .4-6.5 .5 6.6 .4 2.2 .5-4 .4 7.7 .5-1.8 .4-8.7 .5-1.8 .4-.2 .5 10.6 .4-4.3 .5 .1 .4-4.1 .5 1.8 .4 5.5 .5 4.6 .4-6.8 .5 5 .4-12.8 .5 6.2 .4-7.5 .5 4.9 .4 6.7 .5 .8 .4 7.2 .5-12.1 .4-6.9 .5 11.1 .4-1.7 .5 3.4 .4-1.1 .5-6.3 .4-2 .5 9.1 .4-4.3 .5 11.5 .4-7.2 .5-2.5 .4-6.4 .5 6.2 .4-9.2 .5 8.9 .4 .4 .5 .1 .4-.2 .5 6.9 .4-6.4 .5-1.9 .4-3.9 .5 2.9 .4 4.4 .5-6 .4 12.6 .5-6.1 .4-4.1 .5 2.9 .4 0 .5 5 .4 2.4 .5-6.2 .4-4.5 .5 6.7 .4-2.7 .5-2.4 .4 8.9 .5-8.8 .4 4 .5 3.7 .4-5.7 .5 .1 .4 5.4 .5-4.6 .4 4.5 .5-5.9 .4 5.6 .5-.7 .4-1.4 .5 4.2 .4-6.3 .5 3.3 .4-8.1 .5 5.4 .4 1.4 .5 2.3 .4-1.4 .5-1 .4 4.3 .5-4.9 .4-2.6 .5 6.8 .4-5 .5 .5 .4 2.9 .5 5.3 .4-5.2 .5 1.1 .4 2.2 .5 .2 .4-10.3 .5 7.6 .4-.3 .5 2.5 .4-5 .5-.2 .4 2.9 .5-1.9 .4 5.8 .5-6.9 .4 .5 .5-1.4 .4 3.2 .5-.3 .4-3 .5 1.3 .4 6.1 .5-5.1 .4-9.9 .5 8.3 .4-1.3 .5 .4 .4 .4 .5 .2 .4 2.2 .5-3.9 .4 2.3 .5-.4 .4-4.1 .5 6 .4 .3 .5 .7 .4 4.4 .5-10.2 .4 3.3 .5 5.2 .4-8.6 .5 3.7 .4 2.9 .5-6 .4 7.3 .5-6.4 .4 2.9 .5-3.3 .4 2.8 .5 0 .4 1.4 .5-2.5 .4-1 .5 3.4 .4 1 .5-5.7 .4 7.7 .5 1.8 .4-3.7 .5-.5 .4-10.6 .5 7.9 .4-3.7 .5-1.8 .4 2.3 .5-2.4 .4 9 .5-2.4 .4-5.7 .5 4 .4-2.3 .5 11.6 .4-3.3 .5 0 .4-4.6 .5 2.8 .4-6.5 .5-1.1 .4-2.8 .5 15.1 .4-1 .5-4.8 .4-2.8 .5-1.4 .4 .6 .5 3.9 .4-3.9 .5 4.4 .4-7.7 .5 9.1 .4-9 .5 9 .4-2.9 .5 2.9 .4 0 .5-3 .4 2.4 .5-4.3 .4-1.6 .5 4.2 .4 5.1 .5-3.4 .4 0 .5-2.9 .4 14.2 .5-13.5 .4 3.5 .5-1.7 .4-5.1 .5 .6 .4 7.2 .5-2.4 .4-2 .5-.9 .4 .5 .5-6.7 .4 2.7 .5-2.6 .4 11.5 .5-7 .4-3.9 .5 13.5 .4-6.8 .5 2.1 .4 .4 .5-1.1 .4 5.6 .5-3.5 .4 2.5 .5-5.4 .4-1.3 .5-1.8 .5 10 .4-4.7 .5-.7 .4 3.5 .5-6 .4 2.6 .5 2.4 .4-5.8 .5 2.8 .4-7 .5 11.4 .4-3.5 .5-.2 .4-3.9 .5 7.9 .4-9.6 .5 12.8 .4-7.6 .5-1.4 .4-3.4 .5 6.3 .4-5.9 .5 8 .4-4.8 .5 2.4 .4-2.3 .5 7.4 .4-7.2 .5 .8 .4 3.2 .5-5.8 .4 9.5 .5-9.8 .4 2.8 .5-4.3 .4 .2 .5 8.4 .4-2.6 .5 3.7 .4 6.2 .5-11.4 .4-1.7 .5 6.2 .4-5.9 .5 7.6 .4-2.8 .5 5.1 .4 .3 .5 1 .4-4.1 .5-.9 .4 7.4 .5-7.5 .4 3.5 .5-.6 .4 2.9 .5 2.9 .4-9.8 .5 4 .4-.9 .5-2.1 .4 .6 .5-.7 .4-2.4 .5-1.5 .4 3.5 .5-1.4 .4-4.7 .5 8.4 .4-6.1 .5 10.1 .4-5.8 .5 5.6 .4-2.8 .5-2.8 .4-1.6 .5 2.5 .4-4 .5 1.3 .4-2.4 .5 10.7 .4-12 .5 5.5 .4 3.3 .5-4.8 .4-4.2 .5 4.6 .4 5.2 .5-13.4 .4 8.1 .5-4.1 .4 5.5 .5-1.3 .4-2.1 .5-3.9 .4 7.6 .5-1.7 .4 1.8 .5 3 .4-11.7 .5 4.4 .4 5.5 .5 2.5 .4 3.1 .5-8 .4 2.2 .5-1.7 .4-4 .5 1 .4 5.4 .5 4.3 .4-1.2 .5-4.6 .4 4.1 .5-.1 .4-8.1 .5 .6 .4 5 .5-2.5 .4-2.5 .5 4.4 .4-3.4 .5 3.5 .4-3.7 .5 8.2 .4-2.8 .5-8.6 .4 1.5 .5 10 .4-9.5 .5 2.6 .4-1 .5 2 .4-8.2 .5 10.3 .4-5.6 .5-1.3 .4 8.3 .5-5.2 .4-4.1 .5 8.2 .4-2.6 .5-2.5 .4-4 .5 2 .4 7.1 .5-1.9 .4 1.3 .5-10.4 .4 8.4 .5-1.5 .4-3.1 .5-.4 .4 .2 .5-3.3 .4 2.7 .5 4.6 .4-2.8 .5-2.6 .4 2.3 .5-.4 .4-.2 .5 5 .4-3.3 .5 7.3 .4-6.3 .5-2.5 .4 9.3 .5-3.6 .4 2.7 .5-3.9 .4-5.7 .5 5.3 .4 2 .5-1.9 .4 2.1 .5-2.8 .4 1.3 .5 6.1 .4-.7 .5 .9 .4-6.4 .5 6.2 .4-7 .5 3.1 .4 6.5 .5-7.7 .4-2.8 .5 2.4 .4 5 .5-4.9 .4-6.9 .5-2.6 .4 11.7 .5-2.6 .4-.2 .5-3.8 .4-2.4 .5 5 .4-.5 .5 3.1 .4 1.5 .5-6.1 .4 7.3 .5-2.3 .4-2.4 .5-2 .4 7.7 .5-6.7 .4 .4 .5-.5 .4 1.5 .5-2.9 .4-2.2 .5 6.7 .4 1.3 .5-1.8 .4 3.2 .5-1.9 .4-4.1 .5 .2 .4 3.4 .5 3.4 .4-7.2 .5 .8 .4-.2 .5-.8 .4-2.7 .5 2.1 .4 6.5 .5 7.1 .4-10.6 .5-1 .4 3 .5-.8 .4-2.6 .5 2.8 .4-.1 .5-3.2 .4 1.7 .5 2.2 .4-3.7 .5 1.8 .4-.8 .5 1.9 .4-1.2 .5 6.3 .4-5.3 .5-6.4 .4-2.6 .5 1.9 .4 7.5 .5 3.9 .4-8.1 .5-1.1 .4-2.6 .5 1.8 .4 3.8 .5-4 .4 3.7 .5-.3 .4 5.3 .5-5.9 .4-2.8 .5 7.4 .4-3.7 .5 6.2 .4-8.5 .5 2.8 .4 2.1 .5-4.6 .4 1.6 .5 3.3 .4-4.5 .5 4.2 .4-6.4 .5 1.9 .4 5.6 .5 .6 .4-.1 .5-.4 .4-.6 .5-7.4 .4 5 .5 6 .4-6.9 .5 .2 .4-3.5 .5 4.5 .4 3.4 .5-4.3 .4-.5 .5 6.5 .4-3.3 .5 2.4 .4-3.1 .5 1.2 .4-2.6 .5 5.2 .4 1 .5-.3 .4-4.7 .5-8.1 .4 4.7 .5 .9 .4 3.8 .5-.7 .4 .1 .5-5.8 .4-2.3 .5 1.5 .4 3.8 .5 4 .4 .6 .5-3.4 .4-.8 .5-.2 .4 2.8 .5-2 .4 9 .5-10.6 .4-4.5 .5 5 .4-3.2 .5 2.1 .4 5.8 .5 5.3 .4-8.7 .5-.6 .4 3.3 .5 .2 .4-5.6 .5 1.9 .4 6.5 .5 3.3 .4-12 .5 4.5 .4-3.2 .5 3 .4 3.2 .5-3.1 .4 1.4 .5 2.3 .4-.5 .5 .7 .4-6.5 .5 2.8 .4-.2 .5 3.9 .4-3.3 .5-.8 .4-3.3 .5 3.5 .4-.8 .5 2.7 .4-3.2 .5 6.4 .4 1.7 .5-2.1 .4-3.4 .5-3.6 .4 .8 .5 6.6 .4-4.7 .5 2.6 .4 2 .5-2.1 .4 2.7 .5-5.2 .4 1.8 .5 1.6 .4-1.7 .5-.7 .4 .8 .5-.1 .4 .4 .5-4.7 .4 5.7 .5 .8 .4-5.7 .5-4.8 .4-.9 .5 0 .4 9 .5-2.7 .4-2.2 .5-.1 .4 3.5 .5-.7 .4-5.7 .5 1.8 .4 2.7 .5-3.2 .4-2.5 .5 5.8 .4-7.7 .5 8.5 .4-.4 .5-4.1 .4-1.7 .5 9.4 .4-4.7 .5-4.6 .4 .2 .5 3.1 .4 2.9 .5-2.8 .4 2.8 .5-5.8 .4 1.6 .5 6 .4-4.8 .5 3.8 .4-2 .5-4.4 .4 6.7 .5 5.9 .4-5.8 .5-5.5 .4 2.3 .5 4.4 .4-6.3 .5 6.8 .4 2.7 .5-10 .4 7 .5 .1 .4 3.1 .5-3.1 .4-2.9 .5-4.7 .4 2.2 .5-.5 .4 .1 .5 6 .4-3.6 .5 2.5 .4 .6 .5-.2 .4-3.3 .5-1.2 .4 2.3 .5-1.9 .4-2.5 .5 1.1 .4 7.6 .5-8.6 .4 3.4 .5 1.8 .4-1.5 .5 2 .4 6.7 .5-6.9 .4-2.8 .5 2.1 .4-.1 .5 .6 .4-2.1 .5 4.1 .4-2.6 .5-.4 .4-2.3 .5 3.4 .4-3.3 .5 1.6 .4-6.2 .5 3.4 .4 1.7 .5 4.8 .4-9.3 .5 7.7 .4-1.2 .5 1 .4 .1 .5 .1 .4 3.8 .5-.4 .4-.5 .5 1 .4-1.8 .5 .8 .4-3.1 .5-3.5 .4 0 .5 2.2 .4 4.2 .5-1.7 .4-1.7 .5 2.2 .4-5.2 .5 .9 .4 2.2 .5 3.7 .4 2 .5-4 .4-2.8 .5 5.7 .4-1.9 .5 1.4 .4-7.3 .5 3.3 .4 4.3 .5-4.5 .4 .7 .5-1.7 .4 6.1 .5-8.5 .4 6 .5-7.2 .4 7.7 .5-3.1 .4 3.2 .5 1.7 .4-7.3 .5 1.5 .4-3.2 .5 5.8 .4 3.3 .5-3.9 .4-2.3 .5 .4 .4 6.4 .5-4.1 .4 .2 .5 0 .4-1.3 .5 6.1 .4 1.5 .5-3.4 .4-1.5 .5 8.4 .4-5.3 .5-5.1 .4 2.8 .5-1.1 .4-.3 .5 1.2 .4-.1 .5-.8 .4 4.6 .5-6.3 .4 7.5 .5-5.1 .4-1.6 .5-1.5 .4 6.9 .5-10.6 .4 5.1 .5 .2 .4-.9 .5-.2 .4 .3 .5-2.3 .4 3.7 .5-3.1 .4 1.5 .5-2 .4 1.1 .5 4.2 .4-5.5 .5 4.7 .4-.6 .5 .5 .4-2.8 .5-.2 .4 4.6 .5-1.5 .4-.5 .5-4.8 .4 1.3 .5 8.2 .4-6.2 .5-7.5 .4 7.6 .5 2.5 .4-3.3 .5-3.1 .4 4.7 .5-.4 .4-3.8 .5 8.5 .4-6.4 .5 1.4 .4-.4 .5 6.6 .4-5.8 .5 5.8 .4 0 .5 .2 .4 1.1 .5 1 .4-9.3 .5 5.4 .4-1 .5 1.6 .4-1.6 .5 .8 .4-2.2 .5-5.5 .4 5.3 .5 5.9 .4-7.5 .5-3.3 .4 9.6 .5-7.8 .4 8 .5-3.9 .4 1.3 .5-.7 .4 1.1 .5-4.8 .4 .5 .5 3 .4-4.2 .5-1.5 .4 .7 .5 3.9 .4-1.7 .5 4.4 .4-3.7 .5-.6 .4-1.1 .5-2.1 .4 3.4 .5-1.4 .4 3.1 .5-5.2 .4 5.4 .5-6.7 .4 3.5 .5 3.1 .4-.6 .5 .7 .4-6.5 .5 2.7 .4-5.2 .5 3.9 .4 5.3 .5-5.5 .4 3.5 .5 1.6 .4-4.2 .5-3.7 .4 1.3 .5 4.7 .4-4.1 .5 3.7 .4 1.1 .5-4.5 .4 1.3 .5 1.9 .4-3.7 .5 3.7 .4-4.2 .5 2.1 .4 3.1 .5 .6 .4-2 .5 5.6 .4-6 .5 6 .4-2.9 .5-2.1 .4 1.3 .5 0 .4 9.7 .5-6.7 .4-6.1 .5 1.4 .4 3.6 .5-5.2 .4-.3 .5-.4 .4 8.4 .5-4.7 .4-1.3 .5 2.2 .4-1 .5-3.4 .4 4.6 .5-2.6 .4 4.8 .5-5.3 .4 3.4 .5-7.7 .4 7.5 .5-.1 .4-4 .5-2.2 .4 3.5 .5-5.2 .4 2.5 .5 11.6 .4-13.2 .5 8.2 .4-5 .5 2 .4-3.5 .5 1.6 .4 1.3 .5-1 .4-1.6 .5 .9 .4 3.5 .5-6.4 .4 9.3 .5-3.6 .4 7.7 .5-5.1 .4-3.1 .5-.7 .4 3.8 .5 1.5 .4-12.6 .5 7.5 .4 2 .5 1.1 .4-4.2 .5-1.5 .4 1.9 .5-.6 .4 6.5 .5-6.5 .4-.2 .5 4.7 .4-2.7 .5 3.8 .4 2.7 .5-4.8 .4 5.4 .5-9.4 .4 .6 .5-.3 .4 3.9 .5 1.5 .4-3.5 .5-2.8 .4 .8 .5 .4 .4 4.1 .5-.7 .4 1 .5-1.2 .4-.9 .5-2.7 .4 3.8 .5-1.6 .4-1.4 .5 2 .4 4.5 .5-1.2 .4-4.5 .5 3 .4-1.8 .5-2.8 .4 .3 .5 2.6 .4-1.4 .5-7 .4 11.5 .5 .5 .4-6.5 .5 7.6 .4-2 .5-2.9 .4 1.9 .5 3.7 .4-7.9 .5 3.1 .4 .8 .5-2.3 .4 4.9 .5-6.1 .4 5.6 .5 1.8 .4-3.6 .5-1.8 .4-2.8 .5 5.3 .4-2.3 .5-1.6 .4 1.9 .5-2.1 .4 1.3 .5-2.7 .4 2.6 .5-3.2 .4 3.9 .5 1.8 .4-2.2 .5 4.5 .4-3 .5 .6 .4 3.4 .5-3.6 .4 4.5 .5-4 .4-3.1 .5 1.7 .4-2.5 .5 3.8 .4 .8 .5 3.2 .4-6 .5 0 .4 2.1 .5-1.5 .4 .7 .5-4.9 .5 4 .4-2.9 .5 1.3 .4 .2 .5 4 .4 5.9 .5-2.5 .4-7.3 .5 1.1 .4 .3 .5-.4 .4-3.4 .5 2.9 .4 2.1 .5-4.8 .4 5.4 .5-7.1 .4 1.8 .5 2.3 .4 .9 .5-2 .4 3.3 .5-6.1 .4 7.4 .5-2.6 .4-2.8 .5 3.7 .4-3.7 .5-3.8 .4 9.1 .5 .3 .4-2.3 .5-1.1 .4-2.7 .5 5.4 .4-1.5 .5 0 .4-.8 .5-3.7 .4 5.7 .5-4.2 .4 1.9 .5 .1 .4-.2 .5 2.2 .4-6.2 .5 5.3 .4 1.8 .5-4.8 .4 1.7 .5 1 .4 4.5 .5-4.3 .4 0 .5 3.6 .4-3.3 .5 .7 .4-2.7 .5 6.6 .4-2 .5-1.2 .4-5.3 .5 1.9 .4-.6 .5-1.5 .4-2.2 .5 2.3 .4-.1 .5 7.7 .4-6 .5-1 .4 7.3 .5-2.8 .4-5.2 .5-1.5 .4 .3 .5 1.7 .4-.3 .5 4.8 .4-3.4 .5 4.2 .4 1.1 .5-9 .4 9.9 .5-2.4 .4-5.3 .5 4.7 .4-1.1 .5-4.9 .4-.8 .5 2.7 .4 2.9 .5-1.7 .4-.3 .5-.7 .4 3.8 .5 3.1 .4-5.3 .5 3.9 .4-2.3 .5-4.3 .4 7.1 .5-5.5 .4 5.7 .5-1.5 .4 .2 .5-4.5 .4 5.2 .5 0 .4-1.9 .5 1.6 .4-4.5 .5 1.8 .4 1.6 .5 .6 .4 2.5 .5-9.7 .4 6.7 .5 .6 .4 6.4 .5-4.8 .4-6 .5 9 .4-7.8 .5 2.5 .4 .7 .5-1.9 .4-.1 .5-4.4 .4 8.4 .5-.9 .4-1.3 .5 .6 .4-6.4 .5 .7 .4-1.2 .5 0 .4 2.3 .5 3.1 .4-1.3 .5-1.3 .4-2 .5 1.4 .4-1.3 .5 2.6 .4-6.8 .5 6.6 .4-7.1 .5 7.7 .4-2.3 .5-3.8 .4 9.3 .5-8 .4-.3 .5 7.3 .4-7.1 .5 3.8 .4-1.9 .5 1 .4 2 .5 2.2 .4-3.8 .5 6.6 .4-4.5 .5-2.6 .4 .7 .5 1.7 .4-4.3 .5 2.1 .4 3.3 .5 1.4 .4 4.5 .5-5.2 .4-4.8 .5 6.1 .4-3.4 .5 1.2 .4 1.7 .5-4.7 .4 1.9 .5-5.1 .4 8.4 .5 1 .4-1.7 .5-6.2 .4 9.4 .5-7.5 .4 2.4 .5 1.2 .4 .5 .5-3.8 .4 6.6 .5-2.9 .4-1.5 .5-.8 .4 2.1 .5-3 .4-2.7 .5 3.8 .4 .6 .5 .9 .4-1.8 .5 .3 .4 2.8 .5 1.6 .4-7 .5 6.7 .4 0 .5-3.2 .4 6.3 .5-9.4 .4 3.5 .5 1.5 .4 .1 .5-4 .4 1.8 .5-.9 .4-2.5 .5 3.2 .4 1.3 .5-1.6 .4 6.3 .5-2.3 .4-5.7 .5 1.7 .4 1.3 .5-2.6 .4 5.7 .5-8.7 .4 1.4 .5 5.3 .4-6.9 .5 4.8 .4 3.6 .5-.5 .4-2.4 .5-1.9 .4 1.9 .5-1 .4 2.4 .5 2.7 .4-6.3 .5 1.4 .4 6.4 .5-4.4 .4 3.6 .5-2.9 .4 2.3 .5-3.9 .4 3 .5 1.8 .4-.8 .5-2 .4 1.8 .5-.2 .4-5.6 .5 .9 .4 6.2 .5-3.2 .4 .8 .5 2.8 .4-7.9 .5 6.8 .4-2.4 .5-.4 .4-7.3 .5-.8 .4 5.5 .5 1.8 .4-2.8 .5-4 .4 7.9 .5-6.4 .4 2.1 .5 5.7 .4-8 .5 .7 .4 2.4 .5 .9 .4 .9 .5 1.7 .4 4.6 .5-5.1 .4 3.1 .5-2.9 .4 1.4 .5-2.7 .4 3.2 .5-5.1 .4 3.3 .5-.5 .4-.7 .5-.3 .4 1.3 .5-3.2 .4-1.9 .5 7.4 .4-5.9 .5 1.6 .4-.9 .5 2.6 .4 1.1 .5-2 .4-2.3 .5 1 .4 1.8 .5-2.2 .4-3 .5 .9 .4 9.1 .5-9 .4 6.3 .5-2.6 .4-2.8 .5-.6 .4 2 .5 0 .4-.1 .5 3.9 .4-.2 .5 .7 .4-1.3 .5-3.6 .4 .8 .5 .2 .4 2 .5 3.6 .4-6.6 .5 4 .4-3 .5-1.6 .4 .8 .5-.5 .4 4.9 .5-2.9 .4-5.7 .5-1 .4 9.2 .5-7.3 .4 7.7 .5-.8 .4-5.7 .5 11.4 .4-7.7 .5 .3 .4 1.2 .5-.8 .4-4.7 .5 8 .4-2 .5-3.1 .4 .3 .5 3.7 .4-2.3 .5 1.7 .4-1 .5 1.9 .4-5.8 .5 3.5 .4-4.7 .5 1.9 .4 1.4 .5 0 .4-1 .5 4.9 .4-8.8 .5 6.4 .4 .5 .5-2.6 .4 2.6 .5-2 .4-4.8 .5-3.6 .4 6.4 .5 2.7 .4-.2 .5-1.1 .4 1.8 .5-7.5 .4 6.5 .5-.6 .4 2 .5-2.1 .4-3 .5 2.6 .4-6.1 .5-.9 .4 8.8 .5 .5 .4 .2 .5-.5 .4-10.5 .5 9.3 .4-1.8 .5-.2 .4 2.2 .5 8.3 .4-12.1 .5 5.5 .4-9.7 .5 9.9 .4 1.4 .5 1.1 .4-4.5 .5-.3 .4-6.9 .5 5 .4 4.5 .5-4.7 .4 2.7 .5-2 .4 5 .5 1.1 .4-8.2 .5 6.4 .4-5.9 .5-2.2 .4 8.8 .5-8.7 .4 4.7 .5-3.6 .4 .8 .5 3.2 .4-4 .5 8.8 .4-6.1 .5 2 .4-.8 .5 1.5 .4-5.2 .5 6.5 .4-2.9 .5-2.1 .4 2.4 .5 1.4 .4-2.4 .5 3.6 .4-3.7 .5 6.5 .4-3.7 .5-1.2 .4 .7 .5-1.6 .4 3.9 .5-.5 .4 .9 .5-1.7 .4-.4 .5 .6 .4-.2 .5 3.3 .4-4.9 .5 1.6 .4 1.8 .5-5.1 .4 3.6 .5-3.6 .4 5.4 .5-10.8 .4 6.1 .5 1.7 .4-4.6 .5 5 .4-2 .5 3.7 .4-6.4 .5 3.8 .4-1.6 .5 .2 .4-1.1 .5-.7 .4 10 .5-3.8 .4-8.5 .5 1.2 .4 5.3 .5-2.6 .4-2.8 .5 2.8 .4-2.9 .5 2.7 .4-4 .5 1.4 .4 7.7 .5-3.3 .4-.9 .5-4 .4 7.5 .5 1.4 .4-2.8 .5-5 .4-2 .5 4.6 .4-.3 .5-.4 .4 1.5 .5-4.3 .4-.7 .5 7.8 .4-5 .5 2.4 .4 1.9 .5-4.2 .4 .9 .5 1.2 .4 2.1 .5-.3 .4-1.5 .5-2.8 .4-.4 .5 5.2 .4-3.1 .5-3.5 .4 10 .5-3.9 .4 0 .5 .5 .4-3.8 .5 3 .4-1.6 .5 1.1 .4-3.2 .5 .2 .4-3.4 .5 6.1 .4-1.6 .5 4 .4-1.5 .5-4 .4 .2 .5 0 .4 3.6 .5-1.2 .4 .7 .5 .2 .4-1.8 .5 3.4 .4-3.7 .5 2.7 .4 2.3 .5-5.4 .4 3.7 .5-3.7 .4 3.6 .5 .6 .4-.8 .5 .8 .4-3.2 .5 1.4 .4-.3 .5 1.9 .4-4.5 .5 .1 .4-.4 .5 3.2 .4 .5 .5-2.6 .4 .5 .5-2 .4 1.1 .5 1.5 .4 2 .5-1.3 .4 .7 .5-8.2 .4 4.4 .5-3.1 .4 5 .5-1.3 .4 3.5 .5-3.2 .4 2.8 .5-5.1 .4 5.9 .5-4.4 .4-.6 .5 .6 .4-3 .5 7.3 .4-1.8 .5 4.2 .4-1.4 .5 .8 .4-1.5 .5-3.9 .4 .4 .5 6 .4-1.4 .5-7.4 .4 4.3 .5-1.3 .4 5.3 .5-4.1 .4-6.8 .5 7.9 .4-1.1 .5 .8 .4-1.7 .5 2.5 .4 2.6 .5-7 .4 1.3 .5 5.6 .4-6.1 .5-.3 .4 .9 .5-.2 .4-2.9 .5 8.5 .4 .7 .5-1.4 .4-2.9 .5-.3 .4 3.1 .5-3.5 .4 6.4 .5-3.8 .4 2 .5 2.2 .4 .8 .5-6.1 .4 2.3 .5-1.7 .4 1 .5-6 .4 2.5 .5 4.5 .4-6.8 .5 4.9 .4 .3 .5-3.3 .4 .9 .5 .6 .4 3.7 .5-5.9 .4 2.8 .5 3.5 .4-2.1 .5 4.9 .4-6.5 .5-1.1 .4 .8 .5 .5 .4 2.8 .5-7.3 .4-1.3 .5 4.9 .4-1 .5-.1 .4-5.6 .5 3.9 .4 3.6 .5-3.7 .4 2.5 .5 3.6 .4-3.3 .5 4.8 .4-8.2 .5 7.4 .4-9.4 .5 7.3 .4 .6 .5-1.3 .4 5.4 .5-8.7 .4 4.5 .5 .1 .4 5.1 .5-2.4 .4-3.3 .5 5.4 .4-5.9 .5 4.8 .4-.8 .5-1 .4-1.1 .5 2.6 .4-2 .5-3.8 .4 5.3 .5-5.8 .4 8.7 .5-4.5 .4-3.6 .5 4.7 .4-2.2 .5-.3 .4-3.1 .5-1.4 .4 2.9 .5 3.4 .4-8.4 .5 4.4 .4 .3 .5 1 .4-2.1 .5 1.2 .4-1.1 .5-.6 .4-3.7 .5 5.3 .4 4.5 .5-2.5 .4-3.2 .5 .5 .4-1 .5-4.2 .4 0 .5 4.6 .4 1.3 .5-4.5 .4 3.8 .5-.8 .4-6.9 .5 9.9 .4-3.5 .5-1.1 .4 1.9 .5-.8 .4 3 .5-3.3 .4 1.3 .5 1.4 .4-1 .5-1.5 .4 1.5 .5 .7 .4-4.4 .5 .7 .4 2.3 .5-1.2 .4-2.1 .5 5.1 .4-1.7 .5-1.4 .4 4.4 .5-4.3 .4 3.6 .5-4.1 .4 4.6 .5-7.2 .4 5.9 .5-2.8 .4 .4 .5-4.3 .4 3.2 .5 4.6 .4 1.4 .5-2.7 .4 2.6 .5-5.4 .4 1.9 .5-4.7 .4 6 .5-2 .4-3 .5 1.9 .4 2.1 .5-5.1 .4 6.4 .5-3 .4-.4 .5-1.6 .4-2.6 .5 4.2 .4 .7 .5 .2 .4-3.1 .5 2.5 .4 1.7 .5-3.5 .4 .6 .5 1.9 .4-2.2 .5 3.4 .4 1.3 .5-2.3 .4 3.5 .5-1 .4-8.4 .5 4.1 .4-2.8 .5 8.8 .4-3.4 .5 1.4 .4-2.8 .5 .9 .4 1 .5-1.3 .4 1.3 .5 2.1 .4-1 .5-1 .4-2.3 .5-2.4 .4 2.5 .5 1.1 .4-2.9 .5 6.4 .4-2 .5-.3 .4 2.7 .5-4.9 .4 .9 .5-.6 .4 4 .5-2.1 .4-.5 .5 2.8" fill="none" stroke="#000" stroke-width="3.1" stroke-linejoin="round" stroke-linecap="butt" stroke-dasharray="44 14 20 14"/>
<path d="M275.5 1890.6l.5 14.5 .4-9.6 .5 9.6 .4 20.8 .5-24.6 .4 14.5 .5-4.7 .4-10 .5 18 .4 14.9 .5-2.6 .4-15.6 .5 24.4 .4-16.4 .5-1 .4 14.7 .5-12.5 .4-3.6 .5 12.8 .4-2.7 .5-9.5 .4 17.5 .5-3.8 .4-17 .5 8.2 .4 14.2 .5-13.1 .4-17.7 .5 32.1 .4-21.3 .5 .8 .4 8.8 .5-7 .4 11.8 .5-20 .4-1.4 .5 23.7 .4-5.8 .5-3 .4 7 .5-8.7 .4 12.6 .5-14.4 .4 8 .5-2.1 .4-4.6 .5-3.9 .4 17 .5-15.6 .4-.7 .5 8.8 .4-14.5 .5 20.3 .4-1.9 .5-8.1 .4 9.4 .5-18.1 .4 10.5 .5-13.2 .4 24.2 .5-1 .4-19.8 .5 20.6 .4-18.4 .5 16.2 .4-9.3 .5-7.8 .4 10.5 .5 9.3 .4-5.7 .5-14 .4 8.1 .5-4.5 .4 5.3 .5-1.8 .4 4 .5 7.1 .4-13.3 .5 3.1 .4 18.4 .5-16.8 .4-8.2 .5-8 .4 27.8 .5-12.2 .4-3.6 .5-1.5 .4 12.4 .5-10 .4 8 .5-2.8 .4 4.3 .5-6.8 .4 6 .5-5.5 .4 3.4 .5-8.1 .4-6.1 .5 14.8 .4 5.7 .5-4.1 .4 2.7 .5 9.5 .4-13.8 .5 4.4 .4-11.4 .5 8.6 .4-8.6 .5 1.4 .4 10.4 .5-1.4 .4 1.6 .5-.7 .4-10.5 .5 10.8 .4-1 .5 2.9 .4-18.1 .5 14.1 .4-1.9 .5 5.6 .4-9.1 .5 8 .4-1.1 .5 10.9 .4-3.3 .5-14.9 .4-4.7 .5 19.4 .4-14.7 .5-.2 .4-23 .5 32.4 .4-2.7 .5 3.1 .4-15 .5-1.8 .4 10.5 .5-14.3 .4-4.7 .5 20.4 .4-8.1 .5 6 .4 3.5 .5-1.4 .4-1.8 .5 8.3 .4-9.4 .5-7 .4 13.8 .5-3.3 .4 3.1 .5-10.1 .4 3.9 .5-8 .4 9.9 .5 9.2 .4-15.8 .5 7 .4-11.2 .5 3.5 .4 26.3 .5-5 .4-15.5 .5 6.3 .4 11.7 .5-13.1 .4-14 .5 5.2 .4 12 .5-8.9 .4-5.4 .5 9.5 .4-15 .5 19.5 .4-21.6 .5 4.6 .4 8 .5 2.5 .4 1.6 .5 7.6 .4-14.7 .5-2.2 .4 3.8 .5 3.8 .4 1.3 .5 7.8 .4-2.3 .5 5.8 .4-15.2 .5 10.2 .4-13.8 .5 11 .4-16.5 .5-1.7 .4-.3 .5 2.4 .4 10.5 .5-.6 .4 2.6 .5-8.9 .4-11.1 .5 20.6 .4-27.7 .5 22.3 .4 3.9 .5-12.2 .4-6.3 .5 10.5 .4 4.5 .5-21.8 .4 21.4 .5-16.6 .4 6.1 .5 3.5 .4-3.6 .5 8.3 .4-.1 .5-11.2 .4 10.1 .5-2.3 .4-17.2 .5-2.9 .4 5.1 .5 1.6 .4 8.7 .5-2.7 .4 6.4 .5 15.9 .4-23 .5-.1 .4-5.8 .5 17 .4-17.8 .5 13.2 .4 5.6 .5-7.3 .4-8.8 .5 7.5 .4-3.3 .5 10.4 .4-10.3 .5-3.8 .4 14.6 .5-10 .4 13.8 .5-12.2 .4 13.4 .5-14.8 .4 3.2 .5 8.6 .4-11.7 .5 10.3 .4-8.5 .5 7.5 .4-11.7 .5 8.3 .4-16.1 .5 7.2 .4-1.2 .5 14.1 .4 5.3 .5-10.9 .4-21.3 .5 21 .4-17.8 .5-1.1 .4 13.9 .5-3.7 .4-12.8 .5 11.8 .4 .5 .5 .8 .4-5.7 .5 1 .4-11.2 .5 7.6 .4-8 .5 10 .4-21.4 .5 20.7 .4-.1 .5 4.9 .4 6.8 .5-7 .4-9.1 .5 9.3 .4-15.1 .5 19.5 .4-.1 .5-16.6 .4-1.1 .5 11.9 .4-18.6 .5-3 .4 7.8 .5 13 .4-21.3 .5 12 .4-1.3 .5-5.9 .4 9.3 .5-18.6 .4 17.3 .5-14.2 .4 2.3 .5-8.5 .4 10.4 .5-3.1 .4 10.4 .5-1.4 .4 3.1 .5-11.4 .4 11.7 .5-18.1 .4 13.5 .5 8.9 .4-4.5 .5-15.5 .4 13.6 .5-9.3 .4 18.1 .5-17.5 .4-3 .5 1.8 .4-2.8 .5 14.7 .4 5.2 .5-3.3 .4-18.9 .5 3.2 .4-4 .5 11.2 .4-12.3 .5 19.8 .4-17.5 .5 12 .4-5.9 .5-10.1 .4-2.7 .5 8.2 .4 .9 .5-16 .4 1.7 .5 14 .4-9.7 .5 3.2 .4-11.8 .5 3.2 .4-1.2 .5 1.6 .4 4.2 .5-16.2 .4 4.7 .5 23.1 .4-18.9 .5-7.2 .4 7.7 .5 .4 .4-3.9 .5-10.2 .4 10.7 .5-13.3 .4-10.4 .5 2.7 .4-1.5 .5 10.1 .4-14.1 .5 9.9 .4-9.1 .5 18.1 .4-23.6 .5 16.5 .4-6.8 .5-10.7 .4 9.1 .5 3.6 .4-3.9 .5-13.1 .4-1.2 .5 3.2 .4 11.6 .5-3.2 .4-11.5 .5-2 .4 13.4 .5-1.2 .4-15 .5-5.1 .4 9 .5 11.7 .4-29.2 .5 14.6 .4-5.4 .5 25.7 .4-15.7 .5-6.6 .4-6.4 .5 11.1 .4 5.4 .5-.2 .4-14.8 .5-8.9 .4-1.5 .5 19 .4-13.1 .5-8.9 .4-14.4 .5 1.9 .4 .1 .5 18 .4-34 .5 9.3 .4-7.3 .5 6 .4-9.5 .5-2.8 .4-3.6 .5 .9 .4-22.8 .5-7.6 .4 12.1 .5-1.4 .4-5.2 .5-11.4 .4-26.4 .5 13.6 .4-29.9 .5 32.8 .4-7.9 .5-9.8 .4-5.5 .5-22.6 .4-26.5 .5 24.3 .4-23.3 .5-22.7 .4-24.6 .5 20.6 .4-20.6 .5-14.5 .4 8.4 .5-15.5 .4 5.5 .5 .3 .4-12.6 .5-35.2 .4-11.8 .5 8.1 .4 14.6 .5-44.6 .4 13.2 .5-26.8 .4 19.6 .5 19.8 .4-11.1 .5 9.4 .5-29.7 .4 64.5 .5-19.4 .4 2.6 .5 33.4 .4-30.3 .5 4.3 .4 3.7 .5 7.1 .4 20.3 .5-9.3 .4 26 .5-1 .4 3.4 .5 8.4 .4 .2 .5 22.8 .4-1.1 .5 12.6 .4-2.9 .5 2.6 .4 19.9 .5-24 .4-1.4 .5 22.9 .4 10.3 .5 13 .4-2.6 .5 3.5 .4-8.8 .5 11.5 .4-6.5 .5 4.2 .4 15.4 .5 12.6 .4 .3 .5 .6 .4-10.6 .5-12.6 .4 27.5 .5-17 .4 11.9 .5-15.1 .4-9.5 .5 16.1 .4 10.7 .5 .3 .4-7.1 .5 21 .4 8.1 .5-8.4 .4-13.9 .5 29.2 .4-18.2 .5 5.3 .4 15.1 .5 8.9 .4 11.9 .5-3 .4-12.7 .5-4.2 .4 17.3 .5 1.3 .4 4.1 .5-33.8 .4 43.9 .5 2.7 .4-26.4 .5 25.1 .4-21.6 .5 21.2 .4-19.2 .5-2.9 .4 20.7 .5-4.2 .4 10.9 .5-19.8 .4 12.9 .5 6.9 .4-14.9 .5 .7 .4 4.3 .5 3.9 .4-14.9 .5 16.8 .4 2 .5-6.6 .4-8.1 .5 9.5 .4 2.7 .5 4.4 .4-2 .5-.8 .4-26.8 .5 40 .4-12.6 .5-4.2 .4 11.1 .5 4.6 .4-16.4 .5-6.7 .4 4.5 .5 12.8 .4 6.4 .5-9.4 .4 25 .5-6.7 .4-21.7 .5 11.8 .4 4 .5 4.6 .4 3 .5 5.5 .4-13.3 .5 1.5 .4 .5 .5 29.7 .4-36.1 .5 4.7 .4-6.5 .5 21.2 .4 16.2 .5-7.9 .4-3.4 .5-27.2 .4 27.3 .5-1.9 .4-13.1 .5 2 .4 .3 .5 14.7 .4-20.8 .5 15 .4 12.9 .5-10.6 .4 18.1 .5-.4 .4-4.2 .5 5.8 .4-5.4 .5 2.5 .4-.7 .5 4.6 .4-17.1 .5 20 .4-3.3 .5 4.2 .4-2 .5 7.1 .4-29.4 .5 21.9 .4-8.9 .5 11.2 .4 8.9 .5-6.2 .4 2.1 .5 5.3 .4-11 .5-12.3 .4 12.8 .5-6.7 .4-1.5 .5 28.1 .4-31.9 .5 27.8 .4-25.9 .5 14.2 .4-2.6 .5-12.8 .4 10.4 .5 22.7 .4 2.4 .5-4.2 .4-17.3 .5 6.6 .4-3.8 .5 4.8 .4-5.4 .5 19.3 .4 7.4 .5-8.3 .4-10.8 .5 15.6 .4 11.5 .5-13.2 .4-8.6 .5 3.1 .4 7 .5 2.4 .4 13.5 .5-14.9 .4-13.6 .5 19.6 .4-15.1 .5 23.2 .4-5 .5 1.9 .4-2.1 .5 14.9 .4-21 .5 12.9 .4 15.2 .5-19.4 .4 5.2 .5 11.9 .4-7.2 .5-5.6 .4 2 .5 3.6 .4 8.2 .5-6.2 .4-6.5 .5-5.9 .4 11.6 .5-1 .4-.9 .5 9 .4 10.7 .5-8.2 .4-2.5 .5-2.7 .4 1.8 .5 5.5 .4-1 .5-1.8 .4 4.8 .5 .1 .4 6.5 .5-8.9 .4-2.7 .5 5.7 .4-2.2 .5-1.9 .4 8.5 .5-2.6 .4 2.2 .5-8.9 .4 11 .5-7.4 .4 14.1 .5-25 .4 8.1 .5 9.2 .4-4.9 .5-12.9 .4 11.8 .5 10.4 .4-9.5 .5 2.9 .4-6.6 .5 2.2 .4 11.5 .5-12 .4-4.6 .5-2.7 .4 7.1 .5-9.5 .4 3 .5 4.8 .4-4.5 .5 26.5 .4-23.5 .5-.8 .4 10.5 .5-5.3 .4 10 .5-2.5 .4 .7 .5 6.1 .4-4.6 .5 10.3 .4-9.6 .5-10.8 .4-.6 .5 12.5 .4-10.4 .5 8.9 .4 10.9 .5-3.4 .4-2.9 .5 .3 .4-3.6 .5 8.9 .4-1.3 .5-8.4 .4 6 .5-1.3 .4 3.3 .5-4.3 .4 .1 .5 9.5 .4-11.2 .5 10.9 .4-5.7 .5 4.1 .4-5.6 .5 2.4 .4-1.7 .5 2.6 .4 1.5 .5-1.9 .4 1.2 .5 4.7 .4 4.2 .5-12.4 .4-4.5 .5 13.1 .4-8.7 .5 6.4 .4-4.8 .5-4.1 .4 2.8 .5 3.4 .4 9.7 .5-10.1 .4-1.1 .5-7.3 .4 10.9 .5-3.5 .4-1.8 .5-6.1 .4 13.8 .5-11.5 .4 5.1 .5 3.2 .4 3.9 .5-2.3 .4-10 .5 7.6 .4 2.5 .5-2.9 .4-9.5 .5 2.1 .4 1.2 .5-.6 .4 1.4 .5 6.8 .4 4.1 .5-12.5 .4 7.8 .5-1.1 .4 3.6 .5-5 .4-4.3 .5 9.9 .4-2.8 .5 .7 .4-3 .5 3.9 .4-.1 .5 3.6 .4-3.2 .5 4.2 .4-7.7 .5 4.9 .4-9.4 .5 12.6 .4 2 .5-10.2 .4 1.7 .5 10.8 .4-21 .5 14.9 .4-6.8 .5 8.1 .4-5.6 .5-2.1 .4 8.5 .5-4.3 .4-2.7 .5-6.1 .4 5.7 .5-2.2 .4 4.3 .5-.6 .4 .6 .5 4 .4 8.4 .5-.8 .4-10.6 .5-.7 .4 2.2 .5 3.3 .4-.4 .5 3.9 .4-12.4 .5 14.7 .4-16.8 .5 10.8 .4-15 .5 10.8 .4 4.4 .5-1.8 .4 3.5 .5-9.7 .4 8.4 .5-.8 .4 6.3 .5-6.8 .4 11.1 .5-3.6 .4-9 .5 17.3 .4-11.3 .5-3.8 .4 5.9 .5-6.2 .4 1.7 .5 4.3 .4 10.9 .5-5.2 .4-.3 .5-6.3 .4 5.7 .5 1.3 .4 5.1 .5-5.2 .4-2 .5 13.3 .4-11.7 .5-2.1 .4 3.3 .5-.6 .4 2.1 .5-7.2 .4 7.1 .5-8.6 .4 4.1 .5 11 .4-7.9 .5-2.9 .4-2.7 .5 3.5 .4 1.1 .5-4.6 .4-3.7 .5 16.3 .4-5.7 .5-11.1 .4 6.6 .5 6 .4-13 .5-1.3 .4 10.4 .5-4.8 .4 3.5 .5-1.8 .4-3 .5 5.9 .4-1 .5 1 .4 6.6 .5-10.3 .4-1.9 .5 3.2 .4 .5 .5-3.6 .4 7.1 .5 1.6 .4-7.1 .5 1.4 .4-7.5 .5 14.8 .4-6.5 .5 5.6 .4-15.7 .5 11.8 .4-5.5 .5 14 .4-5.8 .5-8 .4 5.6 .5 1.1 .4-5.9 .5 2.7 .4 .1 .5-.5 .4 3.5 .5-9.2 .4 2.5 .5 5.4 .4 1.2 .5 7 .4-3.2 .5-11 .4 11.6 .5-3.3 .4-9.3 .5 2.9 .4 3.5 .5-.1 .4 3.5 .5-2.1 .4 .8 .5-5.7 .4 2.7 .5 6.9 .4-9.5 .5 2.6 .4-1.1 .5-.6 .4 2.2 .5 2.6 .4-5 .5 .6 .4 6.2 .5-.4 .4-2 .5-1.3 .4 2.3 .5 5.8 .4-11.6 .5 8 .4 2 .5-1.6 .4-4.2 .5 1.1 .4 9 .5-3.4 .4 .1 .5-3.7 .4-4 .5 3.5 .4-11.5 .5 4.8 .4-2.5 .5 3.3 .4 8.9 .5-7.5 .4 8.7 .5-1.9 .4-5.1 .5 1 .4-2.3 .5 4 .4-5.6 .5 1.4 .4 2.2 .5 4.9 .4-.4 .5-7 .4-7.7 .5 14.5 .4-2.6 .5 4.7 .4 6.9 .5-13.1 .4 2.1 .5-2.1 .4 5.8 .5 1 .4-9.9 .5 10.5 .4-6.9 .5-1 .4 4.3 .5 2.5 .4-3.3 .5 8.6 .4-6.2 .5 .6 .4 4.5 .5-4.7 .4-4.9 .5-6 .4 14.6 .5-6.5 .4 .1 .5 3.1 .4 1.2 .5-4.5 .4-1 .5 9.2 .4-12.4 .5 7 .4-1 .5 2.8 .4-7.5 .5 10.7 .4-3.5 .5-2.6 .4 4.4 .5-2.8 .4-3.1 .5-2.7 .4 5.7 .5 1.4 .4-3.8 .5 1.6 .4 4.9 .5-7.7 .4 4.9 .5 2.7 .4-7.6 .5 1.7 .4 5.7 .5-6 .4 5.8 .5-.6 .4 1.8 .5-7.6 .4 4 .5-3.1 .4 7.7 .5-3.7 .4 5 .5-4.3 .4-1.2 .5-.9 .4 5.4 .5-10.6 .4 11 .5-11.6 .4 5.3 .5-4.8 .4 8.5 .5-4.6 .4-1.8 .5-6.4 .4 7.3 .5-5.3 .4 5.8 .5-4.1 .4 5.9 .5-.2 .4-3.3 .5 9.1 .4 1.6 .5-7.1 .4-7.8 .5 2.8 .4 5.6 .5-2.1 .4 1.6 .5-.7 .4-4.2 .5 10.3 .4 .1 .5 3 .4-4.4 .5-7.7 .4 4.4 .5 5 .4-2.7 .5-.6 .4-6 .5 2.2 .4 .4 .5-3.2 .4 2.8 .5-2.2 .4 7.7 .5 .7 .4-2.3 .5-9.5 .4 12.7 .5-5.2 .4-1.3 .5 6 .4 1.1 .5-13 .4 8.8 .5 .9 .4-2.9 .5 1 .4 6.1 .5 1.2 .4-6 .5 2.3 .4-2.9 .5 4.4 .4-14.8 .5 8.3 .4-6.1 .5 9.8 .4-1.5 .5 1.6 .4-2.1 .5-1.4 .4 3.9 .5 2.4 .4-1.3 .5-1.7 .4-3.8 .5 9.6 .4-2.8 .5-4.4 .4-3.6 .5 7.1 .4-2.8 .5 2.1 .4 .2 .5-1.5 .4 2.6 .5-1.2 .4 .2 .5-7.5 .4 6 .5-6.6 .4 6.7 .5-1.2 .4 3.6 .5-4.1 .4-4.8 .5-.8 .4 10.3 .5-13.7 .4 8.3 .5-.7 .4-1.8 .5 3.8 .4 3.7 .5-3.3 .4 1.9 .5-8.5 .4 7.5 .5 9.1 .4-13.4 .5 3.1 .4 2.8 .5 7.3 .4-19.5 .5 14 .4 .2 .5 1.1 .4-2.8 .5 1.1 .4-1.5 .5-.5 .4 1.8 .5-4.1 .4 8.2 .5-7.5 .4 2.1 .5 1.3 .4-2.7 .5 1.8 .4 .1 .5 2.5 .4 1.5 .5 2.4 .4-.9 .5-2.4 .4-5.5 .5 3.8 .4-1.4 .5 4.4 .4 1.7 .5-6.2 .4-8.6 .5 12.8 .4-9.3 .5 9.2 .4 .1 .5-1.2 .4-.5 .5-6.4 .4 2.2 .5 .2 .4 2.1 .5-5.6 .4-3.5 .5 5.5 .4 2.2 .5 2.4 .4-2.9 .5 3.3 .4-9.8 .5 7.7 .4-7.2 .5 8.7 .4-7.9 .5 1 .4-.7 .5 1.7 .4 5 .5-13.9 .4 15.3 .5-9.3 .4 4.9 .5 3.5 .4-6.9 .5-2.2 .4 1.7 .5 8.9 .4-1.9 .5-4.6 .4 .9 .5-1.6 .4 4.5 .5 6 .4-1.6 .5-5.2 .4 5.1 .5 1.5 .4-7 .5-2.6 .4 7.6 .5-1.6 .4-.1 .5-3.7 .4 4.4 .5 .1 .4-.7 .5 4.3 .4-9.2 .5-.8 .4 5.4 .5-.2 .5-.3 .4 .8 .5 2.9 .4-5.1 .5 0 .4-1 .5 7.5 .4-4.1 .5 5.5 .4-11.2 .5 12.2 .4-4.9 .5-6 .4 11.9 .5-6.6 .4 6.5 .5-9.3 .4 4.6 .5 .8 .4 1.3 .5-5.4 .4 1.4 .5-2.1 .4-.6 .5 5 .4-3.1 .5-3.8 .4 2.7 .5 .4 .4 1 .5 2 .4-1.7 .5 .3 .4-9 .5 9.9 .4 2.6 .5-4.9 .4 2.2 .5 1.5 .4-5.2 .5 3.6 .4 2.2 .5-4.9 .4-5 .5 2.3 .4 3.7 .5-.3 .4 1.1 .5-2.8 .4 3.2 .5-2.2 .4 1.7 .5-1.4 .4 7.7 .5-7.2 .4 1.9 .5-.9 .4-2.6 .5 5.8 .4-1.5 .5-3.7 .4 .4 .5-3.1 .4 2 .5 7 .4-7.1 .5 2 .4-1 .5-3 .4 3.2 .5 1.2 .4 5 .5-4 .4-4.3 .5 1.1 .4 6.2 .5 .7 .4-3.4 .5-2.9 .4 4.3 .5-7.2 .4-2.6 .5 11.5 .4-10.9 .5 .4 .4 14.1 .5-1.3 .4-5.1 .5-.5 .4 3.1 .5-3 .4-2.7 .5 5.9 .4 4.8 .5-6.8 .4-3.9 .5-2.4 .4 1.4 .5 13.3 .4-5.5 .5-3.8 .4 2.6 .5-4.9 .4 .3 .5-1.6 .4-1.9 .5 6.8 .4-8.1 .5 11 .4-1.2 .5 .1 .4-.8 .5-5.4 .4-3.6 .5 11 .4-7.8 .5-1.7 .4 3.2 .5 7.9 .4-8.7 .5-1.6 .4 9.2 .5-4.5 .4-5.5 .5 2.4 .4-2.8 .5-.5 .4 8.8 .5-.2 .4-7.2 .5 4.3 .4-4 .5 1.1 .4 5 .5-5.9 .4 1.8 .5 4 .4-.2 .5 .4 .4-2.8 .5-2.1 .4 1.6 .5 2.7 .4 4.3 .5-4.9 .4 .8 .5 2 .4 .9 .5-8.3 .4 .3 .5 10 .4-8 .5 2 .4-4.7 .5 9 .4-6.1 .5 5.3 .4-1.1 .5-1.5 .4-2.5 .5 2.8 .4 5.8 .5-8.1 .4 2.9 .5 .7 .4 5.2 .5-4.4 .4-5.4 .5-.4 .4 2.7 .5 4.6 .4-5.6 .5 5.5 .4-5.6 .5 4.5 .4 3.4 .5-6.7 .4 .7 .5 0 .4 3.7 .5 .5 .4-7.3 .5 3.9 .4-5.7 .5 0 .4 9.2 .5-2.4 .4 8.6 .5-9.5 .4 2 .5-3 .4 1.9 .5 .6 .4 1 .5-.2 .4-6.8 .5 1.9 .4-5.1 .5 4.6 .4 4 .5 .3 .4-7 .5 11.9 .4-6.6 .5 1 .4 6.6 .5-10.6 .4 3.8 .5 .9 .4 2.4 .5-2.5 .4 .5 .5-3.7 .4 4.8 .5-9.1 .4 10.4 .5-2.4 .4 2.8 .5-4.8 .4 4.4 .5-6.2 .4 1.5 .5 2 .4 7 .5-5.6 .4 .2 .5-2.4 .4 6.7 .5-7 .4-.3 .5 2.3 .4-1.4 .5 2.4 .4-5.1 .5 6.8 .4-1.9 .5-11.1 .4 8.5 .5-.3 .4 2.7 .5-2.5 .4-1.9 .5 4.6 .4 .7 .5-3.5 .4-6.9 .5 6.2 .4-9.7 .5 4.5 .4 1.8 .5 3.6 .4-3.3 .5-8.1 .4 14.2 .5-5.8 .4-4.2 .5 2.3 .4 2.9 .5 1.9 .4-4.5 .5 8.9 .4-11.6 .5 8.8 .4 3.9 .5-5.4 .4-.3 .5 .8 .4 4.4 .5-2.8 .4-4.8 .5 1.4 .4-2.4 .5 3.4 .4 4.2 .5-2.4 .4-1.1 .5-.4 .4-.2 .5 .2 .4-1.3 .5-.1 .4 5.1 .5-6.4 .4 1.7 .5 3.3 .4-1.8 .5 1.3 .4-1.3 .5 6.7 .4 .1 .5-8.9 .4 3.9 .5-5.7 .4-.4 .5 3.8 .4-5.1 .5 9.2 .4-3.7 .5 4.9 .4-4.6 .5-3 .4 3.2 .5-.3 .4 4.4 .5-3.9 .4 3.5 .5-2.7 .4 2.8 .5-5.2 .4 1.1 .5 .7 .4-1.3 .5-1.5 .4 4.1 .5 2.2 .4-.3 .5-7.4 .4 4.1 .5 4.7 .4-.3 .5-7.4 .4 4.6 .5-6.5 .4 .6 .5 5.7 .4 0 .5 2.1 .4-5.5 .5 7 .4-5.9 .5 2.7 .4-6.1 .5 6.1 .4 1.4 .5-4.4 .4 5.2 .5-5.4 .4 3.2 .5 1 .4-.8 .5-.2 .4 3.2 .5-5.9 .4 2.2 .5 1.7 .4-6.1 .5 3.4 .4-4.4 .5 11 .4-10 .5 3.9 .4-4.9 .5 5.2 .4 1.9 .5 .6 .4-3.2 .5 6.5 .4-3.7 .5 2.2 .4-10.6 .5 6 .4 2.6 .5 8.7 .4-9 .5 1.7 .4-1.7 .5-.3 .4 2.4 .5 1.8 .4-3.3 .5-.7 .4-.3 .5-.3 .4-1.6 .5 3.9 .4-5.6 .5 3.9 .4-1.9 .5 1.9 .4-2.3 .5-4.3 .4 3.4 .5 1.1 .4 .1 .5 2.2 .4 2.1 .5 2.8 .4-7 .5-1.2 .4-.5 .5 8.3 .4-3.4 .5-3.9 .4 2.7 .5-3.6 .4-.7 .5 7 .4-6.8 .5 3 .4 1.3 .5-2.7 .4 3 .5 3.1 .4-8 .5 .9 .4 0 .5 1.1 .4 4.9 .5-4.5 .4-5.3 .5 3.9 .4 1 .5-.7 .4 1.4 .5-.9 .4 .1 .5 2.1 .4-1.5 .5-.5 .4-.4 .5-7.7 .4 8.7 .5 2.7 .4-3.6 .5 4.9 .4-11.4 .5 7.4 .4-1.6 .5-1.3 .4-2.4 .5 4.5 .4-3 .5 1.7 .4-.7 .5-2 .4 3.9 .5-6.7 .4 5 .5-3.2 .4 4.6 .5-1.6 .4 2.5 .5-4.8 .4 2.6 .5 2.2 .4 1.4 .5-10.2 .4 5.5 .5-.7 .4-1.6 .5 2.4 .4-2.5 .5 4.5 .4-1.1 .5-4.4 .4 9.2 .5-4.1 .4 2.5 .5-6.7 .4 5.9 .5-1.4 .4 .3 .5 3.2 .4-1.6 .5 1.2 .4-4.9 .5 5.1 .4-5.5 .5 2.6 .4-1.3 .5-1.4 .4 1.5 .5 1.7 .4 3.7 .5-1.3 .4-.6 .5-1.7 .4 2.6 .5 1 .4-6.3 .5 4.6 .4 0 .5 4 .4-.3 .5-.1 .4 1.7 .5-2.9 .4-.8 .5 3.1 .4-.7 .5-4.6 .4 8 .5-4.5 .4-5.1 .5 1.9 .4 .4 .5-3.3 .4 1 .5 1.9 .4 4.2 .5 2 .4-1.5 .5-6.5 .4 6 .5-.6 .4-4.8 .5 4.4 .4-2.1 .5 5.4 .4-2.3 .5 .2 .4 .4 .5 2.8 .4-2.3 .5-5.1 .4 2.3 .5-2 .4 4.7 .5-7.9 .4 7.6 .5-.9 .4-2.5 .5 2.7 .4-2.1 .5-4.2 .4 3 .5 2.8 .4-5.2 .5 5.5 .4-.6 .5-2.3 .4-.3 .5 7.4 .4-7.5 .5 2.6 .4 2.3 .5 0 .4-.3 .5 1.4 .4-7.6 .5-1.5 .4 4.6 .5-.4 .4-.1 .5-3.5 .4 2.3 .5-4.1 .4 3.8 .5-2.9 .4 9.2 .5-1.7 .4-3.4 .5 1.2 .4 1.9 .5 .9 .4 1.2 .5-4.7 .4 1.2 .5-3.5 .4 3.9 .5-2 .4-1.6 .5-1 .4 3.9 .5-1.7 .4-5.6 .5 12.4 .4-8.3 .5-.1 .4 1.8 .5 4.5 .4-5.4 .5 1.9 .4-.7 .5 1 .4 .8 .5-3.3 .4 3.9 .5-6.5 .4 2 .5 1.7 .4-1.7 .5-2.5 .4 3.4 .5-3.6 .4-5.5 .5 7.3 .4-1 .5 3.2 .4-1.8 .5 2.4 .4-6.9 .5 7.1 .4-3.8 .5 3.8 .4-2.1 .5 3.3 .4 .5 .5-7.2 .4 1 .5 2.5 .4 1.9 .5-.6 .4 3.1 .5-3.9 .4-3.7 .5 6.9 .4-9.6 .5 6.6 .4-3.9 .5 3.2 .4 5.1 .5 .7 .4-8.3 .5 .8 .4 6.7 .5-9.2 .4 6.9 .5-10.6 .4 11.5 .5-4.3 .4 2.8 .5 2.7 .4-4.5 .5 4.9 .4 .6 .5-2.7 .4 4.3 .5-.3 .4-3.2 .5-1.9 .4-2.1 .5-1.5 .4 4.4 .5-5.7 .4 4 .5 1.5 .4-3.7 .5-.8 .4 4 .5 1.5 .4-2.5 .5 1.5 .4 4.2 .5-3.9 .4 .2 .5-.5 .4-.7 .5-2.5 .4 6.6 .5-3.1 .4-1.9 .5 9.8 .4-11.3 .5 3.2 .4-8 .5 5.8 .4 5.1 .5-3.2 .4 1.1 .5-2.5 .4 5.8 .5-5.6 .4 1.4 .5-.3 .4-2.5 .5 .8 .4-5.9 .5 5 .4-1.5 .5 4.1 .4 0 .5-6.9 .4 6.4 .5 2 .4 .2 .5-1 .4 .9 .5-.9 .4-6.1 .5 4.7 .4-2.1 .5-4.6 .4 8.6 .5 .1 .4 3.5 .5-8.4 .4 2.5 .5 6.7 .4-9.2 .5 1 .4 11.5 .5-4.5 .4-6.1 .5 5.8 .4-2.3 .5-2.7 .4 .9 .5 2.6 .4-3.9 .5-2.2 .4 4.9 .5-9.5 .4 6.1 .5 .5 .4 4.9 .5-.9 .4-.5 .5-5.5 .4 5.7 .5-7.2 .4 .9 .5 4.7 .4-1.7 .5-5.1 .4 7.2 .5 4.3 .4-4.7 .5-2.6 .4-2.4 .5 1.4 .4-6.1 .5 4.5 .4 2.3 .5-2.5 .4 0 .5 3.2 .4-1.6 .5 .7 .4 1.4 .5 .9 .4 3.5 .5-2.7 .4 2.6 .5-4.8 .4 2.1 .5 4 .4-2.9 .5 .7 .4 3.5 .5-2.2 .4-2.3 .5-4.1 .4 4.6 .5-1.6 .4-2.6 .5 .8 .4 2.9 .5-1.5 .4 2.6 .5 .5 .4-1.1 .5-.4 .4-2.6 .5 1 .4-.8 .5 7.7 .4-3.8 .5-.8 .4 3.3 .5 3.3 .4-8.5 .5-5.1 .4 9.3 .5-3.7 .4-5.4 .5 5.8 .4 .1 .5 2.7 .4-3.2 .5-3.2 .4-.5 .5 3.6 .4-3.8 .5 6.5 .4-2.2 .5-2.4 .4-.1 .5-2.3 .4 3.6 .5 5.7 .4-9.9 .5-2.5 .4 4.6 .5 2.3 .4 .8 .5-1.6 .4 4.6 .5-4.5 .4 1.7 .5 3.6 .4-4.9 .5-1 .4-3.8 .5 5.3 .4-4.8 .5 6.5 .4-.5 .5-2.4 .4 3.3 .5-2.8 .4 2.8 .5 0 .4-1.1 .5-3.6 .4 2 .5 1.4 .4-6.3 .5 4.8 .5-2.5 .4 1.2 .5-1.5 .4 2.5 .5 1.8 .4-2.9 .5-.2 .4-.6 .5 .5 .4 .2 .5 4.4 .4-5.7 .5 .2 .4 3.3 .5-1 .4 .6 .5-3.7 .4 8.8 .5-3.6 .4-2.5 .5 6.6 .4-2.8 .5-6.8 .4 8.8 .5-3.6 .4 2.2 .5-2.1 .4 1.8 .5-2.9 .4 4.6 .5-9.4 .4 3.6 .5-.1 .4 2.1 .5-2.1 .4 1.1 .5-2.5 .4 2.5 .5-.1 .4-5.1 .5 .8 .4-1.8 .5 2 .4 7.6 .5-6.4 .4-1 .5 1.6 .4-2.2 .5 .1 .4 2.2 .5-.6 .4 1.6 .5-3.9 .4 7.7 .5 .4 .4-6.8 .5 7.5 .4-6 .5 1 .4-3.4 .5 6.3 .4 0 .5-2.5 .4 0 .5 1.8 .4 .3 .5-2.7 .4-2.3 .5 8.3 .4-8.8 .5 1.1 .4 2.7 .5 1.6 .4-1 .5 3.8 .4-5.9 .5 .3 .4 .1 .5-1 .4 4.5 .5-6.1 .4 3.1 .5-.7 .4-.5 .5 .1 .4-1.4 .5 1.7 .4 .2 .5 3.1 .4-.8 .5 3 .4-4.7 .5 1.6 .4-.5 .5-1.8 .4 2.9 .5-4.7 .4 7.4 .5-7.3 .4 1.1 .5 4.2 .4-2 .5-1.5 .4 4.4 .5-2.3 .4-2 .5 1.3 .4 2.4 .5 3.2 .4-6.1 .5-.3 .4-2.5 .5 2.3 .4 5.9 .5-.6 .4 1.3 .5-5.8 .4 2.4 .5-.9 .4 2.1 .5 3.2 .4-5.2 .5 5.7 .4 1 .5-2.8 .4-3.9 .5-2.5 .4 2.8 .5 .6 .4-1 .5-1.1 .4-.9 .5 5.9 .4-.6 .5-10.4 .4 12.4 .5 2.6 .4-4.7 .5-.3 .4 .8 .5-7.3 .4 1.5 .5 5.4 .4-9.8 .5 8 .4-1.9 .5 2.7 .4 .1 .5-4.1 .4-3.2 .5 2.3 .4 1.5 .5 .7 .4-4.7 .5 7.9 .4-3.4 .5 1.8 .4-2 .5 .1 .4 1.3 .5 1.1 .4-4.4 .5-5.1 .4 5.1 .5 1.4 .4 1.9 .5-4 .4 .5 .5-4.4 .4 6.6 .5-5.3 .4 7.1 .5-3.6 .4-.8 .5 3.8 .4 3.8 .5-5.4 .4-.4 .5-2.4 .4 .5 .5-1.8 .4 7.9 .5-7.2 .4 3.4 .5-.9 .4 8 .5-6.9 .4 1.1 .5-.1 .4-7.1 .5 9.4 .4-.8 .5-1.8 .4-.2 .5 4.1 .4 .2 .5-3.3 .4 3.4 .5-5.2 .4 3.2 .5 2.6 .4-6 .5 .4 .4-.3 .5 1.4 .4-1.3 .5 2.6 .4 3.9 .5-3.9 .4-.2 .5 .5 .4-2 .5-4.1 .4 2.4 .5 .9 .4-.5 .5 4.5 .4-8.4 .5 5.1 .4-3.4 .5 .6 .4-.1 .5-2 .4 4.7 .5-2.8 .4 3.2 .5-.5 .4 5.9 .5-6.3 .4 .4 .5-1.1 .4 3.4 .5 .7 .4-4.1 .5 1.6 .4-2 .5 4.4 .4 1.5 .5-5.6 .4 .5 .5 .3 .4-.4 .5 .7 .4 1 .5 2.3 .4-2.9 .5 .9 .4 .9 .5 3.1 .4-2.5 .5-2.6 .4-.4 .5 6 .4-6.5 .5 4.4 .4-4.4 .5 3.4 .4 2.4 .5-5.6 .4 7 .5-5 .4 1.1 .5-1.3 .4-.4 .5 .7 .4-2.4 .5 7.8 .4-6.6 .5-1.4 .4 7.7 .5-.1 .4-2.3 .5 1.4 .4-5.8 .5 1.1 .4 3.4 .5-.5 .4-6.1 .5 6.2 .4 .4 .5-7.5 .4 1.8 .5 4.5 .4-3 .5 6.3 .4-7.3 .5-5.6 .4 9.3 .5-3.2 .4 2.2 .5 2.2 .4-2.3 .5 1.1 .4 2.2 .5-3.8 .4-.8 .5-.7 .4 .4 .5 .1 .4 .6 .5 1.3 .4 2.9 .5-3.9 .4 1.2 .5 2.7 .4-3.7 .5-1.9 .4-2.4 .5 6.6 .4-5.9 .5 5.5 .4-2.6 .5-3 .4 3.6 .5 1 .4 1.8 .5-5.9 .4 5.4 .5-2.9 .4 .7 .5-1.5 .4-2.9 .5 2.4 .4-4.4 .5 .8 .4 5.1 .5 3.1 .4-2.9 .5 .1 .4-4.9 .5 3.8 .4-1.8 .5 5.8 .4-5.8 .5-3 .4 4.2 .5 2.6 .4-1.9 .5-1 .4 .3 .5 .1 .4-.6 .5 3.2 .4-1.4 .5 .5 .4 .1 .5 4.3 .4-5 .5-.6 .4 4.8 .5-7.6 .4 5.1 .5-.1 .4-1.6 .5 1.3 .4-2.4 .5-.2 .4 9 .5-5.9 .4-2.5 .5 1 .4-.6 .5 1.7 .4 1.4 .5 2.6 .4-8.2 .5 3.9 .4 .2 .5-.2 .4 1 .5-.6 .4-2.7 .5 1.9 .4 4.7 .5-3.3 .4 1 .5-1.2 .4 .4 .5-4.3 .4 7.2 .5-5.1 .4 .2 .5 3 .4 2.6 .5-4.2 .4 4.1 .5-7.7 .4 1.5 .5 8.2 .4-6.8 .5 1.4 .4 1.1 .5 .1 .4-6.7 .5 6.8 .4-.3 .5-4.9 .4 3.2 .5 4.5 .4-12.3 .5 6.9 .4 3.6 .5-9.9 .4 6.4 .5 .5 .4 1.9 .5-3 .4 1 .5 .6 .4-2.8 .5 3.9 .4 2.2 .5 .8 .4-5.2 .5 1.2 .4 2.2 .5-4.2 .4 1.2 .5 3.5 .4 2.1 .5-2.4 .4 1.5 .5-2.7 .4-1.3 .5-.7 .4 7.4 .5-4.7 .4-2.5 .5-.4 .4 .7 .5 1.7 .4-1.4 .5-2.7 .4 3.6 .5 1.1 .4-3.7 .5-.4 .4 5.1 .5-1.2 .4 2.1 .5-3.5 .4-1.3 .5 1.7 .4 1.9 .5 .1 .4-2.8 .5-2.3 .4 1.9 .5 .4 .4-3.5 .5 4.4 .4 .1 .5 1.9 .4-6.2 .5 .9 .4 3 .5-.9 .4 3.7 .5-1 .4-2.4 .5-1.3 .4 8.4 .5-10.6 .4 1.9 .5 5.2 .4-3.9 .5 2 .4 .6 .5-.4 .4 0 .5-1.8 .4-.3 .5-2.2 .4 3.1 .5 1.6 .4-2.6 .5-1 .4 1 .5-3.2 .4 4.2 .5 2.7 .4-5.2 .5-.2 .4 1.8 .5-.3 .4 3.1 .5-2.5 .4-1 .5 1 .4 3.2 .5-4 .4 2.6 .5-3.2 .4 .5 .5-1.4 .4 4.1 .5-2.9 .4-.5 .5 .4 .4-2.5 .5 5.8 .4-5 .5-.6 .4 2.6 .5 2.8 .4-2.5 .5-.4 .4-.3 .5-2.4 .4 1.2 .5 5.7 .4-6.7 .5 7.4 .4-2.8 .5 2.8 .4-5.7 .5 2.4 .4-4.2 .5 4.8 .4-2.3 .5-3.7 .4 4.9 .5-4.1 .4 2.4 .5 .6 .4 3.9 .5-3.5 .4-4.7 .5 4.8 .4-1.4 .5-2.5 .4 5.5 .5-1.9 .4 0 .5 1.9 .4-3.1 .5-2 .4 1.9 .5 1.5 .4-.5 .5 4.8 .4-5.6 .5 3.8 .4-5.4 .5 4.9 .4-4.8 .5 4.2 .4-.2 .5 3.1 .4-5.3 .5 .2 .4-1.9 .5 5.1 .4 2.3 .5-6.5 .4 9.4 .5-3.9 .4-5.1 .5 3 .4 3.3 .5-2.6 .4-4.1 .5 4.2 .4 .7 .5-3.8 .4 4.8 .5-1.9 .4-2.8 .5 8 .4-2.3 .5-3.9 .4 2.3 .5-5 .4 5.1 .5-.5 .4 4 .5-.9 .4-7 .5 5.9 .4-2.7 .5 1.4 .4-7.2 .5 10.5 .4-6 .5 1.4 .4 2.6 .5-2.1 .4-2.6 .5-6.1 .4 3.9 .5 1.7 .4 1 .5 4.2 .4-.2 .5-5.2 .4 5.4 .5-7.2 .4 1.5 .5-2.4 .4 2.9 .5 3.3 .4-5.6 .5 6 .4-2.7 .5 .7 .4 1.8 .5-1.7 .4-.5 .5 2.6 .4-6.2 .5 5.4 .4-.2 .5-2.3 .4 2.2 .5-.6 .4-.6 .5 5.1 .4-9.6 .5 7.7 .4 1.7 .5-5.6 .4-.3 .5 .5 .4 2.7 .5 0 .4-2.7 .5 .2 .4-3 .5 2.7 .4-1.7 .5 1.6 .4 4.6 .5-2.4 .4-6.4 .5 3.3 .4-2.6 .5 3.4 .4 .2 .5 1.4 .4-4.2 .5-1 .4 6.7 .5-2.9 .4 2.9 .5-2.2 .4 4.5 .5-.2 .4-5.1 .5 1 .4 .9 .5-4.1 .4 5.8 .5-1.5 .4-3.9 .5 3.3 .4 1.3 .5-4.2 .4 2.9 .5 .4 .4 2.2 .5 .6 .4 .2 .5-1.9 .4-2 .5-1.9 .4 4.7 .5-4.6 .4-3.2 .5-.2 .4 5.2 .5-8.7 .4 5 .5-.8 .4-1.7 .5 7.3 .4-1.6 .5-1.1 .4-.9 .5 3.9 .4-5.3 .5 4 .4-2.4 .5-1 .4 3.6 .5-5.6 .4 6.1 .5 3.4 .4-8.6 .5 3.2 .4 4.2 .5-3.4 .4-1.9 .5 1.4 .4-2.2 .5 4.3 .4-2.4 .5 1.3 .4-.1 .5-1.8 .4-1.9 .5 3.6 .4 .6 .5-2.9 .4 1.4 .5 6.9 .4-5.5 .5 1.2 .4 1.4 .5-.8 .4 .2 .5-6.9 .4 6.8 .5-.4 .4 4.2 .5-4.5 .4-2.7 .5 3.8 .4-3.1 .5 .5 .4 .8 .5-7.8 .4 9.6 .5-3.1 .4 4.2 .5-6.1 .4 4 .5-.4 .4-3.7 .5 3.6 .4-4.2 .5 7.1 .4-7.2 .5 4.1 .4 3.4 .5-8.4 .4-1.9 .5 3.4 .4-3.5 .5 2.1 .4 4.4 .5-6.5 .4 4.7 .5-3.3 .4 1.9 .5 3.1 .4-1.1 .5 2 .4-4.4 .5 5 .4-8.9 .5 5 .4 4.5 .5-4.8 .4 3.6 .5-6.7 .4 2.5 .5 4 .4-6.5 .5 1 .4 1.3 .5 4.5 .4-.4 .5-9.1 .4 11.1 .5-5.4 .4 .3 .5 4 .4 .7 .5 .6 .4-7.2 .5 5.4 .4-5 .5 .9 .4 1.5 .5 1.1 .4 .5 .5-2.1 .4 2.2 .5 1.9 .4-2.7 .5-5.8 .4 1.1 .5 5.1 .4 3 .5-1.2 .4-.8 .5-3 .4 .9 .5-3 .4-1.8 .5 5.1 .4-3.1 .5 1.8 .4 3.4 .5-.7 .4 1.3 .5 2.8 .4-7.5 .5-.4 .4 1.3 .5 2.4 .4-1.1 .5-.5 .4 .6 .5 1.6 .4-.9 .5-.1 .4-2.5 .5-.5" fill="none" stroke="#000" stroke-width="3.1" stroke-linejoin="round" stroke-linecap="butt" stroke-dasharray="30 8"/>
<path d="M275.5 1889.2l.5 16.7 .4-42.7 .5 26.8 .4 .5 .5 11.8 .4-1 .5-1.3 .4 3.2 .5 10.1 .4-12.2 .5 2.2 .4 7 .5 6.5 .4 1.5 .5 1 .4-13.8 .5 6.3 .4-13.2 .5 18.2 .4-17.3 .5 7.1 .4 5.9 .5-17.1 .4 9.1 .5-6.9 .4-3.3 .5 6.1 .4 10.1 .5-7.1 .4-8.6 .5 16.9 .4-12.2 .5 7.7 .4 3 .5 .9 .4 5.5 .5-8.4 .4-6.6 .5 24.4 .4-16.2 .5-6.2 .4 6.2 .5-11.7 .4 15.9 .5-15.6 .4-1 .5 4.2 .4 11.5 .5-25.6 .4 20.4 .5-7.8 .4 15 .5-2.9 .4-11.3 .5 17.9 .4-18.9 .5-13.5 .4 31.8 .5-11.7 .4-11.8 .5 11.8 .4-12.2 .5 6.3 .4 18.4 .5 9 .4-23.9 .5-12 .4 17.5 .5-21.2 .4 28.2 .5-22.8 .4 8.2 .5-.9 .4 2.2 .5 3 .4-5.9 .5 10.2 .4-20.5 .5 21 .4-17.7 .5 16.7 .4 2.7 .5-19.6 .4 2.8 .5 2.9 .4-17 .5 25.5 .4-16.9 .5 6.2 .4-13.9 .5 28.2 .4-7 .5 1.7 .4 3.7 .5 6.4 .4-12.7 .5 .6 .4 6.4 .5-6.7 .4 14.8 .5-31.1 .4 9.1 .5 3.1 .4-5.2 .5 10.6 .4 3 .5-1.1 .4 1.9 .5-3.2 .4-15.1 .5 15.2 .4-18.8 .5 9.4 .4-14.9 .5 23.8 .4 1.6 .5-1.1 .4 15 .5-29.3 .4 2.4 .5 2.8 .4-.3 .5-8.9 .4 17.5 .5-13 .4-.8 .5-4.8 .4-7.4 .5 9.3 .4 11.8 .5-13.5 .4 7.4 .5-3.7 .4 10.5 .5-7.5 .4-2.4 .5 2.3 .4-7.7 .5-13 .4 18.6 .5 8.6 .4-5.6 .5-13.7 .4 10.6 .5-8.7 .4 8.1 .5-7.4 .4 14.1 .5-16.6 .4 10.7 .5-3.3 .4-7.7 .5 35.2 .4-34.9 .5-10 .4 25.8 .5 3.2 .4-3.6 .5-8.7 .4 7.5 .5 10.5 .4-2.3 .5 6.1 .4-9.7 .5 2.1 .4 6.5 .5-19.8 .4 4.2 .5-6.5 .4 25.7 .5-29.5 .4-6.2 .5 19.5 .4 9.4 .5 5.8 .4-28.7 .5 10.3 .4-4.9 .5 5.8 .4 14.6 .5-11 .4-4.5 .5 7.8 .4-11 .5 10.1 .4-16.1 .5 28.6 .4-23.7 .5 4.2 .4-8.8 .5-4.4 .4 6.9 .5 3 .4 8.1 .5-16.7 .4 9.2 .5-3.7 .4 4.2 .5-3.2 .4 7.4 .5-32.2 .4 22.5 .5 5.1 .4-.4 .5-8.1 .4 7.2 .5-12.1 .4 6.5 .5-2.7 .4-8.4 .5 7.4 .4-1.1 .5-1.6 .4-8.3 .5 14.2 .4-13 .5 4.6 .4 2.3 .5 16.5 .4-13.8 .5 15.1 .4-7.8 .5-3.3 .4 2 .5 8 .4-22.1 .5 10.8 .4-15.4 .5 12.7 .4 17.3 .5-31.8 .4 4.1 .5-7.4 .4 19 .5 16.7 .4-21.8 .5 11.6 .4-2.1 .5 1.8 .4 .9 .5-21.8 .4 20.7 .5 11.3 .4-39.5 .5 25.1 .4 3.5 .5-19.7 .4 6 .5 18.7 .4-25.5 .5 1.3 .4 4.5 .5 21.6 .4-17.4 .5 18.3 .4-20.1 .5-3.8 .4-2.7 .5 17 .4-22.2 .5 15.3 .4 1.2 .5 4.4 .4-12.1 .5-1.4 .4 6.2 .5 6.5 .4-20.5 .5 10 .4-6.1 .5 2.2 .4 4 .5 7.4 .4-1.4 .5-2.7 .4 20.7 .5-18.7 .4-15.8 .5 7.5 .4 14.3 .5-18.6 .4 7.7 .5-14.9 .4 12.1 .5 5.7 .4-10.3 .5 3.9 .4-9.5 .5 11.7 .4-18.6 .5 14.6 .4 9.3 .5-6.7 .4-2.2 .5-13.1 .4 4.2 .5 4.4 .4-9.2 .5 4.4 .4-5.8 .5 12.5 .4-18.5 .5 32.9 .4-6.3 .5-13.7 .4-8 .5-6.9 .4 11.4 .5 .9 .4-3.6 .5 .8 .4 1.8 .5 11.1 .4-4.8 .5-8.6 .4 13.4 .5-14.8 .4-11.1 .5 12.3 .4 6 .5 3.4 .4-7.2 .5-9.1 .4-8 .5 9.2 .4-5.7 .5-1.1 .4 7.5 .5 4.8 .4-21 .5 7.9 .4-7.4 .5 18.7 .4-1.1 .5-5.3 .4 6.7 .5 7.9 .4-3.9 .5 5.7 .4-9.4 .5 17.8 .4-24.6 .5-1.6 .4 26.3 .5-14.5 .4-4.5 .5 12.2 .4-12 .5-4.8 .4 9.7 .5-14.7 .4 6.4 .5 12.8 .4-4 .5-22.6 .4-2.3 .5 10.4 .4-12 .5 25.6 .4-31.2 .5-1.6 .4 19.1 .5-2.8 .4 8.5 .5-40.9 .4 27.8 .5 2.1 .4 4.2 .5-3.1 .4-.7 .5-16.7 .4 3.3 .5 13.9 .4-10.5 .5 9.5 .4-10 .5 29.7 .4-47.3 .5 14.4 .4 12.1 .5-19.7 .4 8.4 .5 3.8 .4-22.5 .5 14.1 .4-5.4 .5-7.3 .4 8.2 .5 3.5 .4 .1 .5 8.3 .4-21.4 .5 26.1 .4-29.3 .5-5.6 .4 2.2 .5 5.1 .4 7 .5-16.3 .4-12 .5 4.7 .4-5.6 .5 14.9 .4-3.9 .5-15.7 .4 26.2 .5-18.3 .4 6.5 .5-1.9 .4-30.3 .5-8 .4 4.2 .5 .9 .4 4.2 .5-17.8 .4 2.9 .5-24.9 .4 22.9 .5-17 .4-31.6 .5 25.5 .4-27.2 .5 6.3 .4 29.6 .5-49.4 .4-5.5 .5 12 .4-28.2 .5-18.3 .4 12.3 .5-14.3 .4 12 .5-39.6 .4 13.5 .5-10.7 .4 11 .5-17.7 .4-33.8 .5 2.3 .4 10.3 .5 5.8 .4-4.2 .5-49.5 .4 17.5 .5-18.6 .4-36 .5 41 .4-12.7 .5-31.7 .4 12.7 .5-14.9 .4 1.1 .5 27.3 .4-1.3 .5-17.7 .4 12.4 .5 8.5 .5-15.1 .4 11 .5 41.4 .4-58.8 .5 14.8 .4 37.3 .5-24.4 .4 28.5 .5 32.4 .4-36.2 .5-5.7 .4-3.8 .5 43.8 .4-21.8 .5 23.8 .4 .2 .5 17.2 .4 6.5 .5 31.8 .4-21.7 .5 27.9 .4-2.9 .5 23.5 .4-7.6 .5 6.8 .4 18.4 .5 17.5 .4 2.4 .5-4.5 .4-5.6 .5 15.9 .4 6 .5-3.5 .4 36.3 .5-14.6 .4-9.1 .5 8.5 .4 3.6 .5-3.5 .4 29.9 .5-20 .4 5.4 .5 35.5 .4-38.9 .5 23.8 .4-10.6 .5-5.2 .4 11.2 .5-.6 .4 .3 .5 8.6 .4-5 .5 16 .4-26.7 .5 20.8 .4 1.4 .5-12 .4 6.6 .5 11.3 .4-1.4 .5-21.6 .4 15.7 .5 10.6 .4-5.7 .5-4.4 .4 6.7 .5-8.1 .4 10.1 .5-21.4 .4-2.1 .5 24.1 .4 18.7 .5 1 .4-9.5 .5-27.3 .4 16.9 .5-7.8 .4-2 .5 7.6 .4-2.4 .5-15 .4 30.9 .5-15.8 .4-5.1 .5-1.2 .4 8.3 .5 8.3 .4-15.5 .5 1.2 .4 33.4 .5 2.1 .4-21.5 .5-15.8 .4 28.5 .5-16.4 .4 2.3 .5-5 .4 19 .5 3.4 .4 8.2 .5-15.3 .4-2.1 .5 6.4 .4-10.5 .5 4.4 .4-5.3 .5 14.8 .4-3.8 .5-3.4 .4 11.6 .5 11 .4-26.1 .5 7.5 .4-18.7 .5 16.8 .4 13.1 .5-23.5 .4 5.2 .5 10.7 .4-15.4 .5 9 .4 2.8 .5 8.5 .4 12.4 .5-20.8 .4 7 .5-7.5 .4 8.6 .5-8.6 .4 6.2 .5 2.2 .4 3.8 .5 2.4 .4 12.7 .5 13.1 .4-15.3 .5 3.2 .4-8.2 .5 10.1 .4-19.5 .5 12.6 .4 12.3 .5-2.2 .4 3.8 .5-8.9 .4-1.1 .5-8.6 .4 36 .5-17.3 .4 1.5 .5 9.7 .4-6.7 .5-3.8 .4-5.6 .5 13 .4-6.2 .5-14.2 .4 18.2 .5-6.6 .4 2.9 .5-11.3 .4 34.2 .5-9.6 .4 3.8 .5-12.1 .4-1.1 .5-7.8 .4 4.3 .5 17.2 .4-12.3 .5-2.2 .4 10.5 .5-12.5 .4 5.9 .5-9.7 .4 21.2 .5-14.5 .4 7.5 .5-4.8 .4 5.3 .5 5.6 .4 4.8 .5-11.5 .4 14.5 .5-13.3 .4 11.6 .5 9.6 .4-16.3 .5 8.6 .4 3.2 .5-5.9 .4 16.7 .5-8.1 .4-7.6 .5 9.8 .4-7.1 .5 16.9 .4-1.5 .5-11.3 .4 26.6 .5-25 .4-6.9 .5 21 .4-19.1 .5 17.2 .4-14.5 .5 12.2 .4 1.2 .5 17 .4-17.5 .5 15 .4-14.8 .5 12.1 .4-4.3 .5-8.7 .4 13.4 .5-3.5 .4-7 .5-4 .4 2.5 .5 9.2 .4-1.4 .5 3.5 .4-7 .5 5 .4 2.2 .5 1.7 .4-4.1 .5 5.7 .4 .5 .5-6.4 .4-.3 .5 11.2 .4-13.7 .5 11.7 .4-2.5 .5-6.6 .4 5.4 .5 5.7 .4-14.6 .5 7.5 .4-1.5 .5-4.5 .4-1.8 .5-1.6 .4 3.3 .5 8.1 .4-4.4 .5 1.4 .4-2.2 .5 9.9 .4-8 .5-2.3 .4-4.2 .5 16.3 .4-12.9 .5 1.2 .4 8.2 .5 .3 .4 .2 .5-.4 .4-11.1 .5 14.2 .4-3.2 .5-.3 .4-3.2 .5 5.3 .4-12.6 .5 19.1 .4-3.6 .5 .9 .4-.6 .5-4.3 .4 5.7 .5 3.4 .4 3 .5-3.5 .4 4 .5-8.5 .4 4.9 .5 11.7 .4-7 .5-4.9 .4-.2 .5-1.3 .4 6.9 .5-14.1 .4 17.7 .5-1.3 .4-2.4 .5-.4 .4-2.1 .5-5.2 .4 7 .5-12.5 .4 8.1 .5 3.1 .4-8.8 .5 6.2 .4 .4 .5-1.3 .4 2.6 .5 2 .4-7.9 .5 17.7 .4-11.3 .5 10.2 .4-14.6 .5 9.1 .4-7.2 .5 2.5 .4 5.6 .5 .6 .4-6.3 .5 3.8 .4 1.2 .5 4 .4-5.1 .5 8 .4-10.5 .5 7.1 .4-4.7 .5 4.4 .4-5.9 .5 2 .4 1.6 .5-7.6 .4 .8 .5 13.5 .4-6.5 .5-5.5 .4-4.9 .5 12.1 .4-.5 .5-.2 .4-2.3 .5 2 .4-.6 .5-2.8 .4 4.9 .5-.8 .4-2.3 .5 1.3 .4-11.5 .5 23.2 .4-15.6 .5-1.4 .4 1.5 .5-1.2 .4 10.4 .5 1.7 .4-4.3 .5 .9 .4-5.5 .5 3.4 .4-2.4 .5-3 .4-5.9 .5 10.2 .4 .9 .5-1.7 .4 1.7 .5-1.1 .4 4.9 .5 2.9 .4-4.2 .5-1.2 .4-3.6 .5 13.9 .4-8.1 .5 3.8 .4 2.2 .5-3.7 .4 3 .5-19.2 .4 19.6 .5-6.9 .4-.7 .5-3.3 .4 4.7 .5 5.5 .4-12 .5 7.9 .4-1.5 .5 8 .4 2.9 .5-6.2 .4 .3 .5-3.5 .4 .7 .5 3.1 .4-4.6 .5 3.3 .4 9.8 .5-.7 .4-10.3 .5 9.1 .4-5.9 .5 4.1 .4-2.3 .5 1.5 .4-9 .5 1.2 .4 3 .5 .1 .4 5.9 .5 1.7 .4-14.8 .5 2.1 .4 13.8 .5 1.4 .4 6.6 .5-13.5 .4 7.7 .5-8.1 .4 2 .5-.2 .4-3.9 .5 3.4 .4 4.7 .5-7.2 .4 14.4 .5-11.4 .4-10.7 .5 2.9 .4 7.6 .5-4 .4-4.8 .5 7.6 .4 16.1 .5-13.4 .4 .5 .5-.7 .4 1.6 .5-6.6 .4-1.7 .5-3.7 .4 10.6 .5-8 .4 12.6 .5-4.4 .4 1 .5 4 .4 12 .5-25.7 .4 6.6 .5 1.3 .4 9 .5-11.3 .4 2.9 .5 2.8 .4-5 .5 7.5 .4-15.6 .5 20.4 .4-18.6 .5 17 .4-10.1 .5 6.4 .4-10.7 .5 7.9 .4-4.5 .5 8 .4 3.4 .5-3.3 .4-5.3 .5 6.8 .4 1.7 .5-11.7 .4 3 .5 10 .4-5.3 .5 2.3 .4-11.7 .5 14.6 .4-3.8 .5-1.4 .4 11.4 .5-15.5 .4 3.6 .5 5 .4-11.6 .5 2.5 .4 8.5 .5 4.6 .4-4.7 .5-3.7 .4 7.1 .5-11.2 .4 6.5 .5-4.3 .4 9.7 .5 2.4 .4-8.9 .5 4 .4-4.9 .5 9.1 .4-9.8 .5 0 .4 6 .5-2.4 .4-1.5 .5 10.2 .4-10.5 .5-3.4 .4 7.9 .5-7.7 .4 12.4 .5 .4 .4-12.7 .5 6.6 .4 4.6 .5-2.7 .4-11 .5 11.9 .4-10.6 .5 7.6 .4-2.2 .5 4.6 .4-3.1 .5-9.7 .4 10 .5 1.3 .4 3.8 .5-13 .4 8 .5 1.9 .4 .7 .5-8.8 .4 2.5 .5 6.7 .4-3.6 .5 9.8 .4-13.9 .5 1 .4 5.7 .5-4.4 .4 8.7 .5-4.2 .4-2.7 .5 10.6 .4-17 .5 6.2 .4 .8 .5-.8 .4-1.1 .5 4.9 .4-3.8 .5 9.2 .4-1.1 .5-9.4 .4 .4 .5 1 .4-3.1 .5 13.2 .4-9.6 .5 7.6 .4-17.2 .5 12.5 .4-2.8 .5 7.8 .4-9.5 .5 .1 .4-2.5 .5 4.6 .4-1.3 .5 8.4 .4 1 .5-9.1 .4 1.8 .5-5.1 .4 3.2 .5 2.3 .4-3.8 .5 .6 .4 1.2 .5-7.3 .4 5.7 .5-.2 .4 1.7 .5 6.8 .4-7.6 .5 1.7 .4 1.4 .5 .6 .4-2.1 .5 1.8 .4-2.9 .5 4.6 .4-7.8 .5 3.2 .4 1.5 .5-.1 .4-1.5 .5-4 .4 6.6 .5 8.7 .4-3.8 .5-5.9 .4 2 .5-5.8 .4 1.2 .5-1.2 .4 5.6 .5-13.6 .4 6.8 .5 1.2 .4 3 .5 8.2 .4-4.1 .5-4.8 .4-4.2 .5-3.5 .4 8.7 .5-.6 .4-3.9 .5 8.6 .4-2.4 .5-1.2 .4-2 .5 7.9 .4-2.3 .5-3.1 .4-4.2 .5 9.4 .4-15.3 .5 18.9 .4-6.1 .5-9.9 .4 6.1 .5-3.3 .4 3.2 .5 4.3 .4-5.1 .5 4.7 .4-3.4 .5-.3 .4 5.4 .5 4.4 .4-7.5 .5 1.4 .4-2.5 .5-3.2 .4 8.9 .5-2.2 .4-4.3 .5 3.1 .4-2.3 .5 4.7 .4-3.5 .5-.9 .4 4.7 .5-5.4 .4-4.1 .5 9.2 .4-5.3 .5 8.6 .4-6.4 .5 .6 .4-2.2 .5-2.3 .4 6.5 .5-2.8 .4 4.3 .5 2 .4-12.1 .5 8.6 .4 .7 .5 .1 .4-.3 .5 3.1 .4 4.1 .5 3.3 .4-10.3 .5-5.3 .4 8 .5-7 .4 3.9 .5 3.2 .4-.3 .5 .2 .4-4.7 .5 .6 .4 4.6 .5-5.6 .4 15.4 .5-8.8 .4-4.2 .5 3.8 .4-2 .5-10.2 .4 9.8 .5-2.5 .4 5.4 .5 4.2 .4-8.7 .5 5.2 .4-2.5 .5-.5 .4-3.8 .5 1.5 .4-.4 .5-.1 .4 5 .5-3.4 .4-1.5 .5 4.2 .4 .7 .5-8 .4 .8 .5 .3 .4 2.3 .5-.8 .4-.5 .5 8.4 .4-7.4 .5-5.8 .4 1.5 .5 5.6 .4 5.2 .5-5.2 .4 5.3 .5-2.3 .4-.9 .5-11.3 .4 8.7 .5 3.9 .4-7.7 .5 1.2 .4 1.2 .5 1.1 .4 3.1 .5-1.6 .4 .5 .5 9.5 .4-8.4 .5-2.4 .4 4.2 .5-6 .4 1.8 .5 5.3 .4-9.4 .5 7.5 .4-6.8 .5 8.6 .4-10 .5 9.9 .4-7 .5 5.8 .4-5.9 .5 .9 .4-.8 .5 4.8 .4-4.2 .5 5.3 .4-4.2 .5 5.5 .4-4.7 .5 3.3 .4 5.9 .5-6.1 .4 2.8 .5-3 .4-.1 .5 2.7 .4-.7 .5 .7 .4-2.9 .5 3.9 .4-7.8 .5 3.5 .4 2.5 .5-5.1 .4 1.8 .5 1.8 .4-3.9 .5 2.8 .4 4.5 .5-4.3 .4-7.9 .5 3.8 .4 2 .5-4.1 .4 0 .5 3.6 .4 4.7 .5-2.5 .4-1.2 .5-3.7 .4 3.4 .5 .5 .4 1.3 .5 1.6 .4-.8 .5-4.3 .4 5.4 .5-2.9 .4 5.1 .5 .1 .4 .2 .5-7 .4 11.4 .5-12.1 .4 2.3 .5 5.2 .4 .2 .5-6.9 .4 7.1 .5 3.3 .5-7.1 .4-.5 .5 6.4 .4-4.6 .5 6.1 .4 1.2 .5-1.9 .4-6.6 .5 .5 .4 3.4 .5 7 .4-6.6 .5-.5 .4-5.2 .5 1.2 .4 1 .5 2.7 .4-3.1 .5 2.2 .4 .5 .5-.8 .4-1.7 .5 4 .4-3 .5 5 .4-1.9 .5-5.7 .4 5 .5-6.1 .4 3.8 .5 1.8 .4-2.8 .5-3.3 .4 3.2 .5 1.7 .4 1.5 .5-2.3 .4 1.5 .5-1.3 .4-1.3 .5 3.4 .4 .3 .5-2.1 .4 8.3 .5-10.8 .4 3 .5 .5 .4 2.3 .5-5.6 .4 9.5 .5-6.7 .4 .6 .5 6.2 .4-6.7 .5-1.3 .4 1.1 .5-1.3 .4 8.5 .5-11.6 .4 5.7 .5 3 .4 1 .5-3 .4 1.5 .5-5.4 .4 0 .5 1.3 .4 .4 .5-.2 .4-1 .5 1.5 .4 2.5 .5-4.7 .4 2.7 .5-4.3 .4 2 .5 .1 .4-1 .5 4.2 .4-3.6 .5-1.1 .4 2.6 .5-7.5 .4 10.7 .5-10.8 .4 6.9 .5-5.3 .4 6.9 .5-4.2 .4 3.4 .5-5.6 .4 12.2 .5-2.4 .4 .2 .5-4.5 .4-.8 .5 3.7 .4-3.3 .5 2.5 .4 6.1 .5-3.5 .4 1.1 .5-6.3 .4 3.5 .5-2.6 .4 7.5 .5-9.6 .4 9.1 .5-2.5 .4 2 .5-2.8 .4-8.6 .5 2.5 .4-2.3 .5 5.8 .4-.9 .5 3.7 .4-2.8 .5 2.5 .4-3.6 .5 4.1 .4 0 .5-3.1 .4 8.9 .5-5.7 .4-5.5 .5 1.8 .4 8.4 .5-7 .4-1.8 .5 4 .4-5.1 .5 4.1 .4-3 .5-.1 .4-3.4 .5 5.7 .4-1.6 .5-1.6 .4 2.7 .5-1 .4 .1 .5-5.2 .4 8.9 .5-3.1 .4-8.4 .5 2.5 .4 .8 .5 10.5 .4-7 .5 3.7 .4-4.8 .5 8.8 .4-15.6 .5 6.4 .4 .2 .5 10.3 .4-6.1 .5-3.5 .4-.1 .5 .3 .4-.8 .5-2.8 .4-.2 .5 6.5 .4 7.4 .5-7.4 .4-2.1 .5 2.4 .4-4.7 .5 6.1 .4-5.6 .5 5.8 .4-3 .5 1.9 .4-.5 .5 1.6 .4 2.1 .5-7.2 .4 1.2 .5-1.2 .4 2.1 .5 5 .4 1.7 .5-1.7 .4-1.8 .5-3.5 .4 5.3 .5 1.3 .4 .9 .5-5.7 .4 1.2 .5 3.6 .4-3.9 .5 1.8 .4-1.4 .5-1.6 .4-1.1 .5 1.2 .4-2.9 .5-1.2 .4 1.1 .5 .9 .4 3.3 .5 1.6 .4-4.6 .5-7.3 .4 13.6 .5-7.2 .4 7.5 .5-11.6 .4 7.7 .5-4.8 .4 6.1 .5-1 .4-.2 .5-7.6 .4 2.7 .5 .3 .4-.5 .5 3 .4 4.1 .5-4.1 .4-.3 .5 .7 .4-.4 .5-.6 .4-2.6 .5 .9 .4 2.2 .5 3.9 .4-5 .5 3.1 .4-6.1 .5 4.5 .4 2.1 .5-.7 .4 2.6 .5-2.7 .4-.5 .5 1.9 .4-3 .5-5.3 .4 9.2 .5 1.9 .4-1.8 .5-10.2 .4 9.8 .5 3.7 .4-6.2 .5 2 .4-4.1 .5 7 .4-6.9 .5 8.2 .4-4.5 .5-.8 .4 1.1 .5 .4 .4 5.1 .5-6.6 .4 2.1 .5-3.5 .4 .2 .5 1.6 .4 1 .5-6.5 .4 .5 .5 3 .4-1.6 .5 3.1 .4-2.9 .5 7 .4 6.2 .5-1.8 .4-9.8 .5 3.8 .4-.8 .5-5.1 .4 3.4 .5 1.4 .4 2.3 .5-4 .4 2.9 .5-6.1 .4 4.6 .5 2.3 .4-3.8 .5 10 .4-6.6 .5-1.6 .4-1.6 .5 1.6 .4 2.5 .5 .8 .4-3.8 .5 2.1 .4-4.8 .5 5.8 .4-2.4 .5-2.5 .4 6.5 .5-1 .4-2.8 .5-2.2 .4 4.4 .5-5.3 .4-2.1 .5 5.6 .4-3.3 .5-1 .4-1.8 .5 6.7 .4 4.5 .5-3.1 .4 .7 .5-1.2 .4-4.9 .5 .8 .4-8.9 .5 9.1 .4-.5 .5-2 .4 1.1 .5-5.3 .4 11.7 .5-6.4 .4-4.5 .5 14.2 .4-4.4 .5 2.8 .4-4.6 .5-1.1 .4-4 .5 6.3 .4-6.2 .5 4.8 .4 1.3 .5 .7 .4 .3 .5-1.3 .4 2.9 .5-3.1 .4-3.2 .5 6.4 .4-4.4 .5 3.2 .4-4.2 .5 1.6 .4-3.7 .5 1.7 .4 2.2 .5 .8 .4 .6 .5 2.7 .4-7.2 .5 8.6 .4-5.5 .5 3.9 .4-.8 .5-5 .4 3.5 .5-1.3 .4-5.1 .5 3.1 .4 4.2 .5-3.9 .4 .2 .5 .9 .4 2.3 .5-5.7 .4 0 .5 6.1 .4 1.8 .5-5.6 .4 1.3 .5 .9 .4-2.5 .5 .1 .4 2.4 .5 .3 .4 2.4 .5-3.9 .4 3.5 .5-4.5 .4-3.1 .5 7.2 .4-8.6 .5 .6 .4 7 .5-9.2 .4 7.5 .5 2.2 .4-.5 .5 2.6 .4-12.3 .5 6.6 .4-.7 .5-1.8 .4 6.1 .5-1.3 .4-2.6 .5 3.7 .4-4.3 .5 2.5 .4-.4 .5-2.4 .4 1.3 .5-1.8 .4 .2 .5 2 .4-1.8 .5 1.1 .4 .4 .5 4.5 .4-7.8 .5 7.5 .4-1.8 .5 2.3 .4-6.2 .5 5 .4-.3 .5-4.6 .4 4.3 .5 2 .4-7.4 .5 7.2 .4 2.3 .5-2.3 .4 2.4 .5-4.8 .4 5.3 .5-2.3 .4-3.2 .5 4.7 .4 2.1 .5-10.7 .4 11 .5-8.1 .4 .2 .5 4.8 .4-2.5 .5-.7 .4 4.1 .5-7.3 .4 1.5 .5 3.3 .4 2.4 .5-7.3 .4 1.4 .5 5 .4-8.5 .5 1.7 .4 3.6 .5-1.7 .4-3.2 .5 2.2 .4-2.8 .5 3.5 .4-4.3 .5 5 .4-1 .5 1.9 .4-1.7 .5-.1 .4-.8 .5 .1 .4 3.1 .5-3.8 .4 6.2 .5-5.3 .4-.6 .5-.3 .4 1.8 .5 1.3 .4-2.6 .5-.3 .4 .8 .5-2.9 .4 9.9 .5-8 .4 6.9 .5 1.6 .4-3.1 .5-2.5 .4 1.2 .5 1.7 .4-2.6 .5-1.5 .4 1.1 .5-.3 .4 2.7 .5-2 .4 1.5 .5-3.7 .4 5.9 .5-8.2 .4 1.2 .5 5.6 .4-2.8 .5-1.5 .4 2.8 .5 .7 .4 3.8 .5-7.5 .4 .7 .5 .7 .4 6.8 .5-2.9 .4-5.6 .5 3 .4-2.7 .5 4.5 .4 .4 .5-7.3 .4 3.3 .5 1.1 .4 2.3 .5 0 .4-3 .5-.5 .4 5.7 .5 2.2 .4-9.2 .5 4.9 .4-3.6 .5 2 .4-3.2 .5 9.9 .4-1.1 .5-.6 .4-5.7 .5 5.7 .4-3.7 .5-1.5 .4 3.9 .5-1.9 .4 .6 .5-4.1 .4 4.9 .5-8.3 .4 11.1 .5-4.8 .4 5 .5-4.9 .4-8.2 .5 8.4 .4-3.3 .5-1.9 .4 3 .5-1.1 .4 2.2 .5 3.5 .4 .3 .5-7.1 .4 6.7 .5-.9 .4-1.2 .5-2.2 .4-.8 .5 5.2 .4 .9 .5-6.8 .4 1.5 .5-.6 .4 5.5 .5-4.4 .4-.3 .5 5 .4-5.2 .5-.5 .4 .2 .5-1 .4-.2 .5-6.7 .4 10.1 .5-5.4 .4-1.8 .5 1.9 .4 1.8 .5 .8 .4-1.1 .5 3.5 .4-4.7 .5 1.9 .4 3.1 .5-3.6 .4-4.7 .5 1 .4 9.4 .5-8.1 .4 1.6 .5 1.8 .4-1.8 .5-3 .4 4.4 .5-.1 .4-1.1 .5-2.7 .4 5.5 .5 3.2 .4-.8 .5-2.7 .4 2.9 .5-5.1 .4 .8 .5-2.6 .4 5.5 .5-4.1 .4 .5 .5-2.2 .4 .3 .5 8.4 .4-1.8 .5-4.5 .4 4.6 .5-2 .4 4.8 .5-7.1 .4-.3 .5 6.5 .4-8.6 .5 7.1 .4 1.6 .5-5.5 .4 1.3 .5 3.7 .4 1.9 .5-1.2 .4-.7 .5-2.3 .4-1.9 .5 4.4 .4 2.1 .5-5 .4 2.9 .5-3.1 .4 .5 .5-2.7 .4 .4 .5 2.6 .4-2.2 .5 .9 .4-.2 .5-1.6 .4 7.5 .5-4.3 .4 2.7 .5-4.7 .4 1.1 .5-.2 .4 .6 .5-1.7 .4 3.1 .5-7.8 .4-.7 .5 9.7 .4 .6 .5-4.5 .4 4.8 .5-2.3 .4-1 .5-1.4 .4 5.4 .5-7.3 .4 7.7 .5-5.9 .4 3.5 .5-3.2 .4 3.7 .5-.1 .4 2.2 .5-7.9 .4 10.5 .5-6.2 .4 1.5 .5 .1 .4 2.1 .5-5.5 .4 5.9 .5-6.5 .4 4.8 .5-4.9 .4 .4 .5 3.4 .4-.8 .5-3.2 .4 4.8 .5-7.5 .4 4.5 .5 5.1 .4-4.1 .5-2.5 .4 2.8 .5-1.7 .4 2.8 .5-5.1 .4 3.3 .5-.4 .4-.3 .5-2.8 .4 5.1 .5 1.8 .4-2 .5-9.7 .4 5.1 .5-.5 .4 4 .5-4.4 .4 4.1 .5-.1 .4-2.3 .5 2 .4-4.9 .5 11.6 .4-9 .5 2.7 .4-.5 .5 1.9 .4-3.2 .5-7.9 .4 8.9 .5-1.8 .4-.9 .5-1.8 .4 0 .5 2.7 .4-1.2 .5 .2 .4 3.7 .5-.8 .4-4.4 .5 4 .4-5.2 .5 1.2 .4 4.7 .5 8 .4-9.7 .5-3.7 .4 6.9 .5-.9 .4-1.4 .5-1.9 .4 5.4 .5-4.2 .4-.2 .5 1.4 .4-1 .5 4.1 .4-3.6 .5 2.8 .4 .3 .5 1.8 .4 1.2 .5-.5 .4-6 .5 .2 .4 0 .5 2.3 .4-4.1 .5 .4 .4-1.2 .5 4.4 .4-3.8 .5 2.5 .4-.7 .5 4.9 .4-9.6 .5 3.9 .4-2.5 .5 7.6 .4-.2 .5-3.5 .4 3.7 .5-4.3 .4 1.4 .5 1 .4-3.2 .5-.1 .4 .6 .5 5.6 .4 .4 .5-4.2 .4-1.1 .5 2 .4 2.6 .5-.6 .4-6.8 .5-1.8 .4 6.8 .5-3.7 .4 .5 .5 8.6 .4-8.6 .5 7.3 .4-2.4 .5-.9 .4 2.4 .5-7.6 .4 5.7 .5 4.1 .4-6.4 .5 .6 .4 2.1 .5 1.6 .4-2 .5-2.1 .4 1 .5-.7 .5-2.4 .4 .2 .5 1.3 .4 3.2 .5-11.4 .4 13.3 .5-2.3 .4-2.2 .5-3.3 .4-3.5 .5 6.4 .4 4 .5-8.8 .4 4.8 .5 .3 .4 .1 .5 3.7 .4-4 .5-3.1 .4 7.4 .5-7.2 .4 5.9 .5-2.5 .4 1.6 .5-2.7 .4 3.6 .5-2.4 .4 .6 .5-2.9 .4-.9 .5 4.2 .4-1.6 .5 .7 .4 3.7 .5-6.1 .4 7 .5-5.7 .4 1.1 .5 3.8 .4-3.3 .5-7.5 .4 10.6 .5-6.9 .4 2.8 .5-5 .4 10.6 .5-7.3 .4 3.3 .5-4.7 .4 8.2 .5 .5 .4-2.7 .5-.1 .4-3 .5-1.2 .4 3.4 .5-4 .4 4.2 .5-1.7 .4-2.9 .5 4.6 .4-3.2 .5 3.8 .4-1 .5-2.7 .4 2.1 .5 .7 .4-2.5 .5 1 .4 2.3 .5 5.9 .4-11.5 .5 9 .4-5.7 .5-.3 .4-.3 .5 .9 .4-2.5 .5 1.8 .4 .6 .5 1.1 .4-3.1 .5 .4 .4 4.5 .5-4.5 .4 3.3 .5-7.8 .4 4.8 .5-1.3 .4 .4 .5-.6 .4 5.2 .5-2.1 .4-3.6 .5-2.1 .4 10 .5-6.8 .4-5.5 .5 7.2 .4 4.6 .5-13.1 .4 7.4 .5 1.2 .4 .3 .5-1.9 .4 3.8 .5-2.1 .4 .6 .5-4.1 .4 .4 .5 11.3 .4-6 .5-3.5 .4 2.2 .5 0 .4-1.6 .5 1.3 .4-1.5 .5-2.6 .4 2.4 .5 6 .4-9.9 .5 6.2 .4-2.6 .5-1 .4 2 .5-2.9 .4 5.9 .5-3.3 .4 5.7 .5-11.5 .4 7.8 .5-6.6 .4 4.7 .5 1.1 .4 1.6 .5-2.1 .4 .2 .5 7.4 .4-8.8 .5-.1 .4 2.6 .5-4 .4 1.5 .5 3.7 .4 4.5 .5-5.9 .4-2 .5-1.9 .4 4.5 .5 .2 .4-2.3 .5 1.6 .4 1.1 .5-5.8 .4 0 .5-2.4 .4 5.1 .5 .4 .4-3.9 .5 3.3 .4-.9 .5 6.1 .4-7.3 .5 2.4 .4-2.3 .5 6.2 .4-8.1 .5 3.8 .4-2.5 .5 4.6 .4-1.8 .5 1.1 .4 .1 .5-2.5 .4-.7 .5 3.4 .4-1 .5-6.3 .4 8.7 .5-3.3 .4 7.3 .5-13.1 .4 10.9 .5-.6 .4-2.9 .5 1.2 .4-.5 .5-3 .4 .8 .5-1.7 .4-1.9 .5 .7 .4 5.2 .5-3.2 .4 1.3 .5-2.7 .4 2.7 .5 2 .4-3.6 .5 4.3 .4-2.7 .5 .1 .4-3.8 .5 5.4 .4-1.4 .5 .3 .4 3.7 .5-.1 .4 1.8 .5-6.9 .4 0 .5 5 .4 1.1 .5-5.4 .4-2.6 .5 1.3 .4-2.8 .5 2.8 .4 2.7 .5-3.9 .4-1.4 .5 .8 .4 .8 .5 .5 .4 .8 .5 3.4 .4 2.5 .5-.7 .4-8.6 .5 2.8 .4-.3 .5 5 .4-3.7 .5-1.2 .4 4.5 .5-5.9 .4 2.2 .5 4 .4-3.6 .5-4.6 .4 3.8 .5 1.3 .4 1.8 .5 1.2 .4 .2 .5-7.8 .4 7.4 .5-1.9 .4 .7 .5-5 .4 9.3 .5-5.9 .4 5.9 .5-8.1 .4 3 .5 1.4 .4-2.9 .5-2.1 .4 1.3 .5 3 .4 .1 .5 1.7 .4-1.6 .5-4.7 .4-.7 .5 6 .4-2.9 .5-1.7 .4 .5 .5 1.4 .4-.5 .5-2.1 .4 1.9 .5 .5 .4 1.1 .5-2.1 .4-1.3 .5 .8 .4 .3 .5 5.5 .4-2.5 .5 2.6 .4 5.1 .5-4.9 .4-5.3 .5 3.3 .4 3.1 .5-7.4 .4-.9 .5 2.8 .4 2.5 .5-2.8 .4 6.6 .5-9.2 .4 3.9 .5-8.3 .4 11 .5-6.3 .4 2.6 .5 1.8 .4 2.7 .5-2.6 .4-.3 .5 .2 .4-3.6 .5 3.6 .4-3.2 .5 3.2 .4-1.3 .5-.8 .4 1 .5-.1 .4 4.7 .5-3 .4 .5 .5-6 .4 7.1 .5 .6 .4-5.6 .5 2.5 .4 1.1 .5 2.4 .4-5.3 .5 .7 .4 .9 .5 1.1 .4 1.6 .5 .9 .4-3.2 .5 2.1 .4-4.8 .5 .2 .4 1.9 .5-.2 .4 4.6 .5-5 .4-3.2 .5 6.3 .4-8 .5 4.5 .4-2.6 .5 9.3 .4-6.9 .5-2.3 .4 1.4 .5 3.3 .4-3.8 .5 4.7 .4-5.5 .5 8.3 .4-6.2 .5 6.4 .4-3.1 .5-6.3 .4-1.9 .5 6.2 .4-3.5 .5 1.1 .4 1.7 .5 4.1 .4-3.8 .5 2.7 .4 .5 .5 .7 .4-3 .5-.6 .4-.5 .5 2.6 .4-1.9 .5-.7 .4 .7 .5-.8 .4-1.7 .5 7.6 .4-1.9 .5-7.2 .4-2.2 .5 4.2 .4 4.2 .5 1.4 .4-2.2 .5 1.2 .4-.8 .5-5.6 .4 7.8 .5-2.6 .4-.6 .5-.7 .4-.9 .5-.8 .4 .6 .5 6.9 .4-3.7 .5-3.8 .4 5.7 .5-1.2 .4-.2 .5-2.7 .4 3.6 .5-1.8 .4-.5 .5-.4 .4-7 .5 9.8 .4-4.5 .5 1.3 .4 6.7 .5-8.8 .4 6 .5-4.9 .4 2.6 .5-.3 .4-4.9 .5 8.3 .4-.5 .5-9.8 .4 5.9 .5-4.3 .4 4.2 .5 0 .4 3.2 .5-2.2 .4 .6 .5 2.2 .4 .2 .5-3.4 .4 3.8 .5 .6 .4-2 .5-1.8 .4 1.6 .5 .2 .4 1.9 .5-.6 .4-1.8 .5-.1 .4-1.4 .5-.8 .4 3 .5 1.6 .4-8.4 .5 3.1 .4-.8 .5 1.4 .4 .7 .5-2.3 .4 2.3 .5-1.9 .4 3.8 .5-2.8 .4 5.4 .5-6.4 .4 1.4 .5-.2 .4 1.9 .5-4 .4-2.8 .5 5.7 .4 2.3 .5-2.1 .4-2.8 .5 3.2 .4-2.2 .5-3.1 .4 2.8 .5-1.7 .4 3.4 .5-1.2 .4 .5 .5-2.5 .4 2.1 .5-2.7 .4-.2 .5 3.3 .4 1.1 .5 .9 .4-.6 .5-4.5 .4 3.7 .5-3.6 .4-2.2 .5 4.8 .4-.6 .5 1 .4 .3 .5 3 .4-3.3 .5-2.2 .4 1.9 .5 1.5 .4 .4 .5-2.5 .4-.2 .5 3.6 .4-2.9 .5 2.5 .4-4.5 .5-3.5 .4-1.5 .5 13.4 .4-7.1 .5 .4 .4 2.5 .5-4.7 .4 1.5 .5-3.5 .4 1.7 .5 4.5 .4-2.5 .5 1 .4-1 .5-.8 .4 1.7 .5-1.1 .4 4.6 .5-.2 .4-8.8 .5 3.3 .4-.6 .5-.4 .4 2 .5-5.1 .4 8.4 .5-2.9 .4-1.5 .5-2.2 .4 1.6 .5 2.4 .4 .3 .5 .1 .4-1.9 .5 .1 .4 7 .5-10.3 .4-1.9 .5 3.2 .4 1.6 .5 3.5 .4-7.7 .5 3.6 .4-.2 .5-1.7 .4 4.5 .5-3.2 .4 5.2 .5-1.3 .4-1.6 .5-2.2 .4 1.5 .5 5.4 .4-4.5 .5-6.9 .4 7.8 .5-1.4 .4 1.1 .5-4 .4 10.3 .5-8 .4 5.8 .5-3.9 .4 1.4 .5 2.5 .4-1.7 .5-.3 .4 1.8 .5-3.1 .4-3.4 .5 1.3 .4 1.8 .5 .2 .4 2.2 .5 1.5 .4-5.9 .5 1.7 .4 5.8 .5-.8 .4-2.3 .5 5.4 .4-3.3 .5-4 .4-1 .5 8.9 .4-10.5 .5 3.4 .4-1.9 .5 5.7 .4-7.2 .5 7.8 .4-1 .5-3.5 .4 3.3 .5-8 .4 5.4 .5-2.8 .4 6.8 .5-5.7 .4 2.5 .5-3.8 .4 .2 .5-1.7 .4 4.8 .5-6 .4 4 .5 3.4 .4-9.2 .5 2.9 .4 3.6 .5-3.7 .4 2.8 .5 2.8 .4 1.9 .5-3.3 .4-1.8 .5 2.8 .4-9.4 .5 6.1 .4 3.8 .5-5 .4-1.3 .5 7 .4-5.8 .5 7 .4-3.2 .5-2.9 .4 5.3 .5-.3 .4-2.1 .5-4.4 .4 1.9 .5 3.4 .4-2 .5 2.7 .4 .2 .5-5 .4 3.1 .5 2 .4-5.1 .5 4.5 .4-3.8 .5-.7 .4 1.9 .5-2.3 .4 3 .5 3.2 .4-9.2 .5 4.5 .4-1.3 .5-.4 .4 4.1 .5 2.4 .4-3.5 .5 2.3 .4 .9 .5-.3 .4-3.2 .5 1.4 .4-6.4 .5 5 .4 4.5 .5-.6 .4-8.1 .5 4.8 .4 2 .5-4.7 .4-1.1 .5 8.4 .4-6.4 .5 6.7 .4-4.8 .5-2.9 .4 9.2 .5-5.2 .4-7.2 .5 4.4 .4-.2 .5-.9 .4 .9 .5 1 .4 1.2 .5 .8 .4-1.5 .5-1.2 .4 2 .5-.5 .4 1.7 .5-5.2 .4 5.2 .5-.6 .4-4.3 .5 2.5 .4-4.5 .5 3.7 .4-5.1 .5 6.1 .4 2.3 .5-8.5 .4 9.9 .5-8.3 .4 3.6 .5 3.4 .4-.2 .5-2.8 .4 0 .5-3.3 .4 2.1 .5-1.9 .4-1.2 .5 5.4 .4 2.7 .5-7.9 .4 6.3 .5-3.8 .4 6 .5-1.7 .4-1.2 .5-3.7 .4 2.3 .5 5.4 .4-1.9 .5-6.1 .4 4.6 .5 3.3 .4-6.5 .5 5.7 .4-2.3 .5 .1 .4-1.9 .5 1.8 .4 .4 .5-.7 .4-3.8 .5 3 .4 2 .5-4.5 .4 .2 .5 3.1 .4 1.6 .5-4.2 .4-3.3 .5 5.9 .4-.7 .5-1.4 .4 2.7 .5-4.9 .4 1.8 .5 3.8 .4 .2 .5-.9 .4 1.3 .5-.3 .4-7.9 .5 5.5 .4-1.4 .5-2.7 .4 1.4 .5 4.7 .4-2.2 .5-3.7 .4 6.2 .5-.7 .4-3.3 .5 .4 .4-.9 .5-3 .4 1 .5 2.3 .4 .2 .5-3.3 .4 1.7 .5 4.3 .4-4.7 .5 2.2 .4-4.7 .5 4.4 .4 0 .5-1.9 .4-1.3 .5 6.3 .4-2.5 .5 .3 .4-1.9 .5 3 .4-1.1 .5 1.1 .4 .1 .5 1.9 .4-.3 .5-2.5 .4-1.4 .5 0 .4 5.3 .5-5.1 .4-1.5 .5 1.6 .4 2.3 .5-3.5 .4 2.4 .5-2.6 .4 6.2 .5-2.9 .4 1.8 .5-3.3 .4 6.2 .5-2.8 .4 .6 .5-4 .4 1.3 .5-5" fill="none" stroke="#000" stroke-width="3.1" stroke-linejoin="round" stroke-linecap="round" stroke-dasharray="1 7"/>
<path d="M662 413.2l3-1 3-1.9 3-7 3 7 3-.5 3-2.8 3-7.5 3 9.6 3.1-.9 3-3.7 3 .2 3-1 3 4 3 1.5 3 1.8 3-6.2 3 3.4 3-1.3 3 2.7 3-4.5 3 3.8 3 .8 3-3 3-2.7 3.1-5.5 3-3.1 3-7.2 3 9.9 3 4.6 3-1.5 3-1.7 3 6.5 3 3.1 3-12.3 3-11.7 3 2 3-11.5 3-4.3 3-7.5 3 .4 3.1-7.2 3-14.9 3-1.1 3 9.9 3-25.8 3-13.4 3 .1 3-16.7 3 .1 3-13.2 3-8.8 3-5.2 3-17.7 3-5.9 3-7 3-8 3.1 12.4 3-19.3 3 9.9 3-6.2 3 .2 3 10.9 3 10.6 3 19 3 2.8 3-.7 3 17 3 1.4 3 18 3-.6 3 19.7 3 4.6 3.1 11.3 3-2.1 3 13.5 3 4.6 3 2.4 3 2.5 3 6.3 3 7.4 3-4.8 3 5.5 3 7.8 3-4.6 3 19.5 3 2.6 3-3.6 3-1.8 3-8 3.1-4.3 3 2.6 3 1.3 3 2.2 3 11 3 9.7 3 .3 3-5.5 3 9.5 3-.8 3 10.5 3 1.3 3-.1 3-12.1 3 6.6 3-6.3 3.1-4.8 3 9.8 3 .8 3 6.5 3 2.9 3 2.1 3 8.6 3-2.3 3 4.5 3-2.5 3-.5 3 .6 3 1 3-6.2 3-1.9 3-10.5 3.1 .9 3-2.1 3 4.5 3-9.6 3-.4 3 2.2 3-4.8 3 5.7 3 1.8 3 4.5 3 5.6 3-5.3 3 11.8 3-3 3 8.6 3-2.4 3.1 5.2 3-6.3 3 4.9 3-.7 3 .9 3-1.2 3-1.2 3-9.2 3 1.2" fill="none" stroke="#000" stroke-width="4.4" stroke-linejoin="round" stroke-linecap="butt"/>
<path d="M662 393.4l3-7.3 3 .5 3-3 3 7.3 3-11.7 3 3.6 3 4.7 3-.1 3.1-1.4 3-4 3-10.2 3-.4 3 5 3-1.5 3-12.7 3 3.8 3 7.4 3-3.3 3 1.1 3-2.9 3-3.6 3 5.2 3-3.3 3-1.3 3.1-1.7 3 5.3 3-3.4 3-12 3 8.5 3-2.4 3-3 3 4.1 3-1.5 3-10.4 3 1.3 3 10.9 3-6.1 3 6 3 .6 3-7.9 3.1-7.9 3 7.1 3-8.2 3 11.5 3-6.6 3-.6 3-1 3-5.7 3 .6 3 3.6 3 .5 3-9.6 3-9.7 3-4.9 3-2.2 3-6.7 3.1-22.6 3-5.9 3-4.9 3-21.1 3-36 3-10.3 3-8.7 3-16.1 3-1.4 3-6.1 3 .6 3 3 3 3.3 3-1.2 3 1.7 3-3.1 3.1 1 3-3.6 3 1.8 3 13.1 3 3.6 3 16.7 3 4.5 3 10.2 3 1.7 3 14 3 11.9 3 6.4 3 20.5 3 .7 3 8.2 3 6.7 3 22 3.1 3.5 3 14 3-11.8 3 11.9 3 1.3 3 10.8 3-4.4 3 3.2 3 4.2 3 1 3 .2 3 1.1 3 5.8 3-13.1 3 8.1 3 1 3.1 1.7 3 3.5 3 1 3-1.1 3 5.7 3-5.2 3 8.7 3-4 3 11.9 3-2.6 3 1 3-.1 3 2.4 3 12.3 3 .5 3-7.9 3.1 9.3 3 5.4 3-10.8 3 2.5 3 7.9 3-2.3 3-7.5 3 7.8 3 1.7 3 1.7 3-4.3 3 15.2 3-5.1 3 3.6 3 .6 3 .2 3.1 3.1 3-2.2 3 .5 3-3.9 3 14.1 3-8.6 3-1.5 3 4.9 3-11.6" fill="none" stroke="#000" stroke-width="4.4" stroke-linejoin="round" stroke-linecap="butt" stroke-dasharray="14 7"/>
<path d="M662 396l3 5.5 3-8.2 3-1.5 3 11.6 3.1-3.7 3-7.3 3 .8 3-2.5 3 2.1 3-9.6 3-2 3 .4 3.1-7.8 3-.2 3 2.8 3-8.9 3 3.1 3-11.7 3 .9 3-3.1 3-1.5 3.1-13.2 3 3.1 3-1.7 3-2.8 3-5.7 3 .6 3-.2 3-.1 3-8.5 3.1 12.7 3 .5 3 1.5 3-7.1 3-2.6 3 5.9 3 1.4 3-3.4 3.1-11.1 3-3.4 3-1.2 3 4.2 3-6.5 3-1.4 3-2.7 3-6 3 .3 3.1-6.3 3-1.3 3-6.2 3-7.4 3 5.5 3-12.3 3-5.7 3-6.1 3.1-9.8 3-18.4 3 5 3-19.7 3 6.6 3-17.8 3-13.2 3-13 3-11 3.1-12.6 3-5.8 3-11.5 3-17.9 3 3.3 3 8.4 3 2.6 3 3.7 3-3.3 3.1 8.4 3 2.5 3 14.1 3 4 3 5.6 3 15 3 5.5 3 20.2 3.1 12.7 3 12.8 3 13.6 3-2.9 3 11.1 3 2.3 3 2.1 3 4.9 3 3.6 3.1 9.5 3 7.4 3 3.8 3 13.8 3 3.3 3 3 3 1 3-4.9 3.1 8.8 3-.9 3-7 3 10 3-4.2 3 9.9 3-2.4 3 5 3-1.8 3.1-4.6 3 14.4 3-9.3 3 2.7 3 6.1 3 6.4 3-4.9 3 5.6 3.1-.8 3 3.9 3-4.6 3 11.6 3 6.3 3-3.2 3 2 3-3.3 3 4 3.1 3.5 3-4.3 3 12.6 3-2.3 3 1.5 3-2.4 3 4.6 3-9.2 3 4.1 3.1 5.9 3-1.8 3-5.3 3 .6 3-1.3 3-.3 3 15.4 3 10.7 3.1 8.9 3-7.5 3 6.2 3-.3 3 1.5" fill="none" stroke="#000" stroke-width="4.4" stroke-linejoin="round" stroke-linecap="round" stroke-dasharray="0.5 13"/>
<path d="M654.5 1115.5l3 .5 3-5.7 3.1 3.7 3-11.8 3 3 3-5.1 3-3.9 3.1-1.7 3-3.4 3 1.5 3-6.9 3-1.1 3.1-3.7 3 7.5 3-5.5 3-5.8 3-3.3 3.1 .4 3 1.9 3-2.9 3-1.7 3 8.3 3.1-9.2 3-1.2 3-1.4 3-4.6 3 4.2 3.1-6.6 3-.5 3-1.3 3-.3 3-3.8 3.1-4.5 3 7 3 1.2 3-5.4 3-7.9 3.1 6.3 3-.5 3 0 3 0 3-1.5 3.1-17 3 11.3 3-.9 3-6.2 3-5.9 3.1 6 3-1.1 3-1.2 3-1.4 3 10.1 3.1-3.7 3-5.1 3 10.5 3-.6 3-8.5 3.1-5 3 .2 3-5.8 3-7 3-7 3.1-4.5 3-11.6 3 2.2 3-17.8 3-4 3.1-16.3 3-6.3 3-14.3 3 .7 3-5.6 3.1-6.2 3-7.8 3-2.2 3-4.2 3-10 3-14.7 3.1-10.6 3 14.2 3 5.5 3 27.7 3 2.5 3.1 11.6 3 2.4 3-2.9 3-.2 3 15.2 3.1 8.5 3 7.6 3 6.1 3 14.9 3 12.7 3.1 11.4 3 6.5 3 9.5 3-3.1 3 6.9 3.1-6.1 3 2.7 3 1.3 3 2.8 3 6.8 3.1-7.7 3-1 3 6.6 3 5.7 3 3.5 3.1 8 3 5.8 3-10.8 3 3.8 3-6.4 3.1 3.7 3-8.9 3-.1 3-1.6 3 6.6 3.1-1.6 3 3.1 3 3.1 3 1.3 3 1.8 3.1 7.1 3 6.5 3 1.9 3-4 3 3.1 3.1 .3 3 2.5 3 2.6 3-2.5 3 4.2 3.1 1.5 3-1 3-1.3 3 6 3-1.4 3.1 3.3 3-3.5 3 2.3 3-4.7 3 9.6 3.1-2.3 3-4.1 3-.1" fill="none" stroke="#000" stroke-width="4.4" stroke-linejoin="round" stroke-linecap="butt"/>
<path d="M654.5 1094.7l3-1 3-3.4 3.1-5 3 4 3 1.4 3-2.2 3-9.8 3.1 6 3 1.6 3-4.2 3-3.2 3-1.1 3.1-6.6 3 5.8 3 3.5 3-11.8 3 3.1 3.1-1.3 3 2.3 3 .1 3-10.5 3 9.9 3.1-4.3 3 .8 3-10.4 3 3.1 3 2.8 3.1-6.1 3-5.4 3 9.7 3-1.1 3-5.7 3.1-.5 3 4.1 3-3.1 3-3.6 3-4.7 3.1 7.1 3-9.9 3-1.2 3-8 3 15 3.1-9.9 3-1.9 3-9.7 3 8.3 3-5 3.1-6 3-4.7 3-3.2 3 3.1 3-18 3.1 6.2 3-10.1 3-7.9 3-1.2 3-11.7 3.1 1.4 3-13.5 3-3.8 3 .6 3-7.7 3.1-1 3-9.8 3 12.2 3 10.4 3 2 3.1 9 3-2.2 3 15.4 3 16.7 3 11.8 3.1-5.9 3 14.7 3 13.6 3-4.2 3 11.9 3-9.5 3.1 5.3 3 7.9 3-.6 3 7.8 3-13.8 3.1 8.5 3-.1 3-.3 3 8.9 3 2.8 3.1 1.8 3-1.1 3 6.1 3-.4 3-1.1 3.1 1.6 3 3.6 3 2.8 3-1.2 3-3.6 3.1-1.6 3 1.7 3 6.5 3-1.9 3 3.1 3.1-1.7 3 10.7 3-4.5 3 5.1 3 3.8 3.1-7.4 3 3.4 3 12.4 3-4.9 3-1.3 3.1-.6 3 8.5 3-5 3 1.3 3 3.8 3.1-4.9 3 4.7 3-1.5 3 3.2 3-4.8 3.1-.2 3 2.6 3 1.6 3-3 3-1 3.1 .1 3 1.4 3-4.3 3 4.6 3-1 3.1-4.3 3 8.9 3-2 3 0 3 4.3 3.1 3 3-.3 3 4.8 3-5.8 3 1.1 3.1-1.6 3-3 3 6.1" fill="none" stroke="#000" stroke-width="4.4" stroke-linejoin="round" stroke-linecap="round" stroke-dasharray="0.5 13"/>
<path d="M654.5 1089.6l3-4.5 3 0 3.1-.9 3-2.4 3-2.1 3 .6 3-1 3.1 3.5 3-6.9 3 2.1 3-5.6 3-2.2 3.1 9.2 3-11.4 3 5.9 3 .2 3-4 3.1-3 3-3.7 3-7.6 3 14.3 3-5 3.1-3.8 3 2.3 3 3.4 3-6.3 3-1.6 3.1-2.3 3 2 3-7.2 3 3.4 3-3 3.1 5.8 3 4.7 3-13.6 3 .3 3-2.8 3.1 .3 3-.2 3-2.4 3-7 3 4.6 3.1-4 3-3 3-3.4 3-9.6 3 8.3 3.1-15.3 3 5 3-6.1 3-5 3-10.9 3.1-7.5 3 7.1 3-7.1 3-3.7 3-4.3 3.1-5.8 3-17.6 3-15.2 3-13 3-14 3.1-23 3-23 3-18.3 3-20.8 3-4.7 3.1-15.2 3-8.1 3-.5 3-7.8 3 .1 3.1 2.2 3 30.1 3 22.8 3 9.4 3 7.2 3-1.9 3.1 14.2 3 4.9 3 27.9 3 15.3 3 13 3.1 21.1 3 12.2 3 18.2 3 13.4 3 7.3 3.1 3.7 3 8.8 3-2.2 3 5.2 3 8.7 3.1 10.6 3 .2 3 5.5 3 3.4 3 2.1 3.1 1.4 3 3.6 3 1.7 3 8.7 3-2.2 3.1-2 3 2.6 3 8.3 3-3.5 3 2.4 3.1 6 3-3.4 3 .1 3 2.8 3-4.9 3.1 8.7 3-1.8 3 0 3 .8 3 3.8 3.1-2.5 3 1.4 3-5.9 3 3.8 3 4.9 3.1-3.9 3 7.9 3-3.4 3-3.9 3 11.6 3.1-8.9 3 2.1 3 4.1 3-4.2 3 7 3.1-6.2 3 3.5 3-2.7 3 7.3 3-5 3.1-.2 3 6.2 3-7.5 3 9 3-9.6 3.1 1 3 9.2 3-7.1" fill="none" stroke="#000" stroke-width="4.4" stroke-linejoin="round" stroke-linecap="butt" stroke-dasharray="14 7"/>
<path d="M654.5 1094.5l3 1.8 3-6.7 3.1 4.8 3-.5 3-6.6 3-3.8 3-1.1 3.1-1.4 3 2 3 1.3 3-4.3 3-1.2 3.1 .5 3 1.5 3-3 3-2.7 3 3.7 3.1-3.9 3 1.8 3-11.7 3 2.5 3 1.9 3.1-5 3 1.7 3 1.5 3-3 3-.4 3.1-14.6 3 15.9 3 5.6 3-13.8 3 6.7 3.1-.7 3-11.2 3 7.1 3 .3 3-6.5 3.1 3.2 3-9.4 3 3.9 3-5.3 3-7.4 3.1-4 3 14.4 3-8.9 3-2.5 3-7.3 3.1 2.6 3-.8 3-12.7 3-2.7 3 1.5 3.1 5.7 3-11.6 3 1.9 3-18.1 3 2.8 3.1-3.1 3-5.5 3-2.2 3 6.1 3-10.3 3.1-1 3 11 3-18.1 3 2.6 3 3.2 3.1 1.4 3 12.4 3-1.2 3 12.7 3 9.9 3.1-7.4 3 11.2 3 8.6 3 4.7 3 4.1 3 .9 3.1 6.6 3 .2 3 9.5 3 1.5 3-2.7 3.1 0 3 2.9 3 4.4 3-.1 3-1.8 3.1 3.3 3 10.2 3-4.7 3 3.3 3 1.7 3.1-.8 3 3.3 3-4.3 3 8.7 3 2.4 3.1-3.4 3 .3 3 6.5 3-4 3 2.4 3.1 6.8 3-.8 3-2.7 3 2.3 3 8.5 3.1-4.8 3 3.4 3-5.9 3 8.4 3-2 3.1 7.8 3-8 3 4.3 3 2.2 3 .3 3.1-.7 3 1.6 3-3.6 3 3.5 3-.7 3.1-10.8 3 8.9 3-2.6 3-.4 3 .2 3.1-1.5 3 4.1 3-7 3 1.7 3 1.3 3.1 5.6 3-4.9 3 9.2 3-2.6 3 3.1 3.1 3.4 3-7.9 3 1.5 3 1.6 3 5 3.1 3.7 3-2 3 2.1" fill="none" stroke="#000" stroke-width="4.4" stroke-linejoin="round" stroke-linecap="round" stroke-dasharray="22 9 0.5 9"/>
<path d="M706 1806.4l3-6.6 3-7.4 3.1 8 3-.1 3-7.9 3 5.5 3 2.6 3 9.5 3.1-5.2 3 0 3-1.2 3-5.6 3-1.4 3-10.2 3.1 1.6 3 3.3 3-6.2 3-.6 3 12.4 3.1-9.6 3 1.5 3-.1 3 5.1 3 .6 3-11.6 3.1-.5 3-.5 3 10.3 3 .9 3-3.6 3-3.9 3.1-2.3 3 1.3 3 0 3 1 3 1.3 3.1-6.9 3 9.2 3-15.2 3 9.1 3 5.9 3-12.1 3.1-.5 3-4.8 3-.6 3 3.9 3-7.4 3 5.8 3.1-6.1 3 6.3 3-5.7 3-4.8 3 1.8 3.1-14.7 3-11.6 3 11.2 3-1 3 6.7 3-6 3.1 6.5 3 2.5 3 9.7 3-2.5 3-3.2 3-12.4 3.1 11.9 3-7 3 2.3 3 5.3 3 4.9 3.1-6 3 8 3-4.2 3 1.3 3 18.7 3-4.1 3.1 5.2 3 6 3-2.2 3-8.7 3-6.2 3.1 4.3 3-6.4 3 1.5 3-4.3 3 9.9 3 4.2 3.1-3.5 3 14.5 3 5.2 3-.7 3-3.2 3 5 3.1-5.2 3-.7 3-17.1 3 5.4 3-4.3 3.1 3 3-2.5 3 7.1 3 4 3 5 3-8 3.1-8.8 3 5 3 6.5 3-10.6 3 9.7 3 10.7 3.1 5.9 3 8.4 3-10.8 3-3.5 3-8.8 3.1 11 3-3.1 3-4.4 3 4 3 6.2 3-2.5 3.1 2.4 3 4 3-.8 3-6.1 3 5.9 3 1 3.1-3.8 3 8.4 3-4.7 3-4.5 3-.9 3.1 3.7 3-2.4 3 4.3 3 0 3-6.9 3 2.4 3.1 5.1 3-5.1 3 .1 3-.7 3 4 3 1.4 3.1 1.7 3-8 3-5.7" fill="none" stroke="#000" stroke-width="4.4" stroke-linejoin="round" stroke-linecap="butt"/>
<path d="M706 1762.4l3 1.7 3-11.5 3.1 10.3 3 2.5 3-13.1 3-1.7 3 8.3 3-2.7 3.1-17.8 3 18.7 3-3.3 3-9.4 3 1.5 3-5.3 3.1 3.3 3 5.6 3-3.4 3 2.7 3-7.7 3.1 1 3 8.6 3-9.4 3 6.6 3-4.9 3 2.2 3.1-3.6 3 15 3-16.1 3 9.7 3-13.8 3 12.2 3.1-3.8 3 .6 3-5.8 3-5.2 3 3.3 3.1-.1 3-2.5 3-.2 3-2.5 3 2.3 3-5.8 3.1-11.7 3-1.4 3 12.1 3-12 3-6.1 3 0 3.1-3.6 3-8.2 3-11.2 3-5.6 3 .8 3.1-10.2 3 .1 3-8.7 3-2.2 3 2.1 3-11.5 3.1-13.2 3-11.7 3-1.5 3-18.4 3 .2 3-1.5 3.1-4.2 3-26.1 3 8.6 3-3 3-20.4 3.1-3.3 3-18.2 3 6.3 3-25.9 3-7.1 3 5.8 3.1 1.5 3-11 3-10.3 3 11 3-4.8 3.1-11.3 3 3.7 3 10 3 13.1 3 22.4 3 23.4 3.1 19.4 3 35.5 3-10.8 3-.9 3 4.5 3 9.6 3.1-11.6 3 4.3 3 17.1 3-2.7 3 5 3.1 4.9 3-9.1 3 3.9 3 15.7 3 8.4 3 11.3 3.1 14.7 3-1.1 3 9.2 3 4.7 3 14.7 3-12.1 3.1 22.8 3-9.7 3-4.4 3 7.4 3 6.5 3.1-.3 3 6.1 3-11.9 3 6.8 3 9.9 3-10.5 3.1 19.6 3 2.7 3 17.5 3-5.7 3-3.8 3 .1 3.1 .5 3-15 3 5.6 3-18.2 3 4.8 3.1-1.2 3 .2 3 4.5 3-2.4 3 15.4 3 14.1 3.1-6 3 9.7 3 .3 3 2.5 3-.3 3-3.3 3.1 7.5 3 4.3 3 3.5" fill="none" stroke="#000" stroke-width="4.4" stroke-linejoin="round" stroke-linecap="round" stroke-dasharray="22 9 0.5 9"/>
<path d="M706 1777.3l3 .8 3-6.2 3.1-1.6 3 1.1 3-4.4 3-1.5 3 7.8 3-5.4 3.1-5.9 3 3.2 3-4.2 3-9.5 3 11.3 3-5.7 3.1-3.5 3 3.8 3-2.1 3-3.7 3 6 3.1-20.4 3 13.7 3-2.6 3 .9 3 9.7 3-11.3 3.1 4.9 3-7.7 3 1.8 3-.1 3 6.2 3-1.3 3.1-1.5 3-2.6 3 0 3-5.4 3 8 3.1-3.5 3-5.8 3 9.2 3-12.4 3 11.4 3-3.1 3.1 5.2 3-6.5 3-1.3 3-2.3 3 4.6 3-18.6 3.1-3.6 3-8.9 3 7.1 3-9.5 3-7.6 3.1 1.5 3-2.2 3-6.8 3-2.9 3 2.3 3-2.4 3.1-2.3 3 11.6 3 3.9 3-9.3 3-13 3-6.2 3.1 9.6 3-41.6 3-32.2 3 5.1 3-10.3 3.1-9.1 3-16.3 3-5.9 3-5 3 4.1 3 5.8 3.1-16.4 3 7.7 3 1.3 3 0 3 2.2 3.1-8.1 3 4.3 3 5.8 3-4.1 3 13.3 3 15.4 3.1 22.3 3 5.6 3 3 3 20.8 3 9.6 3 5.9 3.1 4.5 3 16.9 3-8 3 3.3 3-10 3.1-1.5 3-3 3 0 3-1 3 2.4 3 4.5 3.1 9.5 3 .7 3-2.1 3 17 3-.6 3 6.5 3.1-6.6 3 5.6 3 3.6 3 6.8 3-1.1 3.1-.7 3 11.3 3 1.9 3-8.1 3 6.1 3-1.3 3.1 3.1 3 4.1 3 2.5 3-8.2 3 4.6 3 1.4 3.1-1.5 3 1.3 3 .1 3 8.9 3 7.2 3.1-14.2 3 11.6 3-5.1 3 4 3 .7 3-8.6 3.1 12.7 3-6 3 4.2 3-.6 3 3.6 3 4.4 3.1 4.5 3 3.2 3-.9" fill="none" stroke="#000" stroke-width="4.4" stroke-linejoin="round" stroke-linecap="butt" stroke-dasharray="20 8 8 8"/>
<path d="M706 1744.8l3-8.7 3 20.3 3.1-8.6 3-7.2 3 .4 3-2.3 3 5.8 3-5.8 3.1-6.8 3 7.1 3-2.7 3 9.5 3 6 3-10 3.1-2.2 3-7.6 3 7 3-3.7 3-.7 3.1-9.6 3 6.8 3 2.6 3-2.3 3-.8 3-2.9 3.1 9.3 3-11.5 3 4.5 3 2.7 3 .2 3 5.3 3.1 6.7 3-7.2 3-5.5 3-16.1 3 6.1 3.1-10.7 3-5 3 8.5 3-11 3-6.8 3-12 3.1 6.5 3-14.2 3-3.8 3 1.7 3-15.8 3-2.4 3.1 4.7 3-9 3-1.9 3 3.2 3 1 3.1-14.5 3-5.7 3-7.7 3-8.6 3-12.4 3-8.2 3.1-15.6 3-9.5 3-25.8 3 6.1 3-17.3 3-26.2 3.1 .6 3-23.8 3 23.4 3 19.5 3 11 3.1 3.2 3 .4 3 12.7 3-8.7 3 .6 3 23.3 3.1-3.3 3-3.1 3 21.7 3-10.8 3 14.3 3.1 24.2 3-11.5 3 13.1 3-9.5 3 10.1 3 11.9 3.1-1.7 3-7.8 3 17.9 3 1.4 3-6.4 3 7.5 3.1 9.8 3 3.1 3 5.4 3 6.5 3-13.6 3.1 6.9 3 14.8 3-1.2 3 9.6 3 1.2 3-15.4 3.1 13.8 3 .7 3 20.8 3-3.8 3 18.5 3-5.6 3.1-2.4 3 13.5 3-9.5 3 10 3 4.8 3.1-8.7 3 7.9 3-3.3 3 10.7 3 3.4 3 1.5 3.1-2.1 3-7.2 3 4.9 3-3.3 3 12.9 3-11.4 3.1-2.3 3 6.9 3-.2 3 6.4 3 3.2 3.1-5.4 3 13.4 3-13.3 3 .9 3 2.6 3-.5 3.1 9.4 3 2.9 3 3.9 3-11.5 3 5.2 3 6.3 3.1 .4 3 3.9 3-3.5" fill="none" stroke="#000" stroke-width="4.4" stroke-linejoin="round" stroke-linecap="butt" stroke-dasharray="14 7"/>
<path d="M706 1770.1l3-2.1 3 5.8 3.1-10.6 3-3.9 3 .2 3 10.6 3-5.2 3 1.1 3.1 0 3-3.5 3 5.6 3 1.6 3-3.3 3 1 3.1-8.9 3 3.9 3-4.7 3 1.7 3 4.4 3.1 3.5 3-3.3 3-7.4 3 1 3 3.8 3-4 3.1 3.4 3 4.8 3-15.9 3 6.2 3 5.5 3 3.3 3.1-15.7 3 2 3-4.1 3-7.3 3-6.5 3.1 11.2 3-8.4 3 3.3 3 6.3 3-16.8 3 3 3.1-1.6 3-3.9 3 1 3-16.1 3-8.4 3 5.4 3.1 5.9 3 4 3-16.2 3 5.5 3-7.3 3.1-9 3 3.1 3-6.1 3-2.4 3-2.6 3-13.7 3.1 .5 3-14.7 3 4.3 3-9.4 3-3 3 5.6 3.1-20.2 3 .1 3-14.2 3-3.5 3 11.4 3.1-12.7 3-.2 3-12.5 3 6.1 3-7 3-.5 3.1-5.8 3-2.5 3 1 3-.9 3 11.8 3.1 6.7 3 13 3 2.2 3-3.5 3 15.7 3 .6 3.1 9.4 3-3.8 3-1.9 3 5.9 3 6.1 3-3.5 3.1 8.3 3-3 3 11.1 3 3.5 3-18.6 3.1 19.8 3-1.6 3 9.2 3-.3 3 16.8 3-2.8 3.1-.8 3-6.3 3 7.7 3 11.9 3-3.7 3-.6 3.1 10.9 3-6.6 3-8.9 3 11.2 3 8 3.1 5.5 3-3.3 3 5 3-13.2 3 18.5 3-2.1 3.1 5.7 3 7 3-2.1 3-1.6 3-2.1 3-3.1 3.1 19.6 3-3.5 3-7.1 3 10.2 3 3.8 3.1-6.5 3 3.2 3 4.1 3 3.8 3-3.1 3 2.9 3.1 1.8 3-1.5 3 5.9 3-1.3 3 0 3 .7 3.1-2.1 3 9.5 3-1.4" fill="none" stroke="#000" stroke-width="4.4" stroke-linejoin="round" stroke-linecap="round" stroke-dasharray="0.5 13"/>
<rect x="189.4" y="26.5" width="1384.1" height="598.5" fill="none" stroke="#000" stroke-width="5.5"/>
<rect x="189.4" y="714.4" width="1384.1" height="597.3" fill="none" stroke="#000" stroke-width="5.5"/>
<rect x="189.4" y="1393.8" width="1384.1" height="598.0" fill="none" stroke="#000" stroke-width="5.5"/>
<text transform="translate(166.0,638.3)" font-family="'Liberation Sans', Arial, sans-serif" font-weight="bold" font-size="48" text-anchor="end">0</text>
<line x1="189.4" y1="525.2" x2="211.4" y2="525.2" stroke="#000" stroke-width="4.6" stroke-linecap="butt"/>
<text transform="translate(166.0,538.5)" font-family="'Liberation Sans', Arial, sans-serif" font-weight="bold" font-size="48" text-anchor="end">50</text>
<line x1="189.4" y1="425.5" x2="211.4" y2="425.5" stroke="#000" stroke-width="4.6" stroke-linecap="butt"/>
<text transform="translate(166.0,438.8)" font-family="'Liberation Sans', Arial, sans-serif" font-weight="bold" font-size="48" text-anchor="end">100</text>
<line x1="189.4" y1="325.8" x2="211.4" y2="325.8" stroke="#000" stroke-width="4.6" stroke-linecap="butt"/>
<text transform="translate(166.0,339.1)" font-family="'Liberation Sans', Arial, sans-serif" font-weight="bold" font-size="48" text-anchor="end">150</text>
<line x1="189.4" y1="226.0" x2="211.4" y2="226.0" stroke="#000" stroke-width="4.6" stroke-linecap="butt"/>
<text transform="translate(166.0,239.3)" font-family="'Liberation Sans', Arial, sans-serif" font-weight="bold" font-size="48" text-anchor="end">200</text>
<line x1="189.4" y1="126.2" x2="211.4" y2="126.2" stroke="#000" stroke-width="4.6" stroke-linecap="butt"/>
<text transform="translate(166.0,139.6)" font-family="'Liberation Sans', Arial, sans-serif" font-weight="bold" font-size="48" text-anchor="end">250</text>
<text transform="translate(166.0,39.8)" font-family="'Liberation Sans', Arial, sans-serif" font-weight="bold" font-size="48" text-anchor="end">300</text>
<text transform="translate(187.6,684.0)" font-family="'Liberation Sans', Arial, sans-serif" font-weight="bold" font-size="48" text-anchor="middle">0</text>
<line x1="343.2" y1="625.0" x2="343.2" y2="608.0" stroke="#000" stroke-width="4.6" stroke-linecap="butt"/>
<text transform="translate(341.4,684.0)" font-family="'Liberation Sans', Arial, sans-serif" font-weight="bold" font-size="48" text-anchor="middle">10</text>
<line x1="497.0" y1="625.0" x2="497.0" y2="608.0" stroke="#000" stroke-width="4.6" stroke-linecap="butt"/>
<text transform="translate(495.2,684.0)" font-family="'Liberation Sans', Arial, sans-serif" font-weight="bold" font-size="48" text-anchor="middle">20</text>
<line x1="650.8" y1="625.0" x2="650.8" y2="608.0" stroke="#000" stroke-width="4.6" stroke-linecap="butt"/>
<text transform="translate(649.0,684.0)" font-family="'Liberation Sans', Arial, sans-serif" font-weight="bold" font-size="48" text-anchor="middle">30</text>
<line x1="804.6" y1="625.0" x2="804.6" y2="608.0" stroke="#000" stroke-width="4.6" stroke-linecap="butt"/>
<text transform="translate(802.8,684.0)" font-family="'Liberation Sans', Arial, sans-serif" font-weight="bold" font-size="48" text-anchor="middle">40</text>
<line x1="958.3" y1="625.0" x2="958.3" y2="608.0" stroke="#000" stroke-width="4.6" stroke-linecap="butt"/>
<text transform="translate(956.5,684.0)" font-family="'Liberation Sans', Arial, sans-serif" font-weight="bold" font-size="48" text-anchor="middle">50</text>
<line x1="1112.1" y1="625.0" x2="1112.1" y2="608.0" stroke="#000" stroke-width="4.6" stroke-linecap="butt"/>
<text transform="translate(1110.3,684.0)" font-family="'Liberation Sans', Arial, sans-serif" font-weight="bold" font-size="48" text-anchor="middle">60</text>
<line x1="1265.9" y1="625.0" x2="1265.9" y2="608.0" stroke="#000" stroke-width="4.6" stroke-linecap="butt"/>
<text transform="translate(1264.1,684.0)" font-family="'Liberation Sans', Arial, sans-serif" font-weight="bold" font-size="48" text-anchor="middle">70</text>
<line x1="1419.7" y1="625.0" x2="1419.7" y2="608.0" stroke="#000" stroke-width="4.6" stroke-linecap="butt"/>
<text transform="translate(1417.9,684.0)" font-family="'Liberation Sans', Arial, sans-serif" font-weight="bold" font-size="48" text-anchor="middle">80</text>
<text transform="translate(1571.7,684.0)" font-family="'Liberation Sans', Arial, sans-serif" font-weight="bold" font-size="48" text-anchor="middle">90</text>
<text transform="translate(166.0,1325.0)" font-family="'Liberation Sans', Arial, sans-serif" font-weight="bold" font-size="48" text-anchor="end">0</text>
<line x1="189.4" y1="1178.7" x2="211.4" y2="1178.7" stroke="#000" stroke-width="4.6" stroke-linecap="butt"/>
<text transform="translate(166.0,1192.0)" font-family="'Liberation Sans', Arial, sans-serif" font-weight="bold" font-size="48" text-anchor="end">100</text>
<line x1="189.4" y1="1045.6" x2="211.4" y2="1045.6" stroke="#000" stroke-width="4.6" stroke-linecap="butt"/>
<text transform="translate(166.0,1058.9)" font-family="'Liberation Sans', Arial, sans-serif" font-weight="bold" font-size="48" text-anchor="end">200</text>
<line x1="189.4" y1="912.5" x2="211.4" y2="912.5" stroke="#000" stroke-width="4.6" stroke-linecap="butt"/>
<text transform="translate(166.0,925.8)" font-family="'Liberation Sans', Arial, sans-serif" font-weight="bold" font-size="48" text-anchor="end">300</text>
<line x1="189.4" y1="779.5" x2="211.4" y2="779.5" stroke="#000" stroke-width="4.6" stroke-linecap="butt"/>
<text transform="translate(166.0,792.8)" font-family="'Liberation Sans', Arial, sans-serif" font-weight="bold" font-size="48" text-anchor="end">400</text>
<text transform="translate(187.6,1370.5)" font-family="'Liberation Sans', Arial, sans-serif" font-weight="bold" font-size="48" text-anchor="middle">0</text>
<line x1="466.2" y1="1311.7" x2="466.2" y2="1294.7" stroke="#000" stroke-width="4.6" stroke-linecap="butt"/>
<text transform="translate(464.4,1370.5)" font-family="'Liberation Sans', Arial, sans-serif" font-weight="bold" font-size="48" text-anchor="middle">20</text>
<line x1="743.0" y1="1311.7" x2="743.0" y2="1294.7" stroke="#000" stroke-width="4.6" stroke-linecap="butt"/>
<text transform="translate(741.2,1370.5)" font-family="'Liberation Sans', Arial, sans-serif" font-weight="bold" font-size="48" text-anchor="middle">40</text>
<line x1="1019.9" y1="1311.7" x2="1019.9" y2="1294.7" stroke="#000" stroke-width="4.6" stroke-linecap="butt"/>
<text transform="translate(1018.1,1370.5)" font-family="'Liberation Sans', Arial, sans-serif" font-weight="bold" font-size="48" text-anchor="middle">60</text>
<line x1="1296.7" y1="1311.7" x2="1296.7" y2="1294.7" stroke="#000" stroke-width="4.6" stroke-linecap="butt"/>
<text transform="translate(1294.9,1370.5)" font-family="'Liberation Sans', Arial, sans-serif" font-weight="bold" font-size="48" text-anchor="middle">80</text>
<text transform="translate(1571.7,1370.5)" font-family="'Liberation Sans', Arial, sans-serif" font-weight="bold" font-size="48" text-anchor="middle">100</text>
<text transform="translate(166.0,2005.1)" font-family="'Liberation Sans', Arial, sans-serif" font-weight="bold" font-size="48" text-anchor="end">0</text>
<line x1="189.4" y1="1872.2" x2="211.4" y2="1872.2" stroke="#000" stroke-width="4.6" stroke-linecap="butt"/>
<text transform="translate(166.0,1885.5)" font-family="'Liberation Sans', Arial, sans-serif" font-weight="bold" font-size="48" text-anchor="end">50</text>
<line x1="189.4" y1="1752.6" x2="211.4" y2="1752.6" stroke="#000" stroke-width="4.6" stroke-linecap="butt"/>
<text transform="translate(166.0,1765.9)" font-family="'Liberation Sans', Arial, sans-serif" font-weight="bold" font-size="48" text-anchor="end">100</text>
<line x1="189.4" y1="1633.0" x2="211.4" y2="1633.0" stroke="#000" stroke-width="4.6" stroke-linecap="butt"/>
<text transform="translate(166.0,1646.3)" font-family="'Liberation Sans', Arial, sans-serif" font-weight="bold" font-size="48" text-anchor="end">150</text>
<line x1="189.4" y1="1513.4" x2="211.4" y2="1513.4" stroke="#000" stroke-width="4.6" stroke-linecap="butt"/>
<text transform="translate(166.0,1526.7)" font-family="'Liberation Sans', Arial, sans-serif" font-weight="bold" font-size="48" text-anchor="end">200</text>
<text transform="translate(166.0,1407.1)" font-family="'Liberation Sans', Arial, sans-serif" font-weight="bold" font-size="48" text-anchor="end">250</text>
<text transform="translate(187.6,2051.5)" font-family="'Liberation Sans', Arial, sans-serif" font-weight="bold" font-size="48" text-anchor="middle">0</text>
<line x1="343.2" y1="1991.8" x2="343.2" y2="1974.8" stroke="#000" stroke-width="4.6" stroke-linecap="butt"/>
<text transform="translate(341.4,2051.5)" font-family="'Liberation Sans', Arial, sans-serif" font-weight="bold" font-size="48" text-anchor="middle">10</text>
<line x1="497.0" y1="1991.8" x2="497.0" y2="1974.8" stroke="#000" stroke-width="4.6" stroke-linecap="butt"/>
<text transform="translate(495.2,2051.5)" font-family="'Liberation Sans', Arial, sans-serif" font-weight="bold" font-size="48" text-anchor="middle">20</text>
<line x1="650.8" y1="1991.8" x2="650.8" y2="1974.8" stroke="#000" stroke-width="4.6" stroke-linecap="butt"/>
<text transform="translate(649.0,2051.5)" font-family="'Liberation Sans', Arial, sans-serif" font-weight="bold" font-size="48" text-anchor="middle">30</text>
<line x1="804.6" y1="1991.8" x2="804.6" y2="1974.8" stroke="#000" stroke-width="4.6" stroke-linecap="butt"/>
<text transform="translate(802.8,2051.5)" font-family="'Liberation Sans', Arial, sans-serif" font-weight="bold" font-size="48" text-anchor="middle">40</text>
<line x1="958.3" y1="1991.8" x2="958.3" y2="1974.8" stroke="#000" stroke-width="4.6" stroke-linecap="butt"/>
<text transform="translate(956.5,2051.5)" font-family="'Liberation Sans', Arial, sans-serif" font-weight="bold" font-size="48" text-anchor="middle">50</text>
<line x1="1112.1" y1="1991.8" x2="1112.1" y2="1974.8" stroke="#000" stroke-width="4.6" stroke-linecap="butt"/>
<text transform="translate(1110.3,2051.5)" font-family="'Liberation Sans', Arial, sans-serif" font-weight="bold" font-size="48" text-anchor="middle">60</text>
<line x1="1265.9" y1="1991.8" x2="1265.9" y2="1974.8" stroke="#000" stroke-width="4.6" stroke-linecap="butt"/>
<text transform="translate(1264.1,2051.5)" font-family="'Liberation Sans', Arial, sans-serif" font-weight="bold" font-size="48" text-anchor="middle">70</text>
<line x1="1419.7" y1="1991.8" x2="1419.7" y2="1974.8" stroke="#000" stroke-width="4.6" stroke-linecap="butt"/>
<text transform="translate(1417.9,2051.5)" font-family="'Liberation Sans', Arial, sans-serif" font-weight="bold" font-size="48" text-anchor="middle">80</text>
<text transform="translate(1571.7,2051.5)" font-family="'Liberation Sans', Arial, sans-serif" font-weight="bold" font-size="48" text-anchor="middle">90</text>
<rect x="662.0" y="64.3" width="439.7" height="399.6" fill="none" stroke="#000" stroke-width="2.8"/>
<text transform="translate(640.4,476.6) scale(1.1,1.0)" font-family="'Liberation Sans', Arial, sans-serif" font-weight="bold" font-size="33.5" text-anchor="end" class="th">0</text>
<line x1="662.0" y1="397.3" x2="674.0" y2="397.3" stroke="#000" stroke-width="2.6" stroke-linecap="butt"/>
<text transform="translate(640.4,410.0) scale(1.1,1.0)" font-family="'Liberation Sans', Arial, sans-serif" font-weight="bold" font-size="33.5" text-anchor="end" class="th">50</text>
<line x1="662.0" y1="330.7" x2="674.0" y2="330.7" stroke="#000" stroke-width="2.6" stroke-linecap="butt"/>
<text transform="translate(640.4,343.4) scale(1.1,1.0)" font-family="'Liberation Sans', Arial, sans-serif" font-weight="bold" font-size="33.5" text-anchor="end" class="th">100</text>
<line x1="662.0" y1="264.1" x2="674.0" y2="264.1" stroke="#000" stroke-width="2.6" stroke-linecap="butt"/>
<text transform="translate(640.4,276.8) scale(1.1,1.0)" font-family="'Liberation Sans', Arial, sans-serif" font-weight="bold" font-size="33.5" text-anchor="end" class="th">150</text>
<line x1="662.0" y1="197.5" x2="674.0" y2="197.5" stroke="#000" stroke-width="2.6" stroke-linecap="butt"/>
<text transform="translate(640.4,210.2) scale(1.1,1.0)" font-family="'Liberation Sans', Arial, sans-serif" font-weight="bold" font-size="33.5" text-anchor="end" class="th">200</text>
<line x1="662.0" y1="130.9" x2="674.0" y2="130.9" stroke="#000" stroke-width="2.6" stroke-linecap="butt"/>
<text transform="translate(640.4,143.6) scale(1.1,1.0)" font-family="'Liberation Sans', Arial, sans-serif" font-weight="bold" font-size="33.5" text-anchor="end" class="th">250</text>
<text transform="translate(640.4,77.0) scale(1.1,1.0)" font-family="'Liberation Sans', Arial, sans-serif" font-weight="bold" font-size="33.5" text-anchor="end" class="th">300</text>
<text transform="translate(660.9,512.4) scale(1.1,1.0)" font-family="'Liberation Sans', Arial, sans-serif" font-weight="bold" font-size="33.5" text-anchor="middle" class="th">14</text>
<line x1="741.9" y1="463.9" x2="741.9" y2="452.9" stroke="#000" stroke-width="2.6" stroke-linecap="butt"/>
<text transform="translate(740.8,512.4) scale(1.1,1.0)" font-family="'Liberation Sans', Arial, sans-serif" font-weight="bold" font-size="33.5" text-anchor="middle" class="th">16</text>
<line x1="821.9" y1="463.9" x2="821.9" y2="452.9" stroke="#000" stroke-width="2.6" stroke-linecap="butt"/>
<text transform="translate(820.8,512.4) scale(1.1,1.0)" font-family="'Liberation Sans', Arial, sans-serif" font-weight="bold" font-size="33.5" text-anchor="middle" class="th">18</text>
<line x1="901.8" y1="463.9" x2="901.8" y2="452.9" stroke="#000" stroke-width="2.6" stroke-linecap="butt"/>
<text transform="translate(900.7,512.4) scale(1.1,1.0)" font-family="'Liberation Sans', Arial, sans-serif" font-weight="bold" font-size="33.5" text-anchor="middle" class="th">20</text>
<line x1="981.8" y1="463.9" x2="981.8" y2="452.9" stroke="#000" stroke-width="2.6" stroke-linecap="butt"/>
<text transform="translate(980.7,512.4) scale(1.1,1.0)" font-family="'Liberation Sans', Arial, sans-serif" font-weight="bold" font-size="33.5" text-anchor="middle" class="th">22</text>
<line x1="1061.7" y1="463.9" x2="1061.7" y2="452.9" stroke="#000" stroke-width="2.6" stroke-linecap="butt"/>
<text transform="translate(1060.6,512.4) scale(1.1,1.0)" font-family="'Liberation Sans', Arial, sans-serif" font-weight="bold" font-size="33.5" text-anchor="middle" class="th">24</text>
<rect x="654.5" y="744.4" width="440.9" height="400.5" fill="none" stroke="#000" stroke-width="2.8"/>
<text transform="translate(638.8,1153.4) scale(1.12,1.0)" font-family="'Liberation Sans', Arial, sans-serif" font-weight="bold" font-size="33.5" text-anchor="end" class="th">0</text>
<line x1="651.5" y1="1044.8" x2="673.5" y2="1044.8" stroke="#000" stroke-width="4.6" stroke-linecap="butt"/>
<text transform="translate(638.8,1053.3) scale(1.12,1.0)" font-family="'Liberation Sans', Arial, sans-serif" font-weight="bold" font-size="33.5" text-anchor="end" class="th">100</text>
<line x1="651.5" y1="944.7" x2="673.5" y2="944.7" stroke="#000" stroke-width="4.6" stroke-linecap="butt"/>
<text transform="translate(638.8,953.2) scale(1.12,1.0)" font-family="'Liberation Sans', Arial, sans-serif" font-weight="bold" font-size="33.5" text-anchor="end" class="th">200</text>
<line x1="651.5" y1="844.5" x2="673.5" y2="844.5" stroke="#000" stroke-width="4.6" stroke-linecap="butt"/>
<text transform="translate(638.8,853.0) scale(1.12,1.0)" font-family="'Liberation Sans', Arial, sans-serif" font-weight="bold" font-size="33.5" text-anchor="end" class="th">300</text>
<text transform="translate(638.8,752.9) scale(1.12,1.0)" font-family="'Liberation Sans', Arial, sans-serif" font-weight="bold" font-size="33.5" text-anchor="end" class="th">400</text>
<text transform="translate(652.9,1183.4)" font-family="'Liberation Sans', Arial, sans-serif" font-weight="bold" font-size="33.5" text-anchor="middle" class="th">14</text>
<line x1="734.7" y1="1144.9" x2="734.7" y2="1133.9" stroke="#000" stroke-width="2.6" stroke-linecap="butt"/>
<text transform="translate(733.1,1183.4)" font-family="'Liberation Sans', Arial, sans-serif" font-weight="bold" font-size="33.5" text-anchor="middle" class="th">16</text>
<line x1="814.8" y1="1144.9" x2="814.8" y2="1133.9" stroke="#000" stroke-width="2.6" stroke-linecap="butt"/>
<text transform="translate(813.2,1183.4)" font-family="'Liberation Sans', Arial, sans-serif" font-weight="bold" font-size="33.5" text-anchor="middle" class="th">18</text>
<line x1="895.0" y1="1144.9" x2="895.0" y2="1133.9" stroke="#000" stroke-width="2.6" stroke-linecap="butt"/>
<text transform="translate(893.4,1183.4)" font-family="'Liberation Sans', Arial, sans-serif" font-weight="bold" font-size="33.5" text-anchor="middle" class="th">20</text>
<line x1="975.2" y1="1144.9" x2="975.2" y2="1133.9" stroke="#000" stroke-width="2.6" stroke-linecap="butt"/>
<text transform="translate(973.6,1183.4)" font-family="'Liberation Sans', Arial, sans-serif" font-weight="bold" font-size="33.5" text-anchor="middle" class="th">22</text>
<line x1="1055.3" y1="1144.9" x2="1055.3" y2="1133.9" stroke="#000" stroke-width="2.6" stroke-linecap="butt"/>
<text transform="translate(1053.7,1183.4)" font-family="'Liberation Sans', Arial, sans-serif" font-weight="bold" font-size="33.5" text-anchor="middle" class="th">24</text>
<rect x="706.0" y="1432.9" width="443.6" height="398.4" fill="none" stroke="#000" stroke-width="2.8"/>
<text transform="translate(688.5,1843.3) scale(1.08,1.0)" font-family="'Liberation Sans', Arial, sans-serif" font-weight="bold" font-size="33.5" text-anchor="end" class="th">0</text>
<line x1="706.0" y1="1751.6" x2="718.0" y2="1751.6" stroke="#000" stroke-width="2.6" stroke-linecap="butt"/>
<text transform="translate(688.5,1763.6) scale(1.08,1.0)" font-family="'Liberation Sans', Arial, sans-serif" font-weight="bold" font-size="33.5" text-anchor="end" class="th">50</text>
<line x1="706.0" y1="1671.9" x2="718.0" y2="1671.9" stroke="#000" stroke-width="2.6" stroke-linecap="butt"/>
<text transform="translate(688.5,1683.9) scale(1.08,1.0)" font-family="'Liberation Sans', Arial, sans-serif" font-weight="bold" font-size="33.5" text-anchor="end" class="th">100</text>
<line x1="706.0" y1="1592.3" x2="718.0" y2="1592.3" stroke="#000" stroke-width="2.6" stroke-linecap="butt"/>
<text transform="translate(688.5,1604.3) scale(1.08,1.0)" font-family="'Liberation Sans', Arial, sans-serif" font-weight="bold" font-size="33.5" text-anchor="end" class="th">150</text>
<line x1="706.0" y1="1512.6" x2="718.0" y2="1512.6" stroke="#000" stroke-width="2.6" stroke-linecap="butt"/>
<text transform="translate(688.5,1524.6) scale(1.08,1.0)" font-family="'Liberation Sans', Arial, sans-serif" font-weight="bold" font-size="33.5" text-anchor="end" class="th">200</text>
<text transform="translate(688.5,1444.9) scale(1.08,1.0)" font-family="'Liberation Sans', Arial, sans-serif" font-weight="bold" font-size="33.5" text-anchor="end" class="th">250</text>
<text transform="translate(705.7,1880.3) scale(1.03,1.0)" font-family="'Liberation Sans', Arial, sans-serif" font-weight="bold" font-size="33.5" text-anchor="middle" class="th">14</text>
<line x1="786.7" y1="1831.3" x2="786.7" y2="1820.3" stroke="#000" stroke-width="2.6" stroke-linecap="butt"/>
<text transform="translate(786.4,1880.3) scale(1.03,1.0)" font-family="'Liberation Sans', Arial, sans-serif" font-weight="bold" font-size="33.5" text-anchor="middle" class="th">16</text>
<line x1="867.3" y1="1831.3" x2="867.3" y2="1820.3" stroke="#000" stroke-width="2.6" stroke-linecap="butt"/>
<text transform="translate(867.0,1880.3) scale(1.03,1.0)" font-family="'Liberation Sans', Arial, sans-serif" font-weight="bold" font-size="33.5" text-anchor="middle" class="th">18</text>
<line x1="948.0" y1="1831.3" x2="948.0" y2="1820.3" stroke="#000" stroke-width="2.6" stroke-linecap="butt"/>
<text transform="translate(947.7,1880.3) scale(1.03,1.0)" font-family="'Liberation Sans', Arial, sans-serif" font-weight="bold" font-size="33.5" text-anchor="middle" class="th">20</text>
<line x1="1028.6" y1="1831.3" x2="1028.6" y2="1820.3" stroke="#000" stroke-width="2.6" stroke-linecap="butt"/>
<text transform="translate(1028.3,1880.3) scale(1.03,1.0)" font-family="'Liberation Sans', Arial, sans-serif" font-weight="bold" font-size="33.5" text-anchor="middle" class="th">22</text>
<line x1="1109.3" y1="1831.3" x2="1109.3" y2="1820.3" stroke="#000" stroke-width="2.6" stroke-linecap="butt"/>
<text transform="translate(1109.0,1880.3) scale(1.03,1.0)" font-family="'Liberation Sans', Arial, sans-serif" font-weight="bold" font-size="33.5" text-anchor="middle" class="th">24</text>
<line x1="483.0" y1="27.0" x2="483.0" y2="632.0" stroke="#000" stroke-width="2.6" stroke-linecap="butt" stroke-dasharray="13 9"/>
<line x1="842.5" y1="27.0" x2="842.5" y2="632.0" stroke="#000" stroke-width="2.6" stroke-linecap="butt" stroke-dasharray="13 9"/>
<line x1="870.5" y1="27.0" x2="870.5" y2="632.0" stroke="#000" stroke-width="2.6" stroke-linecap="butt" stroke-dasharray="13 9"/>
<line x1="879.8" y1="27.0" x2="879.8" y2="632.0" stroke="#000" stroke-width="2.6" stroke-linecap="butt" stroke-dasharray="13 9"/>
<line x1="839.5" y1="700.0" x2="839.5" y2="1312.0" stroke="#000" stroke-width="2.6" stroke-linecap="butt" stroke-dasharray="13 9"/>
<line x1="858.0" y1="700.0" x2="858.0" y2="1312.0" stroke="#000" stroke-width="2.6" stroke-linecap="butt" stroke-dasharray="13 9"/>
<line x1="870.2" y1="700.0" x2="870.2" y2="1312.0" stroke="#000" stroke-width="2.6" stroke-linecap="butt" stroke-dasharray="13 9"/>
<line x1="905.0" y1="700.0" x2="905.0" y2="1328.0" stroke="#000" stroke-width="2.6" stroke-linecap="butt" stroke-dasharray="13 9"/>
<line x1="879.3" y1="1394.0" x2="879.3" y2="2002.0" stroke="#000" stroke-width="2.6" stroke-linecap="butt" stroke-dasharray="13 9"/>
<line x1="907.8" y1="1382.0" x2="907.8" y2="2002.0" stroke="#000" stroke-width="2.6" stroke-linecap="butt" stroke-dasharray="13 9"/>
<line x1="942.0" y1="1377.0" x2="942.0" y2="2002.0" stroke="#000" stroke-width="2.6" stroke-linecap="butt" stroke-dasharray="13 9"/>
<line x1="954.8" y1="1394.0" x2="954.8" y2="2002.0" stroke="#000" stroke-width="2.6" stroke-linecap="butt" stroke-dasharray="13 9"/>
<line x1="995.5" y1="1394.0" x2="995.5" y2="2002.0" stroke="#000" stroke-width="2.6" stroke-linecap="butt" stroke-dasharray="13 9"/>
<text transform="translate(258.1,311.3) scale(1.1,1.0)" font-family="'Liberation Sans', Arial, sans-serif" font-weight="bold" font-size="64" text-anchor="start">(a)</text>
<text transform="translate(255.4,947.4) scale(1.14,1.0)" font-family="'Liberation Sans', Arial, sans-serif" font-weight="bold" font-size="64" text-anchor="start">(b)</text>
<text transform="translate(257.4,1724.4) scale(1.11,1.0)" font-family="'Liberation Sans', Arial, sans-serif" font-weight="bold" font-size="64" text-anchor="start">(c)</text>
<text transform="translate(1212.7,115.1) scale(1.046,1.0)" font-family="'Liberation Sans', Arial, sans-serif" font-weight="bold" font-size="53" text-anchor="start">PVA/XG (%)</text>
<text transform="translate(254.3,786.7) scale(1.035,1.0)" font-family="'Liberation Sans', Arial, sans-serif" font-weight="bold" font-size="54" text-anchor="start">PVA (100%)</text>
<text transform="translate(221.3,1453.3) scale(1.044,1.0)" font-family="'Liberation Sans', Arial, sans-serif" font-weight="bold" font-size="53" text-anchor="start">PVA/XG (50/50%)</text>
<text transform="translate(662.6,249.2) scale(1.09,1.0)" font-family="'Liberation Serif', 'Times New Roman', serif" font-weight="bold" font-size="56" text-anchor="start" class="sf">18.28</text>
<text transform="translate(801.4,259.1)" font-family="'Liberation Serif', 'Times New Roman', serif" font-weight="normal" font-size="69" text-anchor="start" style="stroke-width:0.4px">°</text>
<text transform="translate(866.9,139.8) scale(1.09,1.0)" font-family="'Liberation Serif', 'Times New Roman', serif" font-weight="bold" font-size="56" text-anchor="start" class="sf">19.7</text>
<text transform="translate(973.5,150.4)" font-family="'Liberation Serif', 'Times New Roman', serif" font-weight="normal" font-size="69" text-anchor="start" style="stroke-width:0.4px">°</text>
<text transform="translate(917.8,211.9) scale(1.09,1.0)" font-family="'Liberation Serif', 'Times New Roman', serif" font-weight="bold" font-size="56" text-anchor="start" class="sf">19.5</text>
<text transform="translate(1027.5,221.8)" font-family="'Liberation Serif', 'Times New Roman', serif" font-weight="normal" font-size="69" text-anchor="start" style="stroke-width:0.4px">°</text>
<text transform="translate(714.5,811.7) scale(1.09,1.0)" font-family="'Liberation Serif', 'Times New Roman', serif" font-weight="bold" font-size="56" text-anchor="start" class="sf">20.9</text>
<text transform="translate(825.7,821.6)" font-family="'Liberation Serif', 'Times New Roman', serif" font-weight="normal" font-size="69" text-anchor="start" style="stroke-width:0.4px">°</text>
<text transform="translate(906.9,905.3) scale(1.09,1.0)" font-family="'Liberation Serif', 'Times New Roman', serif" font-weight="bold" font-size="56" text-anchor="start" class="sf">21.33</text>
<text transform="translate(1045.4,915.7)" font-family="'Liberation Serif', 'Times New Roman', serif" font-weight="normal" font-size="69" text-anchor="start" style="stroke-width:0.4px">°</text>
<text transform="translate(662.6,990.5) scale(1.09,1.0)" font-family="'Liberation Serif', 'Times New Roman', serif" font-weight="bold" font-size="56" text-anchor="start" class="sf">19.2</text>
<text transform="translate(771.7,1001.7)" font-family="'Liberation Serif', 'Times New Roman', serif" font-weight="normal" font-size="69" text-anchor="start" style="stroke-width:0.4px">°</text>
<text transform="translate(777.5,1118.2) scale(1.09,1.0)" font-family="'Liberation Serif', 'Times New Roman', serif" font-weight="bold" font-size="56" text-anchor="start" class="sf">19.5</text>
<text transform="translate(887.0,1128.6)" font-family="'Liberation Serif', 'Times New Roman', serif" font-weight="normal" font-size="69" text-anchor="start" style="stroke-width:0.4px">°</text>
<text transform="translate(715.0,1534.1) scale(1.09,1.0)" font-family="'Liberation Serif', 'Times New Roman', serif" font-weight="bold" font-size="56" text-anchor="start" class="sf">18.5</text>
<text transform="translate(823.0,1544.0)" font-family="'Liberation Serif', 'Times New Roman', serif" font-weight="normal" font-size="69" text-anchor="start" style="stroke-width:0.4px">°</text>
<text transform="translate(724.3,1627.5) scale(1.09,1.0)" font-family="'Liberation Serif', 'Times New Roman', serif" font-weight="bold" font-size="56" text-anchor="start" class="sf">20.3</text>
<text transform="translate(833.9,1638.5)" font-family="'Liberation Serif', 'Times New Roman', serif" font-weight="normal" font-size="69" text-anchor="start" style="stroke-width:0.4px">°</text>
<text transform="translate(974.3,1514.9) scale(1.09,1.0)" font-family="'Liberation Serif', 'Times New Roman', serif" font-weight="bold" font-size="56" text-anchor="start" class="sf">21.9</text>
<text transform="translate(1084.5,1525.2)" font-family="'Liberation Serif', 'Times New Roman', serif" font-weight="normal" font-size="69" text-anchor="start" style="stroke-width:0.4px">°</text>
<text transform="translate(988.0,1599.4) scale(1.09,1.0)" font-family="'Liberation Serif', 'Times New Roman', serif" font-weight="bold" font-size="56" text-anchor="start" class="sf">22.1</text>
<text transform="translate(1096.1,1609.7)" font-family="'Liberation Serif', 'Times New Roman', serif" font-weight="normal" font-size="69" text-anchor="start" style="stroke-width:0.4px">°</text>
<text transform="translate(756.2,1828.0) scale(0.92,1.0)" font-family="'Liberation Serif', 'Times New Roman', serif" font-weight="normal" font-size="56" text-anchor="start" class="ns">18.01</text>
<text transform="translate(868.6,1837.4)" font-family="'Liberation Serif', 'Times New Roman', serif" font-weight="normal" font-size="69" text-anchor="start" style="stroke-width:0.4px">°</text>
<rect x="1167.8" y="292.2" width="376.4" height="207.6" fill="none" stroke="#000" stroke-width="3"/>
<rect x="1160.6" y="969.9" width="351.3" height="261.1" fill="none" stroke="#000" stroke-width="3"/>
<rect x="1196.5" y="1432.3" width="343.5" height="296.9" fill="none" stroke="#000" stroke-width="3"/>
<line x1="1195.4" y1="342.3" x2="1275.3" y2="342.3" stroke="#000" stroke-width="6" stroke-linecap="butt"/>
<line x1="1192.0" y1="396.0" x2="1281.0" y2="396.0" stroke="#000" stroke-width="6" stroke-linecap="butt" stroke-dasharray="6 8.5"/>
<line x1="1192.3" y1="451.8" x2="1265.0" y2="451.8" stroke="#000" stroke-width="6" stroke-linecap="butt" stroke-dasharray="32 7"/>
<text transform="translate(1326.7,356.6)" font-family="'Liberation Sans', Arial, sans-serif" font-weight="bold" font-size="45.5" text-anchor="start">100/0%)</text>
<text transform="translate(1326.7,409.0)" font-family="'Liberation Sans', Arial, sans-serif" font-weight="bold" font-size="45.5" text-anchor="start">80/20%</text>
<text transform="translate(1326.7,466.4)" font-family="'Liberation Sans', Arial, sans-serif" font-weight="bold" font-size="45.5" text-anchor="start">50/50%</text>
<line x1="1185.0" y1="1020.3" x2="1268.0" y2="1020.3" stroke="#000" stroke-width="6" stroke-linecap="butt"/>
<line x1="1184.0" y1="1074.0" x2="1259.0" y2="1074.0" stroke="#000" stroke-width="6" stroke-linecap="butt" stroke-dasharray="5 10"/>
<line x1="1185.0" y1="1128.0" x2="1256.0" y2="1128.0" stroke="#000" stroke-width="6" stroke-linecap="butt" stroke-dasharray="30 7"/>
<line x1="1185.0" y1="1181.3" x2="1256.0" y2="1181.3" stroke="#000" stroke-width="6" stroke-linecap="butt" stroke-dasharray="39 12 4 12"/>
<text transform="translate(1313.9,1033.6) scale(1.035,1.0)" font-family="'Liberation Sans', Arial, sans-serif" font-weight="bold" font-size="45" text-anchor="start">5 kGy</text>
<text transform="translate(1313.9,1086.9) scale(1.035,1.0)" font-family="'Liberation Sans', Arial, sans-serif" font-weight="bold" font-size="45" text-anchor="start">10 kGy</text>
<text transform="translate(1313.9,1139.0) scale(1.035,1.0)" font-family="'Liberation Sans', Arial, sans-serif" font-weight="bold" font-size="45" text-anchor="start">15 kGy</text>
<text transform="translate(1313.9,1194.7) scale(1.035,1.0)" font-family="'Liberation Sans', Arial, sans-serif" font-weight="bold" font-size="45" text-anchor="start">20 kGy</text>
<line x1="1221.0" y1="1481.0" x2="1308.6" y2="1481.0" stroke="#000" stroke-width="6" stroke-linecap="butt"/>
<line x1="1221.0" y1="1532.0" x2="1305.0" y2="1532.0" stroke="#000" stroke-width="6" stroke-linecap="butt" stroke-dasharray="56 22 5 20"/>
<line x1="1223.7" y1="1582.4" x2="1304.0" y2="1582.4" stroke="#000" stroke-width="6" stroke-linecap="butt" stroke-dasharray="44 15 21 10"/>
<line x1="1223.7" y1="1631.2" x2="1293.3" y2="1631.2" stroke="#000" stroke-width="6" stroke-linecap="butt" stroke-dasharray="27 14"/>
<line x1="1224.0" y1="1682.0" x2="1294.0" y2="1682.0" stroke="#000" stroke-width="6" stroke-linecap="butt" stroke-dasharray="4 12.5"/>
<text transform="translate(1344.9,1490.8) scale(1.04,1.0)" font-family="'Liberation Sans', Arial, sans-serif" font-weight="bold" font-size="40.5" text-anchor="start">5 kGy</text>
<text transform="translate(1344.9,1542.7) scale(1.04,1.0)" font-family="'Liberation Sans', Arial, sans-serif" font-weight="bold" font-size="40.5" text-anchor="start">10 kGy</text>
<text transform="translate(1344.9,1594.6) scale(1.04,1.0)" font-family="'Liberation Sans', Arial, sans-serif" font-weight="bold" font-size="40.5" text-anchor="start">15 kGy</text>
<text transform="translate(1344.9,1645.4) scale(1.04,1.0)" font-family="'Liberation Sans', Arial, sans-serif" font-weight="bold" font-size="40.5" text-anchor="start">20 kGy</text>
<text transform="translate(1344.9,1695.0) scale(1.04,1.0)" font-family="'Liberation Sans', Arial, sans-serif" font-weight="bold" font-size="40.5" text-anchor="start">25 kGy</text>
<text transform="translate(40.3,1169.5) rotate(-90) scale(1.0,1.18)" font-family="'Liberation Sans', Arial, sans-serif" font-weight="bold" font-size="49.4" text-anchor="start">Intensity (a.u)</text>
<text transform="translate(816.6,2136.3)" font-family="'Liberation Sans', Arial, sans-serif" font-weight="bold" font-size="50" text-anchor="start">2</text>
<text transform="translate(849.6,2136.3) scale(1.3,1.0)" font-family="'Liberation Sans', Arial, sans-serif" font-weight="normal" font-size="50" text-anchor="start" class="ns">θ</text>
<text transform="translate(892.5,2136.3)" font-family="'Liberation Sans', Arial, sans-serif" font-weight="bold" font-size="50" text-anchor="start">(</text>
<text transform="translate(912.0,2117.9)" font-family="'Liberation Sans', Arial, sans-serif" font-weight="bold" font-size="50" text-anchor="start">o</text>
<text transform="translate(946.8,2136.3)" font-family="'Liberation Sans', Arial, sans-serif" font-weight="bold" font-size="50" text-anchor="start">)</text>
<rect x="1604" y="0" width="6" height="2144" fill="#fff"/></svg></body></html>
